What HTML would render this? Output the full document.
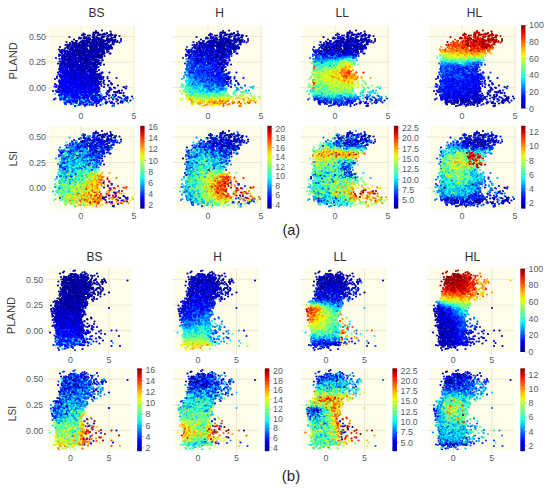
<!DOCTYPE html><html><head><meta charset="utf-8"><style>html,body{margin:0;padding:0;background:#fff;}svg{display:block}</style></head><body><svg width="550" height="488" viewBox="0 0 550 488" font-family='"Liberation Sans", sans-serif'><defs><clipPath id="cB13"><rect x="430.3" y="368.0" width="84.0" height="82.0"/></clipPath><clipPath id="cB12"><rect x="303.0" y="368.0" width="84.0" height="82.0"/></clipPath><clipPath id="cB11"><rect x="175.0" y="368.0" width="84.0" height="82.0"/></clipPath><clipPath id="cB10"><rect x="47.5" y="368.0" width="84.0" height="82.0"/></clipPath><clipPath id="cB03"><rect x="430.3" y="268.0" width="84.0" height="83.5"/></clipPath><clipPath id="cB02"><rect x="303.0" y="268.0" width="84.0" height="83.5"/></clipPath><clipPath id="cB01"><rect x="175.0" y="268.0" width="84.0" height="83.5"/></clipPath><clipPath id="cB00"><rect x="47.5" y="268.0" width="84.0" height="83.5"/></clipPath><clipPath id="cA13"><rect x="430.0" y="126.0" width="86.0" height="83.0"/></clipPath><clipPath id="cA12"><rect x="303.0" y="126.0" width="86.0" height="83.0"/></clipPath><clipPath id="cA11"><rect x="176.0" y="126.0" width="86.0" height="83.0"/></clipPath><clipPath id="cA10"><rect x="49.0" y="126.0" width="86.0" height="83.0"/></clipPath><clipPath id="cA03"><rect x="430.0" y="25.5" width="86.0" height="83.0"/></clipPath><clipPath id="cA02"><rect x="303.0" y="25.5" width="86.0" height="83.0"/></clipPath><clipPath id="cA01"><rect x="176.0" y="25.5" width="86.0" height="83.0"/></clipPath><clipPath id="cA00"><rect x="49.0" y="25.5" width="86.0" height="83.0"/></clipPath><linearGradient id="jet" x1="0" y1="0" x2="0" y2="1"><stop offset="0.000" stop-color="#800000"/><stop offset="0.062" stop-color="#c40000"/><stop offset="0.125" stop-color="#ff1e00"/><stop offset="0.188" stop-color="#ff5900"/><stop offset="0.250" stop-color="#ff9400"/><stop offset="0.312" stop-color="#ffd000"/><stop offset="0.375" stop-color="#e4ff13"/><stop offset="0.438" stop-color="#b1ff46"/><stop offset="0.500" stop-color="#7dff7a"/><stop offset="0.562" stop-color="#49ffad"/><stop offset="0.625" stop-color="#16ffe1"/><stop offset="0.688" stop-color="#00c1ff"/><stop offset="0.750" stop-color="#0081ff"/><stop offset="0.812" stop-color="#0041ff"/><stop offset="0.875" stop-color="#0001ff"/><stop offset="0.938" stop-color="#0000c8"/><stop offset="1.000" stop-color="#000080"/></linearGradient></defs><rect x="49.0" y="25.5" width="86.0" height="83.0" fill="#fdfde9"/><path d="M45.5 87.6H135.0M45.5 62.1H135.0M45.5 36.6H135.0M81.0 25.5V112.0M134.0 25.5V112.0" stroke="#ece6c8" stroke-width="0.9" fill="none"/><text x="46.0" y="90.7" font-size="8.8" fill="#4f5d64" text-anchor="end">0.00</text><text x="46.0" y="65.2" font-size="8.8" fill="#4f5d64" text-anchor="end">0.25</text><text x="46.0" y="39.7" font-size="8.8" fill="#4f5d64" text-anchor="end">0.50</text><text x="81.0" y="118.8" font-size="8.8" fill="#4f5d64" text-anchor="middle">0</text><text x="134.0" y="118.8" font-size="8.8" fill="#4f5d64" text-anchor="middle">5</text><g clip-path="url(#cA00)"><g transform="scale(.5)" fill="none" stroke-width="4.48" stroke-linecap="round"><path stroke="#0024ff" d="M128 159zm1 6zm5-1zm-13 11zm8 1zm6 0zm5-5zm1 8zm13-7zm7 0zm3 4zm4 1zm11 0zm-52 13zm5-10zm10 1zm2-1zm10 4zm-33 16zm1-1zm5-1zm6-6zm8 1zm0 5zm10 0zm6-4zm5 0zm3 3zm6-2zm0 4zm12-1zm-33 14zm14-8zm7 0zm5 1z"/><path stroke="#0091ff" d="M123 190zm39 0zm19 17z"/><path stroke="#0049ff" d="M129 202zm13-4zm2 2z"/><path stroke="#0000bb" d="M209 67zm21 4zm-91 3zm20 1zm8 8zm0-2zm21 1zm2-4zm8 1zm3 3zm5 1zm4-1zm0 1zm9 0zm7-3zm13-8zm-119 22zm13-10zm1 10zm3-3zm8-4zm3-1zm2 8zm7-3zm3-6zm5 2zm6 4zm3 0zm6-5zm2 8zm3-4zm5 0zm12 4zm6 0zm11-1zm6-5zm2 1zm-103 15zm2-4zm1 3zm9 2zm4-6zm0 5zm5 0zm11 3zm6-3zm0 2zm4-2zm1-3zm0-3zm2 5zm1-2zm2 4zm1-1zm1-6zm0 6zm6-3zm5-4zm1 4zm1 3zm0-4zm0-4zm9 1zm4-1zm8 9zm0-2zm0 2zm4-7zm3-2zm-91 16zm5 4zm5-3zm2 6zm1-5zm1-2zm1 5zm0-3zm5 4zm2-1zm2 1zm1-6zm0 3zm4 2zm7-1zm2-3zm1 2zm4-4zm3 8zm3-9zm1 1zm1-1zm2 6zm0-3zm7-3zm1-1zm0 8zm1-1zm2 3zm15-11zm-83 23zm1-8zm0 5zm0 2zm3-2zm1-7zm6 6zm9-5zm5 1zm3-2zm0 7zm2-2zm3 2zm0-7zm5 9zm1-10zm2 4zm2 2zm2 4zm2-4zm0-5zm4 7zm2-8zm4 2zm2 7zm8-3zm1 2zm1-4zm2-2zm6 5zm2 1zm-76 10zm2 4zm4-5zm1 0zm2 2zm11-1zm1 5zm1-7zm4 6zm6-2zm1-6zm3 3zm0 5zm3 0zm0-1zm5-9zm1 11zm0-4zm3-7zm3 0zm5 1zm1 5zm0 5zm2-8zm3 2zm4-5zm0 4zm1 7zm2-7zm2 7zm-70 8zm5 0zm2-3zm0-3zm5 1zm3 1zm2-2zm15 1zm1-2zm1 4zm0 0zm0 1zm2-5zm1 10zm0-6zm0-3zm5 7zm0 1zm2-8zm4-1zm0 7zm5-1zm2-1zm1-1zm1 4zm1 1zm0-9zm2 8zm2 1zm0-3zm3 4zm12 0zm-63 3zm3 4zm7 0zm5 3zm12-1zm5-4zm6 6zm5-7zm5 0zm1 3zm0 2zm7-1zm0 3zm1-3zm0 1zm1 3zm3-10zm3 7zm5 1zm12-2zm-94 17zm24-11zm3 8zm29-3zm6 6zm0-11zm1 10zm7-9zm1 3zm20-2zm7-1zm-90 13zm40 4zm6-3zm5-1zm29 4zm25-3zm9 3zm-74 12zm24 5zm2-6zm54 1zm-41 9zm29-2z"/><path stroke="#00d9ff" d="M131 188zm42-1zm-34 8zm19 1zm2 5zm2-3zm15 0zm3-4zm8 3zm39-4zm-73 12zm90 1z"/><path stroke="#0001ff" d="M138 131zm8-3zm-12 5zm26 3zm7 3zm-46 12zm8 0zm1-5zm14 1zm5 3zm4-2zm1 1zm14 0zm11 1zm10-2zm-70 12zm3 2zm5-2zm0 3zm7-7zm3 8zm12-1zm2-7zm1 11zm1-7zm0 7zm2-4zm1 1zm1-3zm1 1zm2 1zm9-5zm2 2zm0 6zm-48 3zm2 3zm0-2zm4 4zm0-1zm0-4zm4 7zm1 2zm0-9zm3 1zm0 3zm0 2zm5-4zm1 2zm2 0zm1 4zm0-3zm3-4zm0 7zm1-9zm2 8zm0-1zm5-2zm2-3zm2 3zm1-1zm0 1zm17 2zm9 0zm0-5zm-69 15zm2 4zm2-7zm3 2zm3-3zm2 6zm1-4zm0-1zm2 7zm0-2zm1-2zm1 2zm0-3zm0 3zm1 4zm5-10zm2 0zm2 2zm2 7zm0-1zm3-3zm1-3zm1-1zm5 4zm2 3zm1-9zm6 0zm11 8zm10-1zm5-7zm-65 19zm1-4zm0 1zm3 2zm2-4zm4-2zm1 3zm0 0zm2 2zm0 1zm3-3zm4-2zm1 8zm2-1zm0 3zm1-5zm1-4zm5 1zm1 4zm0-6zm1 4zm1 4zm0-6zm0 6zm2 1zm5-5zm7-5zm1 3zm4-1zm4 3zm8-3zm41 9zm4-9zm-90 11zm20 4zm13-4zm2 0zm46 2z"/><path stroke="#16ffe1" d="M180 188z"/><path stroke="#00b5ff" d="M167 190zm2 1zm26 11zm71-5zm-21 7z"/><path stroke="#0000e3" d="M179 76zm50 7zm-75 11zm-22 8zm3 0zm17 0zm20-1zm-60 15zm6-7zm16 9zm1 0zm7-1zm1 1zm3 1zm3-2zm2-4zm6 6zm4-7zm18 0zm-60 11zm10 5zm4 2zm3-9zm4-1zm7 11zm13-1zm2-3zm13-6zm3 5zm4-6zm13 2zm3 5zm-78 6zm7 8zm2 1zm1-4zm0-2zm1 6zm2-9zm0-1zm6 4zm1-2zm1 4zm7 5zm2-8zm3 8zm4-3zm3 0zm0 3zm3-7zm4 6zm7-7zm1 0zm5-2zm1 7zm4 1zm-59 5zm3 4zm1 1zm4 1zm2 2zm0 1zm1-7zm1-4zm1 5zm1 4zm2-1zm0-4zm1-3zm0 9zm5-1zm2-2zm3-5zm0 0zm0 4zm1 3zm3-1zm1-5zm0 1zm2 1zm2 0zm1 6zm1-7zm1 1zm0 0zm15 4zm4-6zm17 4zm-82 14zm3 0zm5-6zm1 8zm1-11zm1 0zm4 6zm0-1zm0 6zm2-7zm4-2zm1 3zm0-5zm5 7zm1-6zm1 10zm1-4zm2 2zm0-8zm1-1zm1 8zm1-5zm9-3zm0 2zm1 2zm2 7zm0 0zm1-7zm0 4zm1-2zm2-4zm4 6zm0 1zm1-2zm4-7zm11 4zm17 6zm11-4zm-98 8zm1 2zm2 2zm4 3zm3-1zm8 3zm7-6zm0 3zm1-3zm3-1zm1-3zm2 7zm1-7zm4 4zm1 4zm2-2zm1 0zm1-7zm3 3zm1-2zm10 1zm0 3zm1 4zm3 2zm1-7zm0 1zm2-2zm0-3zm2 9zm0-6zm2 8zm0-2zm2 0zm1 2zm0-8zm1 6zm4-1zm2-2zm1 1zm25 4zm7-3zm-124 6zm20-2zm1 3zm3 7zm4-7zm0-2zm2 0zm2 9zm1-3zm2-4zm5 3zm1-3zm0 6zm3-6zm1 3zm1-2zm1 1zm4-2zm8-2zm6 8zm4 1zm4 0zm1-1zm0-7zm5 0zm0 5zm0-3zm1 3zm3-2zm0-1zm6 1zm19 4zm1-2zm4-7zm19 1zm6 0zm-136 18zm16-5zm11 8zm5-10zm1 5zm7-4zm2-1zm9 3zm17 2zm1 3zm3-6zm14 5zm2-3zm2 6zm3-5zm0 2zm7-5zm3 5zm7-2zm31 4zm1-2zm-102 6zm38 5zm8-6zm20 1zm8 1z"/><path stroke="#000092" d="M164 70zm12 1zm12-1zm3-3zm1-5zm4 4zm5 3zm3-8zm7 8zm-50 7zm10-1zm4 5zm13-6zm0-2zm17 7zm2 2zm0 0zm2-8zm0 8zm5-2zm2-7zm5 6zm-90 12zm4-1zm5 0zm3 4zm1-1zm1 0zm2-5zm0 3zm6-3zm4 5zm6 2zm1-10zm1 2zm4 6zm3 2zm1-1zm0-6zm4-3zm3 1zm1 5zm2 1zm1-6zm0 10zm1 0zm1-10zm1-1zm3 4zm4 7zm0-3zm7-6zm1 3zm3-5zm1 2zm2 8zm0-6zm1 7zm2-3zm2 2zm5-9zm5 10zm4-7zm0-3zm-100 17zm7 5zm8-1zm5-1zm0-6zm0 2zm17 3zm0-1zm1-1zm1-6zm1 0zm1 3zm1 5zm1 2zm1-5zm3-3zm3 8zm1-1zm4-7zm0 0zm2 8zm0-8zm2 5zm6 2zm8-2zm0-6zm0 1zm1-1zm3 3zm3-1zm10 4zm4 4zm-96 4zm3 0zm7-1zm4-2zm10 4zm1 0zm10-4zm8 2zm1 8zm1-5zm3-1zm2 7zm0-1zm3-8zm1 9zm2-10zm3 7zm0-2zm7-2zm0-3zm5 5zm3 2zm4-4zm1-1zm2-3zm3 4zm-83 14zm15-1zm10 0zm8-3zm0-1zm4 5zm2 1zm9 2zm1-6zm8 1zm7 3zm5-3zm1-4zm2 5zm7-4zm-80 16zm48-4zm8 2zm0 1zm2 5zm8-6zm0-2zm1 4zm-26 10zm16 2zm7-4zm5 8zm0-2zm-38 7zm2 1zm31-1zm4 2zm-22 18zm6-4zm17 3zm55 22z"/><path stroke="#000092" d="M180 71zm7-3zm5-3zm4 0zm3 4zm15-3zm4 4zm3-7zm-67 19zm11-1zm1 2zm5-1zm2-4zm5 1zm1-1zm1 1zm5-5zm3-1zm1 3zm2 4zm1 2zm6-5zm2 5zm1-2zm1 3zm0-5zm6 3zm6-4zm1-4zm0 6zm1 4zm0-5zm9 4zm3 1zm0-8zm2-1zm1 5zm4 3zm7-4zm-106 14zm1 2zm8-5zm1-2zm1 0zm2 3zm3 2zm0 3zm1-5zm0-6zm5 7zm6-2zm2 1zm0-5zm1 5zm4 3zm1-6zm1 8zm8-10zm0 9zm1-4zm1-1zm0 3zm2 3zm1-10zm3 3zm3 5zm2-8zm0 5zm1 0zm0-5zm3 6zm0 1zm3-7zm0 0zm1 4zm2 6zm1-11zm0 11zm1-4zm1-7zm2 11zm2 0zm0-7zm5 3zm9-7zm4 0zm-108 20zm9 0zm2 2zm4-9zm1 9zm6 1zm2-11zm2 3zm0-3zm1 7zm2 4zm0-5zm1-2zm4 3zm8-2zm3 1zm1 4zm4-7zm9-3zm2 3zm1 5zm3-2zm0-5zm3 8zm3-4zm1 2zm10-3zm3 2zm10-4zm1 1zm1-1zm-92 16zm3 0zm14-5zm6 1zm2-2zm4 7zm2 2zm9 0zm3-3zm5 4zm0-9zm2 7zm5-1zm8-7zm0 11zm2-10zm7 2zm-70 11zm1 4zm1-5zm9 1zm1 2zm3 5zm6-2zm13 4zm3-2zm0 2zm2-2zm5-1zm3-3zm17 5zm1-10zm1 3zm0 2zm-66 12zm26 1zm10 1zm11-7zm17 5zm0 0zm-45 12zm54 5zm2 1zm2-10zm-5 19zm22 2zm-51 2zm65 39z"/><path stroke="#0000bb" d="M170 69zm44-2zm7 4zm-60 6zm10 5zm2-8zm4 3zm0 6zm11-1zm1-10zm7 6zm24 2zm-75 4zm8 7zm7 3zm5-2zm1-1zm2 0zm0-5zm5 2zm1 3zm2-7zm3 3zm0 5zm4-7zm1 5zm0 0zm1 2zm0-8zm1 8zm1-1zm2 4zm7-6zm3-4zm7 9zm4-1zm2-2zm8 2zm-102 6zm5 4zm5-2zm1 2zm1 4zm6-2zm1-2zm11 2zm1-4zm1 1zm1-2zm1 0zm0 2zm0 2zm2 1zm0-9zm9 9zm1-3zm17 3zm3-4zm2 4zm1-5zm0-4zm2 6zm2 0zm0-2zm5 7zm8-11zm4 11zm1 0zm15-10zm-100 21zm0-3zm3 4zm1-1zm1-6zm5-3zm4 8zm0-5zm1 2zm1 1zm0-3zm2 4zm2-5zm0 4zm1 4zm1-11zm1 9zm0-6zm9-3zm2 7zm1-3zm0 7zm4-4zm1 3zm1-7zm1 0zm2 7zm2-1zm1-8zm2 4zm0 1zm1-2zm1 0zm1 2zm2 5zm1-6zm3 0zm2-4zm4 6zm0-4zm1 6zm4-3zm0 4zm2-4zm0-1zm2-2zm3 5zm2-3zm-79 11zm3 0zm2-4zm0 2zm4 5zm3-5zm0 3zm1-2zm1-3zm1 11zm1-6zm2-3zm2 9zm1 0zm0-6zm5 3zm2 3zm1-11zm0 7zm3 4zm3-8zm6 8zm9-3zm2-1zm4 4zm6-3zm1-3zm4 0zm1-4zm1-1zm2 9zm0-9zm1 8zm4-7zm-80 22zm1-7zm2 5zm0-9zm1 0zm2 11zm7-11zm0 6zm14-1zm0-2zm1 4zm4-6zm8 0zm0 0zm6 1zm1 8zm2-2zm1-5zm0 0zm1 7zm5-2zm1-2zm2 3zm0-7zm6 7zm1-9zm1 8zm1-8zm2 3zm1 4zm1 1zm1-8zm0 6zm1-5zm1 2zm-73 9zm0 5zm8-5zm4 6zm0-5zm1 1zm3-2zm0 10zm2 0zm2-6zm1 5zm7 1zm2 1zm7-4zm3-4zm1 0zm1 8zm3-9zm7 3zm0 3zm0-5zm8-2zm0 3zm1 4zm0-8zm6 4zm1 5zm1-1zm0 2zm0-1zm2-3zm3-2zm3 3zm21-6zm-58 12zm5 7zm11 3zm4-1zm1-7zm0 7zm2-10zm3 0zm3 2zm0 5zm2-1zm2-6zm0 3zm-74 9zm35 0zm5 6zm22-5zm6 8zm14-9zm1 4zm-34 11zm0-3zm9 6zm9 1zm3-4zm1-3zm24 2zm3 2zm16 1zm-33 12zm4-2zm38 2zm0 5zm-15 9z"/><path stroke="#00b5ff" d="M187 188zm-53 7zm26 5zm1-8zm0 0zm5 0zm17 5zm0-3zm-9 16z"/><path stroke="#0001ff" d="M139 117zm-5 12zm-11 10zm3-3zm2-3zm4 8zm2-2zm2 2zm17 2zm2-1zm-34 10zm3-7zm3 1zm5 6zm0-6zm2-1zm1 6zm2 3zm9-6zm0-2zm21 9zm19-1zm-72 2zm5 7zm3 0zm1-7zm4 6zm1-2zm2-1zm4 3zm2-4zm1 2zm1 6zm1-1zm1-9zm5 8zm0-4zm1 2zm0-1zm4 1zm4-6zm1 3zm1-1zm7 4zm0 3zm7-6zm2 1zm1 5zm4-3zm-68 11zm4 1zm11-4zm1-1zm1 9zm1-6zm0 2zm4-6zm1 7zm1 0zm0-4zm2-2zm2 8zm3-9zm0 5zm1 0zm0-3zm1-2zm1 6zm1-5zm2 10zm1-7zm0-1zm5-1zm1 2zm1 1zm1 1zm0 5zm1-8zm3 4zm1-7zm0 8zm2 1zm1-8zm3 0zm3 8zm6-6zm2-2zm0 2zm1-2zm4 5zm0 4zm2-3zm9-3zm26 3zm5-7zm-101 12zm4 3zm0 2zm1-3zm4 4zm3 1zm0-6zm3 10zm0-4zm6-5zm1 9zm0-1zm6-5zm1 0zm0 1zm2 3zm0-3zm0 5zm2-9zm1 4zm5-6zm1 5zm1-3zm1 3zm4-2zm1-3zm3 2zm8 3zm0-1zm1-4zm3 7zm4-3zm2 7zm-72 1zm4 1zm3 5zm4-2zm0 4zm1-4zm3-3zm3 10zm4-7zm2 4zm0-5zm3 7zm4-8zm10 5zm1-5zm0 2zm1 4zm1-6zm3 1zm3 4zm1 1zm0-4zm4 5zm1-8zm0 2zm3 7zm9-1zm7-2zm0 0zm-52 6zm0 3zm9-3zm8 3zm8-2zm1-2zm2 8zm13-3z"/><path stroke="#00d9ff" d="M177 191zm-17 8zm1-6zm3 1zm25 1zm-42 11zm29 1z"/><path stroke="#0049ff" d="M157 179zm-1 2zm4 23z"/><path stroke="#0000e3" d="M195 71zm10 4zm-11 11zm-74 16zm59 4zm24-2zm-74 8zm3 5zm4-4zm4-5zm46 5zm-60 13zm1 0zm4 3zm1 2zm3-5zm1 0zm3 5zm2 0zm8-3zm4-1zm1 4zm14-11zm1 4zm6-1zm3 8zm7-3zm-67 10zm12-5zm1 7zm3-4zm2-4zm3 0zm1 5zm2 0zm2 4zm5 1zm8-5zm14 0zm12 0zm3 5zm-72 11zm2-8zm1 4zm2 0zm5 5zm6-5zm3 4zm2-9zm0 1zm2 7zm2-5zm0 4zm0-3zm1 0zm0 3zm5-7zm0 4zm1 2zm2 3zm2-3zm0 3zm0-1zm2-1zm0-3zm3-2zm1 2zm2 7zm3-9zm0 8zm1-6zm6 0zm2 6zm0-2zm1 0zm1-5zm0 6zm2-4zm2 1zm2 3zm0-9zm1 5zm3 2zm1-4zm2 3zm3-4zm1 8zm1-8zm-67 17zm1-4zm4-1zm0 9zm1-2zm3-6zm5-3zm3 10zm5-10zm4 6zm2-2zm1-1zm2 8zm2-7zm2 7zm1-5zm2 1zm1-4zm0 2zm1-5zm3 0zm1 9zm0-5zm2 0zm7 3zm2 1zm1 3zm1-11zm1 3zm1 1zm2-4zm2 4zm3 4zm0 2zm14-7zm3-2zm2 4zm-84 14zm2 3zm0-9zm2 9zm1-6zm5 0zm3 7zm1 0zm7-3zm0 3zm0-2zm2-4zm1 4zm3-2zm1-6zm1 10zm0-3zm1 2zm2-7zm0-2zm0 1zm6 5zm5 1zm2-4zm0-2zm2 5zm0 1zm1-2zm0 5zm3-1zm5 0zm6 0zm1-3zm1 0zm2 1zm3 2zm2-2zm0-4zm1-2zm20 1zm-87 15zm2-1zm1 1zm9 4zm3-7zm1 5zm3-1zm1 2zm1-4zm2 6zm2-9zm0 8zm0-8zm2 8zm4-2zm1-6zm0 5zm3 2zm3-6zm1 6zm9-9zm0 0zm1 5zm2-5zm2 5zm2-5zm2 11zm4-4zm7-5zm2 8zm20 1zm0-10zm-97 12zm3 3zm21 0zm10-4zm0 4zm4 3zm2 1zm7-8zm1 5zm6 0zm7-1zm4 4zm2-6zm1 8zm0-10zm0 9zm11-8zm18 10zm7-4zm23 0zm2 1zm1-4zm-113 9zm51 0zm11 5z"/><path stroke="#0024ff" d="M131 147zm4 5zm0 1zm1 12zm5-4zm-15 8zm-3 14zm3-3zm3 5zm4-4zm8 3zm3-3zm7 1zm18 4zm4 5zm6-8zm-46 19zm5-4zm0-5zm2 7zm5-3zm1 1zm2 2zm4-1zm4-3zm6 2zm26 1zm14 3zm-72 5zm13-1zm18 3zm2-2z"/><path stroke="#00d9ff" d="M110 188zm71 3zm8-1zm13-3zm-81 6zm2 4zm1-3zm6-1zm33-1zm15 2zm1 1zm74 5zm-48 8z"/><path stroke="#0049ff" d="M134 187zm11 9zm2 5zm18 0zm-36 4z"/><path stroke="#0000e3" d="M224 77zm-56 14zm14-5zm-36 16zm15-3zm9 1zm12-2zm5 2zm17-2zm-78 17zm7-7zm5 11zm2-2zm5 1zm6-3zm10 4zm1-7zm11 0zm-51 16zm9-7zm0 8zm2 2zm4-7zm4 4zm0-8zm2 9zm4-3zm1 5zm0-6zm0-1zm14 4zm5-4zm0 0zm1-3zm0 3zm3-4zm1 2zm0 9zm29-1zm1-5zm-82 16zm2 1zm1-10zm1 3zm2 5zm0-5zm4-1zm3 5zm1 3zm1 0zm4-5zm1 5zm0-1zm5-9zm2 2zm0 1zm2 0zm2 4zm1 0zm1-4zm4 1zm2-2zm2 5zm1 0zm3-2zm2-2zm0 0zm5 2zm5-3zm4 3zm1 1zm1 3zm0-1zm6 2zm1-5zm2-1zm5-2zm-75 15zm4 2zm4-3zm3 3zm0-7zm1 4zm1-1zm1-3zm3 11zm6-7zm2 3zm0-4zm4 6zm3-7zm2 9zm1-6zm1 5zm1-2zm0-6zm5 7zm1 1zm6-2zm1-2zm1-4zm1 7zm0-6zm3 8zm7 0zm0-9zm1-1zm2 4zm12 1zm1 5zm-90 3zm14 2zm4 3zm2-7zm0 8zm2 2zm5-3zm3 2zm2-6zm0 0zm3-1zm2 9zm0-5zm3-4zm1-1zm2 2zm2 0zm1-3zm0 5zm4 2zm3 1zm4-2zm3-4zm1 1zm2 2zm1 2zm1-2zm1-5zm4 7zm1-7zm0 5zm1 0zm1 4zm7-9zm1 1zm2 2zm7-1zm-82 16zm12-2zm4 1zm3 3zm9-4zm1 1zm2 0zm9-1zm4 2zm0-3zm2 6zm1-4zm1 3zm1-5zm1 7zm2-7zm1 5zm0-8zm2 7zm1-2zm1-4zm6 4zm1 5zm0-6zm1-4zm2 5zm5-2zm1-1zm0-2zm2 9zm28 0zm32-4zm-140 10zm1 1zm2-1zm2 7zm5-10zm3 10zm2-8zm2 0zm1-2zm0 6zm5-1zm14-5zm4 6zm2-1zm2-1zm1 1zm13 0zm5 0zm11 6zm0-11zm1 5zm1 4zm4-2zm0 1zm9 3zm-68 4zm0 1zm0 6zm9-10zm5 6zm20-1zm9-5zm6 1zm2-1zm0 9zm1 2zm4-1zm22 1zm14-7zm3-3zm3 5zm12 5zm10-9zm9-1zm-100 11zm7 5zm22 3zm29-6zm2 0zm0-2z"/><path stroke="#000092" d="M166 70zm21-1zm0-4zm0 5zm0-1zm12 1zm6-1zm-61 14zm4-4zm10-2zm3-1zm1 7zm5-7zm3 1zm1-1zm2 6zm1-4zm1 4zm5-4zm13 1zm0-5zm1 2zm4 5zm5-2zm0 1zm4 2zm10-5zm3 3zm2 0zm1-2zm1 2zm3 3zm3-3zm-95 12zm5-6zm8 2zm7 1zm2-1zm3 2zm2 1zm0 2zm3-5zm1-3zm6 5zm1-4zm1 3zm1-3zm1-1zm3 0zm0 7zm1-5zm0 7zm4 0zm1-9zm3 7zm0-1zm3 3zm9-2zm1-3zm1 3zm3-6zm1 3zm7-1zm1 4zm0-6zm1 3zm2 5zm17-10zm5 1zm-117 20zm20-8zm0 3zm0 1zm1-3zm0 3zm2-2zm2 1zm4 0zm1 2zm1-6zm1 6zm2-3zm1 7zm2-10zm1 6zm2 2zm0-7zm3 5zm1 2zm1 3zm3-3zm1-8zm0 2zm5 2zm1 5zm4-6zm1-3zm1 4zm5 4zm9-5zm9 0zm1 1zm0-4zm0 10zm4-10zm3 4zm5 7zm-87 10zm2-5zm1-3zm8 3zm14 7zm4-7zm4-4zm5 4zm2 4zm2 3zm5-1zm4-4zm3-5zm6 5zm8-5zm4 4zm-66 8zm11 0zm3 3zm9 1zm10-4zm2 6zm4 0zm5-3zm5 7zm7-1zm11-10zm-41 23zm1-1zm5 1zm4-6zm8-1zm2 3zm3-7zm-35 18zm21-6zm14 6zm3-6zm5 5zm-17 30zm11-7zm2 6zm5-3zm39 8zm12 8zm14 10z"/><path stroke="#0001ff" d="M179 111zm-57 19zm16-2zm-18 10zm5 3zm0 0zm5-5zm11 3zm18-1zm-37 15zm3 0zm1-6zm1 6zm14 1zm1-4zm0-6zm2 9zm0-7zm3 4zm6-6zm12 10zm7-9zm-48 15zm2 7zm1-5zm2 4zm4-2zm4-3zm7 4zm8-5zm3-2zm5 9zm1-6zm5 6zm2-9zm8 6zm4 1zm-63 12zm7 0zm1-6zm4 2zm6-3zm2 0zm3 3zm1 3zm1 1zm2-5zm2 4zm0-7zm1 3zm3 2zm0-6zm2 11zm6-11zm1 4zm1 1zm0 3zm1-5zm0 8zm3-8zm1 7zm0-7zm3 2zm2 0zm2-4zm3 0zm3 6zm3 3zm0-2zm6 3zm-68 3zm0-2zm2 1zm2 4zm5 6zm0-5zm1-3zm1 5zm1-1zm0 1zm10-5zm1 7zm2 1zm1-3zm1-6zm0 0zm3 5zm1-5zm1 3zm2-4zm0 6zm4-4zm3 8zm3-7zm1 7zm1-7zm1 4zm1 3zm1-11zm0 0zm2 0zm3 11zm5-6zm2 4zm2 1zm4-6zm1-4zm5 4zm3 1zm4-2zm27 7zm-115 7zm20 1zm1-4zm3 1zm14 6zm5-7zm4-2zm1 2zm5 3zm0-1zm7 4zm0 3zm2-7zm0-4zm1 0zm2 3zm6 0zm1 4zm0-1zm3 0zm2 3zm4 1zm12-3zm45-7zm6 5zm-124 8zm29 2zm19-2zm5 0zm2-1zm1 3zm11-3z"/><path stroke="#00b5ff" d="M126 189zm33 1zm34 0zm-60 8zm42 6zm11 0z"/><path stroke="#0000bb" d="M165 83zm4-2zm0 1zm19-10zm19 2zm8-2zm2 7zm-78 12zm7-3zm4 5zm1-6zm5 7zm2 0zm5 0zm4-3zm1 0zm0 3zm4-3zm2-2zm3 2zm4 3zm1-1zm1-5zm2-2zm1 5zm8-5zm19 3zm-76 8zm2 7zm3-4zm1 7zm1-9zm1 7zm7-8zm1 10zm0-9zm4 3zm2 4zm3-3zm2 2zm5 0zm11 0zm1-3zm5-2zm2 4zm5-6zm2 5zm1-4zm0 7zm4-8zm1 6zm4-1zm-86 16zm2-8zm6 1zm1 7zm0-7zm0 6zm9 0zm3 1zm2-7zm2 3zm2 1zm2 0zm2 0zm0-1zm0 3zm13-1zm0-2zm7-3zm8 4zm0-7zm1 2zm3 2zm3 5zm1-8zm1 3zm3 1zm2-5zm0 2zm6 2zm-77 16zm1 2zm6-8zm2 7zm3 1zm1-1zm0-9zm0 10zm3-7zm0 5zm12-1zm4-6zm2 8zm5 2zm1-11zm1 2zm7-2zm5 4zm3 7zm1-8zm0 3zm2 1zm0-3zm0-1zm3 5zm3 1zm4 0zm0-6zm0-2zm6 0zm12 8zm-81 11zm8-5zm5 6zm0 0zm1-1zm1 0zm1-6zm13 3zm2 3zm0-6zm4 1zm1 6zm0-4zm4 4zm1-8zm3 0zm4 0zm2 1zm4 7zm0-4zm3 6zm4-4zm-56 11zm7-3zm3-1zm2 0zm2 6zm0-8zm2 1zm5 2zm5 5zm1 0zm2-3zm0-5zm1 4zm1 2zm7 2zm2-3zm1 1zm2-2zm4 7zm3-3zm1 0zm2 0zm6-6zm0 1zm5 2zm7 4zm12 1zm-72 3zm7-1zm15 6zm1-3zm1 6zm0-9zm2 6zm1-3zm1 8zm2-11zm1 6zm9-2zm2-1zm0 4zm4-7zm1 5zm3-1zm1-3zm1 7zm1-2zm2-6zm1 1zm4 1zm12-1zm-88 20zm18-8zm13-1zm10 6zm2-3zm2-2zm4 8zm2-6zm4 4zm2-6zm5 8zm0-3zm2-6zm3 2zm1-1zm4 8zm0-9zm9 6zm12 2zm16-5zm13 4zm-64 8zm5 7zm0 0zm1 0zm5 1zm32-7zm4 7zm-25 4zm29 5zm-43 8z"/><path stroke="#0024ff" d="M170 155zm-38 7zm3 5zm21-4zm9-4zm-41 18zm18-2zm2-4zm15 6zm6-9zm17 11zm6-2zm-76 4zm14 4zm2 4zm2-2zm6-6zm3-1zm18 1zm0 7zm30-4zm1 4zm-68 9zm15-2zm2-2zm1 2zm0 2zm5-1zm2 5zm4 0zm6 0zm6-5zm3 2zm3-6zm6 10zm17-6zm-59 10zm4-2zm23 6z"/><path stroke="#0091ff" d="M137 190z"/><path stroke="#16ffe1" d="M141 191z"/><path stroke="#0000e3" d="M176 78zm66 4zm-76 5zm23 6zm18 2zm-83 12zm25-6zm4 3zm-35 8zm5 5zm1 1zm5-5zm15-3zm1-1zm0 5zm3 1zm3-2zm-35 14zm8-3zm2 6zm0-9zm5 6zm7-7zm5 3zm1 3zm0-5zm4 7zm2-7zm3 1zm0 1zm2-2zm0 6zm1 0zm2-7zm11 5zm6 1zm10 2zm-61 14zm15-6zm1 4zm0-1zm3 3zm2-5zm1 1zm1 3zm15-8zm1 9zm5-8zm7-2zm7 5zm1 1zm0-1zm1 2zm-64 13zm1 3zm1-3zm3-7zm2 6zm1 3zm3-3zm1-6zm4 1zm4 5zm7-4zm3-3zm1 3zm6 5zm1 1zm3-1zm3-2zm3-4zm3 4zm2 3zm12-3zm2-1zm2 0zm-68 13zm2 5zm1-11zm1 4zm0 5zm2-5zm1 2zm2-2zm3 1zm1 2zm1 1zm3 1zm1-3zm4 1zm3 4zm1-2zm2-2zm1-3zm5-1zm0 1zm1 6zm5-4zm2-3zm2 4zm2 4zm2-2zm2-5zm2-2zm3 6zm1-2zm0-2zm2 4zm3-2zm0 1zm0-2zm0 3zm1 3zm1-7zm1 4zm1-5zm1 6zm0 0zm0-1zm1-4zm2-3zm1 4zm2 3zm7-6zm1 0zm-90 10zm3 2zm4 2zm2 4zm3-2zm3 4zm0-5zm5 4zm1-7zm0-2zm5 11zm1-11zm1 8zm0 2zm3 0zm1-10zm5 9zm1 0zm1 0zm1-4zm1 6zm2-9zm3 7zm3 0zm1-2zm12 2zm2-7zm1 1zm0-2zm1 3zm2 0zm1-3zm3 10zm2 0zm0-2zm1-5zm3 5zm1-4zm0-3zm1 6zm1-6zm2 1zm3 0zm2 8zm54-2zm-135 6zm3-3zm3 11zm0-5zm2-6zm0 10zm1-8zm4 1zm7-1zm1 3zm0-2zm4 7zm0-10zm3 0zm6 4zm1 1zm4 6zm16-10zm0 6zm1 2zm2-5zm1-1zm6 2zm5-5zm2 7zm3 4zm7 0zm19 0zm13-6zm-106 7zm3 1zm7 2zm5 8zm4-8zm3 1zm22-2zm0 7zm1-9zm2 10zm13-8zm6 1zm5 7zm2-2zm10-3zm4-4zm11 2zm10 3zm10 4zm10-5zm-57 9zm15-1zm14 7zm1-1zm19-6z"/><path stroke="#00b5ff" d="M169 188zm35 3zm-84 4zm2 1zm8 6zm7-9zm4 4zm28 5zm3-3zm23-6zm2 4zm29-2zm18 5zm3 0zm-116 4zm1 5zm14-1zm35-2zm46 6z"/><path stroke="#0001ff" d="M123 123zm41 5zm-41 15zm37 0zm16-2zm2-1zm3-4zm-57 14zm0 2zm12 3zm3-3zm3-4zm14 5zm10 2zm6-8zm6 8zm8-7zm-68 15zm0-1zm3 4zm1 0zm4-3zm2-2zm1 3zm1-1zm2-5zm1 2zm3 2zm1-6zm1 6zm1 4zm4-1zm5-1zm3-2zm0 0zm2 0zm2 1zm1-4zm2-2zm4 4zm1 1zm0-4zm1 4zm5 1zm9-5zm3 8zm17-3zm-87 10zm5 6zm6-7zm1 1zm1 6zm1-6zm1 3zm1-5zm1 3zm0-5zm1 7zm1-5zm1 5zm1 0zm2-8zm0 7zm1-1zm3 1zm5-4zm3 8zm3-11zm1 2zm3 0zm0-2zm2 3zm2 1zm2 7zm0-1zm4-6zm1 1zm0 4zm5 1zm4-9zm0 3zm9 5zm1-1zm4-1zm-71 9zm8 5zm2-7zm4 7zm1-6zm1 0zm0 2zm1 4zm0-8zm1 6zm3 4zm5-6zm1-3zm0 4zm1-5zm1 1zm1 6zm4-4zm0 6zm5-5zm2-4zm3 2zm2 0zm5 1zm3-2zm0 8zm0-2zm1-3zm0 1zm9-2zm14-2zm3-1zm-75 16zm8-3zm2 1zm3 1zm0 7zm8-11zm4 9zm0 2zm3-11zm2 3zm2 5zm0 3zm6-6zm7 0zm5 5zm4-9zm11 0zm3 10zm0-11zm1 7zm3 0zm46-4zm-109 11zm0 2zm42 1zm1-1zm6-4z"/><path stroke="#000092" d="M167 67zm23-2zm15 5zm2-1zm2-1zm10 3zm3-1zm0-3zm3 3zm7 1zm-80 11zm16-9zm9 2zm2 7zm5-2zm2-7zm1 5zm0 5zm2-1zm0 0zm8-3zm1 4zm0-7zm0 2zm3 3zm2-7zm2-1zm8 8zm1-1zm1 1zm1-4zm14-3zm-92 17zm3 4zm9-9zm2-2zm4 6zm3-4zm1 6zm5-4zm2-2zm1 9zm2-6zm0 3zm1-5zm0 0zm2 5zm7 2zm1-8zm7-2zm3 6zm1 3zm1 2zm0-5zm1-6zm3 5zm2-2zm1-3zm0 3zm2 1zm0 4zm1-3zm0 0zm1-2zm1 1zm1 5zm0-5zm1 0zm2 1zm9 6zm3-2zm3 2zm-90 7zm12-6zm10 11zm1-8zm1 3zm2 2zm3-1zm1-1zm1-6zm0 6zm1-2zm2 7zm3-9zm1 7zm5 2zm4-11zm3 2zm4 2zm0 3zm0-7zm2 11zm1-7zm0-3zm3 10zm2-5zm1 5zm0-1zm1-3zm2-3zm0-4zm0 7zm7-3zm2 7zm5-3zm0-6zm3 0zm5-1zm-92 16zm1 4zm0-4zm9 5zm1-5zm0-3zm5 0zm3 2zm2 5zm6-6zm1-1zm1 5zm2-6zm1 10zm5-3zm6 1zm3 1zm14-4zm1-6zm3 3zm1-3zm0 1zm2 6zm1-1zm0 0zm1-4zm3 3zm2 3zm-78 9zm9-3zm1 6zm3-3zm2-5zm9 4zm4 2zm0 1zm13-3zm2 0zm3 0zm3 7zm3-3zm4 0zm4-8zm3 5zm2-5zm-42 14zm11 3zm0-1zm9-3zm2 6zm1-1zm6 4zm2-6zm5 6zm-18 13zm15-3zm13 2zm4-4zm-32 6zm14 4zm52-4zm-38 12zm48 35z"/><path stroke="#0000bb" d="M187 69zm9 1zm26 1zm8 0zm-65 12zm26-4zm1 3zm1-4zm1 2zm9-2zm5 5zm10 0zm5-8zm7 7zm-85 11zm0-2zm1 4zm9-2zm16-4zm0 3zm1 1zm0 1zm1-6zm8 6zm5-5zm4 5zm1-10zm4 3zm7-3zm1 2zm0 2zm0 3zm5-4zm5 3zm4 1zm1 2zm1-9zm2 7zm1 3zm0-4zm-99 10zm6-1zm2-3zm9 3zm0 3zm2-4zm4 9zm1-3zm1 1zm6 0zm6-6zm3 5zm0-8zm4 9zm1-5zm0-3zm1 6zm3 0zm3 0zm3-1zm3 5zm1-1zm7-3zm3-1zm1-2zm2-3zm3 7zm4-2zm4 2zm9-8zm2 3zm-89 10zm5-1zm2 4zm3 4zm1 3zm0-9zm1 1zm5 1zm1-4zm5 9zm3-6zm1-2zm4 7zm1-2zm2-2zm1-1zm0 7zm1-5zm0 0zm12 4zm2-3zm1 5zm2-8zm3 6zm3 2zm1-3zm0-2zm0-4zm4-2zm3 5zm2-1zm-74 18zm6-6zm1 6zm2 1zm6-8zm1 5zm3-7zm0 3zm0 4zm4 3zm0-4zm2 4zm0-3zm4 3zm4-5zm6 2zm1-8zm0 11zm1-6zm1 1zm2-6zm1 7zm4 4zm6-4zm3-1zm7 0zm0-6zm6 1zm6 5zm1 0zm-75 13zm7-7zm1 0zm3 11zm0-1zm2-10zm3 7zm3 3zm1-7zm1 8zm2-3zm2-8zm0 9zm6-8zm3 2zm0-1zm0 3zm2-3zm1 6zm0 3zm1-9zm2 7zm3-1zm2-4zm1-1zm4 7zm3-2zm2-6zm2-1zm0 6zm3 4zm0-1zm1 1zm0-9zm4 4zm7 2zm-62 13zm0 1zm8-2zm2-8zm3 4zm0 3zm1-2zm11 6zm2-11zm2 10zm3-6zm0-2zm1 8zm10-1zm4 1zm0-3zm1-6zm0 8zm1-2zm1 1zm0-6zm0 3zm2 5zm1-7zm1 1zm0-2zm3 7zm5 1zm2-7zm3 0zm1-2zm3 9zm-68 10zm10-5zm8-3zm5 8zm11 3zm2-6zm1-5zm6 1zm1-1zm1 6zm1-6zm4 4zm2 5zm5-8zm-35 12zm3 0zm13 8zm7-9zm0 0zm5 6zm9 2zm11-7zm19 6zm19-1zm-65 12zm2 0zm8-6zm5 10zm34-6zm0 5zm8-3zm3 0zm-49 10zm7-3zm52 2zm2 7zm-57 4z"/><path stroke="#00d9ff" d="M188 188zm-62 4zm8 5zm29 2zm3 2zm-12 10zm103-6z"/><path stroke="#0049ff" d="M146 198zm6 1z"/><path stroke="#0024ff" d="M128 138zm-6 41zm14-10zm14 9zm23 0zm15-4zm-56 17zm14-6zm2 0zm10 0zm7 6zm-43 6zm45-5zm-36 14zm19 6zm3-6zm8-1zm1 0zm17 5z"/></g></g><text x="96.6" y="16.8" font-size="12.0" fill="#303030" text-anchor="middle">BS</text><rect x="176.0" y="25.5" width="86.0" height="83.0" fill="#fdfde9"/><path d="M172.5 87.6H262.0M172.5 62.1H262.0M172.5 36.6H262.0M208.0 25.5V112.0M261.0 25.5V112.0" stroke="#ece6c8" stroke-width="0.9" fill="none"/><text x="208.0" y="118.8" font-size="8.8" fill="#4f5d64" text-anchor="middle">0</text><text x="261.0" y="118.8" font-size="8.8" fill="#4f5d64" text-anchor="middle">5</text><g clip-path="url(#cA01)"><g transform="scale(.5)" fill="none" stroke-width="4.48" stroke-linecap="round"><path stroke="#00d9ff" d="M375 149zm3 3zm2-1zm24 0zm-26 14zm1 4zm0 2zm9 7zm4 1zm0 0zm3-9zm1-2zm10 7zm8-7zm1 11zm9-6zm1-5zm4 10zm7-3zm2 4zm3 0zm-54 2zm1 0zm4 4zm7-5zm5 0zm1 5zm1 0zm17-5zm8 0zm5 0zm5 0z"/><path stroke="#33ffc4" d="M374 152zm2 13zm14-3zm0 7zm4 4zm-11 12zm2 2zm5-2zm5 5zm4-2zm7-4zm1-2zm0 5zm6 3zm3-10zm11 6zm5 2zm2-6zm0 7zm8-1zm6 0zm25-8zm12 5z"/><path stroke="#ffea00" d="M386 195zm3 7zm16-4zm1 0zm17 4zm1-2zm2 2zm16-5zm4 5zm9-5zm-70 8zm8 0zm21-1zm26 6z"/><path stroke="#0024ff" d="M455 82zm-50 5zm40 3zm38-6zm-57 21zm21-2zm-68 8zm4 2zm10 1zm7 5zm13-7zm50 0zm-93 15zm5-4zm1 5zm4-7zm2-1zm2 9zm6-3zm3-1zm8 6zm2-10zm20 3zm5 5zm23-2zm-62 8zm0 7zm10 0zm2-7zm16 1zm3 5zm2-8zm0 6zm18 4zm6-6zm-71 14zm12-7zm1 2zm5 9zm0-8zm4 7zm4-7zm5 1zm33 3zm1-3zm0 2zm-49 6zm14 1zm12-1zm9 4zm1 7zm14-7zm9-3zm4 1zm-45 13zm14 6zm14-9zm5 2zm3-2z"/><path stroke="#0049ff" d="M451 89zm-32 13zm-39 13zm8 3zm3-4zm1 2zm7 3zm2-8zm14 1zm-37 16zm2-2zm8-6zm4 11zm5-2zm17 2zm2-3zm2 3zm9-11zm12 8zm-60 13zm3-3zm6-2zm5-4zm7 5zm21 4zm7-9zm1 3zm8 6zm-59 4zm6 4zm2-3zm1-1zm3 8zm1-5zm2 0zm3 0zm4-2zm3 8zm3-4zm1-2zm5 3zm10-3zm-31 12zm1 2zm7-4zm3 6zm2-2zm5 1zm7-2zm4 6zm5-1zm2-10zm3 6zm1 0zm4 0zm0 1zm9-2zm3-1zm3 6zm-34 8zm9 2zm12-8zm1 0zm1 4zm3 2zm7-2zm41-1z"/><path stroke="#ff4300" d="M429 204zm52 8z"/><path stroke="#0000bb" d="M441 69zm9-3zm-52 17zm35-1zm9-8zm1 8zm2-2zm7-3zm17 4zm0-2zm3 4zm6-3zm1 2zm-90 10zm0-3zm10 3zm7-8zm3 5zm5 5zm5-6zm2-2zm1 5zm2-2zm0 3zm1 1zm0-6zm2 1zm8 6zm13 1zm11 0zm-84 9zm7-3zm3-5zm11 4zm0-3zm8 5zm2 0zm5-3zm3 5zm11-6zm15 4zm5-2zm5 5zm11-5zm11-2zm-91 13zm8-2zm8 0zm3 8zm5 0zm11 2zm1-5zm1-1zm1-2zm2 0zm2 3zm7 0zm0 2zm1 0zm8-7zm3 1zm7 3zm9 0zm-53 12zm1 6zm23 0zm7-3zm7-4zm-57 8zm21 11zm6-6zm4 0zm15 5zm2-6zm0-3zm-19 14zm11 6zm1-6zm1 6zm2-3zm13-3zm2-1zm12 1zm16-2zm-34 18zm9-4zm28 7z"/><path stroke="#e4ff13" d="M431 191zm-69 8zm3-2zm24 5zm14-1zm16-4zm1 4zm7-5zm11 1zm10 2zm4 3zm7-7zm3 2zm11 6zm32-3zm2-2zm-103 14zm21-3zm5-2z"/><path stroke="#0001ff" d="M452 78zm0 13zm-58 13zm11-4zm1 0zm2 5zm2-6zm0 8zm6-5zm1 2zm7 0zm10-3zm6 0zm2 3zm9 2zm11-1zm-87 5zm7 8zm12 0zm0-6zm2 4zm2 2zm0-7zm5 1zm0 0zm11 4zm3-1zm10-1zm15 2zm5-2zm7-5zm-74 15zm6 7zm2-1zm5-8zm13 5zm1-4zm12 6zm0 1zm2-1zm5 2zm1-3zm6 3zm20-3zm6-7zm-61 22zm3-9zm3 1zm1-2zm16 9zm9 0zm3-2zm3-5zm6 4zm4-3zm0 1zm-66 10zm5 1zm5-2zm17 0zm9 1zm24 6zm1-3zm2-5zm2 2zm-2 9zm14 3zm3-2zm-30 15z"/><path stroke="#6dff8a" d="M378 177zm-1 9zm0-3zm3 6zm4-7zm1 3zm1 0zm7 2zm14-2zm5 0zm22 4zm2 1zm0-4zm3 1zm2 0zm4 3zm11-3zm-78 7zm71-1zm54-1zm15 1z"/><path stroke="#006dff" d="M387 108zm6 11zm11-5zm-24 12zm20 5zm12-1zm-38 6zm2 5zm5-1zm10 2zm23-6zm2 3zm7 1zm1 2zm9-9zm3 3zm-53 15zm1-3zm1-1zm3 1zm1-4zm0 9zm7-7zm12 3zm2 4zm5-5zm7 0zm4 5zm-43 12zm3 1zm4-6zm6-1zm5-2zm6 5zm0 5zm3-9zm12 0zm2 0zm1 9zm3-3zm7-6zm2-2zm2 3zm7 3zm-42 8zm2 0zm8 6zm10-5zm8 8zm10-1zm3-8zm-34 11zm20-1zm20 2z"/><path stroke="#ffa700" d="M431 200zm11 1zm67-4zm-101 8zm14-1zm22 1zm6 1zm15-1z"/><path stroke="#ffc800" d="M401 203zm8-2zm6 0zm9-5zm4 5zm9-3zm3-6zm4 10zm1-7zm52 7zm7-3zm-119 7zm49-2zm1 3zm41-1z"/><path stroke="#ff8600" d="M417 202zm80-5zm0 5zm-61 3zm40 1z"/><path stroke="#0000e3" d="M421 83zm8-3zm3-1zm10-6zm-43 14zm0-3zm7 8zm8-7zm0 5zm3 4zm1-5zm7 2zm3-2zm2-4zm3 2zm1 7zm6-9zm16 7zm5 3zm20-10zm-105 20zm7-2zm3-1zm10-1zm4-5zm4 11zm3-11zm3 11zm7-6zm0-5zm3 4zm11 7zm4-6zm12-1zm4-1zm11 6zm8-7zm1 1zm-89 12zm17 1zm5 0zm0 5zm1-4zm24-1zm3 2zm26 2zm-73 11zm1 0zm5-4zm4-1zm7 3zm10-2zm4 5zm1 3zm1-3zm1-2zm0 1zm2-6zm1 0zm0 6zm7-2zm6 1zm6 5zm-30 5zm0-3zm3 10zm0-3zm4-6zm7 2zm11 1zm1 1zm0-1zm-9 10zm5 2zm0 6zm9-7zm10 3zm-62 14zm42-1zm4-7zm0 4zm0-1zm18-2zm7 8z"/><path stroke="#00b5ff" d="M377 139zm1-4zm6-1zm0 4zm11 0zm-20 17zm1 12zm6 0zm1-3zm0-8zm4 8zm1-2zm0 5zm4-5zm3-1zm8 2zm2-3zm3 7zm0-7zm2 0zm0-1zm5 2zm-32 13zm2-4zm10 9zm4 0zm2-7zm2-4zm0 9zm1-4zm1 6zm4-5zm1 3zm1 2zm1-7zm1 7zm6-6zm0-5zm4 10zm7-1zm2-2zm4 3zm6-1zm35 2zm-90 2zm22 4zm26-1zm8 0z"/><path stroke="#16ffe1" d="M378 160zm14 6zm-27 7zm9-5zm5 4zm6 4zm21 0zm2 2zm5-1zm1-2zm3-6zm5 9zm84-1zm-129 3zm0 10zm9-10zm10 10zm1-4zm9-3zm6 3zm10-6zm24 4zm46-1z"/><path stroke="#000092" d="M418 70zm2 0zm4-1zm20-4zm6 0zm18 1zm5 5zm3-1zm3 0zm-86 4zm9 5zm4 3zm9-6zm8 6zm5-4zm5 0zm1 1zm8 3zm1-6zm3 6zm1-3zm1 1zm4 1zm7-2zm1 4zm7-2zm3-3zm1-1zm22-5zm-103 20zm5 3zm5-7zm11 0zm5 3zm3-4zm0-1zm6 3zm1 5zm0 0zm1-6zm1 3zm3 0zm2 1zm1-5zm0-1zm0 8zm1-9zm1 8zm0-7zm1 2zm1 7zm2-10zm0 6zm3-3zm1 6zm1 0zm3-2zm6-8zm2 8zm0 2zm1-8zm0 3zm2-5zm2 4zm1 6zm2-1zm7-2zm1 2zm1-9zm0 9zm3 1zm0-4zm-80 10zm1 7zm4-3zm4-4zm1-3zm2 8zm0-3zm0-6zm1 7zm6-4zm3 4zm3-7zm1 4zm0 7zm0-10zm1 7zm1-4zm1-1zm1 2zm1 3zm1-6zm3 7zm1-3zm3-3zm0 6zm3-7zm1-1zm1 0zm2 6zm3-3zm5-2zm0-1zm2 6zm2-7zm0 1zm1 6zm0-6zm2 3zm11 4zm1-8zm2 3zm-93 16zm7 2zm11 0zm3-3zm3 1zm6-4zm21-1zm4 3zm2-4zm7 6zm6-4zm4 3zm4-1zm2-2zm2-3zm-61 15zm14-3zm10 5zm6 2zm7-7zm4 5zm1 1zm3-3zm2-3zm3 2zm3 5zm-22 14zm5-5zm3 7zm8-7zm-19 8zm-6 12zm27 6zm6 2z"/><path stroke="#a7ff50" d="M370 183zm49 8zm82 0zm-121 1zm4 2zm3 4zm1-5zm6-1zm8 1zm12 4zm1-5zm0 4zm1-2zm2 4zm11-3zm52 1zm28-2z"/><path stroke="#8aff6d" d="M375 189zm7-7zm1 4zm16 2zm3 1zm19 2zm14 0zm7 0zm4 0zm34-1zm-104 9zm13-4zm8 0zm3 3zm6-3zm11-3zm10 0zm1 0zm15 3zm38-2z"/><path stroke="#ff1e00" d="M425 204zm10 2z"/><path stroke="#c4ff33" d="M370 184zm3 8zm10 3zm2 1zm3-2zm1 1zm4 0zm10 6zm12-7zm7 3zm1 0zm7-2zm22 5zm32-7z"/><path stroke="#50ffa7" d="M367 170zm11 0zm4 8zm1-5zm-3 9zm1 1zm2 0zm1 5zm1 0zm6 2zm2-10zm28 4zm1 5zm3 0zm57-5zm-103 8zm13 1zm23 0zm8-1z"/><path stroke="#ff6400" d="M511 205z"/><path stroke="#0091ff" d="M373 118zm18 10zm-23 25zm12-7zm3 5zm1 0zm2 1zm4 2zm3-3zm5 2zm39-1zm-64 11zm9-4zm6 5zm3-1zm15 4zm2-11zm2 2zm4 4zm3 3zm2-3zm9 3zm-37 5zm6 4zm2-1zm13-5zm4 5zm7-1zm12 6zm0-5zm1 4zm1-6zm1 4zm5-1zm4 3zm2-8zm35 7zm-98 10zm19 0zm31-1zm11-5z"/><path stroke="#0049ff" d="M446 93zm-35 8zm-28 15zm10-8zm12 7zm28 4zm-48 10zm4-3zm4 5zm5-6zm6 1zm3 1zm48-1zm-81 7zm5 10zm4-6zm3 4zm12 0zm2-6zm2 8zm21-10zm1 10zm1-11zm10 4zm-54 15zm1 3zm10-10zm2 7zm6-3zm1-1zm3 2zm3-3zm1 7zm5-1zm2 2zm3-1zm1 1zm1 1zm3-1zm10-5zm2 3zm1-3zm7 5zm1-2zm-72 10zm22-4zm6 4zm13 0zm2 1zm5-7zm2 9zm1-5zm0 3zm6 0zm11 1zm-48 11zm2-4zm12 5zm2-3zm8 2zm0-7zm7 2zm3-1zm1 6zm16-2zm1 3zm5-8z"/><path stroke="#ff4300" d="M459 208zm9-3z"/><path stroke="#0024ff" d="M476 71zm-68 11zm69-7zm-50 20zm-20 9zm39-3zm14 3zm-82 14zm0 0zm15-4zm10-4zm0 7zm2 0zm12 1zm7-7zm9 8zm12-7zm-54 12zm2 4zm5-2zm0 5zm9-3zm1-1zm13-3zm1 0zm-48 17zm5-4zm5-4zm10 6zm7 0zm12-6zm12 4zm14 5zm1-2zm-69 9zm18-4zm0 7zm2 2zm13-2zm1 1zm5 2zm2-7zm3 7zm6 0zm1-6zm9 1zm9-1zm9-1zm20 6zm-89 13zm13-2zm21-2zm7-1zm6-1zm1 2zm1 1zm2 3zm4-7zm0 6zm0 0zm-38 5zm6-3zm4 2zm38 0zm5 1z"/><path stroke="#0000e3" d="M415 77zm6 4zm3-4zm1 5zm0-7zm5 3zm14 0zm33 0zm7 4zm12 0zm-97 7zm1 6zm4-1zm3-10zm2 9zm11-8zm1 6zm27-1zm7-5zm11 6zm-88 16zm3-5zm8 0zm1 3zm6 1zm18-4zm2-5zm3 5zm26-5zm4 5zm9-2zm5 7zm-75 6zm4 6zm1-9zm1 5zm4-1zm1-5zm5 6zm8 0zm2-7zm1 11zm1-6zm2 5zm17-7zm3 6zm5 2zm8-8zm-68 15zm6-4zm1-1zm2 7zm0 3zm17-2zm6-9zm6 0zm4 8zm1 3zm6-8zm1 6zm15-9zm5 1zm2 9zm-75 5zm14-1zm2 3zm5 6zm2-8zm10 3zm1-1zm13-4zm2-1zm1 6zm5 2zm2-1zm0-2zm1 2zm1-7zm5 5zm1-4zm-44 16zm23 5zm12-2zm3 0zm5 1zm6-4zm-45 7zm30 5zm2-1zm1-4zm1 3zm14-3zm16 1z"/><path stroke="#6dff8a" d="M378 179zm2-1zm16-1zm-8 12zm2-2zm2-4zm18 7zm17-1zm5-3zm11 4zm1-7zm-57 9zm11 3zm19-1zm1 3zm11-4zm1 0z"/><path stroke="#50ffa7" d="M380 178zm11-3zm-7 14zm4-2zm4 0zm5-5zm11 8zm0-4zm6 5zm4 0zm11-1zm14-5zm24 1zm-72 10zm3-4zm31 0zm9 1z"/><path stroke="#ffc800" d="M416 200zm3 1zm8 1zm17 1zm4-4zm-65 6zm18 1zm26 3zm10 0zm3-5z"/><path stroke="#000092" d="M434 71zm19-2zm19 1zm-60 7zm8 6zm14-5zm12 4zm4-4zm1 1zm1 4zm3-3zm0 1zm6-7zm1 9zm1-10zm7 10zm1-4zm7-2zm3 6zm1 0zm2-9zm-92 17zm9-4zm0 0zm19 3zm2 5zm5-3zm1-3zm2-5zm5 2zm0 8zm2-9zm2 0zm0 1zm3 5zm1 4zm2-11zm2 11zm1-11zm6 8zm2-4zm1 3zm1-4zm1-3zm2 0zm1 10zm6-2zm11-8zm-101 20zm8 2zm11-5zm2 4zm2-6zm16 4zm1-1zm0 2zm3-6zm4-2zm3 2zm4 7zm4-7zm2 3zm3-1zm0-4zm1 7zm7-6zm5 0zm6 5zm8-4zm3 0zm-77 10zm0 9zm11-4zm7-3zm30 9zm0-8zm1-3zm7 6zm3-4zm-58 18zm15-2zm5-2zm6 0zm16 0zm5 4zm3-6zm-28 20zm12-10zm19 11zm4-3zm-58 13zm21-9zm24 1zm4 9zm13 9zm16-1zm1 0z"/><path stroke="#ff6400" d="M456 202zm-51 3zm23 3zm38-1zm13 5z"/><path stroke="#ffa700" d="M381 198zm42 3zm18 0zm36-6zm10 3zm12 5zm2-3zm-117 7z"/><path stroke="#16ffe1" d="M374 162zm1 4zm1 0zm5-4zm1-1zm1 4zm20-6zm17 8zm-57 6zm1-5zm10 2zm5 8zm1-9zm2 0zm31 6zm-40 5zm7 2zm2 7zm2-2zm3-5zm9-1zm5 8zm4-7zm2-1zm1 1zm7-2zm9 2zm0-2zm14 0zm1 2z"/><path stroke="#a7ff50" d="M367 183zm119 8zm-98 4zm5 0zm2 2zm1 1zm3-1zm15 2zm11-4zm5 2zm9-3zm5-2z"/><path stroke="#006dff" d="M377 130zm3 0zm4-9zm2 10zm40-7zm-52 14zm8-5zm1 9zm12-2zm-25 5zm15 0zm2 6zm0-1zm11-4zm5 4zm9-2zm0-1zm15-1zm-49 14zm9 0zm4 4zm4-3zm4 3zm3 3zm9-6zm3 6zm3-9zm3 9zm1-2zm4-5zm16 1zm0 2zm3-5zm-34 12zm4 4zm5 4zm1-9zm7 3zm2-3zm7 5zm5 1zm0-7zm1 9zm1-7zm39 5zm-48 5z"/><path stroke="#00b5ff" d="M385 127zm-8 16zm-1 6zm5 4zm20-3zm-33 6zm18 5zm4-3zm4-2zm1 5zm2 4zm0-8zm12 6zm0-5zm-26 18zm4-1zm9 0zm3-6zm3 8zm2 1zm9 0zm1-2zm11 0zm3-3zm-39 12zm0-4zm9 0zm0 2zm6 2zm13-1zm17 0zm4-2zm1 2z"/><path stroke="#ffea00" d="M375 200zm7-1zm2 3zm0-2zm5-5zm14 3zm44-2zm8 1zm65 0zm-99 9zm27-2z"/><path stroke="#00d9ff" d="M373 160zm0 5zm4-2zm4 0zm3-7zm7 9zm4-9zm-16 17zm2 1zm2-1zm0 3zm2-8zm1 8zm2-7zm3-1zm0 11zm4-6zm5 1zm1-3zm11 6zm1 0zm18 0zm12-3zm2 4zm4-2zm-53 5zm0-1zm0 5zm6 0zm2-3zm12 1zm10 2zm7-2z"/><path stroke="#0000bb" d="M441 69zm8 2zm14-4zm-50 8zm26-1zm22 8zm9-5zm-64 18zm4-5zm17 3zm10-2zm0 1zm2 3zm0-11zm1 8zm6 1zm9-7zm1-2zm4 2zm11 8zm-80 12zm2-2zm1-2zm2-4zm5 2zm0-4zm5 6zm14 0zm3 1zm1-2zm1 0zm11-3zm5 6zm4-2zm5 5zm1 0zm10-7zm2 7zm10 0zm3-10zm-94 14zm36 2zm14 2zm1-5zm5 4zm2 2zm7 2zm2-10zm-40 23zm16-11zm12 8zm5-2zm2-1zm1-5zm-68 12zm34 8zm0-3zm3-3zm2-1zm9 0zm0 6zm19 4zm-18 2zm14 9zm7-1zm6-3zm5-5zm-22 21zm2-4zm11 1zm4-6z"/><path stroke="#0001ff" d="M421 67zm19 6zm12 3zm-61 15zm6 2zm4-3zm13 2zm5-4zm3 3zm17 4zm26 0zm2-1zm-95 5zm5 4zm0-3zm17-1zm4-1zm8 4zm14-6zm38 0zm3 10zm-80 13zm11-7zm3 1zm1-2zm1 1zm33 6zm15-10zm1 0zm0 0zm10 5zm-81 15zm14-3zm3-5zm10 1zm0 3zm0 4zm4-8zm2 6zm8 1zm7-7zm5 4zm1-1zm3 5zm2-1zm10 0zm4-6zm2 0zm4 5zm8 3zm-75 3zm18 7zm4 1zm10-6zm22 9zm2-7zm-38 11zm9 2zm0-5zm10 6zm2-6zm1 8zm8-7zm3 2zm11 7zm8 1zm0-2zm-37 6zm2 3zm1-4zm1 2zm6 0zm5-4zm0 8zm2-4zm1-4zm10 0zm14 5zm25-5zm-58 13z"/><path stroke="#8aff6d" d="M372 190zm2-10zm1 1zm7 10zm5-2zm3-2zm8 4zm46-1zm24-1zm17 0zm11-3zm-120 7zm36-1zm4 6zm16-4zm5 0zm4-1z"/><path stroke="#0091ff" d="M420 117zm-45 11zm0 2zm2-6zm5-2zm5 11zm1 6zm6-2zm28 6zm-37 8zm19-1zm51 1zm-73 7zm2 6zm4 0zm3-8zm14 9zm12-7zm-38 15zm1-4zm3 0zm4 2zm2-1zm11-1zm4-1zm2 1zm1 7zm0-4zm4 0zm1-4zm14 9zm7 0zm2-4zm0 3zm1 3zm7-2zm5-7zm4 9zm11-10zm15-1zm25 7zm-68 10zm4-2zm34-2z"/><path stroke="#e4ff13" d="M377 191zm-3 4zm26 7zm3-1zm11-2zm11 1zm0-1zm16 1zm1-1zm61 0zm4 1z"/><path stroke="#33ffc4" d="M375 175zm1-1zm44 2zm-36 7zm11 0zm7 7zm1-3zm11-4zm11 2zm2 2zm5-2zm16 2zm5-4zm-56 9zm18 0zm17 0z"/><path stroke="#c4ff33" d="M394 200zm12-1zm2-5zm12 1zm20 3zm8 1zm43-5zm15 2z"/><path stroke="#ff8600" d="M385 208zm66-2zm4 4z"/><path stroke="#0049ff" d="M388 112zm4 5zm2-6zm4 4zm5 0zm-21 7zm15 1zm3 4zm9-6zm8 5zm-37 10zm2 1zm3 5zm6 1zm2-6zm0-5zm0 4zm7 2zm12 2zm1-7zm8 2zm8-2zm2 1zm3 4zm5-1zm-58 9zm3 0zm6-2zm4 7zm2 1zm0-8zm0 9zm4-3zm7-3zm4 2zm1 6zm3-3zm12-3zm4 6zm13-1zm5-5zm-65 14zm2-5zm1 5zm23 1zm2-5zm5 5zm0-2zm18-1zm1 6zm4-2zm3 1zm6-2zm-41 8zm7 3zm17-6zm3 3zm3-3z"/><path stroke="#00b5ff" d="M373 123zm3 9zm20 7zm10 0zm-31 5zm1 8zm10-2zm4 4zm27 1zm-41 7zm2-2zm6-1zm19 1zm1-2zm1 4zm4-3zm1 2zm4 2zm15-2zm1 3zm-42 8zm12 1zm1 0zm3-4zm2 7zm1-6zm2-2zm1 1zm1 4zm10 3zm10-7zm3 9zm3-2zm13-4zm2 4zm21-1zm-65 9zm2-3zm14-1zm5 4zm13 3z"/><path stroke="#e4ff13" d="M406 199zm4-3zm3 3zm1 2zm1-5zm29 5zm36-2zm14-4zm13 2zm-74 13zm45-4z"/><path stroke="#ffa700" d="M408 203zm17 0zm16 0zm8-1zm2 1zm57-1zm-107 3zm1 0zm6 6zm8-6zm24-1z"/><path stroke="#c4ff33" d="M376 197zm3-1zm9 1zm1 6zm3-6zm3 0zm6 4zm17-5zm9 2zm7-4zm12 0zm15 1zm5-2zm24 7z"/><path stroke="#ff4300" d="M445 202zm35 9z"/><path stroke="#ff6400" d="M482 207zm17-3z"/><path stroke="#0000bb" d="M446 62zm0 3zm4 5zm15-1zm11-2zm10 4zm-67 12zm8-9zm15 8zm0-10zm1 10zm18-1zm1 0zm1 0zm-72 13zm11-8zm2 0zm4 8zm3-3zm1 0zm10 0zm3 1zm1-5zm0 3zm8-5zm15 0zm4 0zm4 4zm3 4zm2-6zm5 1zm10 7zm11-11zm-105 15zm5 8zm6-8zm6 3zm1-1zm2 0zm15 1zm16-6zm-13 20zm4-7zm1 7zm2-7zm4-1zm11 9zm3-3zm-29 12zm1-1zm3 1zm11 5zm2-8zm6-3zm7 0zm5 5zm-43 17zm3-8zm1 8zm22-5zm3 4zm-4 7zm1 0zm1 4zm0-1zm0-7zm3 6zm5-6zm0 2zm17 8zm-26 5zm8 5zm4 8z"/><path stroke="#ff1e00" d="M430 205zm68 1z"/><path stroke="#6dff8a" d="M373 176zm3 3zm9 9zm4-1zm6-3zm30 2zm24-1zm4 5zm19-6zm-95 9zm20 3zm3 2zm13-4z"/><path stroke="#ffea00" d="M378 194zm16 9zm8-3zm3 3zm8-8zm2 6zm22-3zm-51 11zm18 3z"/><path stroke="#006dff" d="M383 114zm5-5zm-10 15zm2 1zm11-5zm4 11zm7 0zm29-4zm1-1zm-53 15zm5-5zm9 0zm1 5zm5-5zm4 6zm0 0zm7-8zm7 6zm29-2zm-71 14zm13 0zm2 3zm1-11zm7 2zm7 9zm1-4zm5-7zm1 10zm1-8zm4 9zm3-3zm4 3zm-47 1zm4 3zm7 2zm3 0zm3 5zm2-7zm8-3zm2 4zm3 6zm7-5zm1 1zm1-2zm3 0zm4-1zm1-1zm4 7zm4-2zm9-6zm1 4zm-26 10zm1 0zm0 0zm3 3zm8-4zm3 5zm2-2zm3-5zm3 9zm8-8zm1 1zm25 7z"/><path stroke="#50ffa7" d="M380 176zm10 3zm-13 1zm9 3zm0 3zm2 1zm3 4zm1 0zm3 0zm9-1zm1-5zm3 6zm6-2zm4 0zm3 1zm67-5zm5 1zm-102 7zm10 3zm19-4z"/><path stroke="#ff8600" d="M487 198zm-102 6zm15 4z"/><path stroke="#33ffc4" d="M382 167zm-11 5zm10-1zm11 5zm39 1zm-60 6zm9 7zm2-8zm4 9zm0-9zm20 3zm4-3zm4 6zm5-4zm1 4zm7 3zm7-3zm13 2zm-52 3z"/><path stroke="#0001ff" d="M441 69zm1 1zm16-9zm-43 15zm74 6zm-91 10zm1-1zm3-3zm5 3zm3 3zm7 0zm20-5zm22-1zm4 7zm-89 7zm16 3zm0-8zm23-1zm3 10zm3-4zm2 3zm9-5zm1 6zm4-10zm1 10zm0-8zm5 2zm-58 12zm6 0zm1 1zm4 5zm6-10zm2 7zm5 2zm2-8zm1-1zm1 11zm11-1zm5-6zm1 6zm3-5zm10 6zm10-7zm-61 16zm2-5zm3-3zm3 1zm4 7zm1 0zm0-1zm0 0zm1-6zm3 0zm3 6zm11-3zm5-2zm3 1zm17 7zm2-7zm0 2zm11-5zm-51 18zm13-6zm5 3zm6-1zm3 7zm5 1zm1-10zm0 0zm2 10zm-64 3zm4-1zm12 1zm1 5zm0-2zm16 1zm3 5zm1-6zm4-2zm2-1zm0 1zm2 6zm4-3zm4 6zm2-2zm2-9zm2 9zm0-7zm4 8zm11-4zm1 5zm5-10zm-52 14zm5-2zm8 7zm4-6zm4 4zm2-6zm8 8zm1-8zm2 0zm4 1zm3 8zm4-2zm-56 5zm43 3z"/><path stroke="#000092" d="M441 65zm0 5zm27-3zm-49 16zm0-2zm3-8zm5 5zm4-1zm2-1zm5 4zm3-2zm4 1zm7 0zm4 4zm1-9zm2-1zm9 7zm5 3zm1-3zm2 0zm4 0zm2-5zm1 8zm2-4zm11-1zm-96 9zm3 3zm4-3zm4 5zm9-1zm1-1zm1 4zm4-3zm1-5zm0 1zm2-1zm4-1zm3 5zm0 4zm2-4zm2-1zm1 2zm1-7zm5 6zm1-4zm1 4zm14 5zm2-3zm2-3zm1-3zm4 9zm9-7zm-90 15zm6-5zm3 9zm1-8zm1 4zm0 2zm5 2zm5-5zm1 3zm8 1zm15-10zm1 4zm3 3zm0-4zm3 4zm11 0zm2-1zm1 2zm8-8zm1 2zm-86 16zm40-3zm3 7zm1-6zm4 7zm4-9zm1 8zm7-9zm0 4zm6-3zm3 4zm0-5zm2 6zm1-3zm-55 17zm15-9zm24 4zm8-3zm6-1zm-36 16zm22 2zm1-5zm8 2zm0 5zm3-5zm-12 18zm8-7zm6 16z"/><path stroke="#ffc800" d="M383 196zm16 5zm24-2zm1-2zm24 2zm2 3zm5-3zm32 4zm-91 2zm0 3zm22-4zm20 1z"/><path stroke="#16ffe1" d="M376 163zm5-1zm2 4zm10-2zm-14 6zm9 5zm3-2zm4 5zm4-5zm1 4zm0-1zm3-4zm4-4zm2 11zm32 0zm3-3zm-67 6zm3-2zm4 10zm1-7zm1 0zm5 8zm7-11zm0 2zm2 0zm0 0zm0 3zm0 1zm3 3zm3-3zm5-5zm4 6zm4-2zm24 2zm2-7zm3 2zm21 5zm0-5z"/><path stroke="#0024ff" d="M479 88zm-95 16zm44 0zm1-1zm-63 13zm16 1zm5-9zm4 9zm1-5zm7 6zm16-6zm29 1zm13-1zm-81 18zm9-9zm0 8zm2 1zm1-1zm6-5zm2 4zm4 0zm1-2zm1 5zm1-3zm4-6zm2 5zm4-5zm13 6zm6-1zm17 1zm-69 12zm1 1zm13 0zm9-1zm2-8zm11 9zm1 0zm4-2zm7-4zm4 6zm3-7zm12-1zm-58 14zm13 6zm0-8zm1 6zm8 1zm7-4zm1 1zm7-2zm0 3zm6 3zm0-9zm4 8zm1 2zm0-7zm1 8zm2-3zm1-3zm1-3zm1 2zm3 2zm9 4zm-43 8zm4-3zm3 0zm1 8zm1-11zm3 3zm8-1zm5 7zm3-5zm8-3zm1 5zm-48 10zm12-2zm11 1zm23 0zm2 5zm8-4z"/><path stroke="#0000e3" d="M484 71zm-63 5zm4 6zm6-7zm0 8zm11-11zm1 0zm5 4zm11-1zm9 4zm7-1zm9-4zm-72 20zm8-7zm2-1zm4 7zm15-9zm7 1zm10 10zm2-1zm12-9zm-84 17zm3-5zm8 2zm3 6zm1-4zm3 3zm1-6zm4 8zm9-2zm2-5zm3-1zm8 8zm2 1zm7-11zm4 9zm8-7zm-72 11zm7 1zm1 9zm5-9zm2 8zm4-1zm12-1zm11 1zm15 0zm-35 7zm12 7zm0-9zm15 9zm8-3zm5 1zm4 0zm-60 3zm0 1zm2 8zm9-9zm17 3zm5 0zm1 5zm17 1zm2-7zm10 0zm-38 18zm4-8zm16 6zm5-5zm-4 11zm18 0zm25 13z"/><path stroke="#8aff6d" d="M367 174zm3 5zm7-6zm-13 15zm9-3zm7 0zm5 2zm15 1zm24 2zm19-6zm1 5zm14 2zm-69 5zm0 0zm3-1zm13 5zm10-5zm6-3zm16 4zm7-4z"/><path stroke="#a7ff50" d="M366 181zm11 4zm74 5zm21 1zm-97 2zm11 5zm1 4zm2-7zm3 3zm1-3zm2 2zm12-3zm14-2zm3 0zm2 7zm7-4zm1-1zm20-1zm1 0z"/><path stroke="#00d9ff" d="M383 150zm10-3zm-15 12zm3 3zm1 1zm19-1zm-20 15zm2-5zm5-4zm1 6zm3 4zm6-6zm1 4zm1 3zm1-2zm0-4zm2-3zm0 3zm12-2zm0 1zm5-3zm6 10zm14-1zm10-3zm51-1zm-121 6zm28 6zm2-1zm11-2zm10 2zm1 0zm4 0zm5 3zm10-7z"/><path stroke="#0091ff" d="M386 117zm-9 15zm3 7zm19-2zm16 2zm-24 13zm13 1zm44 0zm-68 10zm23 0zm4-3zm9 4zm-35 8zm10 5zm14-2zm9 0zm2 2zm1-5zm4-1zm5 3zm13-1zm9 4zm-35 8zm6-4zm14 2zm65-2z"/><path stroke="#ff4300" d="M414 207zm33 1zm0 4z"/><path stroke="#8aff6d" d="M378 175zm10 12zm22 4zm23-1zm17 1zm-66 2zm26 3zm7 3zm45-5zm-73 10z"/><path stroke="#a7ff50" d="M360 182zm8 2zm10 5zm21 2zm46 0zm8 0zm-69 5zm14-1zm4-2zm6 7zm3-6zm25 1zm-29 11z"/><path stroke="#ffea00" d="M377 197zm20 3zm19 0zm14-3zm15 2zm6-2zm14 2zm15-4zm18 5zm17 1zm-130 5zm28 2zm2-3zm9 7zm4-2z"/><path stroke="#e4ff13" d="M376 197zm0-1zm10-2zm5 9zm4-5zm3 2zm1-4zm15 4zm0-3zm30-1zm9 1zm44 6zm6-4z"/><path stroke="#33ffc4" d="M371 177zm1-3zm6 3zm1 2zm7-4zm3 1zm10 0zm3 1zm-29 5zm9 4zm6-3zm2 1zm9 6zm12-7zm6 2zm9 2zm12-1zm2 5zm1-7zm3 6zm-26 4z"/><path stroke="#006dff" d="M475 91zm-88 40zm3-8zm4-3zm-18 22zm2 0zm8-4zm11-4zm16 0zm3 0zm-38 20zm20-2zm1-4zm4 0zm5-2zm9 4zm3 3zm7-3zm-33 15zm4 0zm1-5zm2 7zm1-4zm7-4zm3 8zm3-10zm6 3zm3-1zm6 4zm3 4zm-37 4zm2-2zm9 0zm3 2zm8 5zm0-7zm4 4zm5-4zm4 5zm1-3zm0 1zm1-3zm3 9zm8-7zm-53 11zm51-2z"/><path stroke="#ffa700" d="M432 202zm71-1zm-106 5zm18 3zm19-4zm48 6zm8-4z"/><path stroke="#16ffe1" d="M372 163zm9 14zm1-3zm2 2zm16 3zm4-5zm3 5zm9-8zm23 6zm4 0zm-64 3zm2 10zm9-9zm5 2zm3-2zm1 1zm3 5zm6-5zm3 4zm5 4zm7-4zm7-3zm9 4zm1-3zm-36 8z"/><path stroke="#ff6400" d="M440 201zm1 6zm54-2zm4 0z"/><path stroke="#ff8600" d="M380 198zm3 4zm84 1zm-55 7zm6-6zm34 0z"/><path stroke="#0091ff" d="M413 121zm6 10zm-31 11zm-1 11zm1-8zm2 10zm3-3zm2 2zm34-6zm15 0zm-62 12zm2-4zm4 6zm5 4zm3-3zm3 4zm6-5zm2 2zm1-5zm2-3zm1 0zm32 2zm2 7zm-61 6zm5-2zm2 1zm3 3zm4-2zm8 8zm4-8zm5 2zm10 5zm3-8zm1 1zm2 0zm7 6zm4-2zm0 0zm5 3zm23-8zm4 6zm33-3zm-103 10zm8 1zm3-2zm8 1zm0 0zm3-2zm20-1z"/><path stroke="#00d9ff" d="M373 143zm3 10zm1 3zm3 4zm6-1zm14 2zm18 1zm-43 10zm1 0zm8 0zm4 1zm6-5zm5 9zm5-9zm25 3zm1 2zm4 6zm2 0zm16-4zm-67 5zm0 6zm13-5zm2 2zm4 1zm1 0zm3 5zm3-6zm16-1zm13 5zm1-7z"/><path stroke="#c4ff33" d="M392 190zm-18 7zm21 1zm17-2zm2 3zm2-1zm7-4zm7 1zm1 3zm6-1zm6-3zm7 2zm56-1z"/><path stroke="#0000bb" d="M461 69zm-45 14zm25 0zm23-1zm0 1zm20-3zm-61 12zm2-5zm6-3zm4 10zm3-4zm6 0zm26 1zm23-6zm-112 18zm40-2zm0 6zm2-4zm1 3zm14-8zm3 2zm0-4zm5 6zm8-2zm0 3zm14-3zm1-4zm-97 13zm26 1zm2-2zm2 10zm13-9zm1 3zm1-1zm5-1zm8 7zm5-2zm4 2zm3-3zm3-5zm-50 16zm0-5zm22 0zm14 2zm12 3zm-36 10zm10 8zm9-5zm9-3zm11-3zm-9 19zm11 0zm-24 8zm23 1zm6-2zm4 0zm4 6zm-5 4zm6 6z"/><path stroke="#ff1e00" d="M478 204z"/><path stroke="#50ffa7" d="M384 177zm13-4zm6 4zm-24 13zm2-7zm0 2zm46 6zm15-3zm7-3zm8 6zm44-5zm-119 7zm9 0z"/><path stroke="#0000e3" d="M430 71zm29-1zm-34 6zm2 6zm20-8zm0 4zm9 0zm1 1zm4 2zm-74 3zm1 10zm19-4zm9 3zm26-1zm7-5zm8 1zm3 3zm0-2zm7 1zm-47 14zm14 0zm8-4zm19-4zm0 3zm1 8zm-85 10zm9 0zm25 2zm2 0zm4-4zm10 2zm2 1zm4-7zm3 1zm5 0zm11-1zm0 3zm1 2zm-76 7zm17-1zm12 2zm19-3zm23 9zm-54 10zm11 1zm15 1zm9-2zm2-6zm13 5zm2-2zm-47 11zm13 5zm4-4zm5-3zm5 5zm12-1zm2-4zm15 8zm-23 10z"/><path stroke="#00b5ff" d="M379 121zm18 10zm-11 8zm-13 10zm39 3zm-48 6zm17 2zm2 0zm3 2zm3 5zm11-2zm17-9zm4 9zm-44 4zm10 7zm4 0zm4 0zm5-4zm14 1zm1-4zm3 8zm4 0zm3-2zm4-6zm12 6zm3 4zm9-2zm-73 7zm21-1zm17-1zm74-1z"/><path stroke="#6dff8a" d="M377 174zm74 0zm-68 7zm7 0zm6 9zm9-4zm1 5zm5-3zm12 0zm0 3zm1-3zm19-3zm1 2zm29 4zm12-7zm4-1zm-97 9zm8 4zm4-2zm0-2zm6 0zm2 3zm1-2zm21 1z"/><path stroke="#0001ff" d="M470 72zm-85 18zm14 3zm21-8zm35 0zm-56 19zm2 1zm17-1zm1-8zm7 7zm11 1zm-65 8zm6 0zm15 5zm12-9zm11 4zm3-4zm5 11zm3-6zm5 6zm6-10zm19-1zm-76 18zm3 4zm5-8zm3-1zm1 4zm22 0zm12 2zm2-6zm5 3zm-50 13zm0-1zm3 3zm0-7zm3 0zm5 7zm1 1zm1 2zm3-7zm14 2zm0 6zm9-8zm9 5zm3-3zm2 3zm-51 5zm7 2zm4-2zm3 7zm4-8zm11 2zm0-1zm9 7zm1 0zm1-3zm7 4zm7-4zm12 5zm-36 5zm3 4zm4-1zm17-4zm4-2zm3 3zm-11 10zm9-1zm8 0z"/><path stroke="#000092" d="M445 67zm8 3zm2-1zm4 0zm4-1zm12-5zm0 8zm9 0zm-61 10zm6 1zm25 0zm3-4zm0 2zm11-3zm1-4zm0-1zm5 8zm-81 11zm1-5zm0 3zm10 4zm9-7zm5-2zm1 8zm9-1zm5 1zm2-2zm3-5zm0 9zm1-2zm0-2zm4 3zm1-5zm4-2zm2 3zm2 3zm1-5zm1 0zm2 2zm0 0zm3-3zm1 2zm2 0zm1 1zm2-1zm4 1zm5 4zm1 0zm3 2zm3-6zm-82 7zm5 6zm10-3zm2 5zm1 1zm6-1zm3 1zm10-6zm2 7zm2-1zm3 0zm0-3zm1 5zm3-10zm1 10zm2-5zm9 0zm1-3zm2 4zm13 4zm3-10zm-85 20zm7-7zm3 2zm11 2zm3 2zm10-6zm0 2zm1 0zm5 0zm3 1zm1 1zm1-4zm6 4zm1-5zm-49 12zm0 3zm26-4zm17 8zm1 1zm2-9zm7 4zm7 1zm-38 14zm0 4zm25-8zm2 3zm-27 12zm25 10zm1 3z"/><path stroke="#0024ff" d="M441 68zm14 21zm-75 11zm4 7zm32-3zm36 0zm2-8zm4 2zm13 5zm-88 9zm1 1zm1 0zm4 5zm22-1zm0-6zm2 4zm11-2zm4-2zm1 8zm9-3zm11-3zm-42 8zm1 10zm6-1zm9-6zm9 2zm13-5zm-66 21zm15 0zm7-1zm2-7zm4 9zm9-1zm6-8zm4 3zm2 0zm6 6zm4-4zm-47 15zm2 0zm2-6zm3-1zm1-3zm1 0zm1 7zm6-7zm0 6zm2-4zm3 2zm3 1zm1-1zm3 1zm0 5zm0 0zm6-2zm1-5zm12 5zm4-3zm1 4zm11-6zm-62 10zm8 6zm2-2zm1 1zm2-5zm1 2zm0-3zm1 8zm23-8zm4 9zm2-6zm10 5zm-61 4zm28 4zm3 0zm10-3zm15 10zm3-8z"/><path stroke="#0049ff" d="M374 94zm23 13zm8-7zm-23 18zm18-3zm9 0zm31-6zm14 7zm-80 15zm2-1zm6-8zm1 6zm0-4zm4 6zm1-1zm14-1zm3 3zm24-5zm-57 12zm5 0zm8 2zm9 1zm3-3zm13-1zm4-2zm5 2zm0 5zm4-7zm14 6zm3 1zm3-10zm-65 18zm0 1zm1 2zm10-2zm1-5zm3 3zm1-1zm6-4zm2 9zm8-7zm0 2zm1 4zm9-5zm1 8zm-33 1zm11 0zm9 3zm2 4zm8 0zm3 1zm6 1zm2-4zm4-5zm7 9zm4-5zm-33 13zm7 4zm0-4zm7-5zm2 10zm9-6zm6 5zm1-5zm2 5zm25-6zm-49 9zm1 0z"/><path stroke="#ffc800" d="M385 198zm16 3zm20-4zm5 5zm11-3zm21 0zm14-2zm-87 9zm32 1zm4 2zm12-4z"/></g></g><text x="219.7" y="16.8" font-size="12.0" fill="#303030" text-anchor="middle">H</text><rect x="303.0" y="25.5" width="86.0" height="83.0" fill="#fdfde9"/><path d="M299.5 87.6H389.0M299.5 62.1H389.0M299.5 36.6H389.0M335.0 25.5V112.0M388.0 25.5V112.0" stroke="#ece6c8" stroke-width="0.9" fill="none"/><text x="335.0" y="118.8" font-size="8.8" fill="#4f5d64" text-anchor="middle">0</text><text x="388.0" y="118.8" font-size="8.8" fill="#4f5d64" text-anchor="middle">5</text><g clip-path="url(#cA02)"><g transform="scale(.5)" fill="none" stroke-width="4.48" stroke-linecap="round"><path stroke="#ff6400" d="M691 141zm1 0zm-11 3zm5 11zm1-5zm5 0zm4-1zm1-2zm9 7zm9 0zm-16 3z"/><path stroke="#ff8600" d="M689 140zm2-1zm1 0zm7 1zm-19 5zm7 4zm7 0zm4 4zm-9 6zm2-3z"/><path stroke="#50ffa7" d="M687 119zm0 0zm-17 9zm26-8zm-63 23zm22-8zm10-2zm2 0zm-36 23zm4 4zm-16 13zm2 1zm13-5zm2 9zm1-6zm9 4zm31 2zm24 0zm26-3zm-90 6zm3 1zm1-1zm1 8zm0-2zm1-2zm4-5zm11 4zm22 1zm1-3zm2 8zm10-6zm2 3zm7 0zm5-4zm32 1z"/><path stroke="#8aff6d" d="M677 124zm4 4zm2-5zm20-1zm6 4zm-75 13zm5 3zm11-3zm11-4zm4 5zm10 1zm-50 8zm24-4zm-19 20zm0-2zm10-1zm5 2zm1-2zm-28 6zm7 9zm6-8zm2 9zm2-4zm4-6zm2 3zm2-2zm1 10zm1-6zm3-2zm4 1zm0-1zm1 5zm2-4zm5-3zm1 1zm2 1zm4-1zm1 3zm0 3zm17-5zm1-2zm4 9zm1-2zm6 1zm-57 3zm18 2zm7-1zm16 6zm16 3zm3-10zm3 5z"/><path stroke="#0024ff" d="M689 90zm25 3zm0-7zm0 3zm-38 18zm5-3zm8-8zm37 2zm-80 18zm2-4zm7-1zm1 4zm2 0zm4-4zm16 1zm-48 84zm25 0zm13 1zm18 5zm33-3zm38 2zm-107 7zm52-4z"/><path stroke="#0001ff" d="M733 70zm-58 11zm31-3zm-54 14zm1 0zm4-2zm16-2zm15-1zm6-2zm14-1zm3 5zm4-1zm-89 11zm16 3zm30 2zm1-2zm0-6zm21 7zm8 4zm6-9zm-70 15zm10-5zm4 2zm2-2zm12 2zm8 1zm18-2zm4 1zm1-2zm15 5zm2-5zm-72 89zm12-1zm3 5zm13-1zm34 2zm17 1zm-67 5zm14-1zm1 2zm0-4zm10-1zm0 5z"/><path stroke="#ffc800" d="M695 131zm-19 9zm3-1zm20-1zm-54 10zm1-4zm19 0zm4 11zm1-7zm3 6zm2-8zm1-1zm0 1zm14 5zm4 2zm17 2zm-47 3zm7 7zm2-3zm1-6zm4 2zm1 1zm4 4zm4-7zm3 1zm7 3zm4 0zm22-3zm-54 14zm26-3zm3 3z"/><path stroke="#16ffe1" d="M684 118zm17 0zm-64 8zm4 5zm5-8zm8 4zm8-1zm13-2zm6-4zm18 2zm-61 12zm-11 46zm5 9zm4 2zm3-3zm5-4zm12 3zm8 3zm10-2zm3-2zm20-1zm30-4zm-36 15zm2-2z"/><path stroke="#6dff8a" d="M683 119zm-28 7zm1 2zm-25 15zm2-2zm2 0zm12-4zm1-3zm5 8zm1-5zm17-1zm-45 26zm0 12zm7-3zm0 8zm17-2zm3-8zm4-1zm1 10zm3-8zm1 3zm2-3zm1 9zm31-4zm1-1zm6-5zm29-1zm-96 14zm9 0zm4 1zm3 0zm1-3zm5 10zm3-8zm1 8zm2-5zm24-1zm35-2z"/><path stroke="#00d9ff" d="M648 118zm19-3zm25 2zm-63 11zm5-4zm9 2zm2-3zm1-3zm10 1zm17 5zm3-6zm26 0zm5 1zm-76 11zm-2 57zm4 1zm1 0zm7-1zm3-2zm49 0zm2-3zm3 5zm54-8zm-111 11zm2 3zm6 1zm2 0zm5-3zm11 1zm1 3zm1-4zm14 0zm4 2zm1-1z"/><path stroke="#33ffc4" d="M634 125zm36 3zm2 0zm1-1zm3-6zm18-1zm4 1zm-58 11zm1 0zm1 16zm-7 14zm3 1zm7 2zm-12 8zm2 4zm4-1zm12-3zm5 4zm39 2zm-77 9zm13-8zm0 0zm3 2zm6 1zm10-2zm6 9zm0-1zm5-2zm1 2zm17 0zm1-2zm6 1zm3-3zm6 3zm15-1z"/><path stroke="#e4ff13" d="M697 124zm0 1zm-49 15zm23 1zm8-5zm-39 16zm2 0zm1 1zm1-7zm1 8zm2-3zm6-3zm7 3zm6 0zm-34 9zm30-1zm1 7zm3 1zm8-3zm5 2zm2-5zm3-5zm5 10zm21-3zm-61 16zm6-8zm3-1zm7 3zm4 0zm14-4zm7 9zm5 1zm-26 1zm7 0z"/><path stroke="#c4ff33" d="M680 131zm16-3zm-58 8zm14 5zm30-9zm19 1zm-51 13zm2 7zm9-9zm1 9zm2 2zm2-7zm0 4zm-30 6zm0 5zm1 2zm4-2zm1-7zm0 5zm3-5zm1 10zm2 0zm10-4zm4-6zm2 2zm21 9zm13-4zm0-3zm-40 8zm2 7zm0 1zm12 1zm8-8zm1 9zm0-9zm3 1zm1 4zm5-2zm2 5zm9 0zm15-3zm-41 10zm18-1z"/><path stroke="#0049ff" d="M730 70zm-40 23zm-60 12zm16 14zm8-9zm9 5zm8 3zm10-6zm1 0zm0-1zm10-1zm-45 12zm14-1zm-45 78zm27-4zm3 3zm3-1zm0 0zm23-3zm0 3zm24 0zm0 4zm3 1zm3-3zm14-2zm47 0zm-124 9zm0-2zm29 0zm26 0z"/><path stroke="#0000bb" d="M713 69zm2 0zm23 2zm-86 12zm21 0zm36-1zm1 1zm0-5zm12 2zm8 0zm9-1zm-86 5zm35 2zm1-1zm2 3zm1-3zm2 7zm0-3zm2 2zm10 1zm6-5zm18 7zm5-5zm7-5zm-82 18zm1-4zm3 9zm10-3zm41-5zm10 0zm28 104zm9-1zm-123 6zm43 0zm13-1zm37-3z"/><path stroke="#e40000" d="M694 143zm-2 10zm35-8z"/><path stroke="#00b5ff" d="M659 115zm6 2zm9 0zm22-1zm-62 14zm11-10zm3 4zm0-4zm13 2zm52-1zm-68 58zm81 5zm14 7zm-97 5zm3-1zm4 3zm15-4zm8 3zm2 0zm2-3zm7-1zm18 6zm1-6zm17 0z"/><path stroke="#ffa700" d="M673 142zm8-9zm7 10zm2-6zm-25 15zm28-1zm5-3zm10-1zm-29 20zm9-11zm20 2z"/><path stroke="#0091ff" d="M634 114zm14-3zm9 6zm13-5zm5 4zm21-1zm4-1zm6 0zm-72 12zm5-5zm0 8zm10-9zm21 2zm-27 65zm-3 8zm1 3zm13 0zm15-2zm3 2zm4-1zm1 0zm4 1zm3-1zm1 1zm6-4zm0 4zm13-2zm11-1z"/><path stroke="#0000e3" d="M669 77zm10-2zm14-1zm18 6zm15 3zm-65 1zm2 9zm2-1zm15 2zm1-7zm21-3zm7 5zm1 3zm4 2zm3 1zm-85 12zm11-5zm15 0zm2-2zm1 4zm0 3zm18-9zm6 9zm0-1zm5-8zm1 6zm3 1zm12-1zm2-8zm2 6zm15 1zm2 4zm5-10zm-92 20zm2-8zm5 1zm17-2zm4 0zm1 1zm8 5zm9-6zm19 4zm0-1zm-69 11zm-2 76zm5 0zm23 2zm7 1zm2 1zm35 0zm38-2zm-89 5zm51-1z"/><path stroke="#ffea00" d="M685 122zm1 5zm5 1zm-31 11zm1 4zm2-3zm8-3zm3 5zm2-3zm1-4zm1 7zm4-5zm11 0zm6-2zm-61 14zm26-3zm1 3zm1 6zm2-11zm1 3zm2 3zm9 3zm1-3zm-32 6zm6 6zm7-2zm2 4zm1-3zm5-2zm6-1zm1 4zm4 3zm0-9zm5 8zm3 2zm1-6zm3-1zm1-1zm0 7zm-37 5zm0 3zm15-4zm11 2zm21 1z"/><path stroke="#a7ff50" d="M683 125zm3 3zm21 0zm-74 9zm18 1zm0-4zm3 4zm16 4zm2-8zm1 0zm2 1zm1-1zm-37 13zm3-2zm1 6zm1 3zm11-3zm6-4zm5 6zm-31 9zm5-3zm1 5zm3-6zm9 0zm10 5zm3-6zm0 2zm12 1zm-57 10zm16-1zm1 3zm4 6zm11-1zm5-4zm1 2zm2-6zm2 5zm4 4zm3-6zm5 4zm1 1zm11 0zm3 0zm6 0zm8-7zm2 5zm-55 11zm11-4z"/><path stroke="#ff4300" d="M628 136zm58 4zm12 3zm4 0zm-22 4zm9 1zm4-3zm4 8zm5 0zm-75 7zm1 8zm1 13z"/><path stroke="#000092" d="M678 69zm17-4zm0 3zm3-3zm9 5zm15-3zm5 4zm3-4zm0 4zm-83 3zm13 8zm6-5zm1-2zm29 7zm3-3zm7 4zm17-4zm1-2zm0-5zm7 6zm19 0zm-91 9zm9 5zm8-1zm3-4zm1 6zm2-2zm2-7zm3 1zm2 9zm3-4zm2 1zm4-1zm4-4zm0 9zm0-3zm1-5zm6-1zm1 3zm1-3zm0 3zm5-2zm3 5zm6-1zm1 4zm1-11zm4 11zm4-7zm12-3zm-102 12zm7 1zm1 1zm2 6zm11-3zm6 0zm3-6zm2 7zm17-2zm2 2zm8 2zm1 2zm9-3zm15 3zm-86 2zm6 1zm14-1zm36-1zm-4 95zm-11 4zm36 0zm10-1z"/><path stroke="#006dff" d="M668 102zm-42 10zm18 7zm4-2zm17 2zm4-7zm3 1zm1-2zm5 0zm20 3zm-51 11zm5-4zm15 0zm67 69zm-107 2zm41 9zm1-5zm12 6zm13-4zm7-2zm4 7zm8-8zm44 4zm6-5zm-19 13z"/><path stroke="#ff1e00" d="M694 142zm-6 6zm2-4zm5 5zm5 1z"/><path stroke="#0000e3" d="M717 68zm5-2zm-60 16zm8 1zm9-7zm15-3zm6 9zm1-4zm1 2zm14 3zm22-9zm-89 21zm5-7zm1-1zm0 0zm5-3zm6 7zm8-4zm5 6zm2-7zm6 6zm4 0zm10-2zm3-1zm6 0zm3 6zm8-5zm5 3zm4-3zm5-5zm-107 17zm7 1zm9 2zm9 0zm1-9zm2 9zm4-3zm22 2zm7-5zm5 3zm1-6zm3 11zm5-10zm0 5zm8-2zm-54 10zm15 3zm6 0zm3-3zm18-1zm52 93zm-81 3zm20 0zm29 0zm16 7zm30-7z"/><path stroke="#0000bb" d="M703 71zm4-2zm-51 10zm17 4zm2 0zm13-5zm18-1zm9 4zm17-4zm-89 15zm21 2zm1-6zm8 4zm8-4zm8 6zm2-5zm2 1zm15-3zm2 1zm0-4zm14 7zm2-6zm-90 16zm1 2zm1 1zm6 1zm4-3zm2-5zm5 2zm6-3zm3 11zm6-10zm5 10zm4-9zm1 7zm4-5zm20-2zm2 5zm6-7zm-73 17zm8-5zm43 4zm-47 90zm16 3zm16 4zm74-4z"/><path stroke="#8aff6d" d="M663 131zm3-1zm5-4zm5-2zm4 0zm3-1zm7-3zm8 5zm2 5zm3-2zm-55 11zm3 3zm6-7zm38-3zm-56 16zm2 2zm2 2zm1 3zm30-3zm11 3zm-50 8zm9-3zm1-4zm10 1zm14 0zm31 5zm-69 11zm9 3zm3 0zm3 2zm2-5zm2-5zm1 3zm2 5zm4 1zm5-5zm11 6zm5-5zm2 6zm3-1zm1-6zm6 7zm6-5zm3-4zm-37 12zm15 1zm1-3zm3 9zm5-4zm2-5zm2 0zm2 6z"/><path stroke="#50ffa7" d="M667 119zm-29 11zm3 0zm30 1zm4-7zm26-4zm1 3zm2-3zm-70 15zm4 2zm2 2zm35-7zm-45 17zm5 4zm10 23zm9 0zm0 3zm4-5zm3 5zm6-2zm1-2zm27 0zm-71 8zm7-1zm6 1zm2-3zm5 5zm0-4zm5 2zm1 2zm4 0zm6 1zm4 5zm2-6zm4 5zm5 0zm21-10zm4 4zm-54 9z"/><path stroke="#00b5ff" d="M636 118zm17 1zm19-1zm12-4zm8 2zm1 1zm-61 7zm14 4zm10-4zm13-4zm33 1zm-64 66zm2 4zm6-4zm93 2zm3-4zm8 1zm-117 10zm20 0zm11-4zm4 7z"/><path stroke="#a7ff50" d="M676 127zm-39 15zm5-6zm6 6zm7-3zm11 1zm1-2zm6-1zm4-4zm6-1zm-49 19zm5-6zm15 3zm1-1zm3 2zm10 0zm1 3zm12-5zm-44 18zm3 1zm13 1zm3-4zm3-1zm0-5zm1 10zm6-5zm-37 10zm4-3zm4 7zm11-8zm7 5zm0-1zm9 5zm1-5zm3 2zm1-2zm13 1zm0-3zm11 1zm6-3zm11 0zm-64 15zm4-2zm27-1zm4 6zm4-1zm2-2z"/><path stroke="#c4ff33" d="M670 131zm21-7zm4 2zm-47 15zm2-4zm4-2zm3 7zm13-8zm5 1zm2 5zm-37 10zm2-4zm2 7zm3-6zm0 0zm0 8zm0-8zm1 6zm6-1zm4-8zm2 6zm1-4zm4 6zm5-5zm17 8zm-51 5zm7 7zm5-11zm2 3zm3 5zm3-3zm2-3zm2 2zm3 3zm5 0zm2-2zm3 2zm2 2zm16 0zm-56 12zm18 2zm10-11zm9 5zm1-2zm1-2zm4 2zm2-2zm6 10zm13-11zm4 4zm1-1zm3-3zm-63 13zm20 0zm12-1zm14 5zm11-5z"/><path stroke="#0049ff" d="M631 100zm20-2zm27 8zm37 0zm-83 6zm4-1zm7 7zm4-1zm5-3zm2 3zm13-1zm3-3zm21 1zm8-2zm8 4zm-76 7zm1 71zm63 6zm56-3zm-53 8z"/><path stroke="#ff1e00" d="M691 140zm1 5zm1 5z"/><path stroke="#00d9ff" d="M677 118zm1 1zm12-6zm4 3zm-64 14zm5-4zm5 5zm9-11zm18 0zm4 0zm-30 13zm1 0zm0 40zm-8 12zm1 5zm4-3zm18 2zm5-3zm0 5zm13 0zm3-1zm11 1zm9-1zm23-4zm-91 11zm12-4zm3 0zm25 1zm16-2z"/><path stroke="#ffa700" d="M684 138zm2 3zm3-6zm2 3zm0-1zm4-5zm5 4zm0 1zm-20 14zm6 2zm3-1zm3 3zm16 0zm-50 1zm28 2zm3 4zm9-1zm3-1zm6-4zm1 2zm33-2zm-77 13z"/><path stroke="#ffea00" d="M652 143zm6-8zm5 7zm7-1zm5 1zm11-8zm-36 14zm0 5zm9 0zm10-8zm3 5zm6 5zm0-5zm9-1zm-37 14zm3-7zm8 3zm1 0zm1-1zm8-2zm0 2zm11 5zm10-7zm3 5zm3-3zm-44 11zm16-1zm11 4zm8 1zm2-2zm1 4zm3 0z"/><path stroke="#0024ff" d="M735 83zm-96 7zm34-4zm8 6zm12 0zm-48 14zm15-2zm2 1zm43-6zm-79 10zm11 5zm10 0zm4-2zm10 5zm5-2zm34-7zm6 4zm0 2zm-69 82zm1 0zm11-3zm6 8zm23-1zm2-1zm18 3zm36-7zm14 0zm12 1zm14 1zm-113 9zm26 4zm7 0zm58-4z"/><path stroke="#e4ff13" d="M693 128zm1 1zm-35 12zm12 2zm1 0zm18-7zm3-4zm4 0zm-60 19zm7-7zm3 10zm5-2zm2-8zm5 3zm2 3zm14 5zm-38 5zm9 2zm1 3zm7-2zm3-3zm4 4zm0 0zm1 3zm6 0zm2-3zm1-2zm1 0zm2 5zm9-6zm6 2zm15-1zm11 4zm-78 10zm5-7zm16-1zm6 3zm3 1zm26 5zm0-4zm3 4zm1-3zm1 2zm5-7zm8 3z"/><path stroke="#16ffe1" d="M636 118zm50 1zm7-2zm-69 10zm18 2zm4 2zm12-7zm2 3zm1-6zm-6 56zm-28 5zm8 1zm1 6zm3-6zm0 5zm60 2zm-21 2zm8 2zm8-2z"/><path stroke="#0001ff" d="M700 82zm37 1zm-84 10zm2-3zm23-1zm10 5zm5 1zm-48 8zm5-2zm8 6zm4-2zm5 0zm3-3zm4-2zm2-1zm12 5zm16-2zm9 0zm-76 10zm17 3zm5-2zm6-2zm6 0zm10 1zm6-1zm-50 91zm19-2zm18 1zm10-4zm50 2zm17 3zm-108 2zm4 1zm9 0zm6 0zm20 5zm1-6zm26 6zm13-5zm8 1z"/><path stroke="#ff8600" d="M674 147zm6-3zm4 6zm7 4zm1-2zm2 2zm3 0zm12 0zm-11 2zm4 6zm9-4zm3-1z"/><path stroke="#33ffc4" d="M683 118zm13 1zm-66 11zm2-2zm8-1zm12 4zm5-3zm0-1zm5 4zm6-1zm-27 9zm0-7zm27 3zm-38 18zm4 14zm-5 8zm3 4zm2-3zm6-1zm66 4zm-92 3zm36 8zm0-10zm8 5zm0-5zm14 9zm4 0zm12 0zm9-5zm2 7zm37-7zm-74 10zm5-1z"/><path stroke="#0091ff" d="M631 117zm4 2zm30 0zm6-4zm18 0zm-58 9zm5-2zm3 5zm7-6zm3 1zm5 9zm12-11zm0 3zm11-3zm34 71zm-79 3zm2-2zm15 6zm2 2zm1-5zm17 0zm11 7zm8-8zm3 3zm7-5zm0 4zm4 3zm3-2zm36 1zm-53 6z"/><path stroke="#000092" d="M672 70zm3-3zm24 0zm5-1zm5 3zm20-6zm0 8zm-56 10zm2-5zm10-1zm1 4zm1 3zm5-2zm3-2zm1 4zm5-8zm1 2zm4 5zm3-1zm4-7zm0 2zm3 6zm1-8zm1 9zm6 1zm3 0zm4-8zm1 5zm15-8zm-106 12zm4 10zm3-8zm10 0zm6 4zm6 1zm0 2zm5-3zm5 4zm1-6zm1 1zm5 3zm1 2zm4-4zm1-6zm2 7zm10-2zm1 2zm5 0zm2-5zm1 2zm1 7zm2-6zm4 0zm4 5zm8-6zm0-4zm-85 15zm2 1zm4 2zm4 0zm6-3zm5 0zm1 5zm4 0zm11 1zm3-9zm2 10zm2-8zm3 6zm0-4zm0-4zm1 0zm3 4zm1 2zm8 1zm0-7zm0 1zm1 0zm3 1zm8 0zm2 0zm-72 13zm7 1zm10 0zm-24 90zm32 4zm59 5z"/><path stroke="#006dff" d="M620 116zm22-4zm3 5zm1 0zm1 2zm10-7zm14 3zm2-7zm9 10zm1-6zm4-2zm13 0zm1 4zm-57 7zm9 2zm22-3zm-30 70zm-16 3zm9 1zm2 4zm13-1zm2 4zm4 2zm21-1zm11-4zm25-4zm39 6zm4 0zm2 0zm0-3z"/><path stroke="#ffc800" d="M685 131zm-17 12zm22-5zm-46 16zm25-5zm4 5zm3-6zm4 5zm1-4zm25 2zm1-1zm-44 9zm5 4zm10-5zm1 2zm1 0zm2 5zm13-2zm7-6zm-27 14zm4-3zm8 7zm12-5z"/><path stroke="#ff4300" d="M691 137zm2 4zm-4 4zm1 7zm1-5zm0 4zm-65 12zm66-7zm-65 20zm1-6z"/><path stroke="#6dff8a" d="M659 131zm16-5zm5 5zm1-4zm5-1zm2-3zm15 1zm-71 11zm12-3zm3 0zm2 8zm4-8zm12 5zm-28 14zm21 2zm-28 13zm6 1zm-19 6zm13 6zm3-9zm8 6zm5 3zm3-9zm7 7zm8-6zm3 8zm18-2zm10 0zm7 0zm-71 6zm3-1zm2 4zm16-6zm4 5zm9-4zm3 2zm1-1zm6 1zm2 5zm7-5zm6 3zm0-1zm2-3zm0-2zm2 7zm0 4zm4-8z"/><path stroke="#ff6400" d="M687 140zm11-1zm-19 13zm15-6zm3-1zm0 13z"/><path stroke="#00d9ff" d="M642 118zm14 0zm12-4zm19 4zm9-4zm-53 8zm1 6zm15-3zm1-5zm15 4zm0-3zm4-1zm-36 15zm-19 44zm6-5zm5 11zm3 4zm9-2zm6 3zm15-1zm4 2zm5 0zm8 0zm13-4zm45-4zm-96 12zm0 0zm2 3zm15-2zm14 1zm20-5zm28 5z"/><path stroke="#ff6400" d="M682 135zm18 2zm-10 15zm16 4z"/><path stroke="#6dff8a" d="M652 125zm18 2zm10-5zm6 1zm23 7zm7-1zm-85 9zm2 4zm3-9zm4 8zm2-2zm1 3zm11-7zm11 1zm-43 17zm7-4zm5 11zm17-3zm6 6zm2-6zm4 2zm63 3zm-101 10zm7 3zm3-4zm7 1zm1 2zm2-4zm1 5zm3 1zm5-3zm3-1zm3 4zm8-1zm30 4zm5-3zm35 0zm19-1zm-126 11zm6 0zm2 0zm4-5zm8 1zm14 4zm4 1zm25-3z"/><path stroke="#ff4300" d="M628 141zm0-3zm64 5zm2-1zm-13 4zm14 4zm3-4zm14-1z"/><path stroke="#ffa700" d="M685 127zm-9 16zm18-3zm3-5zm3 1zm6 4zm-26 10zm3-2zm11 1zm4-5zm4 7zm1 3zm-42 8zm22 2zm0-3zm2 1zm3 1zm1-3zm8-4zm1 5zm6-4zm3 0z"/><path stroke="#ffea00" d="M693 128zm9 1zm-45 13zm26-10zm2 2zm4 3zm1-2zm5-1zm-40 13zm4 8zm2-9zm2 0zm4 6zm4 3zm1-2zm6-1zm12 1zm-41 8zm8-2zm12 2zm2 3zm0-8zm2 3zm1 0zm1 1zm2 0zm0 3zm1-4zm12 2zm0 6zm1-7zm2 3zm2-7zm2 1zm4 2zm1 0zm1 5zm0-2zm5 2zm-58 11zm42-7z"/><path stroke="#0000bb" d="M712 61zm26 10zm2 0zm-66 12zm4-6zm4 1zm14-4zm0-1zm12 9zm3-3zm4 3zm3 1zm5-11zm1 6zm-96 16zm28-6zm15 6zm0 0zm2-7zm7 3zm9-4zm23 9zm16-2zm-80 11zm2 2zm3-2zm1 3zm14-8zm7 2zm14 0zm8 1zm11-2zm0-3zm8 8zm-70 7zm6-1zm50 0zm15 1zm-23 92zm7 4zm32 4z"/><path stroke="#0024ff" d="M695 69zm27 10zm-57 12zm3 3zm34-9zm0 1zm-37 15zm52 6zm-71 5zm3 1zm9 1zm1 3zm16-6zm1-1zm6-1zm21 0zm-62 93zm7 1zm6-5zm1 5zm54-6zm0 2zm3 0zm-75 6zm1 2zm2 2zm48-4zm65-1z"/><path stroke="#16ffe1" d="M638 129zm4 0zm5-1zm3 0zm-14 41zm119 5zm-106 10zm4 7zm0-9zm6 3zm9 6zm20-3zm8 3zm2-1zm-38 5zm1-1zm5-2z"/><path stroke="#000092" d="M700 65zm-17 15zm4-2zm0-2zm1 3zm11 1zm6-1zm1 0zm5-1zm4 3zm2 0zm4 0zm1-4zm1-4zm6 5zm5 2zm2 3zm7-1zm-101 12zm11-5zm3-3zm2 7zm2-1zm1-2zm15 1zm0 3zm3-7zm0 4zm2 2zm4-9zm2 3zm3 7zm6-10zm1 9zm5-3zm6 2zm1-7zm1 7zm4-1zm4 2zm5-4zm9 6zm5-11zm-105 20zm6 3zm10-8zm19-3zm5 8zm2-2zm0-6zm1 2zm0 8zm1-6zm2 4zm2 1zm6-3zm6 4zm2-9zm2 3zm3-3zm2 0zm10 7zm1-4zm3-4zm1 7zm8-5zm1 0zm-25 10zm-49 98zm21-2zm17 3zm47 4z"/><path stroke="#0049ff" d="M661 91zm31 3zm-13 5zm-52 19zm2-8zm3 8zm9-10zm6 9zm6-3zm4-2zm12 0zm12 2zm14-2zm8 1zm1 1zm-68 85zm6-5zm25 5zm3-1zm0 0zm7 4zm0-1zm17 0zm5-2zm62-1zm-72 8z"/><path stroke="#ffc800" d="M690 124zm-6 18zm1-8zm-40 10zm3 7zm2-7zm10 4zm10 0zm1-4zm8 8zm3 1zm6 0zm23-6zm-62 14zm40 0zm2-1zm1 2zm2-2zm0 4zm3 2zm-5 3z"/><path stroke="#8aff6d" d="M673 130zm33-5zm2 1zm-75 15zm6-1zm9 1zm0 0zm7 0zm4-9zm3 6zm5-1zm1-3zm0 3zm1 2zm-34 7zm13 5zm2-1zm16 4zm-34 6zm3 2zm5-1zm1-1zm1 4zm6 1zm22-6zm5 6zm14-1zm38-2zm-97 10zm6 2zm3-6zm6 9zm16-1zm4-3zm5 2zm3-4zm0-3zm1 8zm3-6zm2 6zm7-4zm2 6zm1 0zm0-2zm1-2zm0 1zm2 4zm4-2zm48-6zm-109 12zm19 5zm7-3zm6 0zm3-2zm0-3zm3 5zm0-1zm0-3zm4 2zm2 3zm2 5zm4-11zm10 0z"/><path stroke="#00b5ff" d="M637 116zm21 1zm11 2zm9-2zm34-1zm-83 12zm2 2zm11-10zm8 4zm1-1zm7 3zm10 5zm-32 51zm6 1zm3 8zm0 0zm43-2zm-57 4zm5 0zm4 1zm2 1zm1 1zm3-4zm5 3zm1 0zm16 4zm6-7zm3 0zm4 4zm7-2zm7-1zm65 2z"/><path stroke="#ff1e00" d="M682 147zm5 6zm5-7zm12 3zm5 2z"/><path stroke="#ff8600" d="M683 140zm5-2zm0-2zm1 1zm0-3zm2 7zm2 1zm7-5zm-28 11zm8-1zm6-3zm4 5zm4-1zm0 4zm-17 6zm13 8zm12-10z"/><path stroke="#33ffc4" d="M640 131zm4-8zm8 3zm4-1zm0 6zm43-11zm7 7zm-76 14zm8-8zm0 5zm4-6zm15 2zm9 0zm-39 15zm8 23zm14 6zm5-1zm0 2zm12-11zm11 9zm59-2zm-115 8zm5 7zm13-3zm3 0zm17-1zm0-2zm1 1zm8 3zm15-4zm3 1zm13-5zm28 0zm20 6zm-89 6zm11 0zm5 3zm1-3zm17 1z"/><path stroke="#e4ff13" d="M682 129zm6-5zm10 5zm-30 14zm8-10zm3-1zm10 4zm13-1zm-70 19zm9-3zm2-7zm8 10zm6-6zm1 3zm4-2zm4-1zm1-2zm2 8zm9-2zm-36 12zm12-2zm0 3zm5-9zm1 0zm1 4zm17-1zm14 5zm7 1zm1-1zm2 1zm-34 3zm8 5zm4 1zm10-5zm3 3zm3 6zm1-1zm1-6zm5 5zm-31 6zm6 0z"/><path stroke="#e40000" d="M690 152z"/><path stroke="#0091ff" d="M670 119zm1-5zm5 4zm34-5zm1-1zm-78 9zm12 3zm-26 73zm11-4zm13 2zm14 3zm16 3zm6-6zm0 8zm2-11zm16 3zm3-1z"/><path stroke="#50ffa7" d="M685 116zm-51 10zm12 5zm3-6zm0 3zm6 3zm1 0zm1-4zm6 0zm1-1zm8-1zm3 4zm2-4zm6-4zm-57 17zm1 5zm3-11zm0 10zm4-2zm2-3zm17-1zm2-2zm4-1zm-21 18zm-8 11zm2-3zm4 2zm29-5zm65 10zm-98 11zm5-4zm8 2zm3-2zm2-2zm16 6zm1 0zm3-3zm8-3zm83 2zm-130 12zm2-5zm1 4zm0 5zm8-2zm11 1zm0 0zm4-1zm3-2zm5-2zm0 5zm25 2zm14 1z"/><path stroke="#006dff" d="M637 112zm14 6zm6-3zm2 2zm49-1zm-72 4zm10 71zm-15 6zm17-5zm5 9zm5-7zm0-2zm1 8zm5-4zm7-2zm14 6zm50-7zm3 0zm7 1zm12 5zm1 0zm-92 11z"/><path stroke="#0001ff" d="M684 71zm11 12zm-48 8zm15 3zm10-10zm2 1zm5 7zm1-5zm5 4zm5-1zm26 4zm1 1zm-80 4zm7-2zm27 8zm0-2zm0 1zm6-1zm0 1zm15-6zm4 6zm0-1zm26-3zm-89 11zm10 1zm0-2zm9 5zm1-3zm28 1zm5-3zm7-1zm10-1zm4 2zm4-2zm-75 14zm-7 78zm1-1zm5-1zm14-1zm8 4zm5 2zm7-2zm34 1zm7 0zm47-10zm-99 20zm47-6zm31 1z"/><path stroke="#a7ff50" d="M680 128zm3 3zm-51 11zm17-4zm7 5zm11-10zm1 4zm4 2zm7-6zm1 2zm-52 17zm1 0zm0 3zm4-10zm1 1zm0 1zm2 7zm1-10zm1 4zm3-3zm6 4zm2-1zm2-3zm5 8zm1-2zm-19 5zm9 10zm12-1zm5-6zm5 4zm5 4zm-36 10zm3-2zm1 0zm1-5zm2-2zm6 6zm8 5zm7-11zm2 8zm1-7zm7 5zm3-6zm4 3zm2 6zm4-4zm7-3zm5 2zm0-1zm2-3zm14 1zm-75 12zm13 8zm32-6zm6-1zm2-2zm2 5z"/><path stroke="#0000e3" d="M719 69zm-43 4zm5 1zm16 8zm39-7zm2 5zm-85 7zm1 8zm14-10zm7 6zm1-5zm3 3zm2 6zm26-8zm6 1zm6 7zm10-4zm-94 11zm24-2zm3-4zm8 10zm1-5zm2 1zm2 3zm2-1zm3-3zm13-4zm7 8zm0-4zm5 5zm17-2zm1-8zm-88 15zm19-3zm51 7zm1-4zm-52 91zm23-3zm54-4zm22 10z"/><path stroke="#c4ff33" d="M672 131zm17-5zm-44 17zm12-3zm40-4zm-68 15zm15 4zm1-1zm8-6zm1 2zm1 0zm7-4zm5 6zm6 2zm5 0zm-36 13zm11-7zm6 0zm2 7zm6-5zm5-2zm3-4zm41 5zm-79 12zm1 3zm34-5zm5 1zm2 6zm0-3zm7-4zm0 4zm8 3zm5-1zm32 2zm0-10zm-51 12z"/><path stroke="#6dff8a" d="M628 131zm17-3zm54-7zm1-1zm-55 22zm2-6zm28 3zm-43 11zm5 0zm10 2zm-25 4zm9 7zm5 4zm6-5zm-10 15zm6-6zm12-3zm21 4zm5 6zm13-5zm6 6zm9-4zm20-5zm-83 11zm8 9zm1 0zm4-8zm0 4zm0-3zm5-1zm6 1zm10-3zm3 0zm1 5zm9-3zm8 6zm7-3zm2-4z"/><path stroke="#0000bb" d="M688 71zm7-1zm5-8zm4 3zm9 5zm4-3zm-34 15zm18-3zm12 0zm2-5zm13 6zm-54 10zm0-5zm1 1zm3 6zm4-1zm6-6zm3 6zm1 4zm1-10zm0 10zm3-3zm4 1zm0 0zm3-3zm6-5zm6-1zm4 4zm2 6zm6-1zm2 0zm-90 3zm11 4zm1 7zm8-7zm0 0zm1 2zm0-5zm5 9zm6-10zm2 6zm6-1zm3-3zm15 7zm17-3zm3 5zm8-8zm-89 10zm20 6zm23-6zm4 1zm86 91z"/><path stroke="#0024ff" d="M669 76zm8 5zm24 14zm6-10zm4 3zm-77 12zm36 4zm31-4zm-69 15zm15-1zm6 4zm6-5zm12 3zm25-5zm-58 89zm5 3zm2 0zm3-3zm12-1zm19 1zm16 1zm46-3zm-69 6zm9 5zm3-4zm7 4z"/><path stroke="#ff6400" d="M684 141zm7-8zm-25 14zm8 8zm18-8zm2 3zm3-2zm0 6zm1-2zm-9 9z"/><path stroke="#e4ff13" d="M686 131zm1-2zm9-3zm-35 17zm7-7zm2 3zm7-4zm3 3zm8-5zm-59 11zm16 8zm4 2zm1-2zm2-6zm12 2zm5-2zm1 3zm1 6zm2-6zm-39 14zm1-4zm3 5zm2-6zm5 2zm0 1zm0 2zm2 1zm7-3zm2 3zm1-2zm2 0zm1-3zm4-3zm0 5zm11-1zm1 5zm0-3zm6 0zm2-2zm0-4zm0 8zm10 1zm1-5zm-35 10zm10 1zm0 2zm2 4zm2-8zm6 8zm3-8zm1 8zm15 1zm3-8zm3 4z"/><path stroke="#8aff6d" d="M673 131zm10-4zm5 0zm14-2zm3 2zm-71 9zm8 6zm13 1zm15-10zm1 9zm12-9zm-51 19zm3-1zm3-5zm1 5zm2-7zm2 3zm5 1zm-30 10zm12 9zm12-5zm2 3zm0-3zm12 5zm-11 3zm8 3zm0 0zm4-5zm13 9zm2-1zm7 0zm2-1zm3-2zm12 2zm1-5zm10 7zm-61 8zm6-4zm3 2zm4 3zm3-2zm1 1zm26-1zm8 3z"/><path stroke="#ffea00" d="M693 128zm5-1zm-20 16zm20-6zm2 1zm5-4zm-55 14zm5 1zm2 1zm0 4zm12-6zm5-2zm2 2zm33 6zm-73 5zm10-2zm18 6zm7-5zm11 6zm-50 6zm34 2zm23 0zm2-4z"/><path stroke="#0091ff" d="M637 113zm3 4zm10-1zm2 2zm1-9zm1 10zm16-7zm10 4zm6-2zm6 0zm6-1zm5 1zm-60 8zm1 4zm16 5zm-35 52zm13 7zm108-9zm9 10zm-109 6zm1-2zm10 6zm2-3zm1 0zm0 1zm6-3zm2 3zm7-7zm17 5zm10 2zm6-6zm1 0z"/><path stroke="#ff8600" d="M686 142zm3-1zm10-8zm-35 20zm5 1zm6 1zm10-5zm5-6zm1 8zm10 1zm6-3zm-10 14zm14-5z"/><path stroke="#ffa700" d="M689 136zm6 7zm1-4zm4-7zm-34 17zm7 0zm9 0zm16 5zm5-6zm8 5zm12 1zm-48 2zm3 3zm6 3zm5-4zm0-2zm1 3zm14 7z"/><path stroke="#ffc800" d="M667 142zm7-1zm9-6zm9 4zm-59 14zm23-8zm2 7zm3-4zm8-4zm7 5zm1 5zm4-2zm15 2zm0-6zm7 1zm-65 7zm26 4zm11 4zm5-6zm4 5zm2 1zm1 3zm1-2zm5-6zm13 4zm1-5zm-52 15zm28-4zm2 0zm12 3z"/><path stroke="#00b5ff" d="M658 112zm-31 11zm7-2zm13 4zm1-3zm2-1zm8 0zm-11 11zm-14 40zm-2 18zm9-4zm4 1zm8 4zm60 0zm14 0zm-98 6zm0-2zm39 0zm15-3zm2 3zm0 0z"/><path stroke="#0049ff" d="M674 70zm-30 22zm28 11zm8 0zm36 4zm-82 8zm2 2zm3 0zm5-4zm4 2zm2 2zm36-2zm24-2zm-67 12zm58 65zm-68 2zm4 3zm2 1zm24 5zm7-1zm1-1zm11 2zm8-6zm1 4zm15 1zm35 3zm-65 1z"/><path stroke="#00d9ff" d="M642 113zm39 4zm1 2zm21-6zm-66 15zm2 1zm2 1zm16-9zm4 2zm2-2zm50-1zm-82 12zm5 6zm124 39zm-138 7zm18-1zm33 8zm20-4zm7 4zm27 0zm12-6zm7-2zm-95 9zm5 1zm10 2zm12 1zm5-4z"/><path stroke="#50ffa7" d="M695 119zm-65 9zm12 2zm7 1zm2 0zm6-3zm4 0zm1-1zm1 2zm6-5zm0 1zm4 4zm25-6zm12 2zm-79 14zm4 1zm2-3zm1-1zm2 2zm8-1zm1 2zm10 0zm11-4zm-33 21zm-3 22zm5-8zm15 4zm0-2zm34 7zm2 0zm38-3zm1 1zm-105 7zm13 1zm1-2zm1 2zm2-3zm11-1zm2 1zm17 2zm16 6zm9-2zm-51 5zm52 1z"/><path stroke="#0001ff" d="M681 82zm0-4zm15-6zm1 0zm41 10zm-95 7zm10 2zm10-2zm14 3zm21 2zm1-4zm23-4zm-93 18zm36-5zm13 1zm1-4zm11 3zm2 2zm23-1zm4-4zm-74 18zm6-5zm8-1zm30 1zm0 2zm10-2zm9 0zm-78 88zm66 2zm2 2zm2 1zm35-6zm-96 10zm28 2zm4-1zm7 5zm26-6zm28 0z"/><path stroke="#c4ff33" d="M679 128zm3-4zm8 4zm4-3zm-44 15zm21 0zm8-3zm1 0zm7-4zm-57 19zm2-7zm8 1zm3-1zm1 1zm3 2zm5-1zm0-1zm2-2zm0 2zm2 7zm2-3zm8-2zm8 5zm6-4zm-43 17zm1-7zm11 2zm1-2zm1 6zm17-3zm2-1zm1 1zm1 1zm2 4zm7 0zm3-2zm19-2zm-59 6zm8 0zm6 0zm2 7zm1-8zm1 10zm5-3zm2 4zm4-6zm18-5zm7 8zm26-5zm-53 14zm14-5z"/><path stroke="#16ffe1" d="M684 117zm13 0zm-68 13zm8-6zm10 7zm4-2zm0 0zm3-1zm2 0zm5-1zm3 0zm7-1zm8-5zm-42 53zm5-6zm-22 13zm8-1zm3 11zm3-11zm4 2zm0 6zm8 2zm21 0zm11-2zm27 2zm18-3zm32-1zm-117 7zm14-1zm19 0zm101 1z"/><path stroke="#ff1e00" d="M697 142zm-4 10zm3-6zm2 0zm1 0zm0 1z"/><path stroke="#a7ff50" d="M683 126zm3 0zm1 5zm15-1zm-55 6zm6 1zm11 0zm3-3zm1 2zm0 4zm-44 5zm8 6zm8-6zm1 8zm12-9zm-26 19zm1-1zm3-6zm1 9zm0-5zm5 4zm11-6zm4 7zm3 2zm2-4zm17 4zm1-5zm40 2zm-81 5zm0 9zm23-1zm3 2zm1-7zm2 7zm6-4zm2-6zm16 0zm5-1zm5 5zm9 3zm-72 4zm6 6zm12-5zm0 1zm8 1zm2 3zm2-4zm2 2zm31 0zm5-2z"/><path stroke="#0000e3" d="M726 70zm-47 12zm5-4zm1 5zm12-7zm1 2zm8-2zm3 5zm2-7zm14 3zm8 5zm-72 5zm7 3zm8 1zm4 0zm9 3zm2-9zm2 1zm2-2zm2 4zm6-3zm10-1zm8 4zm-90 15zm9 3zm11 1zm4-8zm0 2zm1 4zm6-3zm1 1zm5 1zm18 1zm3 0zm1-7zm1 2zm4 0zm0 0zm2 3zm2-3zm2 3zm7 0zm6-4zm16-2zm-89 11zm46 4zm7-3zm-56 93zm14-2zm46 3zm-59 3zm23 5zm30-6zm9 7z"/><path stroke="#ff4300" d="M628 133zm85 12zm-86 20zm2 1zm64-10z"/><path stroke="#33ffc4" d="M697 119zm-58 8zm17 1zm4-4zm7-2zm10 2zm27-3zm-60 20zm20-7zm-33 40zm2-1zm13 6zm3-6zm-22 12zm13 0zm9 6zm9-8zm1 2zm1-1zm0 7zm1-10zm5 5zm20 0zm10 1zm6 1zm3-6zm2 9zm0-1zm15-1zm-53 5zm0-2z"/><path stroke="#006dff" d="M647 104zm-15 14zm4-7zm12 7zm7-1zm13-1zm16 0zm1-3zm2 0zm7 0zm-65 10zm9-2zm43 70zm-38 4zm25 5zm4-4zm7 3zm4-4zm16 0zm8 2zm2 0zm18 6zm24 0zm-96 3zm3 6zm29-7z"/><path stroke="#000092" d="M695 69zm0 0zm1 1zm8 0zm-35 6zm8 6zm2 0zm6-5zm11-5zm1 10zm7-4zm10 5zm9-2zm2-2zm3 1zm10-6zm12 8zm-105 9zm1 0zm2-2zm3 4zm3-6zm4 7zm2 1zm6-1zm1-8zm5 3zm1-1zm1 3zm2 4zm6-6zm1-3zm1-1zm6 1zm4-1zm3 10zm1-7zm1-4zm0 10zm11 0zm3-10zm3 10zm0-6zm4 3zm2 1zm-82 10zm2 5zm8-9zm1 3zm2-5zm2 4zm0-4zm0 8zm1-1zm1-2zm0 0zm15 1zm4-5zm2 4zm4-3zm1 5zm4 3zm1-5zm1 6zm1-9zm0-2zm4 3zm5 3zm5-5zm0 10zm5-4zm6-3zm1 5zm7-9zm-29 13zm18 2zm40 89zm-113 5zm11 0zm63 3z"/></g></g><text x="342.2" y="16.8" font-size="12.0" fill="#303030" text-anchor="middle">LL</text><rect x="430.0" y="25.5" width="86.0" height="83.0" fill="#fdfde9"/><path d="M426.5 87.6H516.0M426.5 62.1H516.0M426.5 36.6H516.0M462.0 25.5V112.0M515.0 25.5V112.0" stroke="#ece6c8" stroke-width="0.9" fill="none"/><text x="462.0" y="118.8" font-size="8.8" fill="#4f5d64" text-anchor="middle">0</text><text x="515.0" y="118.8" font-size="8.8" fill="#4f5d64" text-anchor="middle">5</text><g clip-path="url(#cA03)"><g transform="scale(.5)" fill="none" stroke-width="4.48" stroke-linecap="round"><path stroke="#ff6400" d="M947 74zm-46 17zm8-4zm1-1zm5 4zm1 4zm1-5zm17 5zm0-3zm-30 7zm12 4zm2-3zm8 3zm0 0zm2-6zm10 4zm5 1zm0 4zm3-7zm2 7zm1-5zm1 0zm0 3zm5 0zm14-3z"/><path stroke="#0000bb" d="M954 138zm-45 13zm14 3zm9-4zm-44 13zm1 0zm29-5zm17-2zm21 1zm1 6zm-58 16zm15-3zm31 0zm13-4zm20-1zm5 6zm-104 6zm9 7zm15 1zm4-3zm6-3zm3 4zm6 0zm7-9zm10 5zm15 6zm5-10zm21 10zm0-7zm-96 9zm13 10zm2-10zm0 10zm6-3zm4-4zm7-2zm1 7zm6 0zm0-5zm4 1zm6 6zm6-3zm9 1zm2 0zm7-8zm1 9zm-48 3z"/><path stroke="#c4ff33" d="M886 107zm0 8zm16 2zm9-5zm0 0zm15 1zm23-1zm10 0z"/><path stroke="#6dff8a" d="M888 115zm3 1zm17 3zm2-1zm12-4zm1 5zm39-3zm-45 5zm4 0zm12 0zm4 4z"/><path stroke="#00b5ff" d="M893 127zm0 2zm4-3zm3 5zm8-3zm19 1zm3-2zm4-5zm3 1zm21-2zm3 7zm-73 12zm7-7z"/><path stroke="#ffea00" d="M894 102zm11 5zm1-9zm12 9zm-17 1zm7 0zm13 4zm8-1zm3 0zm4 0zm5-1zm9 5zm0-5zm7 3zm11-5z"/><path stroke="#0024ff" d="M894 131zm1-1zm6-2zm-9 6zm0 2zm4 3zm3 4zm2-11zm0 4zm5 7zm0-2zm11-1zm2-4zm0 1zm5-2zm5 0zm1-1zm3 2zm7-2zm4 1zm10-3zm0 4zm-67 17zm1-7zm0 1zm2 7zm3-7zm2-3zm2 1zm4 6zm0 4zm1-7zm8 5zm5-7zm5 7zm4-5zm3 6zm7-10zm1 0zm11 1zm0 5zm1 1zm1-5zm4 0zm5 2zm3 3zm1-1zm-77 15zm2 0zm2 2zm3-2zm4-1zm5-7zm3 4zm2 4zm9-9zm12 7zm5-1zm1-3zm3 8zm0-6zm7 4zm1-6zm0 2zm1 5zm2-10zm6 7zm0-2zm2 1zm26 0zm-109 11zm18-2zm2 5zm4-5zm4-1zm1 8zm2-5zm4-2zm18 1zm2-1zm11-2zm2 8zm1-8zm3 7zm6 1zm8-9zm0 1zm52 5zm2 1zm-121 16zm4-8zm19 2zm0 1zm6 0zm10 5zm2-8zm18-3zm2 5zm-60 17zm2-4zm7 0zm3-2zm92 2z"/><path stroke="#ff1e00" d="M957 71zm-22 11zm2 0zm16-2zm7-4zm7 3zm-69 13zm4-3zm5 3zm2-2zm1-2zm1 2zm16-4zm38 3zm6 6zm9-2zm-56 4zm3 5zm9-4zm12 3zm12 2zm6-7z"/><path stroke="#ff8600" d="M907 93zm-18 10zm16-2zm4-5zm10 3zm1 3zm2-3zm4 5zm25-1zm14-3zm5 3zm16-6zm-59 11z"/><path stroke="#e4ff13" d="M902 104zm13 3zm-24 5zm11 0zm3-3zm7 6zm1 0zm8 0zm1-7zm2 4zm15 4zm0-3zm6 1zm7-1zm1-1zm1-2z"/><path stroke="#0091ff" d="M896 136zm9 18zm13-1zm7 2zm4-9zm19 7z"/><path stroke="#a7ff50" d="M886 112zm3-1zm8 1zm3 5zm0-1zm1 1zm1-2zm3-3zm5 3zm3 2zm0-4zm12 1zm10 3zm3-3zm9 3zm5-3zm5 0zm2 1z"/><path stroke="#33ffc4" d="M948 116zm1 3zm2 0zm-11 4zm4-3zm9 0z"/><path stroke="#e40000" d="M926 70zm16 1zm7-6zm32 6zm11 0zm-71 4zm8 1zm6 2zm15-4zm10 5zm-67 11zm34-2zm6 5zm3-4zm24 2zm3-2zm0-4zm12 3zm5 7zm-32 2zm5 0zm23 1zm1-2z"/><path stroke="#0049ff" d="M894 131zm28 0zm23-3zm6-3zm5 0zm4 0zm-78 8zm2-1zm0 10zm1-10zm2 11zm1-4zm2-2zm15 1zm6-3zm10-2zm1 4zm2 2zm6 1zm3-1zm1-2zm6 5zm8-2zm5-2zm-75 7zm5 10zm1-2zm3-8zm5 6zm4-3zm5-1zm7-3zm1 6zm3 3zm8-1zm14-5zm5 8zm2-6zm11 4zm10-6zm-81 13zm8 2zm5-4zm0 8zm2 1zm12-6zm4-5zm1 6zm10 1zm2 1zm0-2zm3-6zm1 0zm6 9zm1-3zm29-4zm-90 16zm7-6zm4 9zm20-8zm7 6zm5 2zm5-2zm2-6zm15 3zm12 4zm-67 6zm0-2zm8 7zm5-6zm15 5zm50 11z"/><path stroke="#ff4300" d="M907 91zm0-4zm13 7zm2-9zm3 9zm16-2zm4-1zm26 4zm10-2zm-72 7zm9 7zm3-11zm11 5zm0-1zm10 4zm6-2zm9-5z"/><path stroke="#50ffa7" d="M874 116zm33 3zm1-2zm3 0zm26 1zm3 1zm-48 2zm39-1zm17 0z"/><path stroke="#0000e3" d="M921 142zm25 1zm5-1zm2-2zm1-3zm-63 14zm12-3zm6-1zm1 6zm5-3zm19-1zm11-2zm7 1zm0 6zm15-9zm-77 13zm23 7zm5-4zm10 6zm1-3zm14-2zm0-1zm9-3zm6 4zm0 4zm-71 13zm6-11zm6 7zm8-6zm0 7zm2-4zm1 5zm1-9zm0 9zm1-3zm3 5zm3-10zm4 4zm5-2zm3 7zm9-4zm11 1zm2 1zm1 2zm4-2zm4 1zm21-1zm-104 8zm10 5zm4-7zm0 6zm2 3zm2-4zm1-2zm7 5zm7-1zm4-2zm11 4zm1-7zm2-1zm2 8zm1-11zm1 5zm14-2zm10 2zm20-3zm32 9zm-127 6zm3 0zm9 1zm2-4zm4 3zm0-4zm2-1zm1 5zm1 1zm2-3zm0-3zm4 8zm8-4zm1-2zm1-2zm2 5zm2 1zm8-2zm16-4zm40 7zm7 4zm4-9zm13 5zm2-3zm3 1zm-124 9zm0-2zm0 1zm16 1zm15-1zm14 2zm4-2zm17 1zm31 5z"/><path stroke="#8aff6d" d="M890 117zm6-4zm1 5zm44 1zm24-7z"/><path stroke="#16ffe1" d="M881 123zm20 2zm1-1zm14 2z"/><path stroke="#00d9ff" d="M883 123zm2 0zm10 7zm4-7zm7 2zm11 2zm1-1zm5-2zm0 1z"/><path stroke="#ffc800" d="M901 104zm13 0zm8 0zm7 3zm40-1zm-62 3zm1 1zm15-1zm9 3zm11-3zm3 1zm8-2z"/><path stroke="#0001ff" d="M910 131zm52-5zm-70 7zm2 5zm11-4zm12 8zm3-2zm11-5zm2 2zm6-3zm9 9zm-72 10zm15-9zm4 9zm0-8zm1 1zm3 2zm2-1zm3 1zm7 3zm1 1zm1 3zm2-7zm4 4zm4-5zm2 3zm5-5zm4 5zm1-1zm5 4zm6-1zm0-6zm2 3zm4-3zm-68 17zm0 4zm2-7zm0 0zm6 4zm4-3zm5 4zm0-1zm1-6zm1 3zm6-4zm3 1zm0 4zm5 1zm5 4zm1-6zm2-3zm1 4zm3 3zm10-3zm3-6zm2 4zm3-4zm1 2zm4 2zm0-4zm6 1zm3 1zm20 4zm3 4zm-96 12zm3-6zm15 0zm2 4zm4-7zm0 4zm0-5zm6 3zm3 6zm3-9zm4 1zm2 8zm1-5zm0 6zm2-3zm3-5zm1-1zm2 2zm5-2zm3 3zm2 7zm6-8zm2 1zm1-1zm6-3zm21 11zm7-3zm-101 10zm4-4zm5 3zm1-5zm3 1zm0-1zm4 5zm0-2zm1 0zm3-1zm6 8zm1-9zm0 0zm4-1zm21 10zm2-4zm3 1zm2-3zm0 3zm2 4zm3-9zm44 1zm4 3zm-92 8zm9 0zm25 3zm6-5zm59 9zm0-9zm17 5z"/><path stroke="#006dff" d="M884 130zm2-2zm6 2zm1-1zm5-3zm2 5zm3 0zm26-7zm12 7zm7-6zm4 2zm-58 5zm11 10zm19-1zm4 1zm1-7zm1-2zm8 5zm3 2zm5-1zm-57 14zm2-2zm7 3zm10-10zm8 9zm4-6zm2 2zm8-3zm20 2zm-64 12zm6-4zm4 6zm4 4zm2-10zm13 8zm5 3zm25-2zm-26 8zm-34 12zm66-1z"/><path stroke="#bb0000" d="M949 68zm27-1zm-56 10zm7 4zm0 2zm14-1zm10-10zm2 7zm11-1zm7-5zm1 10zm13-8zm-55 16zm14 3zm1-5zm2 1zm1-1zm3 6zm5-9zm9 5zm6-2zm8 5z"/><path stroke="#000092" d="M927 134zm18 7zm-17 23zm8-1zm1 0zm27 0zm-70 13zm5-3zm10-2zm6-1zm25 9zm-60 11zm16-1zm3 2zm15-7zm4-2zm17 5zm5-2zm1-2zm13 1zm39 5zm3-4zm-83 18zm3-3zm14-3zm4 5zm15 1zm1-6zm0 2zm3 0zm1 3zm2-3zm0 0zm1 3zm1-6zm2 6zm15 1zm42-9zm-124 12zm20-1zm3 0zm5 3zm5-4zm20 1zm3 2zm7-3zm30 0zm2 7zm1 1zm9-5z"/><path stroke="#920000" d="M938 71zm11-2zm4-2zm1-2zm4 5zm9-1zm17 2zm-49 3zm6 4zm9-6zm1 4zm12 4zm1 3zm1-4zm0-1zm4-4zm9-2zm14 2zm1 5zm11-1zm-76 7zm2 6zm3-4zm10-2zm0 5zm14-3zm4 0zm3-3zm12 8z"/><path stroke="#ffa700" d="M915 91zm-33 11zm17 4zm36-2zm1 0zm15 1zm1 2zm4 0zm3-1zm4-3zm8 4zm5-3zm-60 7zm24-1zm17-2z"/><path stroke="#0091ff" d="M882 131zm2-3zm4-2zm3 2zm9 0zm3-3zm2 4zm5 2zm14-3zm7-4zm3 4zm8-1zm-56 8zm2 1zm13-4zm6 0zm6 9zm31-5zm-63 13zm32-2zm31 14z"/><path stroke="#ffea00" d="M904 101zm66 4zm13 2zm-72 3zm0 5zm12-3zm3 1zm5 1zm2-5zm3 0zm8 4zm0-1z"/><path stroke="#0024ff" d="M883 128zm13 1zm19-1zm39 2zm-63 7zm11 4zm2-1zm4-5zm2 8zm5 0zm7-7zm18 5zm1-8zm1 10zm3-10zm7 10zm-58 3zm2-1zm3 7zm8-4zm4 2zm0-2zm1 3zm1 2zm1-5zm4-2zm1-2zm4 0zm2 0zm5 5zm3 3zm10-7zm2 9zm2-4zm1-1zm-62 10zm4 4zm1 2zm6 2zm2-2zm0-5zm8-4zm1 7zm2 0zm1 0zm2-3zm4-1zm1 4zm1-7zm1 3zm4 0zm3 0zm4 4zm2 4zm3-2zm2 0zm0-3zm13 2zm5-5zm4-3zm17 1zm-99 22zm11-2zm3 0zm1-7zm4 4zm0 2zm2 1zm0-9zm4 11zm2-8zm2 6zm10-6zm2 1zm1-4zm1 7zm1-1zm0 1zm5-2zm5-2zm9-2zm3 5zm2-5zm0-1zm5 6zm-70 8zm0 3zm4-2zm3-1zm2 7zm4-9zm0 2zm1 7zm1-6zm1-2zm1 3zm6 6zm1-8zm5 7zm19 1zm2-4zm30 4zm5 1zm40-10zm-112 13zm3 1zm27-1zm32 5zm18-6z"/><path stroke="#e40000" d="M961 70zm2-1zm-62 5zm22 2zm5 7zm2-10zm10 6zm11 3zm3 0zm1-3zm1 1zm11-5zm3 6zm-41 5zm0 4zm9-5zm1 6zm7-1zm7 0zm0 4zm3 1zm5-10zm3 7zm1-3zm1 6zm2-7zm1 0zm1-1zm14 3zm5-2zm0-3zm-49 17zm3-6z"/><path stroke="#ff6400" d="M909 87zm3 6zm15-1zm25 2zm-38 6zm3 3zm10-7zm5 10zm10-10zm1 11zm1-1zm2 0zm17-9zm17 1zm4-1z"/><path stroke="#c4ff33" d="M908 107zm-17 6zm5-1zm0-3zm12-1zm1 9zm2-5zm9 3zm15-1zm13-1z"/><path stroke="#006dff" d="M884 130zm1-6zm10 7zm8-3zm8 0zm13 3zm2 0zm1-4zm9-3zm5 5zm6-1zm-67 10zm5 0zm0 1zm1 3zm9-3zm2-4zm5 7zm7-7zm4-2zm8 4zm3-3zm0-1zm12-1zm1 3zm12-3zm-66 17zm11 3zm3-5zm10 1zm5-4zm9 2zm19 9zm-28 15zm102 7zm-119 4z"/><path stroke="#920000" d="M971 67zm23 4zm-57 9zm2-3zm20 2zm10 2zm3 1zm3-1zm2-9zm1 5zm1 0zm0 2zm2 4zm1-3zm7 3zm3-3zm0-6zm0 8zm-58 5zm13-1zm2-2zm3 4zm0 2zm5 0zm0-5zm11 4zm14 4zm2 1zm3-10zm-38 12z"/><path stroke="#a7ff50" d="M887 111zm10-1zm4 4zm1-6zm8 7zm14 4zm8 0zm5 0zm3-4zm21 1z"/><path stroke="#0001ff" d="M949 131zm3-2zm-57 3zm2 10zm10 0zm0-5zm9 1zm31 4zm2 1zm4-8zm3 8zm-73 9zm6-1zm6 0zm5-7zm1 5zm2 5zm3-2zm14 3zm0-4zm3 1zm0-4zm2 7zm1-5zm4-2zm4 5zm2 0zm12-5zm15 3zm-91 7zm4-2zm7 10zm1-4zm5-2zm19 5zm5-8zm2 3zm0 2zm7 1zm6 4zm20-3zm3-6zm-78 15zm9-3zm2 4zm2-4zm2-1zm1 5zm1 0zm1-5zm3 6zm1 1zm4 0zm5-8zm3 8zm1 1zm1-4zm5 2zm0-6zm2 9zm2-7zm0-1zm3 9zm0-7zm0 6zm14-3zm1-2zm1-2zm2-2zm4 4zm3-5zm5 9zm1 2zm1-9zm25 0zm-103 13zm19 3zm4 1zm7-1zm1-5zm4 9zm4-4zm5 2zm2 2zm8-6zm1-4zm7 4zm4 6zm7-3zm3-2zm42-1zm0 1zm-112 7zm22 1zm3 2zm3 6zm3-9zm0 0zm10 5zm1-2zm4 6zm5-4zm37-2zm-47 12z"/><path stroke="#ff1e00" d="M952 65zm17 4zm-45 14zm25-5zm1 4zm0-10zm-50 19zm8-3zm4 6zm7-3zm5 2zm4-2zm2 0zm0 4zm3-4zm2-3zm11 7zm9 0zm13-9zm2 8zm6-8zm-47 12zm17 0zm1-1zm1 6zm30-5zm1 0z"/><path stroke="#50ffa7" d="M936 118zm5 0zm9-4zm-29 8zm16-1z"/><path stroke="#ff8600" d="M934 94zm-49 6zm24 1zm1 2zm1-2zm2-1zm2-2zm12 4zm6-1zm16 3zm1 0zm0-8zm17 6zm-30 10zm9-3zm8-1z"/><path stroke="#e4ff13" d="M899 117zm5-1zm2-2zm13-3zm2 5zm3-4zm10 4zm1-4zm1 0zm17-3zm3 2zm1 2zm3 1z"/><path stroke="#ffa700" d="M903 95zm-10 1zm15 6zm17 1zm6 0zm22-1zm1 0zm-3 6z"/><path stroke="#000092" d="M925 158zm23 7zm-64 7zm25 1zm37 2zm3 0zm-66 6zm43 1zm6 8zm8-5zm18 6zm36 0zm-102 5zm3 2zm2-2zm12 7zm5-4zm2 4zm2-11zm6 8zm1-1zm1-1zm2 3zm0-6zm4 5zm0-8zm1 8zm2 2zm5 0zm2-8zm3 4zm4 2zm4-5zm10 4zm39-4zm9 4zm4-2zm-107 11zm14-4zm10 8zm1-3zm5-4zm5 1zm5 4zm36-4zm6 1zm17-3z"/><path stroke="#33ffc4" d="M893 117zm43 2zm-36 1zm0 3zm10 2zm29 2zm0-5zm13 1zm15-3z"/><path stroke="#ff4300" d="M906 83zm27-7zm9 3zm-46 15zm11-5zm1 6zm7-8zm2 6zm1 1zm12 0zm3-5zm2 4zm0 2zm7-1zm1 0zm6-3zm19 2zm4 0zm-65 6zm8-3zm15 4zm28-2zm4 5z"/><path stroke="#8aff6d" d="M907 118zm18 0zm13-2zm8 0zm0 1zm-44 3z"/><path stroke="#0049ff" d="M901 131zm33 0zm3-4zm11 2zm8 0zm-68 6zm2-2zm4 6zm4 2zm3-5zm1 1zm10-2zm20 7zm1-10zm6 2zm1 6zm7 1zm5-4zm2 0zm-75 12zm7-4zm0 7zm9-2zm8-5zm13 4zm2 6zm1-3zm1-4zm3-2zm0-1zm5 2zm0 6zm1 2zm3-3zm0 3zm8-11zm1 5zm14 4zm-75 9zm10-3zm5 1zm7 5zm7-3zm7-6zm0 4zm10 0zm3-4zm14 2zm0 8zm1 1zm2-11zm5 1zm11 7zm-78 15zm3-10zm0 9zm1 0zm11-8zm34 8zm5-8zm13 2zm35-4zm-97 22zm23-7zm0 7zm12 0zm7-7z"/><path stroke="#00d9ff" d="M891 124zm6 1zm9 1zm23-2zm1-3zm23 1zm3-1z"/><path stroke="#0000e3" d="M956 130zm-34 13zm0-9zm8 5zm13 1zm3-1zm3-7zm7 3zm-63 10zm11 3zm28 6zm20-2zm9-2zm2 4zm2 1zm-71 6zm22 6zm6-4zm2-2zm1 4zm4-5zm3-1zm17 1zm2-4zm4 3zm14 7zm26-10zm-109 21zm2-1zm3 0zm9 3zm2-11zm6 4zm3 0zm6 7zm3-7zm1 5zm2-5zm3 5zm9 1zm8-5zm2-2zm4 8zm2-9zm1 1zm5 5zm-72 14zm4-5zm2-2zm3 2zm1-4zm5 9zm10-3zm2-3zm4-2zm4 3zm3-3zm2 2zm6-4zm4 11zm4 0zm4 0zm1-6zm6 6zm2-2zm0 1zm1-10zm4 5zm52 1zm-110 7zm2 2zm2 3zm7-5zm12 8zm1-8zm0-1zm10 3zm1 4zm1-7zm11 1zm6 8zm1 1zm7-2zm2-7zm30 0zm19 6zm-120 6zm13 0zm1 1zm4-1zm28-1z"/><path stroke="#bb0000" d="M961 69zm10-1zm9 2zm-17 11zm5 2zm20-3zm-70 10zm23 2zm0-7zm3 8zm2-8zm1-1zm17 5zm4 2zm2-3zm5 6zm-33 7zm7-5zm17 4zm0-2z"/><path stroke="#0000bb" d="M944 151zm13-2zm-17 15zm7-5zm10 5zm3-1zm10-2zm-83 11zm20 1zm2-1zm15 5zm13 1zm0-9zm13 1zm-50 13zm6 0zm6 2zm18-5zm10 8zm2 0zm7-8zm27 9zm5-9zm-98 20zm17-5zm5 1zm9 2zm9-2zm8 5zm8-3zm6-4zm18 3zm7 0zm15-2zm21 5zm8-5zm9 6zm-122 4zm15 6zm26-7zm1 3zm64-2z"/><path stroke="#ffc800" d="M885 103zm1 1zm30 1zm3 1zm15-1zm5 1zm31 1zm-64 3zm19 6zm5-6zm23-1zm9 0z"/><path stroke="#6dff8a" d="M888 114zm10 5zm3 0zm1-1zm17 1zm3-3zm18-2zm-44 6zm34 0zm3 0z"/><path stroke="#00b5ff" d="M885 130zm1-6zm2 1zm4 4zm23-2zm16-3zm6 2zm0-3zm-17 11zm-35 22z"/><path stroke="#16ffe1" d="M890 122zm8-1zm6 3zm6 4zm19-2zm1-2zm15 0zm11-4z"/><path stroke="#000092" d="M924 147zm29 0zm3 15zm-33 9zm26 8zm1-5zm5 3zm-47 5zm8 4zm19 3zm3-6zm23 0zm27 7zm12-9zm-111 17zm3-5zm3 9zm10-7zm16 4zm0-6zm1 6zm0 0zm1 2zm0-9zm1 8zm1 2zm1-5zm5 5zm4-4zm3-1zm13-2zm1 8zm7-6zm11-3zm46 8zm10-9zm-122 15zm8 4zm0 0zm13-5zm5-3zm5 5zm1 1zm9-1zm3-5zm4 1zm21 0zm11 1zm2 0zm17-1z"/><path stroke="#0091ff" d="M908 127zm32-1zm0 0zm-53 11zm0 5zm5-4zm17 5zm17 10zm43 1zm-77 5zm-13 13zm4 0zm2 14z"/><path stroke="#ff8600" d="M899 91zm23 3zm12-1zm-36 4zm4 2zm5 5zm6-4zm3-4zm3 5zm3 1zm3 2zm2-2zm3 5zm1-3zm29 0zm5 0zm9-6zm-46 13z"/><path stroke="#ffea00" d="M884 105zm8 2zm12-7zm25 6zm-3 12zm15-6zm14 2z"/><path stroke="#6dff8a" d="M900 119zm30-1zm36-2zm-67 4zm4 0zm18 0zm8 1z"/><path stroke="#ffc800" d="M883 104zm15 1zm11-1zm1 1zm5-1zm10 1zm-30 3zm6 2zm5 1zm26 2zm3-1zm24-1zm1 0zm6 0z"/><path stroke="#c4ff33" d="M891 103zm2 10zm4-4zm3 3zm1 5zm1-6zm22 2zm1-2zm21 3zm4 2z"/><path stroke="#e4ff13" d="M890 111zm0-2zm11 5zm22-2zm2 3z"/><path stroke="#920000" d="M928 70zm21 0zm5-8zm4 4zm18 0zm7-3zm1 4zm-42 11zm4 2zm5 2zm4-8zm10 6zm6 1zm11-1zm4 0zm0-3zm4-2zm-47 11zm3 4zm17-5zm28-1z"/><path stroke="#ff4300" d="M910 79zm-13 13zm8 1zm19-2zm19 3zm3 0zm5-1zm34 2zm-81 5zm3-4zm2 3zm5-2zm34 2zm2 4zm1-1zm11-2zm7-1z"/><path stroke="#0024ff" d="M947 128zm10 0zm6 2zm-79 11zm3 0zm8-9zm16 10zm0-8zm0 6zm2-8zm5 2zm3 4zm4 4zm1-3zm0 4zm8-8zm19-2zm7 7zm-68 6zm6 9zm3-8zm0 1zm1 3zm0 2zm5-9zm2 5zm6-5zm3 4zm5 1zm5 6zm4-3zm2-7zm11 7zm2 0zm1 0zm0-2zm3 4zm2-8zm10 8zm-73 7zm12 5zm1-10zm15 0zm3 6zm4 0zm3 5zm0-8zm2 6zm0-7zm2 0zm2 0zm4-2zm3 11zm0-11zm2 4zm0 6zm2-6zm7 1zm-77 9zm10 4zm3-5zm2 9zm7-9zm3 6zm3-5zm1 5zm1-2zm6-5zm3 2zm5 3zm7 0zm14 2zm1 0zm3 2zm0-2zm2 4zm3-11zm-64 12zm5 6zm2-3zm0 4zm1-7zm1 3zm5 7zm1-3zm6-6zm1-1zm4 7zm7-6zm6-1zm3 1zm5-1zm1 6zm1 1zm-49 6zm1 1zm21 7zm11-5zm20-3zm25 17z"/><path stroke="#bb0000" d="M987 70zm-71 12zm7-6zm4 7zm4-2zm1-4zm1 5zm22-4zm3 0zm2 5zm3-1zm28 1zm-64 5zm15-1zm3-2zm2 10zm9-10zm3 4zm5 3zm4 2zm6-3zm22-7zm-34 12z"/><path stroke="#0049ff" d="M896 130zm3-2zm7 3zm10-4zm18 4zm3 0zm12-5zm-68 17zm1-2zm3-9zm6 10zm2-2zm3-8zm6 8zm1-1zm1-2zm3-1zm15 0zm2 6zm5 0zm2-9zm6-1zm0 0zm6 9zm0-6zm2 5zm2-3zm1 5zm2-3zm5-6zm-73 19zm4-1zm2 0zm6-1zm2 2zm9-7zm3 7zm2-7zm2 4zm5-3zm7 3zm11-3zm7 2zm2 4zm0 0zm1-1zm5-5zm0 3zm10 5zm-80 9zm4 3zm7-6zm3 2zm5-1zm1 1zm6 3zm1-1zm4-4zm4 4zm0-5zm7 3zm1-5zm1 2zm5 3zm3-3zm6 1zm2 4zm-55 9zm2-3zm9 8zm7-5zm6 4zm5 2zm1-11zm24 9zm19-7zm-75 19zm7-7zm3 1zm1 3zm9-3zm1 2zm10-2zm2-1zm16 0zm24 5z"/><path stroke="#00d9ff" d="M888 124zm11 0zm4-4zm9 6zm1-1zm13 0zm8-1zm9 2zm12-6zm1 3zm1-1zm4-1z"/><path stroke="#ff1e00" d="M949 69zm-11 9zm14 0zm13-4zm11 6zm-68 7zm6 5zm20-2zm1-3zm1 4zm8-1zm3 2zm0 3zm1-3zm3-4zm4 2zm1-4zm10 1zm1 8zm10-6zm3-4zm9 4zm-77 13zm12 0zm4-2zm5-1zm8 7zm17-9zm4 1zm14 2z"/><path stroke="#ffa700" d="M888 100zm1 2zm9 3zm7-7zm19 8zm2-3zm13 2zm6-1zm26 3zm-53 1zm17 2zm13-1z"/><path stroke="#16ffe1" d="M890 118zm-3 3zm1 5zm2-6zm10 1zm9 5zm1-2zm2 0zm3-3zm43-1z"/><path stroke="#33ffc4" d="M881 118zm5 0zm52 0zm-41 4zm5 0zm8-1zm1 7zm4-6zm8-2zm2 0zm4 4zm21-4z"/><path stroke="#0000e3" d="M922 140zm1-1zm3-5zm19 3zm6-1zm1 3zm-68 13zm2 2zm6-6zm12 5zm16-5zm2-4zm5 5zm17-5zm0 0zm2 3zm5-2zm11 10zm-77 8zm13 2zm9-5zm2 7zm1-6zm1-2zm6-1zm13 4zm6 2zm1 0zm1 0zm6-5zm1 1zm1 2zm1-3zm4 7zm-72 11zm7 2zm4-10zm22-1zm5 6zm6-1zm2-1zm1 4zm0-7zm1 9zm1-9zm1 2zm4 5zm8 1zm9 0zm0-2zm1 2zm-83 5zm4 6zm6-5zm4-3zm6 0zm5 8zm3-7zm12 1zm0 4zm2-1zm4 0zm1 0zm4-2zm3 8zm0-8zm5 2zm15-1zm0-4zm1 4zm5 0zm2 3zm4-7zm1 0zm0 10zm-85 9zm14-3zm6 3zm1-4zm14-3zm17 7zm3-5zm6 5zm0-7zm4 4zm1-4zm2 3zm0 2zm4-3zm3 5zm0-3zm4-3zm0 8zm3-5zm2-2zm13 1zm13 2zm-87 9z"/><path stroke="#006dff" d="M878 127zm5 3zm22-1zm8 2zm4-2zm0 2zm10-1zm32-3zm-67 10zm2 4zm4-9zm4 9zm1-1zm6-6zm13 1zm11-2zm12 6zm0 2zm-54 9zm1-1zm2-4zm4 8zm0-7zm10 4zm3 4zm8-5zm5-1zm3 6zm22-4zm-68 15zm10 1zm0-10zm38 9zm4-6zm32 0zm-73 13zm15 7zm13-11zm-27 19z"/><path stroke="#e40000" d="M958 65zm25 6zm1-1zm-53 12zm10-6zm13 6zm6-1zm2 1zm5-9zm3 10zm6-4zm0-2zm2 1zm9 4zm10 0zm4-10zm-75 12zm2 1zm3 7zm6-6zm1-2zm7 8zm5 0zm13-6zm4 2zm2-4zm4 4zm2 1zm8 2zm-54 5zm14 3zm1-1zm18-1z"/><path stroke="#50ffa7" d="M890 118zm4-1zm12 1zm41-1zm4 0zm4 1zm-51 3zm8 0zm3 0zm5-1zm0 3zm4-1zm30-2z"/><path stroke="#00b5ff" d="M883 128zm6-2zm4 1zm1 0zm10 1zm6 0zm1-1zm3 0zm8 3zm3 1zm4-2zm6-1zm29-3zm-77 16zm26-2zm16-7z"/><path stroke="#a7ff50" d="M880 109zm3 1zm19 8zm5-6zm1 3zm27-2zm15 6zm8-5zm13-2z"/><path stroke="#0000bb" d="M946 141zm-16 7zm19 1zm7 2zm-42 8zm20 1zm13 3zm2 0zm20 1zm-80 13zm38-6zm5 0zm1 5zm5 1zm13-4zm20-4zm27 2zm17 2zm-141 8zm18 8zm14-9zm14 4zm2 4zm1-1zm8 1zm4-2zm4-6zm7 2zm1 5zm3 1zm47-5zm-109 9zm2 1zm2 9zm4-5zm4-5zm2 11zm0-3zm1-3zm3 3zm2-4zm1 5zm2 0zm15-7zm3-2zm0 5zm5 5zm3-9zm0-1zm18 4zm1 3zm8 3zm9-3zm16-6zm0 3zm26 2zm-122 10zm1 1zm26 1zm6-6zm15 6zm35-5z"/><path stroke="#0001ff" d="M882 136zm26 1zm10 0zm1-4zm8 4zm3 6zm1-8zm5 2zm7-3zm6 0zm-56 14zm13-2zm10 0zm4 3zm1 3zm2 2zm3-6zm1 1zm8 3zm6 1zm0 2zm3-3zm10-2zm2 3zm1 1zm-65 9zm3 0zm18-1zm0-6zm3 3zm0 0zm2-1zm0 1zm2 3zm0-5zm5-1zm2 7zm1 4zm4-7zm0-2zm1 8zm6 1zm5-10zm5-1zm-77 12zm8 6zm1 2zm10-2zm1-3zm3 4zm1-2zm0-1zm0 3zm12-1zm6 2zm2-4zm6 3zm2-4zm7 6zm3-8zm8 10zm2-1zm0 0zm2-1zm2 1zm2 0zm0-1zm3-7zm4-1zm3 7zm5-4zm16 3zm9 0zm-103 15zm3-8zm3 4zm3 1zm4 4zm4-10zm2 1zm1 8zm2-1zm5-4zm1-3zm1 8zm2 1zm14-3zm7-8zm3 9zm0-7zm5 0zm4 8zm1-7zm23 3zm-74 9zm6 1zm8-2zm5 2zm6 0zm2-4zm3 2zm2 5zm4-4zm1 0zm7 2zm7-5zm53 10zm2 1zm8-3zm-60 12z"/><path stroke="#ff6400" d="M914 82zm-2 4zm2 9zm42-3zm-76 7zm16 3zm15-1zm10 4zm3-1zm6-5zm7 4zm7-5zm5 2zm4 0zm11 2zm4-3zm11 0z"/><path stroke="#8aff6d" d="M880 112zm18 1zm5 0zm9 4zm16 0zm3 1zm35-5z"/><path stroke="#0049ff" d="M896 129zm54-3zm20 3zm-80 9zm9 4zm3-1zm7 0zm6-6zm10 5zm3 1zm1-2zm0 2zm13-3zm1-2zm0 1zm0 0zm8-5zm3 4zm5-2zm-75 15zm13-5zm1 0zm0 2zm1 8zm0-10zm5 8zm0-6zm4 2zm4 2zm2 1zm1-4zm5 7zm1-2zm17-2zm1 0zm3 3zm1-1zm38-7zm-93 15zm8 4zm3-8zm0 8zm5-5zm6 5zm1-2zm4 5zm3-7zm7-4zm6 2zm6 3zm1-5zm23 0zm1 2zm-77 11zm2 2zm0 2zm9-5zm1 2zm11 3zm2 4zm1-7zm3 6zm1 0zm0-6zm1 3zm8 0zm6 0zm3-5zm5 4zm0 1zm5 0zm-58 18zm41-2zm16 0z"/><path stroke="#00b5ff" d="M903 122zm7 6zm14-1zm3-1zm8 1zm7-4zm10 2z"/><path stroke="#0000e3" d="M927 142zm8-9zm7 0zm-49 18zm41 0zm9-3zm3 5zm0 2zm2-1zm10-5zm8-4zm-77 17zm7 0zm0-6zm14 11zm4 0zm17-7zm20 0zm2-3zm2 3zm7-2zm-64 21zm2-3zm13 3zm11-4zm7-5zm2-2zm1 11zm1-10zm5 2zm4 8zm3-8zm9 6zm0-7zm2 5zm-82 9zm10 5zm2-5zm1-1zm9-2zm8 0zm2 7zm9-3zm2-2zm2 2zm3-2zm10 2zm6 1zm4-1zm3 2zm5 0zm4 1zm-83 9zm9-2zm1-2zm13 2zm5 0zm13 0zm0 4zm17-2zm9-3zm5 4zm3 0zm3-4zm1 8zm43-4zm-72 7zm6 4zm4-5zm11 1zm16-1zm7 4zm7-1z"/><path stroke="#ff6400" d="M902 86zm17 6zm0-4zm22-1zm13 6zm-64 8zm9-4zm3 5zm12 0zm15-1zm1-4zm1 6zm1 1zm1-6zm1 3zm23 1zm22-3zm0 4zm-39 5z"/><path stroke="#0000bb" d="M944 138zm7 16zm-47 9zm10-3zm3 3zm10-1zm15 1zm4 1zm11-2zm11-5zm-61 16zm21 3zm6-2zm8 4zm8-1zm-62 8zm5 0zm6-3zm8 9zm9 0zm11 0zm3-2zm5 2zm0-9zm9-2zm5 4zm0 4zm1 0zm3 2zm12 1zm16-10zm9 3zm11 2zm-109 14zm5-5zm0 7zm11-4zm2-5zm10 2zm5-3zm17 2zm21-1zm42 10zm4-3zm-117 7zm23-1zm21 2zm22-2zm29 6zm19-6z"/><path stroke="#0091ff" d="M891 126zm33 2zm3 3zm6-3zm3 1zm3 2zm5-7zm0 4zm6 0zm-65 15zm62-11zm-64 19zm23-4zm0-1zm-17 26zm14 11z"/><path stroke="#ff1e00" d="M933 75zm27 2zm0 1zm9 3zm-63 11zm1-8zm18 10zm1-5zm2 1zm1 1zm4 1zm9-7zm2 1zm10 7zm2-3zm0-6zm4 8zm2-5zm2 2zm-73 10zm37 5zm5-6zm21 3zm15-1zm0-4z"/><path stroke="#8aff6d" d="M894 117zm25 0zm10-1zm0 4z"/><path stroke="#bb0000" d="M932 69zm17 0zm-10 6zm11-2zm33 5zm7 5zm-93 6zm30-2zm8 5zm7-6zm6-1zm0 0zm0 6zm14-7zm5 2zm2 9zm4 0zm2-5zm4 1zm8-3zm-62 8zm19 2zm11 2z"/><path stroke="#ff8600" d="M899 94zm15-10zm14 3zm-36 17zm5-2zm5-3zm6-3zm1 3zm3 3zm1-2zm10-1zm3 5zm8-1zm0 2zm2-7zm17 2zm1 5zm4 0zm0 2zm4-4zm6-1zm0 2zm2 1zm7-9zm-20 13z"/><path stroke="#0024ff" d="M905 131zm3 0zm6 0zm2 0zm31-3zm-65 10zm7 2zm3-4zm4-3zm0 9zm6-3zm0-5zm1 4zm5-3zm1 4zm2 3zm4 1zm4-3zm2-7zm1 4zm3 4zm0-4zm11-2zm1 5zm1 1zm6-4zm7-2zm-68 9zm3 6zm11 1zm0 1zm1 3zm3-3zm1-1zm4 2zm3-6zm19-1zm1 9zm4-3zm1-5zm1 3zm1-3zm14 7zm2-10zm-70 18zm3-6zm4 3zm0 3zm1 5zm1-3zm1-8zm2 3zm4 3zm0-4zm2 4zm1 4zm4-9zm6 6zm13-2zm5-1zm9 3zm2-5zm13 7zm1-1zm-67 9zm6 3zm0-8zm3 1zm4 10zm4-11zm4 11zm0-10zm4 9zm7 1zm2-9zm1-2zm0 8zm0 0zm1-7zm0 10zm7-5zm4-5zm9 3zm1 7zm0-7zm1-4zm0 0zm4 7zm4-7zm2 4zm-74 8zm10 5zm0-4zm5 6zm7 3zm22-5zm3 3zm16-2zm2-6zm-59 12zm0 4zm1 2zm4-4zm11 3zm18-2zm19-3zm41 11z"/><path stroke="#a7ff50" d="M896 107zm-5 7zm0-2zm5 6zm10-3zm7 2zm2 0zm10-2zm35-1zm4-1zm-50 7z"/><path stroke="#6dff8a" d="M885 117zm4 2zm16-1zm14 1zm2 0zm17-2zm-50 4zm2 1zm7 0z"/><path stroke="#ffa700" d="M882 94zm17 9zm5 3zm6-1zm14-1zm1-3zm3 1zm0 2zm-11 5zm30 0zm1 0zm5-1z"/><path stroke="#e4ff13" d="M916 105zm-9 9zm2-3zm3 3zm5 1zm15 2zm9-4zm0-2zm2 0z"/><path stroke="#e40000" d="M966 61zm1 9zm25 1zm-53 12zm9-10zm8 3zm-14 18zm1 0zm2-6zm2-3zm3 6zm12 1zm19-8zm20 1zm-57 14zm1 1zm10-3zm3 5z"/><path stroke="#00d9ff" d="M893 121zm8 4zm4-2zm9 1zm17 1zm22-4zm7 6z"/><path stroke="#ff4300" d="M929 83zm0-2zm51 2zm-67 4zm2-3zm5 7zm1-5zm1 6zm0-2zm8-4zm2 6zm1-5zm6-3zm11 0zm33 9zm3 2zm-82 2zm3 8zm7-3zm0 0zm17 2zm2-8zm11 0zm2 5zm3-1zm10-1zm3-3zm0 1z"/><path stroke="#920000" d="M929 67zm21 3zm23-1zm-50 8zm10 5zm3-4zm13 5zm1-1zm19 0zm8-1zm0-8zm0 6zm1 4zm6-3zm1-2zm19 4zm-109 2zm37 5zm3-1zm0-2zm1 3zm0 2zm17-7zm5 5zm6-1zm0 6zm1-8zm0 2zm2-4zm0 0zm3 10zm3-2zm5-1zm-5 5z"/><path stroke="#16ffe1" d="M886 118zm4 4zm28 5zm7-1zm17-2zm25-3z"/><path stroke="#ffea00" d="M912 107zm-12 5zm3-2zm1 1zm8 1zm8-2zm7 1zm10-1zm17 4zm6-2zm1-2zm4-2z"/><path stroke="#000092" d="M977 154zm-75 17zm24 6zm26-6zm3 7zm5 1zm-61 12zm8-3zm30 2zm11 1zm2-11zm2 10zm12-3zm13 0zm-93 10zm0 2zm7-3zm2 0zm3-3zm1 9zm0-7zm11 7zm3-1zm0 0zm0-3zm11 2zm2-2zm12 3zm5-6zm6-1zm12 9zm2-6zm5 2zm22-4zm10 5zm7 2zm-76 4zm12-1zm7-1zm7 4zm64-3z"/><path stroke="#ffc800" d="M905 107zm4-2zm20 0zm10 2zm1-2zm19 2zm22 0zm-68 1zm37 3z"/><path stroke="#c4ff33" d="M894 106zm-4 5zm2 2zm3-5zm4 6zm5 3zm9-4zm30 2zm21-2z"/><path stroke="#0001ff" d="M893 142zm15-4zm6 1zm11-3zm0 7zm9-5zm4 4zm7-4zm0-1zm3 5zm6-5zm-57 16zm1 1zm6-4zm0-6zm4 2zm7 0zm13 6zm3 2zm3-1zm2-4zm1-1zm4 2zm3 3zm0-4zm7-2zm0 6zm14 0zm-84 10zm9 4zm0-7zm6 4zm2-4zm1-4zm0 7zm4-2zm1-2zm3-1zm0 9zm1-5zm9 4zm1-2zm1-3zm5 3zm9-4zm4 1zm6 2zm0-7zm0 8zm2-8zm3 9zm0-5zm1 1zm6-1zm1 5zm0-9zm5 1zm-78 18zm8-2zm0 0zm1 3zm6-7zm4 4zm1 3zm0 2zm1-1zm0-6zm1 3zm3 5zm3-6zm0 4zm4-8zm0 3zm2-4zm3 9zm4-3zm3-6zm2 8zm3-3zm2 4zm1-5zm2-1zm6 7zm4-1zm0-4zm4 1zm2 3zm0-9zm6 6zm1 1zm1-7zm9 6zm15-5zm-98 11zm1 2zm0-2zm1 3zm3 7zm1-2zm4-1zm1-2zm0 2zm3 0zm2-3zm3 7zm1-9zm5-2zm1 4zm0-2zm1 9zm1-10zm1 3zm0 2zm2-1zm2 1zm13 3zm1-8zm7 2zm2 2zm4-1zm12 6zm0-8zm2 9zm20 0zm-97 6zm2-3zm8 1zm1-3zm2 4zm0-1zm10 2zm1 1zm5 2zm0-2zm10-4zm6-2zm15 3zm61 2zm8 3zm-116 4zm26 5z"/><path stroke="#33ffc4" d="M898 123zm8-2zm1 2zm4-2zm4 2zm10 3zm1 2zm9-8z"/><path stroke="#006dff" d="M888 130zm10-2zm11 3zm2-4zm9 3zm20-2zm0-1zm0 4zm11-7zm6 0zm6 2zm-74 15zm12-4zm3 2zm17-5zm1 9zm9-3zm1 3zm5-10zm5 3zm1 0zm-54 10zm10 8zm2 0zm13-4zm6-2zm3 7zm4-1zm8-7zm12-2zm4 3zm14-1zm-52 10zm4 2zm-31 16zm17 23z"/><path stroke="#50ffa7" d="M941 119zm-40 3zm51-1z"/></g></g><text x="474.4" y="16.8" font-size="12.0" fill="#303030" text-anchor="middle">HL</text><rect x="521.1" y="25.2" width="4.4" height="83.3" fill="url(#jet)"/><path d="M525.5 108.5h2" stroke="#9aa4a8" stroke-width="0.7"/><text x="529.1" y="111.6" font-size="8.8" fill="#4f5d64" text-anchor="start">0</text><path d="M525.5 91.8h2" stroke="#9aa4a8" stroke-width="0.7"/><text x="529.1" y="94.9" font-size="8.8" fill="#4f5d64" text-anchor="start">20</text><path d="M525.5 75.2h2" stroke="#9aa4a8" stroke-width="0.7"/><text x="529.1" y="78.3" font-size="8.8" fill="#4f5d64" text-anchor="start">40</text><path d="M525.5 58.5h2" stroke="#9aa4a8" stroke-width="0.7"/><text x="529.1" y="61.6" font-size="8.8" fill="#4f5d64" text-anchor="start">60</text><path d="M525.5 41.9h2" stroke="#9aa4a8" stroke-width="0.7"/><text x="529.1" y="45.0" font-size="8.8" fill="#4f5d64" text-anchor="start">80</text><path d="M525.5 25.2h2" stroke="#9aa4a8" stroke-width="0.7"/><text x="529.1" y="28.3" font-size="8.8" fill="#4f5d64" text-anchor="start">100</text><rect x="49.0" y="126.0" width="86.0" height="83.0" fill="#fdfde9"/><path d="M45.5 188.0H135.0M45.5 162.5H135.0M45.5 137.0H135.0M81.0 126.0V212.5M134.0 126.0V212.5" stroke="#ece6c8" stroke-width="0.9" fill="none"/><text x="46.0" y="191.1" font-size="8.8" fill="#4f5d64" text-anchor="end">0.00</text><text x="46.0" y="165.6" font-size="8.8" fill="#4f5d64" text-anchor="end">0.25</text><text x="46.0" y="140.1" font-size="8.8" fill="#4f5d64" text-anchor="end">0.50</text><text x="81.0" y="219.3" font-size="8.8" fill="#4f5d64" text-anchor="middle">0</text><text x="134.0" y="219.3" font-size="8.8" fill="#4f5d64" text-anchor="middle">5</text><g clip-path="url(#cA10)"><g transform="scale(.5)" fill="none" stroke-width="4.48" stroke-linecap="round"><path stroke="#0091ff" d="M165 286zm8-3zm16-1zm14-2zm-63 19zm1-3zm19-6zm5-1zm0 4zm40 2zm-63 6zm7 0zm1 2zm2-3zm9 10zm12 0zm1 0zm43-10zm-105 17zm17-2zm5-2zm15 0zm8 5zm22 2zm-49 11zm4-1zm9 5zm8-3zm18-7zm2 9zm19-4zm-67 10zm3 1zm6 5zm8-4zm3 4zm1-4zm21-5zm-45 16zm3 4zm1 2zm18-10zm-23 12zm18 22z"/><path stroke="#50ffa7" d="M177 284zm-15 21zm19 1zm-44 9zm3 4zm1 4zm17-7zm10 6zm2-9zm3 5zm0-5zm-36 11zm1 5zm3 0zm4 4zm23 1zm-36 12zm2 0zm3-3zm1 2zm1-9zm15 3zm14 1zm-43 14zm11 2zm4-7zm17 8zm14-4zm0 0zm3-5zm2 8zm-56 15zm9-2zm5 0zm21-9zm1 5zm14-5zm6 4zm-54 11zm12 6zm2 1zm-22 3zm17 3zm0-2zm11 5zm7-3zm20 4zm-61 8zm43 1zm20 4z"/><path stroke="#bb0000" d="M207 366z"/><path stroke="#0024ff" d="M165 284zm2-2zm22-6zm9 0zm3 9zm38 1zm-87 7zm1-5zm14 3zm3 2zm15 3zm1-3zm2 0zm21 3zm14 0zm-78 4zm26 0zm0 2zm4 9zm6-4zm16 0zm11-3zm-68 13zm23-2zm12-3zm3 3zm6 0zm4 5zm-66 11zm14-2zm10 6zm56-9zm-71 16z"/><path stroke="#00b5ff" d="M161 277zm-19 21zm11-1zm9-3zm5 3zm30-7zm-63 18zm11 2zm4 1zm8-9zm5 3zm2 0zm1-2zm1 0zm4-3zm21 10zm-60 4zm5 9zm4-2zm7-3zm4-4zm2 3zm11-4zm6 7zm18-5zm7 8zm-68 4zm10-2zm2 4zm15-1zm1 1zm3 6zm4-6zm6 6zm11-5zm1-6zm-60 18zm2 1zm3 0zm7-3zm8 1zm17-3zm35-1zm-63 15zm-3 12zm3 2zm7-5zm15 0zm-45 22zm10-3zm13-7z"/><path stroke="#ff4300" d="M187 379zm1-1zm8-5zm-44 23zm66 1zm23 9z"/><path stroke="#ffea00" d="M172 359zm10 0zm1-6zm-22 18zm14 0zm-29 4zm1-3zm14 7zm19 2zm1-7zm3 8zm4-4zm5 3zm2-4zm24 4zm-84 14zm16-9zm1 1zm8 5zm7-1zm2-2zm4 3zm5-5zm3 5zm8-6zm75 8zm-94 4zm16 7zm2-3zm24 5zm49-6zm-33 7z"/><path stroke="#000092" d="M192 266zm3 6zm1-1zm-51 16zm26-11zm8 1zm1 10zm1-1zm5 0zm4-7zm15 8zm2-5zm9-3zm1-1zm2 7zm1-4zm3-5zm-86 19zm36-6zm11 7zm18-6zm1 2zm5-4zm7 9zm2-5zm0 3zm1 1zm-22 7zm18 2zm5 2z"/><path stroke="#006dff" d="M180 272zm6 2zm-7 12zm7 0zm13 1zm2 0zm13-9zm5 6zm-80 8zm8-4zm1 1zm25 5zm16 0zm11 4zm4-1zm-83 8zm2-1zm6-4zm23 3zm2 3zm6-1zm3-2zm3 1zm22 7zm4-5zm-68 7zm4 5zm4 0zm6-5zm2 0zm4 9zm23-10zm3 1zm8 7zm1-1zm6-1zm1-4zm-70 14zm16-1zm4 0zm46-2zm1 17zm-50 9zm18 7zm2-7z"/><path stroke="#6dff8a" d="M144 319zm-21 12zm40-4zm4-2zm11 10zm-36 11zm13 0zm17-1zm22-1zm-64 7zm7 6zm21-4zm1-1zm9-3zm4 5zm1-2zm7-4zm1 1zm-55 21zm6-8zm5-1zm4 1zm5 0zm6 8zm1-10zm0 3zm5-1zm4 0zm10 8zm10-2zm-65 10zm8-4zm10 7zm2-4zm5 4zm16-3zm1 1zm9 2zm10-9zm-48 18zm5-2zm2 3zm6 4zm14-11zm2 7zm-16 10zm20 1z"/><path stroke="#ff6400" d="M189 361zm6 8zm-32 25zm6-2zm20-4zm8 3zm-42 11zm10-4zm5 3zm13-5zm7 6zm53 2zm-82 6z"/><path stroke="#33ffc4" d="M172 287zm-37 15zm6 9zm5-2zm-23 8zm28-3zm24 6zm-51 5zm28 2zm2 5zm8 3zm1-8zm1 8zm1-3zm3-4zm6 5zm14-4zm-46 12zm5 6zm19-5zm2 4zm18-5zm-54 18zm18-8zm4-1zm4 6zm1-3zm6 1zm4 1zm5-5zm-41 15zm29 0zm8-5zm-58 22zm5-9zm17 0zm16 1zm-40 15zm28 3zm13-8zm14 8z"/><path stroke="#e4ff13" d="M204 346zm-49 13zm12-3zm15-3zm2 3zm2 3zm0-9zm9-1zm-73 18zm15 2zm14-6zm4 5zm9 2zm12-7zm3 5zm1-4zm3 5zm3-4zm-33 12zm15 4zm3-4zm7 3zm11-5zm-51 12zm16 5zm23-6zm-26 20zm18-4zm4 0z"/><path stroke="#ffa700" d="M219 346zm-49 7zm12 5zm-10 12zm5-8zm0 6zm7 2zm8-7zm-22 9zm10 8zm2-1zm3 3zm4-4zm0 0zm8-3zm-70 9zm11 2zm10 8zm9-5zm2 6zm14-7zm3 6zm2 0zm3-8zm4-2zm49 2zm8 1zm-70 16zm22-3zm3 7zm-30 3z"/><path stroke="#a7ff50" d="M157 312zm6 32zm22-2zm-49 13zm9-6zm11 10zm23-8zm5 2zm-39 14zm0-6zm1 1zm3 6zm1 2zm0-1zm3-1zm10 2zm1-7zm6 8zm11-11zm2 1zm8 4zm-51 7zm0 2zm4 8zm1-8zm0 3zm7 0zm15 4zm4-2zm10-6zm-53 19zm1-6zm4 7zm4-2zm0 3zm4-10zm3 8zm2-3zm1 1zm2 0zm9 3zm27 2zm-65 3zm15 4zm3-6zm3 1zm1 9zm22-1zm33-7zm-23 12z"/><path stroke="#e40000" d="M190 362zm4 15zm50 5zm-55 14zm2 0zm3 3zm4 6z"/><path stroke="#0001ff" d="M193 275zm35 0zm-61 12zm0-11zm10 2zm7 8zm9-8zm4 2zm4 1zm24 2zm-75 10zm4 1zm27 0zm1 4zm6-6zm1 3zm19 0zm-72 10zm1-2zm49 0zm2 1zm0 0zm12-1zm6 5zm-70 12zm45-8zm18 10zm-45 4zm-16 37z"/><path stroke="#8aff6d" d="M165 335zm3 5zm22 6zm-66 7zm30 1zm7 4zm11-10zm1 3zm4 4zm6-1zm7 5zm-65 11zm12 1zm10-3zm3-5zm3 8zm3-9zm26 0zm7 9zm-68 11zm11 1zm5-10zm7 10zm0-11zm13 10zm10-10zm27 11zm-68 3zm2 0zm1-2zm5 4zm12-2zm8 5zm4-5zm-31 13zm1 1zm1-3zm10 9zm8-10zm47 4z"/><path stroke="#c4ff33" d="M167 330zm-16 24zm10 1zm4-5zm7 4zm6 0zm1 0zm10-5zm0 8zm1-1zm-46 10zm8-5zm4 10zm4-7zm0 4zm9 3zm2-2zm-46 10zm8 3zm5-4zm6 3zm6-1zm3-7zm8 1zm7 5zm9 2zm0-9zm-47 16zm2 7zm10-5zm4-3zm10 4zm5 2zm6-9zm-36 13zm7 1zm8 5zm1-1zm16-2zm7-4zm16 6zm7-5zm5 6z"/><path stroke="#920000" d="M196 396z"/><path stroke="#00d9ff" d="M161 299zm-5 10zm6-7zm5 5zm-5 5zm1 4zm13 1zm5-1zm5 5zm10 0zm-70 5zm4 8zm18-8zm1 2zm2-2zm5 9zm9-5zm10-3zm4 6zm2-6zm5 3zm-62 16zm10-9zm3 8zm5 0zm15-8zm6 1zm7 5zm12 1zm8-6zm2 0zm-71 17zm7 0zm21-3zm1-2zm2 7zm-28 4zm5 4zm20-4zm15 3zm-37 14z"/><path stroke="#ffc800" d="M135 371zm21-10zm27 5zm-45 14zm9-2zm12-5zm5 9zm8-2zm7 3zm-49 12zm18-8zm2 8zm0-11zm3 2zm3 7zm22-7zm1 5zm11-1zm2 1zm7 0zm-38 11zm1-1zm5-3zm2 0zm2 3zm8-5zm1 10zm2-10zm0 10zm2-8zm6 5zm0 2zm21 0zm-61 8z"/><path stroke="#0000bb" d="M199 270zm-38 6zm26 8zm5-1zm4-5zm10 6zm10-1zm4-2zm-46 9zm9 3zm1-3zm22 5zm12-1zm-79 11zm40 8zm0-1zm3 0z"/><path stroke="#ff1e00" d="M172 386zm29 14z"/><path stroke="#0049ff" d="M167 268zm-1 18zm13-3zm43-2zm4 0zm-91 9zm10 0zm20-2zm6 11zm40-3zm7 3zm-98 4zm4 5zm4-6zm12 7zm10-2zm22-1zm1-1zm5 5zm26-9zm4 5zm-79 11zm8 4zm6-9zm18 1zm9 5zm4 2zm9-5zm5-3zm2 10zm-70 9zm55-7zm19 5zm0-3zm3 9zm-77 4zm22 0zm-15 13zm-6 21z"/><path stroke="#16ffe1" d="M129 304zm11-4zm25 2zm5 0zm8 7zm21 1zm-57 11zm21-2zm4-3zm4 4zm-39 11zm11 1zm1-6zm4 2zm3 6zm11-5zm2-4zm1 3zm13 0zm5-3zm6 10zm-65 8zm7 3zm2 0zm14-2zm6 1zm10 0zm2-2zm19-3zm-51 11zm2 1zm4-2zm1 7zm9-6zm0-2zm12 7zm9-6zm2 1zm-48 20zm5-5zm4-3zm4 8zm36-2zm-52 7zm14-1zm-8 9zm4 0zm3 10z"/><path stroke="#0000e3" d="M230 272zm-85 12zm23 2zm6-7zm1 4zm4-4zm1 1zm18 2zm26-1zm-65 15zm37 2zm13-8zm5 3zm-92 13zm2-1zm-3 25zm29 6zm68 27zm13 23zm-20 14z"/><path stroke="#ff8600" d="M176 373zm5 1zm6 6zm1-2zm-21 7zm3 8zm10 2zm-34 2zm42 1zm10 3zm16 5zm9-10zm22 9zm7-9zm-59 13zm0 4z"/><path stroke="#000092" d="M170 270zm17-4zm0 3zm27-1zm8 4zm-56 14zm10-8zm19 8zm8-5zm10 1zm1-3zm1 1zm2 0zm1 6zm24-7zm-86 11zm13 3zm3 1zm10 3zm2 1zm2-6zm1 5zm1 0zm2-7zm5-2zm6 2zm5 2zm5-3zm2 0zm7 4zm-78 9zm39-2zm26 7zm-19 13zm16-3z"/><path stroke="#ffc800" d="M165 354zm16 3zm3-6zm6 2zm5 2zm-55 12zm47-6zm8 9zm1-3zm6-3zm-61 15zm20-6zm1 0zm10 2zm10 1zm3-4zm3 4zm1-3zm4 0zm-42 13zm10 2zm4-4zm1 5zm4 0zm1-2zm9-2zm13 6zm-58 5zm37 4zm3 5zm72-4zm2-1zm-44 9z"/><path stroke="#ffa700" d="M163 359zm23 7zm-26 10zm13 7zm6-5zm4-6zm4 4zm3-4zm-59 17zm40 1zm2 2zm7-2zm10-6zm-18 19zm9 4zm23-7zm23-3z"/><path stroke="#920000" d="M190 391zm18 4z"/><path stroke="#ff8600" d="M198 351zm5 3zm4 0zm-20 8zm2 3zm6 0zm-36 15zm7-3zm25 3zm32 0zm-34 5zm5 3zm9 4zm15-7zm17-1zm-79 13zm4 3zm1-4zm31 6zm2-2zm0 5zm5-8zm2 1z"/><path stroke="#ff6400" d="M198 357zm5 2zm30-3zm-14 20zm-57 18zm11-4zm2 4zm11-9zm-17 18zm14-5zm0 1zm4 2zm57 6zm9-8z"/><path stroke="#0001ff" d="M216 273zm2-2zm1 1zm-55 13zm7-2zm23-2zm34 3zm3-4zm-86 12zm21-1zm5-3zm10 2zm4 1zm5 4zm3-4zm7 6zm9-1zm15 0zm-91 13zm7-4zm37 3zm10-8zm4 10zm-45 9zm16-6zm11 0zm10 15z"/><path stroke="#0049ff" d="M242 283zm-107 10zm8 0zm3 3zm1 3zm3-4zm6-1zm7 1zm4 4zm14-4zm5-5zm16 2zm5 3zm7 4zm5-5zm-101 16zm14-7zm34-2zm8 4zm6 0zm14 3zm1 1zm13-1zm-84 11zm2 3zm3-8zm8 4zm8-5zm19 6zm2-2zm25 4zm6-5zm1-1zm-75 9zm12 2zm5-1zm8 3zm17-1zm25 1zm-62 10zm6 5z"/><path stroke="#e4ff13" d="M156 354zm11 3zm18 0zm1-8zm-33 22zm16-10zm5 9zm-54 11zm25-7zm10-2zm7 4zm10 2zm3-6zm2 9zm3 1zm2-3zm5 0zm2-4zm-44 14zm18-3zm13-2zm-35 14zm19 4zm6 0zm13 9z"/><path stroke="#ff4300" d="M185 359zm9-2zm8 11zm-15 8zm33 1zm-38 10zm3-3zm-21 14zm62-2z"/><path stroke="#33ffc4" d="M133 285zm15 19zm4-1zm6 0zm-18 9zm9 9zm-18 7zm3 2zm4-6zm-8 23zm29-9zm15-2zm4 6zm8 1zm-49 13zm2-3zm8-2zm4 5zm6-6zm10 7zm-48 7zm3 4zm2-8zm3 3zm3 2zm1 6zm18-7zm11 0zm3-1zm2 0zm2-3zm-58 14zm13-2zm1 2zm2 7zm0-9zm8 11zm14-11zm27 2zm-55 12zm7 5zm10-5zm0 2z"/><path stroke="#0000e3" d="M166 271zm19 4zm-41 8zm4-3zm46 5zm8-1zm3-4zm0 5zm1 1zm1-1zm0-2zm-67 7zm7 9zm26-10zm4 3zm7 6zm1-2zm27 3zm9-6zm-54 9zm17 9zm3-10zm1 0zm4 8zm6-5zm3 0zm5-2zm-8 13zm10 60zm30 7zm-8 12zm17-2zm2 1zm-27 13zm21-4zm6 0zm2-2zm-24 13zm1-1z"/><path stroke="#a7ff50" d="M156 359zm2-10zm8 6zm7-7zm33 10zm-70 11zm10-5zm3 5zm4 0zm1-9zm12 8zm1-7zm3-1zm2 1zm1 7zm2 2zm8-10zm3 6zm6-1zm2-2zm-69 9zm1 7zm6-2zm6-1zm7 4zm0-3zm5 2zm3 2zm2-6zm2-2zm3 1zm0 9zm2-8zm6 3zm8-4zm2-1zm-46 22zm16-9zm14-2zm0 7zm25 3zm1-2zm-67 9zm1-3zm13-1zm3 2zm2 4zm7 0zm-5 6zm41 1zm4-2z"/><path stroke="#00b5ff" d="M176 272zm4 14zm-14 10zm34 1zm-65 13zm8-2zm3 1zm1-4zm8 4zm1-1zm22-6zm-50 21zm2-2zm19-3zm1-5zm13-1zm10 1zm5 2zm7 3zm4 2zm-56 12zm2-5zm9 0zm0 5zm3 0zm1-7zm1 9zm10 0zm8-2zm24 2zm-64 8zm3-3zm2 2zm4 4zm0 2zm13-4zm6-2zm5 3zm3-3zm4 1zm2-6zm12 0zm2 4zm-26 12zm21 7zm-44 20z"/><path stroke="#ffea00" d="M188 347zm3 0zm-9 6zm0-1zm2 5zm-18 11zm3-6zm15 3zm-60 12zm7 0zm6-1zm6 7zm3-5zm7 2zm7-4zm5 6zm-33 10zm8 1zm19 1zm11-3zm4 2zm3-1zm7-6zm-39 10zm1 3zm8 5zm32 7z"/><path stroke="#006dff" d="M187 270zm28 3zm-48 11zm6-5zm26 7zm-79 9zm17 3zm1-6zm16 5zm4-5zm-19 18zm5 1zm4-5zm21-1zm22-2zm5 3zm7 3zm11-9zm-90 19zm2-4zm3-2zm-8 11zm2 9zm5 1zm14-10zm18 8zm25-4zm0 5zm1-7zm12 2zm3-2zm0 4zm-71 7zm12 1zm4 7zm1-9zm16 6zm-24 10zm-28 22z"/><path stroke="#ff1e00" d="M189 354zm-14 41zm16-4zm11-3zm22 19z"/><path stroke="#8aff6d" d="M149 343zm10 3zm0-4zm13 4zm9-5zm-43 17zm11-4zm21 1zm16-2zm0 2zm14 1zm-80 13zm14-4zm4 2zm21-4zm6 0zm0 6zm-34 12zm12-7zm13-2zm17 4zm14 4zm-66 14zm3 1zm4-5zm3-2zm1-1zm11 6zm30-6zm7 2zm-41 7zm-9 12z"/><path stroke="#50ffa7" d="M160 293zm4 10zm-26 15zm6-6zm17 13zm26 7zm-62 10zm15 0zm4 5zm23-11zm5 3zm18 5zm-48 9zm1 5zm37-5zm3-1zm2-2zm-61 16zm4 2zm6 0zm5-2zm18-4zm4 2zm0-3zm2 5zm5-3zm8 2zm-52 11zm3-1zm2 2zm17 2zm11 2zm-44 3zm10 3zm7 4zm20-5z"/><path stroke="#bb0000" d="M193 371z"/><path stroke="#16ffe1" d="M224 278zm-92 29zm32-4zm30 8zm-64 3zm4 4zm12 0zm-17 11zm10 4zm1 2zm6-6zm3-1zm1-1zm1 6zm6 0zm4-7zm26 6zm-71 14zm3-2zm2 0zm5-8zm7 4zm10 3zm1 1zm3-2zm8 1zm8 0zm3 0zm1-7zm13 8zm9-7zm-58 15zm20 4zm10-8zm4 2zm-42 20zm4-7zm7 2zm8-5zm12 0zm19 5zm-50 16zm4-8zm2 1zm3 1zm5 3zm1-1zm6-4zm15 3zm3-4zm-39 18zm8-4zm26 9zm-35 5zm11-1z"/><path stroke="#6dff8a" d="M136 298zm15 18zm6 4zm2 15zm-28 12zm15 0zm7-3zm-27 8zm13-4zm19 0zm14 0zm11 0zm5 1zm-70 15zm12 7zm7-5zm0-1zm5-1zm3 1zm3 0zm5 0zm1 3zm1-4zm3 4zm2 0zm2-6zm13 8zm-53 10zm30-3zm13-5zm-46 21zm8-3zm5-3zm20-3zm-26 15zm4 2zm5-4zm0 8zm8 2zm1-6zm27 9z"/><path stroke="#c4ff33" d="M160 331zm22-3zm13 21zm-63 13zm36 3zm9 5zm3-5zm1-3zm0 2zm-48 18zm6-1zm6-4zm7 3zm17-8zm0 7zm21-2zm-37 11zm1 1zm2-3zm1 1zm3 2zm19-5zm-37 15zm5 6zm2-3zm19 3zm65-6zm10 4zm-73 10z"/><path stroke="#e40000" d="M164 378zm55 3zm-30 10zm-10 14zm54-6zm3 2zm9 3z"/><path stroke="#0091ff" d="M144 293zm3 4zm18-8zm18 0zm-32 12zm17 10zm-39 2zm23 8zm21-6zm18 8zm4-9zm-71 15zm25 0zm15 3zm9-5zm27 0zm-65 9zm4 0zm14 0zm5 5zm-36 8zm5 4zm9 1zm0 2zm15 2zm10-5zm5-5zm-28 15z"/><path stroke="#00d9ff" d="M131 297zm72-8zm-56 17zm17-1zm-30 16zm1-8zm4 2zm21 0zm14-2zm24-1zm4 2zm-81 15zm12 5zm20-5zm10 2zm6-6zm4 3zm-55 11zm4 3zm1 2zm2 2zm1 1zm14-4zm0-3zm21 4zm3 0zm15-3zm-69 18zm20-2zm5-9zm0 4zm5 0zm0 1zm7-1zm3 5zm0-6zm18-1zm-46 14zm5 0zm4 4z"/><path stroke="#0000bb" d="M189 272zm18-2zm-32 11zm23 3zm0-5zm2 4zm1 3zm7-2zm21 1zm-86 14zm4-8zm33-3zm0 7zm24-7zm3 0zm-47 15zm27-3zm2 9zm0-6zm6-1zm-1 19z"/><path stroke="#0024ff" d="M185 285zm20-9zm20 9zm-73 12zm16-2zm5-7zm9 11zm3-7zm6 5zm0-3zm1-1zm10-5zm0 7zm6 0zm3-2zm-84 11zm19 4zm36-1zm5-2zm19-5zm-72 14zm5 4zm30 3zm7-7zm13 4zm9-6zm-8 14zm-29 20z"/><path stroke="#0024ff" d="M209 269zm-57 16zm9-8zm18 10zm2 0zm2-2zm11 0zm4-7zm-54 21zm27-6zm1-1zm11-1zm17-3zm5 1zm3-1zm-81 15zm20-2zm3 2zm1 6zm17-9zm2 7zm1 2zm12-8zm2 9zm7-1zm0-7zm1-1zm-65 22zm7-4zm55-4zm13-2zm-74 12zm39 0z"/><path stroke="#ffc800" d="M186 350zm3 9zm7-9zm-42 10zm27 6zm2 2zm15-4zm-50 14zm16-4zm17 5zm1 2zm3-4zm0-4zm3 3zm-53 19zm15-2zm2-7zm9 7zm8-9zm11 6zm8-1zm2 4zm5-7zm44 1zm8 0zm-122 10zm28 9zm1 0zm4-10zm25 2zm8 4zm35-3z"/><path stroke="#920000" d="M228 376zm-14 13zm12 2z"/><path stroke="#ffa700" d="M199 351zm-24 10zm0 8zm11-8zm7 0zm-39 17zm11-5zm5 10zm7-8zm5 3zm2-2zm7 3zm6 3zm18 1zm-64 4zm5 3zm11 3zm0-2zm15-5zm4 6zm4 1zm-45 4zm4 5zm3-2zm10 6zm6-8zm8-2zm12 4zm45 4zm20-7z"/><path stroke="#0000bb" d="M192 263zm23 11zm7-6zm10 4zm-73 15zm23 0zm9-7zm3 7zm-30 3zm7 0zm11 1zm14 8zm2-6zm15-3zm-6 11zm-36 21zm20 0zm8 6z"/><path stroke="#33ffc4" d="M172 304zm-34 17zm1-3zm11 3zm-7 3zm30 10zm5-7zm-30 19zm3-7zm9 2zm24 5zm-34 6zm3-4zm4 4zm1-2zm5 6zm7 0zm-43 4zm0 3zm1 4zm0 3zm4-10zm3 10zm7-10zm10 0zm1 5zm0-5zm7 3zm3 1zm-45 11zm8 6zm3 1zm4-6zm1-2zm0 2zm0 12zm-11 10zm11 0z"/><path stroke="#50ffa7" d="M163 295zm1 9zm8 2zm-37 17zm16-5zm-19 15zm17 2zm-14 10zm0-3zm5-4zm17 3zm26-3zm5 2zm1 6zm9-6zm-77 9zm10 0zm6 6zm4-1zm5-2zm9 7zm3-7zm3 2zm1-6zm1 11zm0-2zm3-4zm7-3zm2-1zm7 0zm2 8zm1-5zm1-2zm2 0zm-63 21zm3-7zm1-3zm10 5zm42-5zm-62 20zm10-5zm12 1zm3 5zm2-2zm-23 6zm1 9zm6-1zm2-8zm20 6zm-7 9zm18 7z"/><path stroke="#a7ff50" d="M130 308zm9 25zm6 4zm31 5zm8 5zm2 0zm-43 8zm3-6zm1 9zm16-8zm3 6zm4 2zm3-1zm3-6zm3 6zm3-3zm3 5zm2-2zm2 1zm0-3zm2-7zm-40 15zm1 4zm3 0zm1 4zm18-5zm1-1zm-47 14zm8 1zm7-8zm3 10zm6-6zm6-3zm2 3zm8-2zm1 4zm-52 6zm11 10zm22-2zm11 1zm-32 3zm35 8z"/><path stroke="#e4ff13" d="M181 338zm4 7zm-61 7zm41 3zm3-6zm15 8zm4-7zm-61 20zm5-1zm1-2zm4-1zm31-1zm20 3zm2-2zm4-5zm-51 21zm3 1zm2-9zm4 6zm5 2zm0 1zm11-6zm3-3zm1 2zm1 5zm5-3zm7 0zm-58 14zm4-8zm4 4zm4 3zm34-4zm12 7zm3-5zm1-1zm-59 15zm2 2zm6-1zm40-3zm19 2zm6 0zm23 10z"/><path stroke="#ffea00" d="M137 344zm44 15zm5-5zm3 1zm5-1zm-28 15zm10-8zm12 10zm2-7zm1 5zm-62 4zm13 9zm5-9zm14 10zm9-2zm20-4zm3 2zm-54 9zm7-4zm2 6zm5 5zm8-1zm3 1zm9-2zm-41 6zm9-1zm23 1zm19 1zm7-4zm-16 13z"/><path stroke="#16ffe1" d="M159 276zm18 8zm-32 13zm76-5zm-102 27zm6-7zm2 8zm5-2zm9-4zm1 3zm1 2zm1-4zm5 1zm24 4zm-43 10zm4 1zm3-2zm4-3zm5 9zm2-3zm1-3zm18-2zm4 6zm1-2zm3-7zm14 1zm-49 17zm1 3zm3 2zm7-5zm9-4zm21-2zm0 10zm2-4zm-46 7zm0 3zm8-3zm1 2zm1-1zm11 4zm3-4zm1 9zm4-5zm-56 14zm23-7zm2 6zm1 15zm5 3zm-30 13zm20 9z"/><path stroke="#0001ff" d="M187 271zm27-4zm8 3zm8 5zm-36 12zm-41 5zm0 7zm7-4zm8 1zm24-2zm12 4zm18-3zm-101 16zm24-5zm9 5zm15-7zm9 2zm12 2zm10-7zm-55 14zm8 7zm29-8zm2 2zm15 1zm1 0zm-75 25z"/><path stroke="#ff1e00" d="M193 360zm1 11zm42 1zm17 2zm-78 19zm12 11z"/><path stroke="#ff6400" d="M194 351zm6 8zm-18 11zm2-1zm12-6zm53 13zm-63 12zm4 2zm14 2zm11-4zm-14 10z"/><path stroke="#00d9ff" d="M135 311zm17-6zm10 2zm-22 12zm8 0zm11 3zm3-2zm0 2zm10-5zm4 2zm1-2zm2-3zm11 0zm-47 16zm24-5zm13 0zm15 4zm-54 10zm19-1zm2 1zm0 3zm14-3zm2 1zm0 5zm3-4zm2 0zm1 1zm8-4zm-64 21zm2-10zm4 4zm3 2zm3-3zm-18 14zm6-4zm-5 13zm5 8zm-5 1zm2 7zm16 7z"/><path stroke="#c4ff33" d="M183 334zm-16 6zm-38 10zm12-1zm40 3zm18-1zm-78 16zm5 1zm30-5zm2 5zm9-3zm6-4zm2 3zm6-2zm-56 17zm4-4zm1 3zm0 5zm3-6zm13-3zm17-2zm19 1zm-48 11zm7 8zm3 1zm10-8zm13 8zm15-8zm19 9zm-70 5zm30 6zm15-9zm11 5zm56-4z"/><path stroke="#e40000" d="M199 392zm-38 10z"/><path stroke="#bb0000" d="M203 355zm13 17z"/><path stroke="#ff4300" d="M196 358zm4 7zm3-5zm19 7zm1 3zm24 5zm-89 12zm6 5zm25-7zm3 0zm3 8zm18-6zm14 6zm11-9zm-98 17zm24-4zm5 3zm5 2zm12-3z"/><path stroke="#0049ff" d="M205 271zm-34 12zm20-2zm10 2zm-56 11zm12-6zm9 4zm5 5zm1-2zm1-2zm7 1zm4 1zm10-2zm-68 8zm13 7zm4 0zm17-8zm3 2zm2 7zm1-5zm30 3zm4 2zm3-4zm6 2zm8-3zm-78 19zm20-10zm20 6zm13 2zm5-8zm-67 22zm20-10zm28 7zm7-3zm2 4zm8-8zm3 1zm-67 15zm3 6zm2-6zm10-3zm-13 16zm11 0z"/><path stroke="#00b5ff" d="M139 275zm48-5zm-39 17zm2 0zm16-3zm-33 25zm16-7zm4 3zm4 1zm19-5zm1 4zm18 4zm-70 13zm3-10zm14 0zm6 4zm7 6zm9-8zm10 5zm3-5zm1 9zm6-5zm4-2zm16-2zm-83 15zm2-4zm15 7zm1 0zm0-6zm9 6zm0-3zm4-4zm1 3zm2 0zm12-3zm5 10zm0-3zm2-8zm-47 17zm7-2zm48-2zm2 7zm-45 5zm0 6zm3-6zm8 10zm8-1zm4-9zm2 5zm-44 9zm4-3zm25 3zm-33 22z"/><path stroke="#006dff" d="M230 272zm-83 15zm41-2zm47-3zm-72 15zm3-9zm49 2zm-88 21zm19-8zm21 2zm1-4zm9 6zm9-3zm3 2zm9-1zm11 2zm-85 9zm4 7zm11-3zm2 1zm3-5zm6 2zm8 5zm3-3zm2 1zm12-2zm17-4zm4 6zm-73 12zm3-7zm7 5zm13 0zm29 2zm0-5zm12-2zm-58 19zm21 0zm22-7zm19-2zm-57 20zm10-3zm14-4zm-24 13z"/><path stroke="#6dff8a" d="M128 310zm28-2zm-25 13zm17-5zm2-1zm-3 24zm10 6zm4 2zm6-4zm6 2zm2-4zm8-3zm2 5zm1 1zm4-4zm1-2zm-29 12zm-25 14zm2 1zm5 5zm2 0zm2-8zm8 8zm9-10zm-42 23zm17-10zm1 0zm8 1zm1 8zm4 1zm3-9zm25 6zm-64 11zm6-1zm2-5zm4 4zm6-2zm2 6zm25-8zm-33 17zm1 5zm8-11zm2 3zm10 5zm-5 4z"/><path stroke="#000092" d="M204 262zm-16 11zm0 1zm13-4zm4 4zm16-2zm9 3zm-57 12zm2 0zm27-2zm8-2zm4 4zm1-5zm1-5zm-46 13zm14 1zm7 0zm3 0zm6 1zm1 6zm-20 12zm16-2zm20-8z"/><path stroke="#0000e3" d="M177 275zm11-2zm11-2zm-46 14zm12-1zm22-1zm7-6zm9 10zm18-9zm9 3zm-96 14zm33-3zm28 6zm27-7zm5-1zm-73 13zm9 1zm16 7zm9-6zm-19 10zm5-3zm4 16zm38 43zm8-3zm-12 26zm-4 4zm32-2zm4 5zm5-1zm3-4zm2 7zm1-5zm-29 14z"/><path stroke="#8aff6d" d="M163 306zm-4 27zm-6 14zm13 0zm26-9zm-58 11zm5-1zm8 0zm3 5zm20 0zm17-3zm2-2zm4 6zm-59 9zm0 0zm7-2zm1 8zm0 0zm1-3zm6 5zm3-2zm7 1zm3-1zm20-9zm-63 22zm5-4zm0 2zm37 1zm7-6zm7 4zm17 2zm-69 12zm14 1zm5-9zm29 10zm-37 1zm25 3zm2-2z"/><path stroke="#ff8600" d="M174 354zm26 5zm1-5zm-19 12zm8-5zm-9 13zm4 0zm10 3zm8-5zm-55 18zm15 3zm17 2zm-18 5zm33 3zm62 3z"/><path stroke="#0091ff" d="M173 275zm18 9zm1-1zm11-4zm-57 17zm19 0zm9-4zm19 6zm29 0zm-86 8zm10 5zm6-8zm3 1zm12 3zm2-3zm1 1zm14 5zm-46 7zm20 4zm1-5zm0 1zm4 0zm9 6zm14-6zm1-4zm-56 14zm2 6zm41-4zm4-2zm3 8zm8-3zm0-6zm1-2zm-65 13zm18 2zm2 5zm1 1zm18-5zm18-2zm3-1zm-50 16zm5 6zm0 7zm11 0zm-25 11z"/><path stroke="#ff8600" d="M191 358zm7-4zm17 1zm-31 14zm1-5zm10 0zm-18 14zm4-2zm7 1zm1-3zm6-1zm57 4zm-74 11zm7 0zm4 7zm2 4zm-10 9z"/><path stroke="#0091ff" d="M164 270zm-27 22zm5 7zm3-6zm12-1zm15-1zm22 5zm12-3zm-72 10zm17-2zm15 10zm6-10zm7 5zm5-4zm7 7zm-55 5zm6 3zm3 6zm18-7zm5 5zm37 0zm-83 12zm4-8zm7 6zm3 2zm11-6zm13 7zm2-6zm13 3zm12 4zm-59 4zm1-1zm16 0zm1 1zm3 1zm29 2zm-36 8zm3 9zm-8 3zm10 12zm5 3z"/><path stroke="#bb0000" d="M215 358zm-42 20zm7 26z"/><path stroke="#e40000" d="M199 359zm20 4zm-28 29zm40-3zm6 6zm-47 8zm23 1z"/><path stroke="#c4ff33" d="M186 343zm4 2zm-20 13zm7-7zm1 5zm1-7zm0 7zm-34 14zm8-1zm2-6zm11 1zm0 3zm5-7zm-48 21zm3 2zm16-7zm0-4zm4 11zm2-5zm8 0zm1-5zm5 7zm24-2zm-65 12zm24 2zm0-1zm13-6zm1 0zm16 0zm-36 11zm21 2zm13 1zm4-1z"/><path stroke="#0001ff" d="M169 282zm18-3zm11 0zm3 3zm1-3zm-47 15zm3 1zm10-3zm6 0zm7 5zm6-5zm8-1zm9 5zm9-5zm12-2zm-39 21zm0 0zm16-7zm19 4zm-90 10zm14 3zm10-4zm27 5zm5-1zm6-1zm1 2zm1-6zm10 7zm-83 9zm10 1zm48-5zm-9 10zm-29 17z"/><path stroke="#50ffa7" d="M174 299zm-21 9zm-15 13zm11-8zm10 6zm18 4zm-30 12zm24-7zm-48 11zm30 8zm7-3zm2-1zm6 0zm1-2zm5-3zm6 1zm2-3zm10 1zm-40 12zm2 7zm2-7zm8 0zm5 10zm3-7zm27 5zm-76 7zm3-3zm3 4zm5 4zm29-6zm6 1zm2-3zm10 4zm-68 10zm14-3zm8 5zm14-4zm4 10zm7-8zm10 6zm-54 3zm7 8zm10-2z"/><path stroke="#6dff8a" d="M154 306zm-14 9zm22 17zm13 1zm-34 8zm19-4zm-30 20zm2-6zm21-2zm5 5zm22 3zm-67 14zm35-7zm1-4zm21 1zm1 7zm7 1zm-50 14zm2-6zm7 2zm9-6zm5 3zm14 3zm22-1zm-60 8zm23-1zm19 10zm18-10zm-65 12zm8 0zm16 1zm8 3z"/><path stroke="#ff1e00" d="M196 376zm-7 10zm10-2zm-3 23zm1-3z"/><path stroke="#920000" d="M219 391z"/><path stroke="#a7ff50" d="M156 347zm34 0zm1-6zm-70 11zm27 2zm15 2zm13 1zm-26 11zm8 1zm4-9zm9 7zm3-4zm1-1zm6 4zm-55 13zm2-4zm15 0zm6 3zm1-4zm4 0zm5 4zm1-1zm4 1zm18-4zm-48 21zm3-3zm4-8zm0 10zm6-10zm1 9zm6-6zm-10 9zm3 6zm13-2zm7 6zm9 0zm-17 2zm1 0z"/><path stroke="#ffa700" d="M199 357zm-23 9zm5-4zm10 9zm3-5zm2 5zm-41 8zm16-4zm2-2zm11 7zm3 1zm1 0zm2-9zm1 6zm-20 8zm9 9zm3-1zm5-6zm-40 12zm14-1zm22 7zm2-2zm59 0zm21-6zm-108 12z"/><path stroke="#16ffe1" d="M154 283zm-5 8zm22 8zm-41 6zm67-5zm-69 20zm8 2zm13-9zm4 10zm0-2zm9-8zm5 9zm-36 8zm3 3zm7-1zm21 2zm-33 9zm10-5zm5 9zm4-3zm4-4zm2 7zm6-11zm9 0zm1 8zm1-5zm9-3zm1 2zm3 8zm5-4zm-48 15zm15-1zm0 3zm0-2zm11-1zm-45 6zm28 8zm8-10zm-33 14zm5-1zm8 7zm26-3zm-20 7zm1 4zm5 24z"/><path stroke="#006dff" d="M187 270zm9-3zm-50 20zm6-5zm8 4zm-9 2zm1 7zm29 0zm19 3zm-49 3zm19 10zm13-6zm8-4zm-65 15zm20 0zm1-4zm1 10zm13-9zm41 1zm-80 15zm43 2zm7-2zm7 2zm-53 9zm1 7zm29-10zm-42 17zm38-3zm-33 26z"/><path stroke="#00b5ff" d="M227 285zm-65 13zm6 0zm3-6zm18-3zm11 10zm24-2zm-87 10zm8-2zm3 0zm9-5zm2 6zm6 5zm3-3zm-40 4zm11 3zm2 6zm18 0zm2 0zm27-6zm-55 17zm9-3zm1 1zm3-2zm10-2zm13 0zm3-1zm5 10zm4 0zm11-5zm-60 9zm1 6zm29-9zm9 2zm11 0zm-53 19zm1-8zm-11 17zm9-5zm2-1zm10 9zm7-6zm19-3zm-41 33zm13-9z"/><path stroke="#0000bb" d="M209 268zm-51 10zm4 5zm8-5zm10 1zm27 3zm3 2zm-53 9zm17-3zm28 0zm4-1zm-15 11zm2 4zm12-1zm-38 18zm41 8z"/><path stroke="#e4ff13" d="M148 354zm44-4zm8-2zm-39 22zm13-5zm4 0zm12-4zm-64 21zm28-9zm3 7zm4-4zm15 2zm4 1zm3-2zm5-2zm8-3zm1 10zm2-4zm-77 16zm13-8zm3 8zm12-3zm2-7zm0 2zm13 0zm20 2zm2 0zm-65 9zm9 10zm0-2zm4-2zm12 4zm9-10zm4 3zm0-3zm11 7zm2-7zm77 3zm-96 12zm22-4z"/><path stroke="#00d9ff" d="M136 293zm17-3zm59 2zm-69 18zm26-6zm-29 18zm5-3zm12 1zm2 2zm1-5zm8 2zm1 0zm-38 11zm8-4zm17 2zm2 3zm17-6zm0 10zm10-6zm3-3zm4 7zm2 2zm3-7zm-77 9zm5 6zm5-6zm29 0zm33 2zm-78 18zm3-7zm2 0zm4 7zm3-9zm3 4zm23-1zm9-3zm1 1zm2 2zm8-1zm-45 11zm3 3zm11-2zm23-2zm-38 21zm36-8z"/><path stroke="#0049ff" d="M191 268zm-51 19zm36-2zm32-4zm10 2zm-87 8zm37 1zm3-4zm3 10zm22-8zm11 6zm4 1zm-93 3zm5 1zm19 6zm1-5zm4 0zm11 9zm2-2zm5-7zm10 2zm9 3zm8 4zm5 0zm10-11zm-89 13zm10 6zm10-6zm13 5zm40-5zm2 2zm0 6zm-73 13zm4 1zm10-2zm35 1zm8-6zm16 6zm-48 9zm15-7zm3 1zm-42 16zm11 0zm-12 43z"/><path stroke="#ff4300" d="M201 352zm-6 18zm-11 10zm46-3zm-75 9zm23-1zm4 6zm12-2zm-34 11zm11-1zm5-1zm77 3z"/><path stroke="#33ffc4" d="M134 310zm4 10zm12-4zm3 7zm23-5zm-57 6zm7 7zm12 1zm14 0zm3 0zm9-3zm13 6zm3-1zm-41 13zm2-7zm12 4zm5 3zm2-3zm7 3zm9-4zm7-6zm-61 17zm2 1zm0-5zm12 5zm9 1zm15-6zm-42 13zm18-1zm12 5zm1-4zm17 5zm-34 15zm9-4zm24-7zm-36 15zm3-3zm4 1zm21-1zm-24 19zm10-6zm9 3z"/><path stroke="#ff6400" d="M208 362zm-54 25zm14 3zm32 4zm-38 5zm60 8z"/><path stroke="#000092" d="M168 274zm28-8zm7 8zm4 0zm2 0zm12-10zm4 6zm14 3zm-74 9zm4 1zm9-4zm6 2zm4 2zm0 0zm5-3zm16 2zm21 0zm4 3zm-55 8zm0 0zm3 6zm8-10zm12 4zm8 1zm5 2zm1 3zm0-7zm-30 14zm6-4zm14 2zm-10 10zm8-2z"/><path stroke="#ffc800" d="M205 345zm-69 14zm46-6zm8-4zm0 6zm0-2zm4 6zm9-11zm-36 18zm7-2zm2 7zm2-6zm6-2zm7 8zm4-8zm14 7zm-47 7zm16-1zm1 0zm14 2zm5-2zm0 4zm-64 10zm7 1zm23-1zm2 5zm3-8zm6 4zm11 2zm9-8zm-54 13zm3-2zm5 3zm9-2zm18 1zm2 4zm23 9z"/><path stroke="#0024ff" d="M188 271zm-17 6zm5 9zm51-2zm2 0zm-73 15zm12-7zm4 3zm1 0zm7 2zm3-7zm2 8zm1 0zm1-1zm11-5zm5-2zm0-1zm3 0zm-66 14zm2-2zm39 1zm1-2zm4 0zm0 1zm3 3zm11 0zm3-4zm-75 19zm7 4zm40-1zm34-9zm-83 13zm3 0zm48 5zm17 0zm0-7zm-68 12zm9 9zm49-5zm-62 12zm29-4z"/><path stroke="#0000e3" d="M188 275zm2-9zm15 4zm6 0zm-26 16zm0 1zm4-4zm11 1zm5 1zm9-4zm9-2zm-77 10zm9 1zm7 2zm9 0zm11 2zm0 0zm11 2zm20-2zm4 5zm10-10zm-47 13zm27-1zm1 5zm-13 8zm-65 24zm77 27zm14 12zm-14 18zm11-4zm10-6zm3 0zm1 7zm23 3zm-50 1zm14 8zm5 0zm12 4z"/><path stroke="#8aff6d" d="M175 333zm-39 14zm25-7zm7 7zm5 0zm-45 12zm11-3zm24 0zm5 3zm11-10zm5 5zm-38 12zm21-3zm4 5zm-44 9zm5 4zm1-9zm9 5zm4 0zm8 6zm5-5zm10 3zm0 2zm-43 7zm5-1zm12-2zm8 0zm3 8zm6-5zm18 3zm-49 12zm6-2zm16-4zm10-2zm4 5zm-34 7zm1 1z"/><path stroke="#ffea00" d="M182 345zm5-1zm-2 8zm3 3zm6 3zm7-3zm-60 16zm25-1zm13 0zm8-6zm4 5zm8-1zm-55 14zm1-2zm4-2zm2 5zm13-11zm18 6zm8 2zm8-4zm-39 19zm7-2zm15-8zm9 3zm2 7zm4-3zm-61 4zm13 9zm1-4zm3-3zm8 7zm13 5z"/></g></g><rect x="140.2" y="125.8" width="4.4" height="82.8" fill="url(#jet)"/><path d="M144.6 205.2h2" stroke="#9aa4a8" stroke-width="0.7"/><text x="148.2" y="208.3" font-size="8.8" fill="#4f5d64" text-anchor="start">2</text><path d="M144.6 194.1h2" stroke="#9aa4a8" stroke-width="0.7"/><text x="148.2" y="197.2" font-size="8.8" fill="#4f5d64" text-anchor="start">4</text><path d="M144.6 182.9h2" stroke="#9aa4a8" stroke-width="0.7"/><text x="148.2" y="186.0" font-size="8.8" fill="#4f5d64" text-anchor="start">6</text><path d="M144.6 171.7h2" stroke="#9aa4a8" stroke-width="0.7"/><text x="148.2" y="174.8" font-size="8.8" fill="#4f5d64" text-anchor="start">8</text><path d="M144.6 160.5h2" stroke="#9aa4a8" stroke-width="0.7"/><text x="148.2" y="163.6" font-size="8.8" fill="#4f5d64" text-anchor="start">10</text><path d="M144.6 149.3h2" stroke="#9aa4a8" stroke-width="0.7"/><text x="148.2" y="152.4" font-size="8.8" fill="#4f5d64" text-anchor="start">12</text><path d="M144.6 138.1h2" stroke="#9aa4a8" stroke-width="0.7"/><text x="148.2" y="141.2" font-size="8.8" fill="#4f5d64" text-anchor="start">14</text><path d="M144.6 126.9h2" stroke="#9aa4a8" stroke-width="0.7"/><text x="148.2" y="130.0" font-size="8.8" fill="#4f5d64" text-anchor="start">16</text><rect x="176.0" y="126.0" width="86.0" height="83.0" fill="#fdfde9"/><path d="M172.5 188.0H262.0M172.5 162.5H262.0M172.5 137.0H262.0M208.0 126.0V212.5M261.0 126.0V212.5" stroke="#ece6c8" stroke-width="0.9" fill="none"/><text x="208.0" y="219.3" font-size="8.8" fill="#4f5d64" text-anchor="middle">0</text><text x="261.0" y="219.3" font-size="8.8" fill="#4f5d64" text-anchor="middle">5</text><g clip-path="url(#cA11)"><g transform="scale(.5)" fill="none" stroke-width="4.48" stroke-linecap="round"><path stroke="#0000bb" d="M420 271zm5 12zm16-4zm4 1zm3-3zm8 2zm-40 15zm21-4zm5 2zm12 5zm-79 8zm51-4zm15-1zm10 11z"/><path stroke="#16ffe1" d="M390 298zm13-7zm-15 19zm6-5zm6 4zm0-1zm10 0zm10-5zm-42 16zm12 1zm13-7zm30 6zm-46 14zm15-7zm7 2zm7 6zm9-6zm15-2zm-50 21zm11-5zm10-4zm14-1zm2 10zm11-7zm1-3zm4 0zm-59 20zm-8 11zm10-1zm2-4zm-21 12zm6 6zm6-9zm-4 18zm9 4zm1-8zm1-2zm6 7zm7-2zm3 5zm1-4zm-18 17zm6-3zm1-5zm3-1zm0 0zm6 7zm22-5zm-9 8zm16 0z"/><path stroke="#0091ff" d="M393 275zm22 2zm8 5zm61 0zm-90 8zm6-1zm4 4zm3 6zm14 0zm-12 10zm3 2zm15-6zm15-1zm3 5zm12-4zm-75 7zm0 11zm0 0zm7-10zm2 2zm8 4zm1 0zm4-1zm5 4zm13-1zm13-9zm15 2zm-75 15zm5 2zm3-2zm8-5zm2 5zm26-2zm15 0zm9 5zm-68 21zm1-4zm8 8zm-2 11zm1 1zm12-7zm-7 17zm-6 15zm0-4zm16-6zm12 6zm-25 17zm3-11zm13 11zm2-5zm7-5zm10 5z"/><path stroke="#c4ff33" d="M413 333zm0 9zm8 5zm8-6zm9 5zm-37 12zm16 1zm4-3zm3-3zm5-4zm4 0zm12-1zm-35 15zm-20 17zm1 3zm9-10zm8 5zm5 0zm5 0zm12-5zm-23 22zm30-1zm3-1zm4 0zm63 8z"/><path stroke="#8aff6d" d="M407 297zm-9 47zm3-5zm24 0zm12 3zm-46 13zm13-5zm13 6zm10-8zm26 3zm-77 15zm4 4zm11-6zm12 4zm4-5zm-22 18zm4-4zm9 4zm9-4zm0-4zm17 10zm-47 4zm22 5zm5 0zm2 0zm5-5zm-19 9zm14 4zm8 0zm2-1zm9 0zm20 3zm20-2z"/><path stroke="#bb0000" d="M450 358zm4 1zm-14 2zm2 10zm0 5zm-3 8z"/><path stroke="#ffc800" d="M427 345zm9 14zm3-7zm30 6zm-49 10zm5-1zm13-4zm5-2zm-44 16zm7 0zm9-3zm1 3zm0-4zm1-1zm1 6zm1-6zm2 0zm1 7zm5-1zm0 5zm-8 9zm10-7zm3 2zm4 4zm-6 7z"/><path stroke="#ffea00" d="M410 347zm-5 9zm1 1zm6 1zm0-9zm1 3zm3 7zm1-3zm0-6zm10 7zm6-8zm3 5zm0-1zm8 3zm5-7zm-31 14zm7 6zm11-9zm-15 17zm71 5zm-68 11zm10 2zm2-8zm48 7zm1-8z"/><path stroke="#6dff8a" d="M383 313zm12 10zm4 10zm5-8zm14 10zm-27 8zm19-6zm4 7zm3-3zm4-5zm3 7zm14 1zm35 2zm-95 4zm11-2zm14 6zm2 4zm16-1zm-29 10zm6 3zm5 1zm-25 9zm2-1zm20 3zm0 1zm0-8zm5 8zm-14 8zm0 3zm28-10zm-30 12zm13 9zm3-4zm7-4zm6 1z"/><path stroke="#ff4300" d="M439 359zm4-4zm14 0zm-33 16zm12-3zm-17 5zm12 5zm4 1zm18-1zm-23 16zm8-8zm15-2zm32 1zm-55 13zm60 3z"/><path stroke="#ff6400" d="M426 354zm1-4zm17 3zm0 6zm0-4zm-16 15zm13-6zm-10 17zm1-9zm4 6zm3-1zm2-1zm3 1zm1 3zm-14 6zm1 7zm7-5zm1 0zm13 3zm43-4zm-46 9zm5 2z"/><path stroke="#00b5ff" d="M427 275zm-6 9zm-33 24zm16-5zm10 0zm15 8zm-25 10zm2 0zm10-8zm6 9zm6-3zm8-7zm13 3zm-61 18zm8-9zm1 0zm5 1zm4 0zm23 8zm4 0zm4 1zm15-6zm-73 15zm14-5zm6 6zm-9 11zm32-6zm-50 15zm13 4zm-8 18zm-12 12zm28-2zm1 7z"/><path stroke="#a7ff50" d="M419 309zm0 26zm-12 12zm19-1zm18 0zm-42 8zm3 0zm4 5zm1 0zm2-5zm14-6zm5 7zm4-3zm-33 15zm2 2zm3 2zm1-3zm9-5zm4-3zm-29 17zm19-4zm12 10zm-21 7zm4-6zm10 0zm0 7zm12 2zm2-9zm-29 19zm2-2zm12 1zm8 0zm88 4zm-70 2z"/><path stroke="#006dff" d="M475 264zm-43 15zm6 7zm-49 4zm12 9zm6-11zm9 10zm18-3zm4 3zm3-6zm22 4zm9 0zm4-1zm3-6zm-103 17zm2-1zm2-4zm6 6zm17-6zm16 1zm4 3zm1 0zm12 2zm5-2zm17-4zm-75 16zm10 6zm0-8zm12-1zm6 6zm10 2zm18-4zm19-6zm-88 16zm12 6zm20-6zm47-3zm-72 14zm-9 15zm10 6zm9 1zm-5 18zm8 3zm-1 13zm-27 5zm27 2z"/><path stroke="#ffa700" d="M419 354zm38 5zm-40 11zm3-10zm12 5zm1 3zm11-7zm3-1zm-37 18zm1 3zm1-8zm1 0zm1 3zm2 4zm9-5zm1 6zm5 0zm0-3zm4-4zm6 5zm2-5zm0 11zm3 6zm2 9z"/><path stroke="#920000" d="M444 353zm12 15zm-20 12zm6-2zm1-5zm1-1z"/><path stroke="#e4ff13" d="M399 343zm31-1zm8 4zm2-3zm8 1zm-59 8zm27-2zm12 4zm2-3zm7 1zm3-2zm-41 11zm5 9zm10-2zm5 1zm10-4zm-28 9zm4 2zm1 1zm10-1zm6 5zm5-5zm8 0zm-27 13zm13 17zm4-5zm23 4zm4-2zm10-5z"/><path stroke="#0000e3" d="M461 270zm23 5zm-66 10zm15 1zm1-7zm2 8zm21-8zm4 3zm0 0zm2 0zm11-1zm22 2zm-95 16zm7-2zm1-3zm18-5zm-37 16zm50 16zm-65 9zm66 2z"/><path stroke="#ff1e00" d="M436 353zm12 4zm1-8zm3 8zm-13 16zm10 4zm2 5zm5 6zm29 1z"/><path stroke="#000092" d="M446 263zm-5 7zm0 0zm1 3zm26-6zm4 4zm10 4zm-67 1zm0 1zm6 5zm12-5zm14 3zm1 7zm4-8zm3 6zm4-9zm2 7zm9-6zm9 6zm-54 10zm12-2zm1-1zm1 8zm2-1zm4-3zm1 0zm1 4zm9-3zm1-5zm9 9zm2 0zm1-3zm-58 6zm17 8zm11 0zm4-6zm11 0zm6-4zm1 0zm1 4z"/><path stroke="#33ffc4" d="M440 286zm-47 24zm7 1zm-16 3zm1 7zm12-2zm0-7zm18 9zm9-3zm-34 9zm7 5zm5-4zm12 4zm3-1zm1 1zm9-5zm0 7zm2-9zm-41 12zm7 4zm19-5zm21 5zm9-3zm-55 14zm21-3zm-29 14zm4 6zm6-3zm0-1zm5-5zm-21 13zm2 8zm3-2zm4 4zm7-10zm1 7zm2-7zm5 4zm5-3zm-21 12zm5 4zm15-2zm2-1zm2-1zm5 0zm2 16z"/><path stroke="#0024ff" d="M419 282zm20 4zm38-10zm-67 23zm4-9zm6 2zm2 0zm0 6zm3-6zm-50 19zm46-4zm24-4zm4 6zm-7 11zm0-5zm0-3zm1 6zm15-4zm-14 14zm2 10zm6 2zm21 36zm13 16zm5 3zm-15 12zm1-11zm22 8z"/><path stroke="#00d9ff" d="M397 299zm14-6zm-39 7zm36 6zm6 3zm11-9zm-43 20zm8 2zm2-9zm2 4zm7-5zm11 11zm3-10zm30 10zm-50 3zm6 6zm6-3zm8-4zm4 3zm0 2zm6 3zm4-6zm3 0zm7 1zm9-2zm3 2zm-77 9zm7 5zm3-5zm62 1zm-71 17zm1-1zm14 2zm5-7zm12 0zm13 4zm2-4zm-42 15zm2-3zm2 10zm4-6zm3-3zm2 3zm2 6zm8-2zm-27 11zm7-7zm5 1zm11 9zm-20 8zm1-1zm5-1zm1-3zm-5 13zm3-2z"/><path stroke="#0049ff" d="M473 272zm-42 6zm-31 18zm4-1zm21-3zm9-4zm5 4zm10-4zm-33 19zm24 3zm0-10zm20 8zm-87 11zm7-4zm14-2zm47 0zm9 8zm2-6zm-72 11zm6 5zm14-3zm29 3zm19 0zm0 4zm-69 2zm17 2zm19 8zm-40 2zm15 38z"/><path stroke="#0001ff" d="M431 275zm8 0zm20-4zm10 2zm-44 3zm48 9zm-59 8zm5 0zm6 4zm9 0zm4 1zm5-4zm17 1zm-50 14zm16-3zm24 1zm25 0zm-34 25zm-61 67zm6 11z"/><path stroke="#e40000" d="M457 360z"/><path stroke="#ff8600" d="M440 354zm21 0zm-41 13zm12 9zm16 1zm-23 13zm9-1zm7 0zm62 4zm-73 3z"/><path stroke="#50ffa7" d="M398 319zm18 3zm-19 8zm3 5zm0-4zm6 1zm2-4zm2 7zm6 0zm15 0zm-44 5zm2-4zm0 6zm9 5zm0 0zm14 0zm23-11zm2 2zm0 3zm3 0zm1 3zm4 3zm-52 3zm0 3zm6 3zm7-5zm6-2zm0 3zm3 2zm-37 17zm9 12zm9-11zm10 5zm-29 13zm24 0zm9 1zm11-6zm-6 12zm11 6zm7 8zm49 1zm8-4z"/><path stroke="#8aff6d" d="M393 315zm21 26zm2 2zm20 2zm4-1zm-45 13zm15 2zm24-2zm19-6zm-65 18zm15-8zm4 4zm13 3zm11-6zm-42 19zm1 1zm8-9zm1 1zm3 4zm5 2zm-26 4zm7 10zm12-8zm2 4zm2-5zm4 7zm19-4zm-28 8zm26 9zm19-2z"/><path stroke="#ffea00" d="M419 355zm14 15zm4-9zm11 10zm-53 6zm18 1zm0 2zm-21 4zm31 5zm3-3zm20 9zm20-1zm-48 3zm13 4zm1 1zm4-6zm6 6zm24 5z"/><path stroke="#50ffa7" d="M397 293zm20 13zm-19 16zm23-10zm2 9zm-28 11zm3-5zm0 5zm4-3zm11 5zm0 1zm-19 6zm1-1zm1-2zm11 6zm4-3zm6 2zm4-3zm0-4zm5 3zm10-1zm1 2zm-51 11zm7 1zm0-3zm6 10zm-22 11zm4-10zm7 8zm16-5zm-5 17zm-15 11zm11-6zm3 7zm4-5zm9 8zm-5 1zm10 5zm14 5zm10-4zm59 3zm-95 8zm23-3zm1-1z"/><path stroke="#0000bb" d="M434 272zm28 9zm6-2zm-42 15zm10-3zm18 8zm6-10zm1 6zm20-5zm-63 15zm25-2z"/><path stroke="#920000" d="M438 370zm11-1zm-2 10zm15-4zm-20 13zm4-3z"/><path stroke="#0049ff" d="M453 271zm-62 21zm28-4zm2 9zm0-6zm24 0zm27 8zm-94 9zm41 3zm-40 11zm20-2zm32-3zm4-1zm12 3zm-74 5zm11 7zm2-4zm4 6zm4 2zm9-6zm50-1zm-36 16zm19-8zm-63 30zm3 9zm-3 18zm32 11z"/><path stroke="#bb0000" d="M429 370zm10 2zm2 6zm1 0zm5 0zm3-2zm-7 15z"/><path stroke="#c4ff33" d="M403 321zm2 21zm3 14zm4-8zm4 0zm3 2zm4 9zm2-6zm2-2zm-25 11zm20 3zm-11 9zm7 8zm0-8zm-18 15zm6-2zm9 7zm2 0zm3 1zm3-3zm1-1zm1 4zm1 5zm18 2zm8-1z"/><path stroke="#006dff" d="M414 286zm8 0zm3-3zm-29 16zm3-6zm2-2zm5 2zm20 2zm32 3zm-57 8zm15-1zm4-1zm4 7zm14-9zm2-1zm5-1zm7 5zm-66 13zm27 4zm18-8zm20 2zm-73 19zm29-7zm21 1zm0 4zm1 2zm3-3zm7-3zm5-3zm-64 14zm2-2zm55 0zm-61 14zm20-2zm-18 10zm13 16zm-4 23zm-3 9z"/><path stroke="#0000e3" d="M422 274zm20 1zm0-1zm11-4zm-54 17zm22-11zm16 9zm8-1zm1-1zm6-7zm0 2zm3 9zm17-4zm5-4zm-92 12zm37 1zm4 0zm16 1zm21-3zm2 6zm12 0zm-42 4zm14 2zm2-2zm3 3zm17-3zm2 7zm-95 6z"/><path stroke="#ffa700" d="M408 354zm40 0zm-25 17zm1-11zm11 5zm3 0zm3-3zm9 9zm-31 11zm23-4zm2-6zm4 11zm-42 1zm17 0zm6 10zm4-3zm6 4zm0-11zm-6 12zm8 5zm7-1z"/><path stroke="#000092" d="M458 262zm-37 6zm25-2zm3 6zm12 2zm2-5zm12 3zm-62 4zm6 8zm8-5zm2 4zm1 3zm18-1zm6-1zm10-1zm7-5zm10 7zm2-1zm6-2zm-69 9zm5 8zm0-9zm2-1zm1 3zm12 1zm6 0zm2-2zm1 0zm1-1zm4 8zm0-1zm2-9zm2 8zm1-7zm1 3zm-43 11zm11 2zm8-5zm24 4zm1-3zm-86 23z"/><path stroke="#33ffc4" d="M413 296zm-22 11zm3-4zm5 2zm3 0zm13 5zm1-8zm35 6zm-68 7zm19 7zm5 0zm17-9zm4-1zm8 9zm10-6zm1 0zm-59 15zm0 1zm31 0zm7-2zm-37 16zm14-5zm29 0zm4-3zm2 3zm-70 17zm7-5zm3 3zm16-6zm-4 17zm7 0zm-14 11zm26 2zm-42 5zm11 11zm1-2zm5 2zm2-8zm4 1zm7 5zm2-5zm5-2zm4-1zm19 7zm-34 4zm6 1zm7 1zm8 7zm5-3zm3-4zm-10 12z"/><path stroke="#ff1e00" d="M433 357zm12 14zm0-2zm4-5zm27 3zm-50 8zm10 4zm3-5zm6 4zm7-2zm-16 9zm61 12z"/><path stroke="#e4ff13" d="M422 343zm-13 16zm6-3zm0-1zm7 4zm5-7zm3 5zm6-5zm2-1zm0 6zm-31 12zm5-1zm1 2zm6-7zm1 6zm5-8zm1 9zm0-9zm2 2zm1 1zm1 2zm0-2zm7 5zm-17 8zm9 2zm13-3zm-10 18zm8 10zm2-4zm2 3zm1-7z"/><path stroke="#a7ff50" d="M409 316zm-24 25zm28-4zm7 10zm12-5zm12 5zm15-2zm-62 10zm5-1zm9-4zm1 4zm7 0zm1-6zm4 8zm4-6zm14 0zm-59 15zm20-5zm4 11zm3-6zm0 6zm2-2zm0-1zm3 3zm3-11zm2 8zm-28 10zm9-4zm2-1zm1 1zm4 0zm3 6zm-15 10zm28-1zm-23 13zm23-6zm3 3zm60 5zm-40 9z"/><path stroke="#e40000" d="M439 357zm-5 7zm4 5zm14-5zm9 1zm-43 7zm15 4zm8 3zm1-4zm1 0zm9 5zm-25 10z"/><path stroke="#0001ff" d="M493 273zm-39 10zm3-2zm7 3zm14-6zm5 7zm-76 7zm1 2zm17-6zm8 5zm5 2zm2-5zm16 0zm8 4zm1-5zm6 3zm4 1zm-54 9zm3-2zm-45 12zm13 8zm57-6zm-18 14zm-57 11zm7 24zm-1 23z"/><path stroke="#0024ff" d="M468 268zm8 4zm3-2zm7 2zm-51 15zm11-4zm15 2zm8-5zm-58 8zm28 3zm17 1zm3 3zm22-6zm-109 21zm60-4zm5-1zm-55 7zm14 5zm21-2zm23 2zm2 3zm1 0zm7 1zm4-4zm-45 12zm32-3zm-58 19zm36-8zm42 29zm23 11zm-114 7zm27 11zm68 10zm16-8zm6 2zm8 7zm2-2zm6-2zm4-5zm2 1zm-105 14zm77 1z"/><path stroke="#6dff8a" d="M384 308zm32-3zm-28 8zm17 5zm-5 17zm3-1zm30-3zm0-1zm-58 14zm24-7zm8 7zm0 1zm9-9zm1 2zm1 6zm1-1zm16-5zm4 4zm4 0zm-26 17zm11-11zm-34 18zm2 3zm14-8zm6 8zm-50 13zm12-5zm2 6zm3-8zm15 8zm4-5zm2 2zm0 2zm3-1zm-15 11zm9-8zm5 2zm12 4zm-20 11zm5 1zm15-3zm19 1zm-37 8z"/><path stroke="#ff6400" d="M428 364zm10 5zm24-7zm-39 16zm2-2zm9 4zm2-1zm13-2zm-22 15zm2 1zm5 2zm1-10zm10 7zm4-7zm69 9z"/><path stroke="#00d9ff" d="M455 283zm-43 12zm-22 11zm7 2zm2 2zm32-2zm15-6zm-62 19zm4-7zm8 7zm3-6zm3 4zm1-3zm10 0zm4 0zm0 1zm10 3zm5-5zm7 3zm19-1zm-69 10zm3 5zm1 1zm4-3zm32-2zm10 5zm3-4zm4 4zm-72 9zm3-2zm19 1zm27 0zm11-2zm8 1zm1 6zm-79 13zm17-6zm17 1zm3-3zm5-2zm14 6zm-47 9zm3-2zm23 5zm-13 8zm0 8zm7-2zm4-9zm19 22zm-20 12zm10-6zm2 1z"/><path stroke="#00b5ff" d="M442 273zm-48 14zm4-4zm8-1zm1 8zm29 8zm14 1zm-49 6zm31 5zm0-1zm6 2zm-22 2zm4 4zm1 4zm5 2zm6-3zm8-6zm7 7zm-71 8zm2 0zm15-3zm9 6zm30-4zm2-4zm18 2zm-76 16zm10-3zm1 7zm1-7zm7 6zm12-9zm8 8zm21-6zm-53 12zm7 9zm-16 10zm1 7zm2-2zm10 8zm-12 12zm1 0zm11-1zm8-9zm-19 13zm7 6zm6 0zm12-1z"/><path stroke="#ff4300" d="M447 354zm7 2zm-26 10zm9 2zm4-7zm12 7zm-19 13zm4-3zm8 3zm1 0zm-5 8zm6 0zm19-2z"/><path stroke="#ffc800" d="M415 358zm21 0zm4-3zm1 2zm-21 7zm7-3zm8 1zm-21 12zm8 1zm16 5zm-17 11zm5-4zm3 4zm80 4zm-71 3z"/><path stroke="#ff8600" d="M458 346zm-25 8zm5 2zm5-8zm-26 15zm8-3zm10 0zm0 6zm1 0zm1-6zm2 4zm8-3zm26 2zm-59 13zm2-4zm9 7zm10-5zm17 2zm-20 12zm7 0zm4 0zm4 3z"/><path stroke="#0091ff" d="M401 287zm-10 11zm11-9zm3-1zm46 2zm-68 10zm13 1zm4 8zm17-7zm1 1zm15 8zm2-9zm5 8zm3-1zm-71 4zm5 4zm11 1zm3 3zm1-4zm8-1zm1 2zm26 0zm0-5zm11 2zm7 7zm-40 4zm6 7zm15-2zm0 4zm1-7zm8 7zm21-9zm-78 20zm4-7zm6 4zm1 2zm3 0zm30 1zm15-9zm-57 11zm10 13zm12 4zm1-2zm-30 14zm5 1zm1-4zm1 17zm5-7zm1 11zm4-9zm-16 12zm11 1zm2 4zm7-2zm6-2zm8 7zm17 4z"/><path stroke="#16ffe1" d="M450 278zm-56 21zm22-7zm-2 8zm21 7zm-57 12zm13-1zm4-4zm10 2zm2 1zm5 4zm2-4zm11 3zm2-7zm3 6zm-32 7zm6 1zm1 5zm3-6zm4 5zm6-6zm11 8zm-48 8zm3-3zm1 8zm2-1zm10-2zm31-5zm2 1zm5-3zm0 5zm4 2zm-62 14zm1 2zm1-5zm11 1zm3 0zm30 0zm-37 5zm0 2zm24 0zm-23 15zm9 14zm-13 6zm16 4zm15-4zm24 9z"/><path stroke="#00b5ff" d="M470 279zm-75 17zm3 3zm24-3zm18 2zm-37 4zm3 1zm1 5zm13 3zm4-4zm11-1zm-6 16zm4-2zm-50 5zm39 3zm1-3zm8 6zm3 3zm9 1zm-65 8zm3 4zm2-4zm1 4zm7-3zm7 3zm8-7zm8 4zm11-6zm21-1zm-60 16zm1-2zm49-2zm-63 12zm14 4zm1-2zm-17 15zm13-1zm8 3zm-11 6zm4 2zm3 0zm3 4zm4-1zm0 6zm2 10zm21-3z"/><path stroke="#50ffa7" d="M428 298zm-47 13zm8-1zm7-8zm3-2zm5 3zm-10 19zm1-1zm7-5zm1 2zm13-6zm-7 20zm7 0zm20-7zm-59 19zm37 0zm32-5zm-61 10zm1 10zm1-8zm12-2zm5 8zm3-9zm34 2zm-41 16zm2-2zm19 2zm-39 17zm2-10zm0 5zm2 5zm29-7zm-37 19zm3-11zm3 6zm5 13zm0-7zm4 10zm2-8zm10 1zm11 0zm9 5zm-8 4z"/><path stroke="#ff1e00" d="M448 351zm6 8zm-24 12zm15-2zm2 2zm23 0zm-36 11zm3-10zm1 8zm1 2zm1-4zm9-5zm-6 13z"/><path stroke="#ffa700" d="M409 346zm23-4zm-8 16zm2 1zm17-1zm-39 10zm5 0zm7-6zm1 2zm0 2zm14 4zm1-1zm3-5zm5 2zm3 0zm-44 8zm24 5zm28-4zm18 8zm-48 10zm11-7zm11 0zm0 9zm1-2zm6-1zm22-1zm-16 12z"/><path stroke="#16ffe1" d="M472 286zm-66 11zm-10 10zm57 3zm-73 12zm2-3zm0 4zm0-5zm7 5zm5-4zm0 0zm2-2zm3-4zm3 3zm22-3zm-48 20zm0-2zm1-7zm8 3zm31 2zm1-2zm4 3zm2-4zm14 2zm-16 15zm5 2zm8-9zm-46 20zm15-4zm-29 19zm2-4zm1-3zm5 6zm1-4zm3-4zm2 7zm1-2zm3-4zm-15 30zm6-9zm1 0zm5 4zm24-3zm-24 12zm20 5zm15 11z"/><path stroke="#a7ff50" d="M417 327zm-17 18zm16-6zm0 3zm1 0zm-24 6zm10 3zm12 2zm7-3zm10 9zm2-11zm3 5zm3-3zm1 0zm-50 21zm13-1zm10-7zm1 1zm4-1zm10 7zm-28 3zm0-1zm3 7zm5-7zm6 9zm7 0zm-42 11zm6 3zm18 0zm5-9zm2 3zm4 4zm8-6zm-21 13zm8-3zm11 1zm19 13z"/><path stroke="#ffea00" d="M420 343zm20 6zm-21 11zm2 1zm9 4zm2 0zm-21 17zm5-9zm3 6zm-5 11zm3-5zm26 0zm-16 12zm10-1zm3 9zm61-4z"/><path stroke="#ff6400" d="M448 358zm12 0zm-31 11zm20-4zm14 5zm-33 4zm12 7zm2-4zm-12 8zm3 7zm46 1zm-44 5zm14 0zm36 1zm33-1z"/><path stroke="#ffc800" d="M446 350zm-36 21zm11-6zm4 3zm24-5zm-25 18zm0 0zm8-8zm5 4zm-32 10zm8 4zm5 1zm9 1zm14-8zm-10 13zm6 0zm39 8z"/><path stroke="#0024ff" d="M443 272zm22-2zm11-2zm-76 19zm7-2zm13 1zm4-8zm14 3zm7 0zm14-1zm-53 15zm9 4zm16-7zm5 7zm0-5zm1-1zm2 3zm28-6zm11 6zm-104 7zm25 3zm2-5zm9 7zm7-4zm1 1zm3 0zm2-1zm21 4zm6-2zm18-6zm-83 14zm5 0zm13-1zm15 0zm10 0zm9 2zm12-1zm-75 20zm16-5zm87 41zm13 2zm-106 16zm96 3zm9-7zm8 18zm1 5zm5-7zm3-4zm-24 12z"/><path stroke="#33ffc4" d="M412 278zm-17 33zm13-8zm10 16zm3-3zm7 4zm-47 7zm3 7zm19-6zm18 4zm11 3zm7-6zm7 1zm-51 9zm5-1zm1 6zm1 0zm0 2zm15-9zm18 1zm10 0zm-62 19zm0-5zm8-3zm21 4zm-38 10zm16-1zm1 9zm4-9zm4 3zm4-1zm-29 17zm6 0zm0 0zm7 1zm1-6zm7-3zm-12 14zm2-1zm6 5zm11 2zm-4 3zm2 7zm1-7zm22 7z"/><path stroke="#0000e3" d="M418 270zm29 5zm-27 11zm5-9zm4 10zm5-1zm8-1zm1-2zm4-5zm1 3zm4 3zm3 2zm2 1zm12-5zm7-1zm-75 7zm17 2zm6 0zm3 3zm11 3zm1 0zm33-2zm2-1zm-52 15zm4-4zm30-1zm-11 10zm12 0zm-25 15zm-50 72z"/><path stroke="#0000bb" d="M440 274zm1-8zm9 5zm13 3zm-42 13zm5 0zm4-9zm3 1zm8 5zm33-3zm19 5zm-119 9zm36-1zm25 0zm10 3zm9-5zm4-4zm0 9zm11-7zm7 1zm-54 9zm3 2zm34 1zm-17 13z"/><path stroke="#c4ff33" d="M403 343zm1 2zm13 0zm-18 4zm14 4zm2-3zm3-1zm15 7zm-26 12zm14-5zm2-2zm-9 15zm1 7zm3-6zm-13 7zm3 7zm4-4zm2 5zm3-6zm3 7zm1 0zm-4 9zm13-6zm11 5zm4-2zm5 4zm48-2zm5-1zm-82 10z"/><path stroke="#8aff6d" d="M396 312zm2 3zm18 5zm-13 9zm41 1zm-46 12zm10 5zm1-4zm13-3zm-25 18zm10-7zm3 6zm16-6zm7 0zm1 2zm-56 8zm2 7zm13-2zm0 0zm12 0zm1-5zm1-1zm0 0zm1 0zm4 2zm17 0zm-38 15zm5 0zm0 4zm2 1zm0 0zm7-2zm5-8zm18 2zm-39 21zm7-10zm4 2zm11-3zm18 21zm7 1zm14 1z"/><path stroke="#bb0000" d="M445 358zm-5 8zm10-3zm-27 9zm27 1zm23 18z"/><path stroke="#ff8600" d="M424 353zm6 3zm8 1zm0-4zm5 2zm9-4zm-28 9zm6 3zm4 2zm13-4zm-39 22zm15-2zm4-8zm7 6zm10 1zm-33 4zm22 0zm7 8zm15 2zm37-10z"/><path stroke="#e40000" d="M453 357zm4-3zm-28 17zm1-10zm7 5zm6 5zm5-5zm-12 12zm5-2zm4 3zm-3 13zm2-2zm13 2z"/><path stroke="#000092" d="M441 269zm3-3zm11 4zm4 4zm25-2zm0 0zm-76 11zm20-4zm11 6zm1 1zm3-10zm12 6zm1 3zm3 0zm0 2zm1-3zm2 0zm6 3zm16-6zm-56 9zm7 7zm8-8zm4 2zm3 7zm2-5zm2-5zm1 2zm0 8zm1-5zm1-4zm3 4zm2-5zm3 5zm2-2zm3 8zm-37 7zm8-5zm4 0zm-79 16zm22 36z"/><path stroke="#920000" d="M427 369zm14 11zm16-8zm17 5zm27-2zm-53 13zm13 7zm21-10z"/><path stroke="#0091ff" d="M427 294zm8 1zm-38 15zm34-3zm7 0zm4-2zm4 4zm-54 9zm12-5zm48 2zm7 6zm-84 8zm11 4zm14-4zm22 6zm12-10zm-49 22zm54-2zm7-8zm-68 16zm16 0zm7-3zm-25 14zm4-3zm5 10zm-7 5zm7 1zm1 4zm-14 10zm25-4zm1 6zm-13 4zm8-1zm22 14z"/><path stroke="#006dff" d="M441 270zm29 3zm-71 11zm7 1zm76-1zm-97 13zm14-7zm15 5zm22 4zm13-1zm-72 6zm4 0zm2 0zm11-4zm14 6zm4-3zm18-2zm4 1zm4 8zm24-2zm-67 13zm18-8zm28 7zm-65 11zm7-5zm1 9zm3-4zm36-6zm6-1zm18 10zm1-10zm-62 16zm54 7zm-67 35zm25-10zm-34 17zm6-4zm16 7zm-2 10z"/><path stroke="#6dff8a" d="M417 316zm13 1zm-43 17zm6-1zm13-6zm4 1zm12 6zm9 1zm17-6zm-48 18zm3-4zm2-4zm-14 13zm1 6zm8-6zm1-4zm2 1zm13 0zm5 8zm5-7zm6 6zm-57 11zm12-4zm4 6zm3 0zm7-1zm6 1zm-28 12zm2-8zm0-1zm13 2zm7-2zm9 10zm0 1zm-37 3zm22-2zm9 9zm2-7zm1 2zm1-1zm0 0zm4-2zm9-1zm-7 16zm5-2zm15 8zm17 1zm27 0zm-43 1zm24 1z"/><path stroke="#0049ff" d="M450 266zm-27 17zm8 1zm3-4zm1 6zm7-3zm11 3zm25-5zm-78 15zm17-1zm4-3zm1 0zm4 3zm8-1zm26-5zm7 0zm1 4zm3 6zm5-1zm-87 13zm12-9zm4-1zm13 2zm9 7zm34-9zm1 5zm1 1zm0 0zm5-2zm-88 11zm13 4zm20 2zm16-10zm23 0zm0 0zm-26 20zm-33 4zm-9 13zm9 7zm-11 27z"/><path stroke="#00d9ff" d="M387 285zm5 7zm4 6zm4 5zm2 3zm2 1zm2-7zm7 6zm6-3zm2 4zm2-3zm-31 17zm8-3zm13 1zm2 1zm2 1zm25-6zm2 7zm-64 4zm12-2zm3 5zm1 0zm22 0zm11-5zm12 11zm3-11zm11 2zm-76 17zm6-1zm1-1zm14-2zm1-3zm14 10zm11-8zm-49 19zm12-4zm-17 10zm7 7zm2-7zm2 2zm11 2zm-13 11zm1-3zm5 1zm8 3zm2 4zm-9 12zm4-2zm0 1zm1-6zm6 3zm-23 9zm0-3zm1 1zm6-2zm6 9zm9-9zm24 9zm46 1z"/><path stroke="#0001ff" d="M445 268zm-32 19zm14-4zm12 4zm10-1zm3-7zm-43 11zm2 2zm9-4zm4 5zm4 6zm0-9zm8 7zm34-5zm-93 9zm43 3zm3 0zm19 0zm5-3zm1 7zm6-7zm0 8zm-1 13zm6 0zm-79 3zm4 12zm44-1z"/><path stroke="#ff4300" d="M442 355zm6 4zm1-4zm3-1zm1 5zm-5 4zm8 1zm16-1zm-42 15zm3 0zm44 2zm26-4zm-61 12zm20 7z"/><path stroke="#e4ff13" d="M436 344zm6 3zm-60 12zm36-8zm17-2zm8 8zm7-7zm-43 15zm8-4zm1 1zm6 1zm2-2zm4 4zm-19 10zm5 0zm17 0zm-31 9zm19 2zm4 6zm2-6zm6 6zm18-6zm-35 12zm1 7zm0-8zm8 1zm3 5zm14-4zm12 6zm-24 5z"/><path stroke="#0049ff" d="M419 284zm29 1zm11 0zm-58 12zm24-9zm15 4zm2 5zm12 1zm2-8zm-74 12zm5 7zm15-5zm24 2zm20-4zm-68 14zm5-2zm0-1zm5 8zm1 2zm24-2zm14-6zm19 6zm3 2zm7-9zm-78 11zm38 3zm5-3zm22 1zm-71 13zm8 8zm40-5zm-57 32zm18 16zm4 15zm0 4z"/><path stroke="#0000e3" d="M424 270zm60 5zm-50 12zm9-5zm8-2zm20 0zm17 5zm-71 10zm5 0zm19 2zm3-2zm0-5zm13-1zm9 3zm-52 13zm26 1zm5 4zm1-1zm16-3zm-18 8zm-64 22zm13 12zm-18 34z"/><path stroke="#bb0000" d="M435 374zm16 8zm22-1zm21 15z"/><path stroke="#ffea00" d="M422 340zm0 7zm-18 6zm33-5zm6 1zm-54 22zm21-1zm5 0zm1-10zm5 5zm3-5zm3 5zm8-3zm8 3zm-27 10zm20-2zm-26 20zm10-4zm24 16zm3-8zm11 3z"/><path stroke="#0091ff" d="M404 287zm-6 6zm-16 17zm2-5zm21-4zm26 4zm26-5zm-45 16zm2-1zm16 3zm-36 7zm34-1zm8 4zm6-2zm20 3zm-83 13zm5-3zm10 3zm-12 17zm12 0zm4-6zm-8 16zm-25 5zm3 11zm3-1zm6 0zm1 6zm2-5zm10 0zm-15 16zm4-4zm6 10zm4-10zm3 1zm11 1zm4 7zm-11 3z"/><path stroke="#ff8600" d="M425 353zm12 1zm6 5zm-18 9zm16 0zm8 2zm5-5zm-40 18zm5-11zm5 0zm2 6zm6 2zm3-7zm1 8zm11-8zm51 9zm-64 3zm4 9zm2-9zm4-1zm28 1zm-35 14zm43 0zm26-3z"/><path stroke="#e4ff13" d="M407 347zm-2 11zm11-9zm1 8zm3-3zm4 1zm7-4zm4 8zm4-7zm1 7zm17-11zm-49 12zm12 10zm3-6zm-22 14zm20 3zm17-5zm-25 19zm2-2zm0-5zm2 5zm17-3zm10 0zm-49 8zm51 4zm9-2z"/><path stroke="#000092" d="M457 274zm2-4zm4-2zm6 6zm7-4zm-60 13zm3 3zm11-1zm3 2zm0-4zm8 0zm12 4zm7-1zm7-4zm1-1zm2 2zm3 1zm2-6zm5 3zm1 3zm4-4zm11-1zm-70 12zm1 4zm0-7zm9 6zm7 1zm1-6zm3 7zm1-3zm9-1zm4 4zm0-8zm1 0zm3 9zm4 0zm4-3zm2-2zm3 5zm-82 4zm15-1zm31 1zm9 6zm1-3zm-75 21z"/><path stroke="#920000" d="M435 357zm20-3zm-9 9zm4 4zm-6 21zm9 4z"/><path stroke="#33ffc4" d="M399 297zm7 6zm1 2zm38 5zm26-6zm-89 15zm10 2zm1-3zm10-5zm4 8zm6-4zm20 2zm3-5zm-51 16zm2 2zm1 1zm0-3zm1-4zm13 6zm13-6zm4 6zm-46 12zm26-6zm2 9zm33-3zm1 2zm11-8zm-68 14zm2 0zm14 0zm1 2zm1-1zm0 1zm16-4zm-30 14zm0-2zm2 3zm11-4zm1 8zm0-5zm5-1zm4 0zm1 7zm-34 5zm5 6zm3 1zm1-5zm7-4zm12 7zm0-6zm-16 15zm4-1zm14-2zm10 7zm-15 8zm3-4zm14 3zm19 5z"/><path stroke="#8aff6d" d="M407 323zm25 0zm-42 24zm3 0zm7-2zm8-6zm3 6zm1-4zm2-3zm23 4zm1 5zm-64 6zm10-2zm7 6zm5-8zm9 7zm6 1zm4-9zm0 0zm9 2zm2 4zm6 0zm6 0zm-57 7zm15-1zm2 6zm1 4zm10-10zm5 4zm2 1zm-24 11zm4 0zm1-2zm3 4zm3 0zm3 2zm19-3zm-37 11zm4-1zm13-1zm3 9zm7-2zm8 2zm-11 1zm3 6zm26 2zm7-4z"/><path stroke="#ffc800" d="M439 359zm3-10zm-19 13zm3 8zm9-8zm0-1zm-35 18zm14-2zm92 0zm-79 10zm7 3zm0 5zm7-1zm4-3zm4 2zm-34 3zm27 2zm2-2zm4 3zm5-2zm27-1z"/><path stroke="#006dff" d="M410 290zm7 7zm21-6zm33 4zm-73 16zm13-5zm26-5zm9 5zm3 3zm6-5zm-70 13zm26-5zm14 10zm2-9zm26 4zm-76 16zm0-2zm14-6zm12 3zm26 5zm6-6zm10 7zm-66 8zm1-6zm6 10zm5-1zm24-5zm-34 12zm-10 21zm8 6zm4-5zm-1 18zm7-6zm-15 10zm11 9zm10-6z"/><path stroke="#16ffe1" d="M430 272zm32 23zm-65 7zm11 9zm1-7zm9 0zm16 1zm1 5zm8-4zm-54 13zm9-3zm19-4zm5 7zm10-4zm6 1zm7 5zm-68 12zm8-3zm12 5zm15 0zm11-1zm12 1zm5-5zm-54 16zm2 1zm2-2zm4-3zm0 1zm3-4zm7-3zm9 2zm32-2zm-63 19zm2-6zm3 5zm3 0zm1 1zm-12 16zm1-1zm1-6zm3-4zm4 2zm4 1zm14 6zm-27 3zm4 10zm5-1zm7-2zm1 3zm2 0zm-12 5zm9 7zm-9 5zm51 11z"/><path stroke="#ffa700" d="M417 356zm19-3zm3-3zm5-1zm10-1zm-41 15zm14 5zm2-7zm-18 12zm2 3zm9 2zm0-4zm7-2zm14 3zm27-3zm-35 14zm6 2zm3 3zm44-5zm13 1zm-84 13zm42-4z"/><path stroke="#c4ff33" d="M394 342zm2 4zm28-2zm-23 8zm3 0zm6 4zm0 3zm2-3zm6-2zm2 2zm4 2zm13-1zm3-7zm-57 11zm22 2zm3-3zm1 4zm0-1zm3-3zm2 4zm17 4zm13-4zm-64 13zm3-4zm8 5zm12 0zm10 1zm2-6zm11 7zm17-2zm-39 6zm14 11zm4-5zm3-3zm4 8zm-11 10zm37-7zm18 6zm24-1zm18-2zm-68 8z"/><path stroke="#00d9ff" d="M389 293zm1 0zm45 2zm-48 14zm10-1zm22-6zm1-1zm2 0zm-41 19zm12-2zm11-2zm0-1zm1-1zm26 9zm25-9zm-76 12zm12 6zm13 1zm9 1zm2-5zm5-4zm5 0zm29 5zm-75 11zm14-3zm17-1zm3 1zm0-2zm30 4zm-73 10zm29-1zm4 2zm-37 20zm17-7zm5 6zm16-9zm-45 22zm17 0zm0-8zm10-3zm2 3zm7 7zm-19 10zm5-6zm-6 12zm29 8zm75 6z"/><path stroke="#ff4300" d="M453 357zm16-2zm-25 7zm1 3zm4 5zm-25 4zm17 7zm2-3zm8 13zm3 3z"/><path stroke="#0001ff" d="M441 271zm1 0zm-40 16zm46 0zm20-9zm-77 17zm8-1zm13-2zm7 4zm4-3zm2 6zm3-7zm5 1zm2-3zm17 2zm-27 17zm17 2zm5-7zm10 5zm-6 4zm12 0zm-20 12zm-73 21zm48-6zm-45 10z"/><path stroke="#ff6400" d="M440 353zm3 1zm12-2zm-20 14zm1 4zm0-8zm8-1zm2 4zm-10 9zm2 8zm3-2zm17 12zm10-3zm1-1zm32 4zm-58 4zm8 8zm56-5z"/><path stroke="#6dff8a" d="M405 309zm13 5zm-15 21zm2-1zm9-3zm7-4zm0-2zm1 0zm-29 11zm28 6zm2-6zm7 7zm2 2zm1-4zm-50 11zm11 0zm10-1zm4-1zm3 2zm-33 14zm4 1zm18-3zm0 6zm0-8zm6 5zm-30 5zm18 0zm6 5zm8 6zm4-5zm3 1zm-28 11zm4 4zm4-2zm18 3zm-16 2zm16 2zm1 1zm10-2zm11 9zm-27 5z"/><path stroke="#a7ff50" d="M411 320zm12-1zm-36 13zm5-3zm9 6zm0-8zm24 7zm-42 4zm62 3zm-57 8zm3 7zm3 1zm10 2zm2-8zm5 1zm3-2zm5 0zm2 6zm5-8zm-23 15zm3-3zm5 2zm3 6zm4-4zm0 6zm-39 9zm7-2zm5 2zm6-4zm6-1zm3 2zm2-3zm-16 13zm12 5zm6-5zm3 8zm8-3zm-21 7zm16 2zm12 2zm6 2zm15-1zm56-3z"/><path stroke="#0000bb" d="M420 284zm7 3zm2-6zm13 2zm2-4zm11 2zm1 3zm1-4zm22 5zm-91 10zm11-3zm20-3zm18 0zm26 7zm4-2zm-27 10zm1-4zm20 7zm10-7z"/><path stroke="#0024ff" d="M450 267zm-48 13zm29 4zm21-2zm-59 10zm27 4zm42-1zm-74 8zm5 5zm1 1zm30-7zm8 0zm8 1zm6 8zm2 0zm2-8zm-58 10zm2-1zm29 3zm7-1zm3-1zm0-1zm-48 16zm8-2zm61 1zm24 41zm-99 6zm4 31zm84-1zm5-7zm6 7zm21 0zm5-4zm4 3z"/><path stroke="#50ffa7" d="M381 303zm8-1zm4 3zm-7 13zm8 3zm5 2zm8 0zm4-5zm15-1zm-39 14zm4-2zm19-3zm39 3zm-70 17zm9 0zm2-5zm6 4zm1 1zm12-5zm5-4zm9-1zm15 6zm2 1zm4 2zm0-1zm-54 12zm10-5zm5-3zm21 4zm-43 14zm5-1zm12-3zm9 5zm-28 8zm2 1zm16 1zm0 3zm8 3zm-22 5zm9 5zm11-7zm9 3zm-30 12zm4-3zm8 1zm28 2zm3 1zm-14 6zm42 3zm24 2z"/><path stroke="#ff1e00" d="M455 355zm32 1zm-47 9zm5 6zm-14 1zm2 11zm9-6zm33 0zm32-3z"/><path stroke="#00b5ff" d="M419 289zm29 7zm-62 7zm5 0zm12 8zm2-10zm1 2zm0 2zm16 6zm7-7zm31-2zm-70 21zm4-8zm4-3zm7 6zm10-5zm2 6zm7 1zm5 0zm0-1zm4-5zm5 4zm6-3zm4 6zm0 0zm-74 10zm10-1zm2 2zm7 0zm15 0zm24-5zm5-2zm4 8zm10 2zm-75 8zm18-3zm19 6zm-28 6zm11-3zm14 5zm-46 14zm27-7zm-21 19zm15 9zm3-5zm20 20zm8 2z"/><path stroke="#e40000" d="M436 376zm14-4zm23 9zm9-5zm-46 10zm57 1z"/></g></g><rect x="267.3" y="125.8" width="4.4" height="82.8" fill="url(#jet)"/><path d="M271.7 204.8h2" stroke="#9aa4a8" stroke-width="0.7"/><text x="275.3" y="207.9" font-size="8.8" fill="#4f5d64" text-anchor="start">4</text><path d="M271.7 195.3h2" stroke="#9aa4a8" stroke-width="0.7"/><text x="275.3" y="198.4" font-size="8.8" fill="#4f5d64" text-anchor="start">6</text><path d="M271.7 185.8h2" stroke="#9aa4a8" stroke-width="0.7"/><text x="275.3" y="188.9" font-size="8.8" fill="#4f5d64" text-anchor="start">8</text><path d="M271.7 176.2h2" stroke="#9aa4a8" stroke-width="0.7"/><text x="275.3" y="179.3" font-size="8.8" fill="#4f5d64" text-anchor="start">10</text><path d="M271.7 166.7h2" stroke="#9aa4a8" stroke-width="0.7"/><text x="275.3" y="169.8" font-size="8.8" fill="#4f5d64" text-anchor="start">12</text><path d="M271.7 157.2h2" stroke="#9aa4a8" stroke-width="0.7"/><text x="275.3" y="160.3" font-size="8.8" fill="#4f5d64" text-anchor="start">14</text><path d="M271.7 147.7h2" stroke="#9aa4a8" stroke-width="0.7"/><text x="275.3" y="150.8" font-size="8.8" fill="#4f5d64" text-anchor="start">16</text><path d="M271.7 138.2h2" stroke="#9aa4a8" stroke-width="0.7"/><text x="275.3" y="141.3" font-size="8.8" fill="#4f5d64" text-anchor="start">18</text><path d="M271.7 128.7h2" stroke="#9aa4a8" stroke-width="0.7"/><text x="275.3" y="131.8" font-size="8.8" fill="#4f5d64" text-anchor="start">20</text><rect x="303.0" y="126.0" width="86.0" height="83.0" fill="#fdfde9"/><path d="M299.5 188.0H389.0M299.5 162.5H389.0M299.5 137.0H389.0M335.0 126.0V212.5M388.0 126.0V212.5" stroke="#ece6c8" stroke-width="0.9" fill="none"/><text x="335.0" y="219.3" font-size="8.8" fill="#4f5d64" text-anchor="middle">0</text><text x="388.0" y="219.3" font-size="8.8" fill="#4f5d64" text-anchor="middle">5</text><g clip-path="url(#cA12)"><g transform="scale(.5)" fill="none" stroke-width="4.48" stroke-linecap="round"><path stroke="#16ffe1" d="M680 295zm52 1zm-95 8zm44 14zm-32 14zm-4 12zm12-1zm11-7zm0 8zm0 0zm1 2zm6-6zm1 3zm14-6zm4 7zm0-1zm-69 7zm4 3zm16 2zm9-6zm3 2zm18 5zm23-7zm-63 15zm5 3zm7-2zm21-2zm1-2zm6 0zm4 7zm14-4zm23-2zm-90 13zm8 2zm11 6zm7 0zm0-10zm1 10zm26-6zm18-3zm-75 11zm5 1zm9 6zm7-4zm0 7zm3-4zm18-5zm14 7zm17-4zm-65 9zm15 6zm6 3zm3-4zm23 0zm14-5zm3 7z"/><path stroke="#0049ff" d="M713 271zm-7 13zm-19 9zm2 2zm10-1zm5-4zm18 3zm-65 35zm-24 15zm28 4zm23-4zm14 4zm0-1zm-61 29zm12 2zm5 1zm-11 18zm0 0zm26 0z"/><path stroke="#0000bb" d="M729 264zm-45 22zm11-7zm18 6zm2-2zm11 0zm-44 7zm29 0zm-25 38zm-55 16zm59 9zm-53 13z"/><path stroke="#ff1e00" d="M681 310zm30-1zm5-3zm-26 6zm0 66zm7 0zm58-3z"/><path stroke="#ff4300" d="M693 310zm1 0zm23-3zm-74 16zm38 55zm5 9zm77 8z"/><path stroke="#000092" d="M693 275zm2-5zm18 4zm4 0zm7-1zm23 0zm-60 4zm16 9zm1-8zm5 7zm14-5zm8-4zm6 8zm-48 6zm20 0zm1-2zm4 1zm16 2zm5-1zm-105 62z"/><path stroke="#006dff" d="M688 272zm42 0zm-42 15zm7-4zm1 0zm40 1zm-64 6zm20 5zm14-2zm2 4zm13-3zm-88 49zm17-2zm38-5zm3 1zm1 3zm-14 13zm21-5zm-67 13zm-1 23zm4 6zm14 4zm18 1z"/><path stroke="#0000e3" d="M678 278zm21 3zm9 2zm1-2zm4-5zm14 8zm-35 7zm9 0zm14 5zm5-4zm15-3zm-36 45zm-10 12zm9-2zm1-6zm-18 12zm5 4zm2-6zm2 5zm0-1zm1 1zm0-1zm12-3zm-74 52zm40 9z"/><path stroke="#ffa700" d="M632 305zm11-3zm9 9zm10-5zm13-4zm-33 12zm4-1zm1 10zm12-9zm-12 19zm21 44zm13 6zm22-10zm2 9zm-46 4zm87-2zm-15 12z"/><path stroke="#50ffa7" d="M683 287zm-12 8zm19 4zm23-4zm-33 6zm9 5zm-40 17zm17 0zm10-4zm-45 14zm17 2zm22-3zm13 1zm0-5zm33 1zm-72 18zm1-2zm4-6zm0 2zm12 6zm4-6zm10-5zm25 2zm12 8zm-53 10zm6-6zm9-2zm19 9zm9-3zm-84 14zm14-8zm3 3zm7 6zm6-3zm20-2zm1 7zm10-11zm-44 15zm39 2zm16-4zm3 9zm-55 2zm8 8zm4-7zm38 0zm1 0zm-21 13zm16-2zm2 6zm9 2zm35 3z"/><path stroke="#6dff8a" d="M666 278zm-24 17zm9-2zm10 6zm5-4zm8 1zm19 0zm7-2zm25-2zm-29 12zm-69 15zm9 1zm1-7zm50 6zm21-2zm-79 12zm23-2zm1 6zm5-8zm15 2zm0 5zm2-5zm0-2zm8 6zm-46 12zm14 0zm29 2zm16-5zm-49 16zm14-5zm15-2zm1 10zm0-4zm-36 10zm3-4zm13 10zm5-11zm2 2zm2 6zm11 3zm1-11zm-24 13zm6 4zm0-1zm5 4zm18-1zm-52 14zm25-3zm6 2zm0 3zm15 0zm0-3zm4 0zm-43 5zm19 5zm30 3zm0-9zm5 2zm28 9z"/><path stroke="#a7ff50" d="M645 298zm4-2zm6 1zm0 4zm7 2zm8 2zm3-2zm38 2zm-69 13zm4 0zm1 0zm0-3zm14 2zm4 3zm20 3zm-54 1zm1 11zm5-6zm20-1zm4 1zm12 1zm-43 13zm40 0zm-25 6zm25-1zm21 6zm8 4zm-51 11zm9-6zm17 5zm12-3zm2-1zm1 2zm9-5zm6 2zm23 0zm-76 20zm6-9zm15 8zm4-7zm9 3zm-54 12zm30-2zm11 2zm18-4zm8 7zm5 0zm-1 7z"/><path stroke="#00d9ff" d="M659 288zm7 4zm7 1zm2 6zm1-7zm13 3zm23-7zm-68 35zm23-4zm20 1zm16 3zm-46 6zm7 6zm8-3zm16 2zm9-9zm-64 12zm31 0zm63 9zm-94 8zm9 2zm15-7zm7 10zm2-11zm3 5zm0 3zm5-1zm20-5zm-64 12zm4 8zm2-8zm4 0zm5 9zm11-9zm5 9zm12-8zm-25 10zm19 3zm9 5zm-52 3zm5 10zm9 1zm1-9zm1 0zm4 0zm5 5zm7 3zm2-2zm2 0zm-20 7zm6 0zm9 8zm4-3zm4-2zm16 3zm2-3zm3 4zm14-4zm-20 11z"/><path stroke="#c4ff33" d="M650 299zm5 0zm5-2zm4 2zm-16 1zm46 1zm3 2zm14-3zm-75 23zm6-2zm37-1zm0 2zm11-8zm-39 16zm-22 14zm25-5zm24 5zm-11 8zm31 7zm-24 9zm2-3zm11 5zm16-1zm-5 8zm5 0zm-65 11zm1-2zm19-2zm6 9zm4-3zm20 0zm2-3zm5-2zm2 0zm-1 15zm38-1zm21 2zm-19 7z"/><path stroke="#00b5ff" d="M701 275zm32-5zm-60 16zm-18 5zm10-3zm17 4zm6 3zm0-1zm7 3zm6-1zm-47 39zm3-1zm6-5zm16 5zm-47 9zm4-5zm2 1zm4 4zm9 3zm1 1zm9-2zm9-6zm14 3zm5-6zm3 10zm-61 11zm6-5zm11 1zm7-1zm9 2zm7 2zm-32 15zm5-5zm9 1zm1-5zm8-2zm4 0zm23 1zm-60 15zm12 0zm3 6zm1-5zm-3 11zm18-4zm5 11zm20-3zm-47 10zm31-5zm1 3zm0-1zm3-1zm6 3zm0 3zm5 4z"/><path stroke="#e40000" d="M729 307zm-22 77z"/><path stroke="#0024ff" d="M669 277zm10 6zm35 10zm-24 35zm5 7zm7-6zm-25 12zm13-3zm2 2zm-54 51zm12 0zm-12 10zm1 6zm17-7zm25-3z"/><path stroke="#ffea00" d="M665 306zm7-3zm5 1zm6 7zm4-5zm5 4zm8-8zm9 2zm5-2zm8 3zm3-5zm-78 15zm6 0zm1 3zm4-2zm0 5zm5-5zm33-4zm-66 17zm10 4zm6-4zm15 7zm20 16zm3 5zm7 0zm-20 9zm26 0zm-24 16zm22-1zm5 0zm1-3zm-30 7zm22 3zm3 0zm3 4z"/><path stroke="#ffc800" d="M643 310zm6 1zm7-7zm4-4zm16 8zm4-4zm10 3zm-33 6zm13 16zm21 39zm6 5zm5 10zm-5 3zm3 5zm10 12zm39 3zm3-5z"/><path stroke="#e4ff13" d="M640 307zm5 0zm20-7zm0 2zm-28 15zm5-4zm4 8zm3 0zm1 0zm5-3zm3-5zm23 0zm-50 18zm18-2zm5 2zm11 2zm-32 9zm8 9zm7 8zm9-7zm9 17zm6-5zm22 2zm5 3zm-27 9zm4-4zm16 8zm0-4zm12-5zm-45 14zm3 0zm3 0zm10 4zm8 3zm3-6zm2 7zm15-10zm37 7zm-34 9z"/><path stroke="#0001ff" d="M695 271zm28 2zm-30 14zm38-8zm3 2zm1 3zm0 1zm3-4zm-32 11zm5-3zm6 7zm-95 58zm72-4zm8 1zm1-2zm-64 56zm30 0z"/><path stroke="#0091ff" d="M726 271zm-70 9zm25 7zm33-3zm-59 4zm18 0zm2 3zm23-1zm6 8zm15-9zm3 10zm0 1zm-9 22zm-46 12zm4-3zm10-4zm14 5zm-47 9zm23 1zm4 1zm7-7zm1 5zm6-5zm-31 17zm17 3zm4-3zm5-2zm5 1zm5 1zm2 2zm-60 13zm11-2zm-13 17zm18-1zm11-3zm5-3zm12 5zm-30 9zm-31 8zm48 1zm10-1zm15 8zm3-5zm-28 7zm28 0z"/><path stroke="#bb0000" d="M656 316zm43-3zm28 68zm-25 8zm8-1zm2 4z"/><path stroke="#ff8600" d="M654 311zm30-10zm15 9zm9-6zm-65 9zm60 64zm-24 9zm23 2zm46 8z"/><path stroke="#8aff6d" d="M660 295zm19 4zm29-1zm4-1zm-36 4zm2 1zm16 1zm2-2zm4 1zm5-2zm-85 17zm47 0zm8 5zm7-2zm2-3zm2 3zm3-8zm9 2zm12 0zm-74 20zm20-2zm-6 7zm2 5zm11-3zm5-3zm0 0zm1 2zm8-4zm3 18zm7-5zm20 8zm-75 3zm5 1zm5 2zm21-3zm33 11zm7-1zm7-2zm-79 7zm1 1zm2 5zm12-1zm3-7zm9 1zm15-1zm13 7zm10-4zm2 4zm-52 4zm3 0zm30 6zm0-3zm2 1zm2 7zm13-3zm1 3zm0-10zm60 8zm-108 5zm35-2zm7 2zm21 2zm39 3zm-72 7z"/><path stroke="#ff6400" d="M642 303zm9 7zm13-2zm9 1zm1-5zm6 2zm24 8zm2 66zm0-4zm23 1zm5 14zm-2 13zm19-7z"/><path stroke="#33ffc4" d="M672 270zm-19 14zm2 3zm22-4zm-23 13zm2-7zm9 4zm22 0zm-36 9zm50-1zm-48 18zm17 1zm24-3zm-47 9zm29 8zm7-9zm12 1zm-69 13zm8-3zm0 11zm34-3zm3-7zm2 6zm-16 11zm9 4zm5-2zm2-6zm7 1zm12 5zm6 0zm-61 9zm0 4zm12-8zm6 7zm1-1zm5 4zm8-1zm5-1zm5-2zm5-6zm-65 13zm18-1zm10 8zm9-3zm13-2zm-30 8zm10 1zm9 6zm23 1zm12 3zm-44 3zm15-1zm27 13z"/><path stroke="#920000" d="M714 308zm38 74z"/><path stroke="#0001ff" d="M676 274zm23-6zm30 4zm-23 10zm4 2zm13-2zm-43 9zm22 2zm-4 37zm9-2zm-13 15zm3 3zm-35 4zm23 5zm10-5zm-68 14zm23 17zm-10 14z"/><path stroke="#0000e3" d="M674 271zm24-5zm-4 20zm8-1zm4-7zm19 2zm3 1zm-37 12zm42-4zm-47 39zm1 13zm3 4zm-45 11zm48-4zm10 3z"/><path stroke="#0024ff" d="M715 274zm7-7zm-30 19zm32-7zm-45 14zm31-3zm4-1zm10 3zm-39 36zm8 1zm4 3zm-11 8zm4-4zm1 2zm4 6zm5-7zm-59 35zm-6 27zm2 6z"/><path stroke="#c4ff33" d="M632 308zm40-5zm23-2zm13 2zm8 1zm-71 17zm3 0zm4-6zm19 2zm13 2zm3-5zm6 4zm-34 8zm-12 10zm66 9zm-64 12zm15-8zm33 8zm-50 9zm21 2zm6-4zm8 2zm17-1zm1-2zm-30 14zm0-5zm2 5zm1-5zm2 0zm3 9zm0 0zm15-7zm-31 15zm22-5zm0 10zm2-8zm-14 19zm19-9zm25 2z"/><path stroke="#33ffc4" d="M643 293zm20-3zm2 2zm14 0zm11 2zm0 4zm2 0zm12 1zm8-3zm4-1zm-35 10zm34-4zm-9 14zm-67 12zm0 3zm7 2zm23-7zm1 9zm6-9zm3 8zm-45 7zm8-1zm11 5zm0-6zm12 7zm6-4zm7 2zm14-1zm5 0zm-79 17zm41-5zm0-6zm1 1zm5 3zm41 5zm-70 10zm18-3zm4 4zm6 3zm5-7zm3 6zm1-10zm-40 19zm3 4zm5-1zm4-9zm4 6zm1 3zm2-10zm2 2zm1-2zm5 5zm1 3zm9 0zm-14 6zm2-1zm1-1zm28 7zm-25 10zm8 0zm19 6z"/><path stroke="#0091ff" d="M675 268zm9 4zm-22 11zm13-1zm0-6zm19 10zm22-5zm-35 13zm45 0zm2-1zm2 2zm-100 36zm40-3zm10 7zm25 0zm-67 2zm42 1zm11 3zm-62 8zm18-1zm13 3zm12-2zm0 2zm4-1zm5 7zm-47 7zm7-1zm23 7zm-21 11zm-15 17zm25 3z"/><path stroke="#a7ff50" d="M645 295zm3-5zm45 6zm-63 10zm20-5zm5 4zm-9 12zm2 5zm6-6zm0 3zm3-6zm27 1zm12 6zm0-4zm14-2zm-81 16zm5-4zm0 0zm6 6zm1 0zm6-3zm2-3zm9 1zm-22 12zm18-1zm-19 15zm2-3zm16 9zm45-6zm-60 11zm4 1zm9 1zm5-2zm2 6zm2-1zm4-4zm10-5zm0 10zm1-5zm8 6zm3-6zm17-2zm1 4zm-36 16zm1-9zm6 7zm1-2zm8-1zm11 1zm10 3zm-81 3zm38 2zm7 7zm0-1zm12 0zm17-2zm-34 6zm13 3zm21-4zm24 10zm39-9z"/><path stroke="#ff4300" d="M628 303zm48 8zm2 0zm29-1zm-14 67zm15 17zm15-6zm13-3z"/><path stroke="#e4ff13" d="M631 304zm4-1zm1 7zm6 0zm12-1zm16-4zm25 0zm-63 8zm0 3zm12 4zm4-3zm11-3zm2 9zm14-7zm0-4zm21 3zm1 3zm4 1zm-61 12zm6-7zm0 8zm-13 10zm33 10zm4 17zm10-8zm14 0zm0 4zm37 5zm-79 12zm35-4zm3 3zm6-3zm3 0zm62-4zm-135 17zm20-5zm20 1zm17-2zm32 10zm-16 1zm10 2zm48 4z"/><path stroke="#00b5ff" d="M738 275zm-61 7zm32 4zm15-3zm9 2zm-72 12zm6-1zm58 4zm-95 31zm47 3zm2-6zm1 3zm8-6zm-44 22zm4-5zm5-5zm2 10zm21-7zm-48 13zm6-5zm6 3zm22 5zm36-3zm-65 18zm11-9zm6 7zm0-9zm11 9zm-15 9zm12 4zm0-3zm8-6zm35 0zm-61 22zm17-7zm21 3zm0-2zm-62 11zm23 7zm11-1zm1-5zm17-1zm13-1zm13 12z"/><path stroke="#000092" d="M703 272zm4-1zm8-1zm2-1zm10 3zm3-2zm0-2zm-51 8zm19 3zm1 1zm-5 10zm8 1zm-4 35zm-6 27z"/><path stroke="#6dff8a" d="M639 291zm50 6zm-45 9zm18 5zm18-5zm26-2zm-61 14zm8 5zm3-1zm3-4zm18 1zm19 1zm-64 5zm6 9zm3-3zm23-3zm6 1zm1-2zm4 3zm7-6zm-28 21zm17 0zm5 2zm-46 7zm13-6zm0 4zm2 3zm1 3zm5 0zm11-4zm9 5zm7-6zm0-3zm8 9zm7 0zm0 0zm-34 4zm0-2zm1 6zm6 1zm4-8zm4 7zm-47 10zm8 1zm2-5zm2 8zm0-4zm13 4zm3-7zm23 0zm1 5zm11-1zm6 0zm0-2zm2-4zm-66 23zm2-9zm2 8zm2 0zm2-7zm0 0zm14-3zm11 5zm12-5zm17 8zm-47 4zm2 2zm0 0zm11 2zm10 6zm6-8zm6 12z"/><path stroke="#ff1e00" d="M647 310zm14-2zm7-3zm32 4zm3 0zm9 8z"/><path stroke="#0000bb" d="M684 278zm4 1zm18 0zm33 1zm-29 13zm-25 38zm15-1zm-9 10z"/><path stroke="#00d9ff" d="M702 287zm35-2zm-61 13zm27 0zm22 1zm0-4zm6 1zm-48 24zm4-1zm-45 14zm39-5zm2 5zm6-6zm13 8zm-39 8zm14-7zm4 9zm0 2zm12-2zm-57 14zm6-10zm2 5zm7 1zm7-4zm9 2zm23 6zm-64 4zm4 1zm0 4zm5-8zm1 10zm2 1zm2-9zm2 1zm0 6zm8-5zm7 4zm33-8zm-73 14zm13 1zm18-1zm1 5zm19 13zm-35 5zm6 8zm4 0zm62-1zm0 3z"/><path stroke="#006dff" d="M704 271zm-30 13zm2 2zm5-7zm1 0zm25 8zm-50 4zm19 1zm5-3zm9 8zm-31 35zm27 0zm12-4zm-66 18zm58-2zm2 2zm-65 4zm17 5zm11-4zm18 3zm24-5zm4 5zm-47 8zm0 13zm-21 18zm6-5zm0 11zm2 0zm19-3zm11 4zm25 2zm-15 8z"/><path stroke="#ffa700" d="M654 309zm5-8zm3 5zm23-1zm15 6zm-19 2zm4 1zm2-1zm-43 14zm45 47zm8 12zm3 9zm35 2zm18 8z"/><path stroke="#50ffa7" d="M641 285zm40-2zm-17 11zm0-4zm10 1zm5 6zm15 1zm-59 6zm53-2zm7-2zm13 1zm-24 17zm18 3zm2 0zm-73 12zm8-3zm17-4zm0 6zm10 3zm2-4zm3-4zm5 8zm12-11zm-49 23zm14-4zm16 1zm6 3zm4-10zm-25 15zm12-3zm12 9zm3-10zm14 2zm11 4zm-77 13zm10 2zm6 2zm7-1zm1-5zm48 6zm25-8zm-94 17zm4-1zm9 0zm9 1zm3-7zm4 8zm1-7zm3 8zm3-6zm2-3zm2 1zm6 9zm9 0zm5-3zm10-3zm4-1zm-88 13zm18-3zm16 6zm10-1zm7-3zm2-2zm3 9zm14-6zm-46 7zm10 0zm46 7zm54 4z"/><path stroke="#920000" d="M702 308zm37 78z"/><path stroke="#ff6400" d="M626 310zm49-3zm0 0zm19-3zm5 6zm1-1zm-54 12zm15 2zm9-11zm-36 14zm0-1zm69 61zm19 3zm14 23z"/><path stroke="#e40000" d="M670 307zm-3 6zm76 71zm7 3z"/><path stroke="#bb0000" d="M642 308zm74-2z"/><path stroke="#16ffe1" d="M660 285zm0-3zm-17 8zm11 6zm25-8zm3 4zm30 6zm8 1zm-49 22zm7-3zm-40 17zm10-10zm12 0zm12 0zm11-1zm13 2zm13 0zm-81 11zm27-1zm37 11zm15 4zm1 8zm-69 9zm3-6zm1 9zm14-10zm4 7zm37-4zm-67 19zm4-11zm15 0zm1 2zm16 5zm-22 12zm2-3zm8 2zm7-5zm13 8zm13 2zm-49 2zm32 5zm35 3z"/><path stroke="#ffea00" d="M651 299zm1-6zm1 4zm2 9zm3 1zm8-4zm4-1zm-33 12zm2 3zm8 1zm1 1zm8 0zm1-1zm4 3zm10-2zm7-6zm28-1zm-54 14zm20 14zm-13 18zm21-6zm-7 17zm2-6zm11 6zm11-4zm-17 10zm6 1zm18-4zm40 0zm-72 20zm20 2zm49 10zm-7 8z"/><path stroke="#ff8600" d="M648 299zm21 11zm-16 3zm15 2zm14-2zm-24 44zm41 14zm-4 7zm-20 6zm30 7zm37-5zm13 6zm-56 7zm62 0z"/><path stroke="#ffc800" d="M654 308zm3-6zm17 2zm1 1zm10 2zm3-2zm6 1zm5-3zm6 5zm-71 14zm5-1zm4 2zm16-5zm19-5zm17 7zm3-5zm-69 14zm35-3zm18 39zm25 3zm-30 15zm17 5zm22 7zm-14 4zm24-2zm9 16z"/><path stroke="#8aff6d" d="M688 280zm-35 12zm48 6zm-61 5zm1 6zm19-6zm14 0zm9 1zm-47 8zm8 2zm32 7zm6-2zm-39 7zm13 2zm1 1zm3-2zm17-2zm-49 17zm3-3zm18 1zm17 7zm1-5zm-29 7zm27 3zm1-2zm3-2zm21 10zm-59 12zm22 0zm4-7zm4-3zm11 0zm6 0zm4 3zm1 2zm6 0zm1 3zm13 2zm29-2zm-98 11zm8-5zm12 9zm0-4zm7-6zm3-1zm1 9zm4-2zm8-1zm9-6zm9 7zm32-3zm-102 8zm6 2zm1 4zm14-3zm19-3zm10 1zm13 5zm19 2zm-77 8zm25 3zm29-5zm10 1zm2-1zm57 6zm-40 5z"/><path stroke="#0049ff" d="M696 273zm-44 10zm35 3zm6-1zm2-1zm14-2zm-36 7zm4 4zm2-3zm1 4zm23-3zm29 6zm-33 24zm-2 5zm-18 12zm15 3zm17 7zm-81 24zm23 5zm14 18zm-19 6zm1-2zm6 3zm2 0z"/><path stroke="#006dff" d="M719 270zm-45 16zm5-3zm4 0zm1 2zm13-2zm10 3zm43-7zm-71 13zm42-2zm-19 31zm-12 4zm-32 20zm-9 4zm1 1zm19 5zm19 2zm8-8zm1-1zm-47 29zm2 5zm-20 13zm22-8zm-11 16zm11-5zm15 4zm19 2zm10-1zm-59 6z"/><path stroke="#ffea00" d="M647 308zm6-3zm10-1zm10-2zm4 2zm5 6zm7 0zm8-4zm4-2zm9-1zm-77 19zm3-10zm0 7zm29-7zm2 10zm3-9zm1 3zm3 1zm37-4zm-79 16zm29-1zm16 33zm25 2zm4 1zm-70 11zm26 8zm26-2zm23-9zm25 4zm-96 8zm43 7zm19 9z"/><path stroke="#0091ff" d="M701 278zm17 6zm-57 4zm24 4zm29 0zm1-4zm-15 45zm-61 13zm6-3zm3-5zm13 6zm10-6zm22 4zm7-3zm6 1zm-63 12zm20 7zm17-9zm16 0zm-55 11zm17 9zm-29 3zm14 4zm32 0zm-44 10zm17 6zm38 1zm-56 3zm47 5z"/><path stroke="#0000e3" d="M704 267zm-31 15zm43 2zm8-7zm-42 52zm5 1zm2 11zm9-3zm1 9zm-7 7zm-32 33zm18 14z"/><path stroke="#00b5ff" d="M712 262zm-16 11zm15 1zm-57 13zm13 0zm2-10zm16 7zm-31 5zm9 5zm19-4zm7 4zm19-2zm-40 8zm15 22zm3-7zm-39 17zm4 3zm17-3zm1-6zm13 7zm20-2zm1-2zm5-2zm-78 15zm10-3zm9 6zm1-7zm29 1zm20 2zm-62 11zm1-3zm7 3zm2-3zm3 0zm39 8zm13 0zm-75 4zm3 5zm28-3zm3 2zm50-5zm-71 23zm14-1zm7 1zm-24 3zm5 4zm2-2zm9 3zm10-5zm-33 11zm11 6zm2 0zm4 3zm12-7zm9-2zm12 3zm2 9z"/><path stroke="#920000" d="M747 387z"/><path stroke="#e40000" d="M679 309z"/><path stroke="#0024ff" d="M700 263zm13 7zm-45 16zm19-3zm2 4zm1 0zm21-7zm3 6zm1-4zm-34 7zm42 1zm-24 32zm-11 5zm5 6zm-18 9zm23 13zm-38 45z"/><path stroke="#a7ff50" d="M671 297zm-42 8zm21-4zm8 2zm14 1zm27-3zm5 2zm-73 14zm5 1zm16 4zm48-7zm12-1zm-68 19zm0-4zm10-1zm19 3zm-36 7zm-5 21zm9-5zm8 0zm16 3zm1-3zm8 2zm2 3zm6-11zm-15 22zm1-6zm6 4zm4 3zm1-3zm3 2zm3-2zm7 1zm9-8zm-71 19zm3-1zm0-5zm4 8zm14-7zm5 3zm6-5zm2 9zm3-4zm1-2zm27 0zm-41 13zm3 1zm7 1zm2 2zm26-7zm-14 12zm13 1zm8 3zm3-2zm-44 12z"/><path stroke="#000092" d="M685 275zm11-1zm44-2zm-71 4zm23 5zm18 4zm3 0zm4-3zm5 5zm10-9zm-27 12zm8-1zm3-1zm5 3zm-33 53zm-33 58z"/><path stroke="#ffa700" d="M657 301zm9 10zm61-4zm-101 6zm22 0zm4-1zm6 3zm12-2zm12-1zm12 2zm11 2zm1-1zm-40 26zm28 25zm-5 8zm6 2zm0 12zm5-3zm38 9zm-29 6z"/><path stroke="#8aff6d" d="M660 293zm13 3zm8-1zm-50 6zm5 1zm23 7zm30-9zm2 1zm-55 22zm10-3zm19 0zm1 1zm3-8zm9 7zm13-5zm1 1zm-45 17zm9-8zm6 7zm1 0zm23-5zm12-3zm-67 16zm3-4zm5 5zm5 0zm3-5zm0 11zm3-2zm5-1zm5-4zm-12 17zm8-3zm12-4zm1-2zm5 5zm4 5zm24 0zm21-3zm-95 14zm28-4zm16-2zm11 7zm6-6zm3 5zm7 2zm-71 10zm3-7zm35 4zm6 0zm13-6zm2 4zm3 3zm5 1zm-74 4zm13 1zm1 1zm2-2zm7 3zm24 2zm25-1zm-31 16zm26 2zm12-4zm32 5zm12 1z"/><path stroke="#ffc800" d="M644 305zm35-5zm7 9zm18-2zm12 1zm1-1zm-70 13zm1-8zm2 5zm53-3zm0 0zm-32 43zm-17 13zm24-10zm25 4zm-63 13zm36 1zm20 3zm-22 8zm77 15zm8-4zm3 3z"/><path stroke="#0001ff" d="M704 266zm-24 21zm7-8zm9 4zm4 0zm2-6zm48 6zm-59 6zm2 3zm3 0zm33 0zm-38 33zm-2 16zm11-3zm2 6zm-80 13zm65-6zm6-1zm1 4zm3 1zm11-7zm-71 55zm20-2z"/><path stroke="#bb0000" d="M731 380z"/><path stroke="#e4ff13" d="M670 298zm9 1zm-41 6zm3 4zm7-4zm11-4zm12 2zm44-3zm-75 18zm8 1zm1 2zm8-8zm15 0zm23 0zm17-1zm-80 43zm48 4zm-16 4zm6-1zm7 2zm5 0zm5 4zm2-6zm6 6zm9 3zm-8 6zm3 3zm58-4zm-84 10zm4 3zm8-3zm2-2zm3 7zm5 3zm24 11z"/><path stroke="#ff8600" d="M655 299zm-20 12zm33-8zm4 2zm-21 14zm50 72zm38-2zm-35 7zm61 10z"/><path stroke="#16ffe1" d="M670 283zm15 1zm-27 9zm12-1zm8 1zm24 3zm6 2zm-19 4zm1-2zm-13 21zm21 1zm-53 2zm6 8zm5-4zm19 4zm12-1zm-43 14zm10 2zm5-5zm3 5zm5-10zm13 9zm-48 7zm6-2zm6 5zm9-7zm2 9zm4 0zm2-9zm12 5zm18-6zm3 1zm3 10zm-55 9zm1 2zm2-4zm4-4zm13-2zm18 10zm3-1zm6-3zm6-4zm-71 18zm9-6zm13 2zm13 0zm1 1zm-22 12zm4-1zm7 4zm7 1zm11-2zm-21 7zm5-1zm6 2zm3-1zm13 4zm-23 7zm25 1z"/><path stroke="#00d9ff" d="M661 292zm0-2zm27-2zm42 10zm-33 6zm0 16zm4 1zm-59 12zm13-1zm28-5zm0 8zm10-6zm-58 18zm3-10zm5-1zm5 4zm0 2zm-10 15zm5-4zm1 2zm3-5zm11 0zm15 0zm2 7zm3-2zm9 2zm7-7zm15 5zm-88 16zm14-8zm3-3zm2 0zm19 6zm4-2zm-28 13zm5 6zm1-1zm3-2zm9-6zm35 6zm-49 9zm2 4zm2-7zm2 8zm9-8zm1-2zm1 3zm2-1zm3 9zm9-1zm19-2zm-52 4zm6 1zm31 5zm1-4zm3-2zm16 6zm-23 6z"/><path stroke="#6dff8a" d="M673 284zm-23 14zm3-4zm15 1zm28 2zm30-1zm0 3zm-92 2zm25 0zm35-1zm-57 15zm20 1zm12 5zm12-1zm-43 11zm7-2zm23 5zm34-10zm-74 15zm10 8zm4 0zm26-6zm12-2zm6 3zm-46 11zm4 6zm8-5zm9-6zm3 8zm2-2zm4 5zm-40 8zm1-3zm3 4zm15-6zm5 4zm3 3zm11-1zm5-5zm8 5zm2-6zm14-1zm4-1zm9 4zm-96 19zm11-10zm13 10zm8-3zm4-4zm5 2zm9 5zm4-9zm11 2zm14-3zm-64 17zm11 2zm13 0zm14-7zm5 10zm1-3zm10 1zm3-8zm-7 14zm5-1z"/><path stroke="#0000bb" d="M697 272zm12-2zm27 5zm-61 12zm36-6zm19 0zm-54 11zm16-2zm-7 45zm12 0zm-4 8z"/><path stroke="#ff6400" d="M660 305zm44 1zm-70 9zm63 63zm27-6zm-31 12z"/><path stroke="#ff1e00" d="M660 303zm46 2zm-57 9zm74 69zm-12 9zm40 10z"/><path stroke="#50ffa7" d="M648 287zm14 10zm31 1zm5-3zm25 2zm-97 3zm48 1zm22 4zm16-4zm3 0zm-69 12zm-22 15zm17 6zm1-4zm17 3zm0 1zm1-2zm13-4zm-36 17zm32 2zm5-5zm-42 8zm16 2zm7-4zm1 6zm2-3zm6 8zm14-3zm2-8zm12 9zm2 2zm10-1zm19 0zm-87 3zm9 4zm3 2zm12 3zm0-9zm4 0zm17 0zm14 3zm-62 8zm4 2zm1-1zm0 5zm7-2zm10-4zm2 6zm1 2zm6-2zm1-5zm4 10zm16-2zm1-8zm-42 12zm16-1zm9 9zm6 0zm6-6zm5 6zm5 1zm-44 2zm21 4zm4-1zm0-1zm13 0zm5-2zm14 11zm0-4zm5-5zm49 2zm3 1z"/><path stroke="#0049ff" d="M678 270zm18 5zm-23 9zm12-6zm12 4zm5 3zm20-4zm6 0zm-54 11zm14 5zm11-6zm1 2zm10-3zm9 3zm-63 36zm50-1zm-54 19zm30-9zm9 0zm0 4zm2-5zm1 10zm-50 9zm56-6zm7 7zm-46 8zm-25 35zm13-3zm6 8zm7 1zm6-1z"/><path stroke="#c4ff33" d="M637 300zm34 4zm14 4zm28-5zm-75 18zm6 1zm1-7zm10-3zm3 6zm9-2zm1 1zm9-2zm-40 11zm5 4zm28 5zm-37 11zm27 5zm13 4zm7-1zm10-1zm2 4zm-57 4zm10 1zm1 5zm20-5zm25 4zm39 1zm-68 11zm0 5zm8-7zm3 3zm12 2zm3-2zm2-3zm38 1zm-97 15zm3-2zm8-6zm4 9zm44-8zm7 6zm1-1zm29 14zm47-6z"/><path stroke="#33ffc4" d="M668 293zm2 1zm29 3zm9 0zm-34 14zm51-7zm-93 15zm37 1zm20-4zm14-1zm-60 12zm32-2zm2 1zm3 6zm3-8zm11 6zm8-4zm3 2zm-70 13zm11 4zm2-3zm0 1zm8 1zm9-6zm5-2zm6 4zm10 2zm-36 12zm26-5zm9 2zm1 5zm6-5zm5 7zm10-7zm1 8zm1-7zm-76 18zm20-9zm4 3zm6 4zm15-7zm2 9zm1-1zm14-8zm2 10zm-70 11zm5-5zm3-4zm2 3zm11-4zm2 10zm8-8zm1 9zm0-3zm2-3zm6 1zm0 2zm0-7zm2 8zm2-9zm13 1zm6 6zm-45 15zm1 0zm23-1zm2 0zm17 2zm5-11zm-54 23zm17-2zm13-3zm1-3zm13 6zm15 0zm4 0zm-15 6z"/><path stroke="#ff4300" d="M643 311zm43-1zm6 1zm16-2zm-81 15zm74 73zm40 2z"/><path stroke="#a7ff50" d="M644 298zm3-6zm24 3zm19-1zm18 5zm-79 12zm16-8zm32 2zm0-1zm25 7zm-66 12zm2-9zm14 2zm9 6zm24-5zm8 1zm-62 7zm10 6zm22-3zm13 0zm-38 10zm3 2zm1-3zm9 2zm8 0zm5 8zm6 2zm4 5zm15 5zm-44 10zm5 0zm12-1zm2 3zm6-9zm13-1zm0 3zm1 2zm0-2zm1-2zm0 8zm6-1zm1 1zm10-4zm13-1zm2 5zm-83 12zm31-9zm0 1zm12 7zm19-3zm1-3zm1 2zm-37 9zm16 1zm5 6zm12-8zm5 6zm-4 10zm8 2zm3 0z"/><path stroke="#0000bb" d="M694 274zm1-8zm-6 20zm10-2zm11-5zm3 1zm-18 12zm24 4zm-24 36zm-7 7zm-51 58z"/><path stroke="#ff8600" d="M651 308zm0 0zm2-2zm3-1zm2-2zm5 6zm4-3zm11-6zm8 6zm10-2zm1 5zm-49 6zm35-3zm9 53zm3 15zm-6 6zm37 5zm-13 5z"/><path stroke="#ffc800" d="M648 309zm0-6zm2-1zm42 5zm23 0zm-82 5zm3 7zm1-6zm3 5zm27 4zm4-7zm15 0zm31-2zm-75 18zm69 23zm-21 12zm34 5zm-35 5zm7-1zm3 4zm-33 7zm0-1zm4-1zm10 3zm18-3z"/><path stroke="#6dff8a" d="M676 296zm6 3zm-14 10zm18-7zm9-2zm-19 22zm24-1zm-49 9zm4-3zm11 4zm6-2zm-48 17zm11-4zm6 3zm16-2zm-22 9zm4-3zm1 10zm10-10zm64 9zm-70 11zm6-9zm11 9zm2-2zm8 3zm4-10zm24 9zm4-4zm-76 16zm15 0zm43-6zm8-3zm-58 12zm16 3zm7 8zm39-7zm-15 14z"/><path stroke="#00d9ff" d="M656 287zm45-7zm-62 17zm41-2zm41-6zm-20 45zm-62 8zm3 4zm10-4zm6-6zm3 8zm15 2zm13-8zm7 9zm1-10zm-65 15zm4 3zm3-3zm19 0zm23-1zm6-2zm2 0zm22 10zm-75 5zm2 1zm19-5zm22 9zm10-7zm0-2zm-64 18zm7 0zm1-6zm9 7zm0-3zm3 2zm8 2zm1-3zm1-3zm-12 21zm33-5zm-30 6zm6 5zm1-5zm8 10zm8-9zm11 6zm-42 5zm30 0z"/><path stroke="#000092" d="M695 269zm1 2zm4-5zm23 8zm15-2zm0 0zm-59 5zm14 9zm7-3zm15 2zm0-3zm7-3zm0-1zm4 8zm6-5zm1 2zm9 2zm5 1zm-56 4zm7-1zm5-1zm5 0zm-18 50z"/><path stroke="#00b5ff" d="M658 287zm-13 5zm48-1zm4 4zm22 2zm-29 24zm4 0zm13 1zm-66 10zm42 1zm11-7zm-51 19zm7 1zm2 1zm-18 5zm32 1zm3 1zm15 2zm24 0zm7-2zm26 2zm-70 7zm-50 12zm13 4zm2 4zm2-6zm2-2zm15-2zm-28 20zm3 1zm3-3zm3-1zm6-2zm3 3zm7-7zm1 5zm27-3zm-52 10zm6 3zm14 4zm5-6zm13-1z"/><path stroke="#0091ff" d="M706 276zm-44 18zm12-6zm17 3zm4 6zm1-4zm1 1zm14-2zm6-2zm-88 34zm38 9zm19 2zm3 0zm7-6zm-56 17zm1 0zm13-1zm21-9zm9 3zm16-2zm-21 16zm-52 13zm19-3zm-3 12zm10 2zm-18 7zm3 6zm4 5zm16-2zm-27 5zm11 0zm1-1zm4-1zm19 1zm9 9zm-17 7z"/><path stroke="#bb0000" d="M746 382z"/><path stroke="#e4ff13" d="M652 299zm1 11zm0-10zm25 5zm1-3zm15 8zm-62 9zm3 1zm21-4zm3 0zm7 0zm5 0zm10-3zm20 2zm-49 17zm20 3zm-13 21zm17 7zm13-1zm9 0zm-45 15zm17-4zm10 5zm3-6zm9 8zm2-2zm7 1zm-59 15zm18-8zm4 4zm32-1zm0-1zm2 5zm59 7zm3-4zm-27 17z"/><path stroke="#ff6400" d="M647 305zm31 2zm18 4zm-4 4zm-33 48zm30 10zm9 15zm9 3zm28 2zm4-8zm-32 12zm27-1z"/><path stroke="#c4ff33" d="M644 293zm9 0zm5 2zm11 4zm-5 10zm7-3zm2-4zm-34 12zm4 5zm9 0zm19-7zm15 11zm21-6zm-73 14zm4-1zm3 3zm6-7zm3 3zm12-3zm13-1zm-20 14zm12-1zm3 11zm-33 16zm6 2zm12-4zm20 3zm-22 8zm7 6zm3-8zm9 0zm6 0zm2 8zm1-7zm9 7zm0-6zm7 1zm8 0zm11 0zm44 2zm-95 7zm29 9zm15 18z"/><path stroke="#ff1e00" d="M672 305zm1 6zm-1 3z"/><path stroke="#ff4300" d="M638 308zm19 3zm7-3zm41 3zm-32 73zm82 3z"/><path stroke="#33ffc4" d="M661 285zm14 12zm6-9zm13 4zm16 3zm13 1zm1 3zm-57 22zm32 2zm-54 2zm9 10zm13 0zm22 0zm2-7zm-26 9zm2 9zm3-4zm1 2zm-42 8zm8 5zm1 0zm4-4zm5-5zm1 1zm18 0zm5 7zm11-2zm5 2zm19-5zm-80 13zm8 6zm1-7zm7 2zm10 1zm11-3zm2-1zm19 9zm4-6zm12 0zm-59 12zm1-4zm11 7zm28-4zm4 2zm6-1zm10 4zm-67 10zm17 4zm1-2zm1-5zm26 7zm-27 1zm2 3zm0-2zm36 9zm7-10zm-31 14zm35-1z"/><path stroke="#ffea00" d="M650 307zm5-5zm1 4zm5-1zm10-3zm5-2zm6 5zm9 0zm7 3zm2-2zm5 1zm-71 9zm16 1zm1-5zm6 9zm6 1zm7 0zm17-10zm9 3zm9-2zm8 8zm-85 13zm7-7zm29 30zm30-2zm13 4zm-47 1zm11 4zm4 1zm2-3zm25 9zm-13 8zm9-7zm40 5zm-34 15zm23-1z"/><path stroke="#0024ff" d="M717 268zm5 0zm16 7zm-64 11zm17-1zm11 2zm-56 5zm33-4zm1 4zm1 1zm29-1zm6-4zm-30 39zm5 7zm19-8zm-10 12zm-59 13zm4 6zm18 2zm-26 7zm30-3zm-24 39zm29-5zm-18 11z"/><path stroke="#0049ff" d="M695 270zm-23 15zm33-5zm1-1zm5 8zm2 0zm25-5zm5 0zm-70 7zm2 3zm39 3zm1 0zm-35 28zm-3 2zm18 8zm-24 10zm28-7zm-69 13zm34 10zm-32 7zm-3 16zm28-4zm-18 10zm32 6z"/><path stroke="#50ffa7" d="M686 279zm-58 16zm48 0zm6 3zm10-2zm0 6zm22 2zm-42 15zm11 0zm-46 6zm3 2zm22 1zm11 7zm36-5zm-75 11zm6 5zm23 0zm5-10zm0 1zm4 7zm2 3zm-45 8zm18-2zm5 0zm1 3zm0-7zm1 2zm1-1zm5 7zm9-7zm2 0zm12-1zm12 8zm14-3zm-81 9zm17 1zm16-1zm10 0zm8-2zm4 9zm7 0zm18-5zm-88 17zm13-1zm11 1zm25-9zm4-1zm9 2zm7 0zm3 2zm-53 13zm6 3zm53-2zm-30 10zm17 1zm9 3zm27 0z"/><path stroke="#0000e3" d="M707 270zm-24 11zm4 6zm1-1zm21 1zm0-4zm2-4zm7 4zm9 2zm2-7zm-32 11zm14 0zm-5 37zm5 29z"/><path stroke="#ffa700" d="M654 303zm6 0zm27 8zm2-4zm14 2zm-53 3zm56 0zm-55 12zm19 41zm21-4zm-14 11zm7 2zm4 8zm3-10zm13 4zm3 2zm-33 15zm35 1zm36 1zm27-1zm-53 6zm22-1zm12 5zm4-4zm6-2z"/><path stroke="#0001ff" d="M681 275zm14-5zm-20 14zm21 1zm6-4zm19 1zm4-4zm-35 13zm2 7zm2-5zm-9 42zm2-2zm2 5zm3 6zm6 1zm-28 5zm17 4zm3 0zm0-5zm7 5zm7-4z"/><path stroke="#16ffe1" d="M653 287zm14-11zm-14 14zm37 9zm19-1zm8-2zm-52 22zm10 3zm5-4zm24 4zm-76 10zm2 2zm27 2zm23-6zm0-4zm1 9zm12-6zm-66 16zm20-6zm10 2zm-26 17zm5 2zm11-7zm19 4zm9 1zm13-4zm9 2zm-69 16zm4 0zm2-10zm15 10zm32-6zm3-2zm14-2zm-67 20zm9 0zm11-9zm-10 18zm15 0zm3-3zm1-1zm7 8zm-12 2zm4 10zm9-6zm4 4zm4 1zm4-2zm9 5zm12 5z"/><path stroke="#920000" d="M699 309zm28 72zm-7 13zm1-7zm5-2z"/><path stroke="#006dff" d="M647 275zm50 1zm11 8zm-40 6zm10 0zm38 5zm2-1zm9 0zm2-1zm-26 32zm-60 17zm13 4zm42-6zm-50 12zm2 1zm32-3zm11 2zm-47 11zm0 14zm-9 10zm14 6zm8-7zm-9 13zm18 3zm23-2zm-29 12z"/><path stroke="#8aff6d" d="M699 300zm4 2zm11-2zm-61 20zm7 1zm9-8zm12 2zm11 3zm-53 10zm11-4zm4 5zm1 6zm-15 5zm0 1zm3 4zm12-3zm7-3zm11-2zm1 6zm12 2zm5-3zm-44 13zm11 4zm11-1zm2 1zm1-5zm8-6zm22 11zm-57 2zm13 8zm3-9zm23 5zm6-3zm1-2zm1 3zm9-2zm14 5zm-84 15zm3 0zm3-4zm4 6zm22-8zm5 0zm2 0zm6 6zm1-2zm2-4zm-45 17zm15-8zm21 7zm5 0zm2 1zm4-2zm-22 11zm46-3zm25 8zm14-5zm16-5zm9 5zm-129 9z"/></g></g><rect x="393.9" y="125.8" width="4.4" height="82.8" fill="url(#jet)"/><path d="M398.3 199.9h2" stroke="#9aa4a8" stroke-width="0.7"/><text x="401.9" y="203.0" font-size="8.8" fill="#4f5d64" text-anchor="start">5.0</text><path d="M398.3 189.7h2" stroke="#9aa4a8" stroke-width="0.7"/><text x="401.9" y="192.8" font-size="8.8" fill="#4f5d64" text-anchor="start">7.5</text><path d="M398.3 179.4h2" stroke="#9aa4a8" stroke-width="0.7"/><text x="401.9" y="182.5" font-size="8.8" fill="#4f5d64" text-anchor="start">10.0</text><path d="M398.3 169.1h2" stroke="#9aa4a8" stroke-width="0.7"/><text x="401.9" y="172.2" font-size="8.8" fill="#4f5d64" text-anchor="start">12.5</text><path d="M398.3 158.8h2" stroke="#9aa4a8" stroke-width="0.7"/><text x="401.9" y="161.9" font-size="8.8" fill="#4f5d64" text-anchor="start">15.0</text><path d="M398.3 148.5h2" stroke="#9aa4a8" stroke-width="0.7"/><text x="401.9" y="151.6" font-size="8.8" fill="#4f5d64" text-anchor="start">17.5</text><path d="M398.3 138.2h2" stroke="#9aa4a8" stroke-width="0.7"/><text x="401.9" y="141.3" font-size="8.8" fill="#4f5d64" text-anchor="start">20.0</text><path d="M398.3 127.9h2" stroke="#9aa4a8" stroke-width="0.7"/><text x="401.9" y="131.0" font-size="8.8" fill="#4f5d64" text-anchor="start">22.5</text><rect x="430.0" y="126.0" width="86.0" height="83.0" fill="#fdfde9"/><path d="M426.5 188.0H516.0M426.5 162.5H516.0M426.5 137.0H516.0M462.0 126.0V212.5M515.0 126.0V212.5" stroke="#ece6c8" stroke-width="0.9" fill="none"/><text x="462.0" y="219.3" font-size="8.8" fill="#4f5d64" text-anchor="middle">0</text><text x="515.0" y="219.3" font-size="8.8" fill="#4f5d64" text-anchor="middle">5</text><g clip-path="url(#cA13)"><g transform="scale(.5)" fill="none" stroke-width="4.48" stroke-linecap="round"><path stroke="#0001ff" d="M952 266zm26 7zm3-1zm-58 5zm6 7zm2-1zm10-4zm18 1zm8 5zm12-5zm12 4zm2-4zm-80 8zm1 9zm14-5zm1 5zm14-2zm3-4zm-60 87zm67 0zm4-5zm3 3zm51 0zm-104 15zm28-3zm9 3zm11 0zm6-7zm36 0zm-114 17zm5-2zm23 2zm3-5zm8 4zm2 1zm20 5zm1-8zm60 5zm-18 10zm3-5z"/><path stroke="#ff1e00" d="M932 311zm4-1zm3-2zm0-1zm7 3zm2 0zm3 10zm2 2zm2-1zm-45 4zm32-1zm10 2z"/><path stroke="#920000" d="M941 312zm2 4z"/><path stroke="#50ffa7" d="M909 297zm0 5zm13 3zm2 0zm2 0zm-35 8zm1 1zm8 4zm2-3zm2-3zm2 3zm15 1zm2 5zm2-2zm29-4zm-57 12zm1 6zm10-4zm19-1zm13 0zm0 7zm-53 11zm1 1zm4-10zm1 9zm1-7zm8 2zm1-1zm8 3zm4 4zm9-8zm2 1zm17-4zm3 4zm-67 10zm5 2zm16 6zm9 0zm12-6zm2 1zm0-3zm2 6zm11-8zm7 4zm-60 15zm11 0zm2-2zm0 4zm3-7zm9 4zm3-2zm12 7zm-42 6zm15-4zm5 8zm49-3zm-45 9zm14-3zm4 10z"/><path stroke="#ff4300" d="M936 319zm13 1zm1-5zm6 6zm1 2zm-17 5z"/><path stroke="#ffea00" d="M899 307zm-3 6zm1 10zm5-6zm10-1zm12 6zm-24 10zm19 1zm15 21z"/><path stroke="#8aff6d" d="M919 306zm29 4zm-54 8zm8 4zm7-4zm12 4zm2-2zm10 2zm-48 2zm6 5zm0-4zm4 7zm6 1zm8-1zm7-4zm1 1zm18 5zm15-8zm-54 21zm6-7zm20 4zm0-3zm1 3zm5-1zm7 2zm5 0zm-39 11zm8-8zm9 8zm2-3zm3-5zm4 2zm2 7zm3 1zm3-10zm-40 13zm6 5zm12-5zm19-1zm-14 18z"/><path stroke="#006dff" d="M914 285zm0-3zm32 4zm14-4zm-58 8zm4 3zm20-3zm4 5zm33 3zm11 1zm4 0zm-47 5zm15-2zm8 0zm15-1zm2 6zm-90 12zm-5 35zm15-4zm53 4zm-48 15zm47-4zm2 3zm1 2zm7-5zm0 4zm32 1zm-104 11zm28-3zm40 1zm2-5zm0 4zm2 2zm30-3zm17 5zm-115 2zm7 4zm0 2zm3 0zm8 4zm1-4zm14 0zm11-5zm2 10zm11 0zm10-4zm0-3zm18 7zm23-6zm-108 9zm43 4zm-16 11zm37-5z"/><path stroke="#e4ff13" d="M905 308zm7-1zm-5 6zm19 0zm-31 21zm6-1zm16-1zm4 1zm9 2zm0-7zm6 5zm-12 10zm0 5z"/><path stroke="#00b5ff" d="M907 294zm55 4zm-76 10zm8-5zm51-2zm34-1zm-92 22zm11-8zm68-2zm-73 18zm50 8zm8 8zm3-9zm-57 15zm46 7zm-54 2zm12 5zm2-4zm1 7zm17-6zm0 7zm18-2zm2 0zm8 0zm-65 4zm3 7zm19-7zm8 8zm9 1zm2-9zm5 7zm14 2zm0-2zm-65 5zm9 2zm1-2zm1 2zm3 2zm1 4zm2-8zm14 3zm0-1zm9 9zm14-5zm14-2zm4-3zm58 7zm3 8zm3-1z"/><path stroke="#0000e3" d="M950 274zm11-4zm12 0zm10 2zm4-2zm-64 6zm4 8zm11 2zm5 0zm6-7zm16 2zm4 1zm11 1zm5-7zm-41 18zm4-1zm1 4zm4-6zm2 7zm10-9zm13 3zm-1 63zm-82 38zm11 0zm36 2zm7-10zm10 6zm37-5zm-90 15zm3 2zm13 2zm19-9zm1 8zm14 1zm3-7zm14 7zm15-9zm14 0zm1 10zm8-4zm-70 9z"/><path stroke="#a7ff50" d="M898 306zm8 5zm21-9zm-36 15zm12 4zm32-1zm1 0zm-46 14zm14-10zm6 8zm14-3zm5 1zm10 5zm20-7zm-67 10zm3 7zm6-9zm3 3zm15-2zm3-1zm3 2zm-24 15zm11 4zm2 0zm5 0zm-7 6zm3-3zm4 13z"/><path stroke="#ffa700" d="M924 334z"/><path stroke="#16ffe1" d="M900 292zm9 7zm-24 5zm4-1zm6 6zm25-6zm10 5zm4-7zm14 0zm3 2zm9 1zm-59 14zm20-1zm20 3zm20-3zm-77 16zm9-3zm-5 6zm8 1zm1-1zm22 9zm26-3zm7-4zm-70 15zm19-5zm0 4zm3-2zm7 4zm25-4zm14-1zm1 5zm-63 7zm9 10zm3-8zm14 6zm18 2zm4-5zm1 4zm6-6zm-53 11zm10 2zm15 3zm9-7zm3 9zm4-4zm27-6zm-57 16zm11-4zm-16 12z"/><path stroke="#bb0000" d="M959 313zm-23 11zm12 6zm1 2zm8-7zm13 4z"/><path stroke="#e40000" d="M948 321zm5 2zm-4 10zm8-4z"/><path stroke="#6dff8a" d="M914 305zm2 1zm2 3zm11-2zm12 4zm-47 7zm6-5zm24 0zm4 4zm1-1zm0 6zm1 0zm2-4zm1 2zm3-8zm-39 14zm8 4zm24 2zm-28 4zm5 11zm14 0zm3-7zm7 0zm3-2zm3 0zm14 9zm-64 6zm13-4zm0 3zm0 3zm2 0zm2-1zm9-2zm6 7zm0 0zm1-7zm1-4zm17 1zm2 6zm-38 10zm30-1zm1-3zm11 0zm-63 14zm7-1zm1 8zm12-2zm9-8zm12 4zm1-2z"/><path stroke="#0024ff" d="M926 270zm-10 13zm12 1zm8-5zm41 1zm9-2zm-71 21zm5-4zm13 4zm1-4zm5-3zm11 1zm4 0zm20-1zm1-3zm-33 68zm6 8zm8 6zm13-6zm-86 11zm9 1zm65 0zm3 3zm30-4zm-109 17zm11 2zm1-7zm19 5zm2-1zm74-1zm-106 5zm23 1zm1-1zm16 2zm4 7zm11 0zm19-5zm53 1zm2-1zm-68 8z"/><path stroke="#c4ff33" d="M920 316zm6 3zm6-6zm-34 14zm17 2zm12 2zm10 4zm19-6zm-52 9zm1 1zm3 0zm7 8zm-14 2zm6 0zm12 3zm5-3z"/><path stroke="#ffc800" d="M915 323zm-7 12zm-1 2z"/><path stroke="#33ffc4" d="M915 297zm-6 9zm5-3zm16-2zm1 3zm5 1zm34 1zm-90 7zm84 1zm-68 17zm41-3zm-49 12zm31 1zm9 1zm3-1zm9 1zm5-4zm9 0zm-59 16zm3 5zm17-10zm17 4zm14 1zm3-4zm2-1zm10 8zm1-1zm-71 10zm1-1zm7-1zm7 6zm3-2zm9 3zm8-1zm7-2zm2-3zm14-1zm-74 11zm10 0zm8 6zm3-2zm7 0zm5 0zm8 4zm7-4zm16-7zm1 0zm-64 13zm22 3zm2-1zm25-1z"/><path stroke="#0000bb" d="M939 275zm11-2zm-21 9zm2 0zm1-4zm9 9zm12-6zm9 3zm1-1zm41 0zm-74 9zm13 3zm13-4zm-63 98zm14 3zm18 2zm10-2zm3 2zm36 0zm-79 5zm2 4zm17-3zm31-2zm5 0zm39-1zm16 7zm2 0zm7-8zm-47 13z"/><path stroke="#0091ff" d="M906 283zm65 13zm0 0zm2 1zm3 2zm-96 11zm3 1zm46-9zm15-2zm27 7zm-25 9zm7 22zm-67 14zm55-1zm7-1zm2 0zm10 7zm2 2zm3 0zm4-5zm-88 7zm9 1zm20 5zm29 3zm13-6zm5 1zm1-2zm7-3zm-82 13zm9 5zm6 4zm6-5zm0 5zm3 1zm2-10zm11 5zm4-2zm6-2zm6 0zm4 2zm7-2zm2 2zm4 3zm-37 10zm2 4zm0-2zm3-6zm1 7zm5-8zm5 7zm2-4zm-13 21z"/><path stroke="#000092" d="M954 263zm12-1zm-17 7zm2 3zm12-2zm6 0zm2-2zm21 7zm-65 9zm8-5zm4-1zm4 9zm5-1zm0 0zm7-8zm1 7zm4-6zm0-1zm3 3zm1-2zm1 8zm-18 4zm4 3zm13-1zm2-5zm3 0zm-21 90zm33 3zm-69 11zm53 0zm-74 11zm36-1zm6 2zm19-1zm8 0zm0 2zm1-8zm25 10zm2-8zm17-2zm-57 14z"/><path stroke="#00d9ff" d="M921 296zm2 3zm-22 11zm38-5zm3-3zm20 1zm-72 15zm16-6zm-22 17zm9-1zm6 1zm35 3zm9-5zm-61 12zm4 7zm3 1zm-6 2zm16 7zm8 3zm5-9zm12 0zm11 1zm3 5zm4-8zm4 9zm7 1zm-48 8zm20 0zm55-3zm-95 18zm2-7zm1 5zm1-6zm10 0zm0 4zm9 5zm9-3zm1 3zm5-8zm3 4zm13-3zm1-2zm-51 13zm19 1zm10-1zm2 0zm11 1zm18 2zm-38 13zm12-5z"/><path stroke="#0049ff" d="M935 275zm-27 12zm4 0zm38-2zm-17 5zm3 8zm8-4zm1-5zm1 6zm7 2zm9 0zm0-5zm15 5zm2 2zm-29 5zm2 4zm-78 9zm78 27zm14 2zm-3 9zm-81 8zm76 8zm-15 2zm39 4zm-89 9zm6 8zm4-3zm1 0zm1 4zm36-4zm1-1zm4-4zm4 6zm2-2zm9 2zm-39 8zm0 0zm41 0z"/><path stroke="#ff6400" d="M942 305zm-7 8zm2-1z"/><path stroke="#ff8600" d="M953 334zm-29 2z"/><path stroke="#ffea00" d="M900 329zm18-3zm19 7zm-44 9zm20-3zm9 5zm11-7zm-25 12z"/><path stroke="#e4ff13" d="M902 309zm28 2zm-30 6zm4 0zm8 4zm7-3zm0-6zm3 5zm-37 16zm16-4zm11-2zm5 1zm1 7zm11-8zm5 4zm5 4zm-9 5zm-28 12zm2 2zm8-3zm19 10z"/><path stroke="#006dff" d="M983 264zm21 15zm-88 15zm6-4zm3 5zm16-2zm26 2zm-83 11zm27-5zm42 9zm15-6zm13 3zm-10 6zm-17 26zm27 7zm-109 13zm79-2zm-63 13zm3-5zm8 4zm46-8zm19 3zm-77 8zm4 3zm12-2zm18 5zm9 3zm12-2zm9-4zm1-3zm-74 12zm10 7zm3-4zm3 0zm16 6zm11-2zm3 3zm11-7zm2 4zm4-7zm2 1zm8 6zm0 4zm6-2zm44-6zm-104 9zm4 0zm2 2zm43 0z"/><path stroke="#ff4300" d="M940 309zm0 6zm1-2zm0 17zm10 2zm9-4z"/><path stroke="#ff6400" d="M900 324zm10 5z"/><path stroke="#33ffc4" d="M901 305zm33 1zm9 1zm11 2zm5-1zm1-3zm-73 7zm20 8zm10-4zm2 4zm13 0zm-46 5zm10 8zm15 1zm3-2zm27 1zm-57 10zm9 4zm1-6zm4 6zm5-2zm26-9zm6 11zm2-6zm1-2zm6-1zm2 9zm-23 8zm6 1zm3-6zm16 0zm8 4zm-74 15zm21-7zm5 0zm3 7zm0-6zm3 7zm12-6zm3-4zm1 5zm10 0zm4-3zm4 4zm6-3zm-81 11zm21 1zm6 5zm4-8zm1 3zm1 7zm1-5zm0 0zm1 0zm8-4zm7 10zm21-5zm-53 8zm1 3zm7 2zm14-5zm18 12z"/><path stroke="#a7ff50" d="M902 305zm5 5zm15-1zm6-5zm-27 19zm5-7zm2 2zm3-5zm2 5zm24 2zm-51 15zm18-6zm2 3zm21 3zm3-1zm-35 6zm7-2zm19 8zm8-3zm9-1zm-14 7zm10 10zm2-5zm4 0zm-51 9zm31-3zm8 8zm23-7zm-29 14z"/><path stroke="#ff1e00" d="M935 313zm24 3zm5-2zm-12 10zm2 9z"/><path stroke="#0049ff" d="M902 287zm25-1zm24-3zm10 4zm26-4zm-79 6zm9 5zm13-2zm4 2zm10 5zm25-4zm11 1zm-97 9zm71 6zm4-8zm-24 47zm13 9zm9-1zm-70 3zm60 4zm0-2zm5 8zm6-2zm7-1zm-65 15zm27-1zm1-3zm14 4zm2-7zm9 4zm6-4zm-83 8zm11 11zm10-7zm19 7zm0-7zm11 7zm20-1zm8-3zm35 2zm-86 5zm5 1zm15-3zm0 1zm2 3zm2-2zm4 2zm17-1zm59 6zm-74 5zm57 2z"/><path stroke="#000092" d="M938 272zm29-2zm4 4zm9-3zm12 1zm-59 11zm5 2zm1-1zm3 2zm2 1zm3 0zm3-4zm1-7zm11 7zm5 2zm9 2zm8-6zm1-2zm3 2zm1 4zm-55 7zm1-3zm0-1zm6 5zm8 4zm3-8zm13 3zm2-3zm22 1zm-36 11zm-25 94zm89 0zm-108 12zm4-1zm3-2zm6-2zm34-2zm14-2zm37 6zm-113 6zm22 2zm9-4z"/><path stroke="#8aff6d" d="M897 319zm2 2zm1-8zm13 1zm17 5zm5-1zm0-5zm-41 18zm39 3zm4-7zm0-2zm-22 20zm3-8zm4-1zm3 7zm4 4zm0-5zm3 1zm2 2zm10-7zm1-1zm3 4zm-61 13zm11 1zm4-6zm6 2zm4 8zm1-3zm2-5zm6 2zm4 3zm4 1zm6-5zm9 1zm17 6zm-57 5zm13-4zm5 4zm0 4zm12 2z"/><path stroke="#0001ff" d="M953 268zm-20 15zm48 1zm1-3zm1-3zm-84 14zm19-2zm9-1zm1-1zm0 8zm20 4zm1 0zm4 71zm45 1zm-98 20zm3 0zm44 3zm3-7zm1-2zm-64 11zm4 8zm22-4zm1-3zm7 1zm3 0zm1 3zm1-4zm12 0zm1 0zm9 4zm2 0zm3-6zm42 3zm3 9z"/><path stroke="#00b5ff" d="M953 284zm-47 15zm1-2zm11 2zm1-6zm3 2zm64 2zm-72 6zm18 4zm8-5zm8 2zm10 3zm4 2zm7-2zm-83 9zm62 1zm14 42zm-73 4zm2 6zm4-4zm2 5zm7-10zm8 10zm4-10zm6 3zm11 6zm3 1zm0-6zm1-3zm4 9zm4-4zm-63 15zm39-8zm2 0zm1 4zm5 4zm1 0zm3-5zm44 7zm-97 8zm12 0zm4-3zm1 7zm2-1zm6-1zm4-3zm3 1zm8-4zm7 5zm2-8zm3 5zm3 4zm5-5zm-32 9zm25 2zm41 8z"/><path stroke="#ffa700" d="M941 319zm-30 10zm12-4zm0 31z"/><path stroke="#e40000" d="M956 311zm-19 13zm10 4zm2-2zm7 0z"/><path stroke="#ffc800" d="M913 318zm-3 14zm1-4zm22 5zm-41 6zm33 5zm-28 4zm14 1z"/><path stroke="#50ffa7" d="M905 302zm18 8zm4-8zm4 3zm34 4zm-79 10zm7-2zm46-3zm18 0zm-69 12zm11-1zm3 0zm11 7zm22-5zm6 4zm21-4zm-71 11zm4 8zm3 1zm13-7zm18-4zm16 5zm3 3zm0-1zm1 1zm5-7zm-71 18zm5-3zm16-3zm7 2zm18 5zm4-3zm18-5zm5 9zm2-7zm5 4zm-74 10zm4 7zm0-2zm18-1zm0-5zm5 5zm13-2zm8 5zm-49 8zm0 2zm2-2zm7-4zm7 6zm17-1zm5-2zm19-1zm4 3zm-36 4z"/><path stroke="#0091ff" d="M969 274zm-62 19zm3-4zm10 3zm22 5zm-42 48zm45-7zm0 15zm3 6zm-51 8zm3 0zm8 3zm9-3zm14 4zm4-3zm3-5zm5 3zm1 4zm-52 13zm3 0zm0-7zm4 0zm10-2zm7 0zm23 7zm2-5zm8 4zm5 1zm-69 11zm9 3zm4-9zm1 5zm4-7zm18 10zm4-1zm6-9zm2 2zm4-1zm0 10zm14-9zm-81 14zm62-2zm25 5z"/><path stroke="#6dff8a" d="M899 298zm-3 10zm7 3zm5 0zm2-5zm2-3zm6 5zm4-5zm4 1zm-36 15zm12-6zm3 6zm2-4zm22-3zm26 7zm10-6zm-77 13zm3 0zm3 7zm27 2zm3-7zm10-3zm1 3zm8 7zm4-6zm5 1zm-47 13zm12 0zm1 4zm10 0zm16-10zm3 6zm5 4zm4-3zm-73 9zm1-4zm10 2zm5 4zm8 1zm0-7zm7 2zm12-2zm1 5zm7-6zm13 2zm-61 10zm4 4zm0 4zm6-6zm7 9zm11-11zm11 10zm3-10zm1 3zm1 0zm4-2zm10 5zm-55 11zm19 6zm5-7zm4-4zm40 5zm-64 9zm14 2zm4 2zm5-5z"/><path stroke="#c4ff33" d="M911 311zm1-8zm2 0zm-14 18zm4-4zm11 6zm-23 8zm3 2zm15-5zm15-1zm0 4zm17-6zm-46 21zm3-3zm2-5zm9 6zm0 2zm15-4zm1 2zm-22 5zm16 7zm14-2zm-9 9zm-13 19z"/><path stroke="#0000e3" d="M957 272zm-42 13zm20 2zm12 5zm13 0zm6 4zm4-8zm5 2zm5 4zm-32 9zm-10 63zm14-5zm54 21zm-56 6zm7-3zm18 2zm29 0zm-107 15zm5-1zm2 5zm6-6zm6 1zm7 4zm22-6zm-7 9z"/><path stroke="#bb0000" d="M940 306zm10-1zm7 4zm-22 6zm3 3zm22-6z"/><path stroke="#0000bb" d="M929 268zm18 7zm3-4zm26-3zm8 0zm-46 10zm4 9zm10-8zm8 0zm9 4zm9-6zm-16 20zm2-9zm4 5zm11-1zm2 2zm-33 98zm9-6zm-65 11zm1 10zm7-11zm9 6zm2 0zm13-2zm5 6zm11-4zm5-6zm4 8zm0-3zm6-4zm33 15z"/><path stroke="#920000" d="M961 328z"/><path stroke="#0024ff" d="M929 287zm6-4zm-6 9zm4-4zm0 4zm9 3zm5 1zm8 0zm0-5zm2 7zm5 0zm-51 4zm40 2zm2-4zm-10 46zm-65 34zm72-5zm0 6zm2-9zm-69 22zm37-1zm11-4zm9-4zm3 7zm1-6zm4 7zm1 1zm7-6zm-56 11zm1-3zm25 1zm12 1zm14 5zm43-4zm-59 11zm19 3z"/><path stroke="#16ffe1" d="M903 296zm43 2zm-56 12zm14-8zm1 6zm4-3zm37 6zm8-2zm1-8zm8 3zm5 4zm-15 5zm-70 16zm5 2zm71 4zm5-9zm-80 16zm2 1zm16 0zm6 2zm30-2zm6 2zm3-3zm-56 10zm4-1zm36 4zm15 2zm3-7zm2 5zm1 0zm6 3zm-78 5zm7 7zm9-7zm2-2zm6 8zm3 1zm9-10zm7 4zm12-3zm2 4zm6-3zm-75 21zm23-10zm0 4zm5 4zm0-7zm1 3zm9-4zm3-1zm6 9zm9-8zm9 6zm-52 7zm9 4zm24-6zm5 0zm12 8zm9-6zm7-2z"/><path stroke="#00d9ff" d="M950 297zm-65 4zm4 3zm13-1zm11-2zm12 1zm0 2zm2-1zm1 0zm37-3zm3 0zm-80 15zm9-2zm35 0zm21 8zm-27 14zm25 0zm-8 6zm24 4zm-81 5zm13 7zm42-1zm3-4zm3 7zm-63 8zm2-7zm3 0zm6 3zm7 3zm13 5zm30-11zm-66 13zm8 6zm18-7zm1 11zm2-8zm8 8zm5-4zm17-5zm-51 17zm1-6zm0 5zm15-6zm11 0zm0 2zm9 7zm2-8zm-32 12z"/><path stroke="#0000bb" d="M949 270zm5-4zm1 9zm3-8zm26 3zm-57 12zm6-5zm1 10zm3-4zm9-2zm8 2zm2-2zm2-3zm9 2zm0-4zm9 3zm-52 13zm12 0zm7 2zm2-1zm-9 100zm-47 6zm7-1zm7 1zm4-3zm23 2zm11 7zm11-9zm12 7zm47-3zm12 1z"/><path stroke="#000092" d="M949 271zm0-1zm1 5zm8-4zm34 4zm-64 11zm5-10zm6 8zm12-2zm5-5zm7 10zm1-2zm6-4zm1 1zm10 3zm8-1zm1 0zm-57 4zm2 6zm1-4zm7 0zm5 2zm2 0zm2-2zm1 4zm11-4zm0 0zm1 0zm18 2zm4-3zm2 0zm-20 11zm-17 93zm11 1zm-62 12zm4 1zm8-8zm4 3zm17 1zm14 1zm4 1zm1-6zm0 3zm1 0zm4 5zm1 0zm4-9zm3 2zm1-4zm14 8zm14 0zm-102 5zm36 1zm3 3z"/><path stroke="#920000" d="M945 305zm7 10z"/><path stroke="#16ffe1" d="M904 299zm21-4zm-33 10zm13 5zm3-2zm20-4zm5-2zm1 2zm16 7zm20-3zm-80 12zm-7 4zm51 11zm-56 11zm3-2zm6-2zm12 2zm47 2zm0 0zm5-9zm3 1zm-64 21zm8-4zm15 3zm5-1zm15-4zm7 3zm8-3zm17-5zm-84 18zm9-5zm18 3zm4 4zm3 1zm5 0zm0-7zm4 0zm2 1zm2 4zm0 1zm1-7zm5 9zm4-6zm4 1zm-63 13zm18 3zm1-1zm24-4zm2-1zm6 0zm3 0zm1 5zm0 1zm1 2zm3-5zm4 3zm2-5zm-48 14zm17-3zm25-3zm-9 14z"/><path stroke="#0001ff" d="M932 270zm35 4zm-46 13zm9-1zm11-3zm4 2zm41-4zm10 4zm-81 7zm9 2zm22 4zm27-9zm-18 72zm23 10zm-95 11zm31-6zm45 6zm-74 8zm11 4zm27-1zm8-1zm14 2zm6-6zm15 4zm34-8zm-105 19zm7 0zm5-2zm4-2zm3 1zm24 6zm20-10zm2 5zm3-3zm53 5zm-124 5z"/><path stroke="#c4ff33" d="M913 309zm14 0zm-16 9zm1 0zm9 4zm0-9zm-29 21zm2-2zm11 0zm4-5zm1 1zm2-3zm14 7zm3-7zm2 0zm2 3zm-30 11zm14 2zm4 1zm10-6zm0 0zm-29 16z"/><path stroke="#0049ff" d="M994 272zm-71 5zm6-1zm36 4zm-68 13zm22-1zm14 1zm2 0zm9 4zm1-7zm17 9zm1-9zm12 1zm-93 46zm70 16zm25 5zm-97 6zm77 6zm1-3zm26 0zm-77 7zm12 0zm1-1zm4 7zm8 3zm14-5zm4-2zm5-3zm1 10zm3-1zm-67 12zm8 0zm9-10zm1 10zm11 1zm7-2zm7-1zm2 2zm3 0zm2-9zm22 3zm5 7zm-85 3zm13 7zm4-9zm29 9zm18 0zm2-5zm-5 10z"/><path stroke="#6dff8a" d="M924 298zm-27 4zm40 9zm17-5zm-65 14zm11 0zm3-6zm17 9zm17-1zm1-3zm20 2zm-75 8zm12 3zm8-6zm0 3zm10 4zm0 1zm2-6zm7 6zm8-9zm7 8zm10 0zm-65 9zm7-1zm3 6zm0-10zm1 4zm3 2zm2-2zm4 1zm4 5zm15-10zm1 1zm1 9zm17-5zm4-6zm-56 12zm4 1zm6 7zm12-2zm4-3zm14 3zm23 4zm-60 3zm19 1zm4 5zm1 2zm14-4zm-10 16zm3-4z"/><path stroke="#0024ff" d="M930 274zm19-8zm-42 18zm40 2zm10 0zm6-1zm7-1zm-61 4zm21 8zm0 2zm16-8zm10 3zm2 6zm11-3zm6-2zm5 5zm4-8zm-47 13zm22 3zm20-7zm-104 71zm7 0zm67-10zm8 3zm4 4zm9-6zm-20 14zm65-2zm-130 13zm11 8zm1 0zm24 0zm5-3zm3-1zm-47 7zm9-2zm16 1zm1 1zm1 7zm25-2zm8 3zm34 0zm13 7z"/><path stroke="#bb0000" d="M957 309zm6 21z"/><path stroke="#0000e3" d="M937 287zm16-7zm8 6zm2 0zm5-2zm7-2zm2 0zm1-3zm1-1zm-97 17zm50-5zm3-1zm8 8zm2-6zm6-2zm6 2zm25 2zm-95 100zm60-5zm45 6zm2-2zm-81 12zm20-3zm0 4zm10 2zm15-4zm1 1zm25 3zm22-6zm8-5zm-79 14z"/><path stroke="#e4ff13" d="M933 309zm-33 12zm1-1zm7-1zm5-5zm17 7zm-35 10zm49-3zm1 6zm-43 8zm25-5zm-18 13zm19-2zm-22 36z"/><path stroke="#ffa700" d="M902 321zm11-5zm2 1zm1 15zm7-6zm17 1z"/><path stroke="#50ffa7" d="M896 303zm5 5zm57-2zm-65 15zm5-1zm9 3zm24-4zm3-2zm26-2zm-78 19zm10 1zm14-8zm3 8zm12-1zm16-3zm19 0zm-66 7zm4 2zm10 1zm4 4zm1-1zm6 0zm15-1zm0 4zm4-1zm7-5zm5-1zm-50 13zm10 1zm2-2zm17 7zm5-10zm9 2zm2-2zm3 4zm10-3zm-70 14zm0-2zm18 7zm5-8zm5 9zm1-7zm11 2zm4 5zm9-8zm7 6zm5-6zm6-1zm-64 12zm15 8zm20-9zm5 7zm16-6zm-51 15zm15 0zm3-1z"/><path stroke="#00b5ff" d="M893 291zm5 2zm34 0zm15 3zm-45 4zm17 0zm10 7zm19-1zm1-6zm20 1zm1 5zm-22 8zm-61 29zm11 2zm9-1zm35 0zm11-8zm-5 19zm8 4zm-65 7zm7 0zm8 0zm9-3zm3-1zm5 8zm14-6zm3 5zm3-7zm14 1zm-86 11zm18 4zm2-4zm1-1zm6 9zm5-5zm9-3zm11 2zm5 1zm1 0zm3 4zm2-3zm8 2zm1-1zm1-6zm2 3zm4 2zm0-1zm1 1zm10 0zm-72 6zm4 5zm1-2zm6 4zm6 1zm2-8zm2 6zm3-3zm3 5zm3-5zm35-2zm-32 15zm10-4zm6 0z"/><path stroke="#ffc800" d="M917 322zm4-1zm2-8zm-7 13zm8 3zm-1 19z"/><path stroke="#ff1e00" d="M940 315zm7 3zm3-6zm8 9zm-21 3zm10 5zm13-3z"/><path stroke="#ff4300" d="M943 310zm9 12z"/><path stroke="#ff8600" d="M934 329zm18-1zm-45 15z"/><path stroke="#33ffc4" d="M902 299zm27 0zm-34 10zm19-9zm11 6zm1-1zm50-5zm-88 22zm74-5zm5 5zm-82 11zm55-1zm11-6zm-64 17zm10 2zm10-7zm26 1zm10-3zm0 2zm4-1zm1 10zm3-5zm9-2zm-79 10zm12-1zm16 2zm11-2zm0 5zm6 0zm2 2zm0-1zm3 4zm13-1zm2-7zm-62 17zm3 3zm5-11zm4 3zm3 8zm18-3zm5-4zm6 4zm1-3zm4-4zm5 4zm48 3zm-92 9zm6-1zm2-4zm3 2zm3 0zm3 4zm7-6zm14 9zm0-7zm2 1zm3-3zm-53 22zm4-2zm28-5zm4-2z"/><path stroke="#006dff" d="M922 286zm-29 11zm23 0zm6-4zm5-5zm6 9zm2-2zm17 0zm4 1zm27-3zm2 3zm-36 5zm34 6zm-25 7zm-69 28zm3 15zm65-8zm4 2zm-71 16zm42-7zm21 9zm3-3zm-71 15zm10 1zm9 0zm13-7zm14 8zm4-5zm46 3zm-74 8zm1 0zm4 6zm11-7zm0 5zm19-3zm2-3zm9 4zm1 4zm8-1zm-89 4zm36-2zm11 0zm43 15z"/><path stroke="#00d9ff" d="M896 295zm2 3zm11 1zm-23 6zm6 3zm18-3zm12-5zm3 3zm28 6zm2-5zm-64 11zm13 6zm27 5zm-48 18zm13-5zm44 1zm6 4zm6 1zm0-5zm0 6zm1 1zm-64 5zm1 7zm4-6zm8 6zm30-4zm2-7zm6 11zm1-2zm6-5zm13 2zm-76 12zm4 4zm1-7zm5-1zm5 4zm5-6zm11 8zm-41 14zm11-8zm5 9zm9-4zm1-1zm3 1zm1-3zm7-2zm8 6zm7-6zm32-1zm1 2zm-73 15zm7-6zm11 1zm6 5zm3-4zm-20 19z"/><path stroke="#0091ff" d="M908 296zm6-1zm34 3zm10 0zm-39 4zm9-1zm10 0zm38 4zm-86 18zm-7 29zm8 0zm51 1zm3-1zm10 2zm7-6zm3 6zm3 4zm-36 2zm3 9zm2 1zm9-1zm8-4zm1-5zm1 3zm6 2zm-78 15zm2 0zm8 3zm12-1zm37-8zm6 7zm0-2zm3-2zm0 0zm-62 15zm10 1zm19-4zm29-1zm51 7zm-96 2z"/><path stroke="#e40000" d="M956 308zm-6 8zm1 2zm4-3zm2 0zm-13 10z"/><path stroke="#a7ff50" d="M921 306zm5-3zm-30 15zm0 3zm28-1zm1-3zm12 2zm-39 10zm2 3zm1 0zm10 3zm13 0zm12-6zm15-4zm-42 17zm5-2zm1-4zm1 11zm6-9zm2 4zm21 0zm-43 11zm20-3zm10 3zm6 4zm-30 5zm1 1zm-1 23z"/><path stroke="#8aff6d" d="M899 303zm8 2zm9-2zm8 2zm0 2zm3 4zm-42 6zm11-3zm3 4zm8 1zm18-7zm14 5zm1 3zm4-6zm8 0zm-67 11zm11 5zm9-6zm8 2zm14 1zm12 4zm6-6zm4 10zm-62 2zm17 8zm0 1zm1 0zm3-8zm0 9zm8-8zm7 7zm20-5zm-53 14zm1 2zm6-4zm7 0zm6 1zm3 2zm0-2zm0-6zm4 11zm3-10zm6 2zm2 2zm-42 13zm30-6zm2 11zm9-11zm6 0zm-39 21zm21-4zm7-1z"/><path stroke="#ffea00" d="M908 309zm-2 13zm4-3zm0-3zm1 0zm10 3zm-13 16zm32-8zm-28 9zm7 2zm17-2zm-38 20zm27-6z"/><path stroke="#8aff6d" d="M896 310zm1 1zm-11 8zm2-3zm22 0zm0 6zm1-1zm1-6zm17 6zm2 0zm3 2zm-46 3zm5 1zm9 8zm22-3zm25 0zm-64 8zm3-4zm9 6zm2 3zm4-4zm6-2zm4 3zm2 2zm27-8zm-49 16zm5 2zm5 3zm21 3zm7 12zm-59 17zm25-3zm6-1z"/><path stroke="#0001ff" d="M901 275zm48 8zm5 0zm11-4zm7 5zm19 1zm-64 8zm2-2zm7 1zm18 2zm5-4zm11 5zm0 0zm1-5zm-89 13zm84-2zm-23 48zm9 12zm-64 16zm-3 16zm31 2zm24-2zm2-4zm19 2zm15-2zm4 2zm1 0zm12-5zm-103 14zm3-1zm0 6zm25-8zm17 0zm0 2zm14 2zm36-5zm43 2zm-108 12z"/><path stroke="#ffa700" d="M931 334z"/><path stroke="#ff8600" d="M942 327z"/><path stroke="#ff1e00" d="M941 319zm4-4zm15 0zm-15 13zm10 6z"/><path stroke="#0000bb" d="M949 270zm9-4zm9 5zm23 4zm-53 6zm13 2zm5-3zm1 7zm11 0zm5-4zm6 0zm4-2zm5 4zm-62 12zm2-8zm6 3zm1 3zm2-5zm10 6zm2-6zm20 5zm4-1zm7 1zm-21 97zm-74 5zm131 0zm2 1z"/><path stroke="#0049ff" d="M976 267zm-67 20zm12-11zm47 10zm8-8zm-79 12zm47 1zm0 7zm14-8zm8 8zm10-5zm-87 18zm18-11zm43 1zm-68 30zm68 9zm6 11zm-64 20zm11-10zm4 6zm36-5zm7 9zm-12 2zm6 6zm5-1zm11-2zm25 4zm7-3zm-107 9zm4 4zm40 3zm1-3zm12 5zm8-6zm2 4zm25-5zm3-3zm-88 17zm1 5zm0 0zm4-4zm2 1zm5-5zm4 4zm7 3zm8-4zm1-3zm20-3z"/><path stroke="#ff6400" d="M910 326zm4-1zm8 6z"/><path stroke="#0091ff" d="M907 287zm85-6zm-80 14zm3-5zm4-2zm8 8zm3-4zm12 2zm22 1zm9-2zm4 3zm9 0zm-82 5zm6 3zm16-1zm7-3zm20 10zm-75 18zm28 14zm40 14zm6-3zm-67 17zm3-6zm10 5zm16-8zm22 4zm7 1zm5 0zm3-1zm0 1zm9-2zm-79 18zm6-1zm4-5zm0 6zm2-5zm25 6zm1-1zm16-6zm12 6zm3-4zm31-2zm-98 14zm17-6zm16 7zm1-5zm12 7zm0-2zm3 2zm7-7zm1 1zm-37 11zm33 4zm3-1z"/><path stroke="#16ffe1" d="M905 299zm-11 8zm-2 14zm34-7zm18 7zm6-6zm-54 18zm5 14zm5 0zm21-4zm-31 13zm5-6zm1 7zm9-5zm14 7zm10-2zm9-4zm0 6zm13-10zm4 2zm-70 14zm2 3zm1-6zm2 3zm2-3zm1-1zm0 4zm3 2zm5-2zm3 0zm1-4zm6 3zm1-1zm1-1zm3 6zm2-6zm13 7zm7-9zm3 4zm-53 19zm1-6zm0 5zm1-6zm11-2zm0 6zm0-3zm1 3zm4 0zm3 3zm12-11zm16 2zm8-1zm-59 11zm2 2zm41 4z"/><path stroke="#0024ff" d="M948 274zm23-5zm6 5zm7-2zm-64 6zm4 5zm17-6zm19-1zm20 10zm21 0zm-102 9zm29-4zm5 8zm33-2zm2-8zm5 7zm11 2zm0-3zm-17 8zm-86 21zm-9 44zm81 3zm18-1zm-65 12zm26-10zm7 6zm5 0zm70-1zm-120 18zm8-2zm35 0zm2-1zm12-7zm2 7zm-62 5zm6 0zm0-1zm9 0zm17 6zm1 4zm7-4zm1-1zm13-1zm6-4zm-47 13zm4-1zm15 2zm13-1z"/><path stroke="#6dff8a" d="M897 310zm18-2zm2-4zm15-2zm27 9zm-69 1zm0 11zm3-9zm12-2zm3 4zm16-3zm-41 17zm3-1zm41 3zm23-3zm-65 10zm6 6zm11-3zm4 2zm11 2zm15-2zm10-5zm-57 18zm31-1zm4-4zm0 2zm0-4zm5 7zm5-7zm2 6zm2-4zm4-1zm9 1zm-66 12zm11 0zm21 2zm4-3zm10 0zm1 1zm5 3zm10-7zm-57 16zm2 5zm14-7zm3 9zm3-10zm11 0zm8 0zm6 4zm-11 12z"/><path stroke="#006dff" d="M950 273zm-55 12zm12 7zm4-1zm3 2zm1-5zm47 13zm8 3zm-84 9zm59 35zm-60 16zm42-1zm28 8zm26-8zm-94 9zm1 11zm42-5zm14 2zm0-6zm2 6zm1-8zm8 6zm-65 16zm8-7zm26 4zm20-6zm3-1zm9 5zm34-4zm19 2zm17 7zm-126 4zm22-1z"/><path stroke="#a7ff50" d="M916 306zm4 5zm8 0zm1-6zm-31 18zm3-5zm8-6zm15 0zm1 4zm0 5zm6-6zm8 8zm17-2zm-57 3zm6 6zm15 1zm0 4zm6-6zm11 4zm5 1zm-62 5zm31 4zm1 2zm-9 4zm11 0zm2 1zm4 8zm15-8zm10 4zm-45 9zm18 2zm0 5zm13-8zm-22 12z"/><path stroke="#ff4300" d="M941 306zm3 1zm2 0zm5 2zm-5 6zm4 5zm13 6z"/><path stroke="#ffea00" d="M891 313zm10 2zm1-3zm10 1zm3 8zm4-1zm-16 12zm5-4zm6-1zm8 5zm9-7zm-19 26z"/><path stroke="#ffc800" d="M917 309z"/><path stroke="#33ffc4" d="M891 304zm17-1zm0 6zm8 2zm8-9zm6-2zm2 0zm3 10zm8-10zm0 2zm6 3zm1-1zm3-1zm12 2zm-50 17zm46 0zm5-8zm1 7zm-83 10zm1 0zm3-6zm30 3zm-28 11zm35 6zm4-5zm1 6zm4-7zm19 2zm-77 16zm33-5zm4 6zm14-3zm5 3zm2-7zm9 6zm5-8zm0 5zm1 3zm2 2zm1-10zm13 6zm-79 16zm10-3zm16 1zm6-8zm7 3zm0-1zm13-2zm14 1zm-68 13zm11-3zm16 6zm3-1zm8 6zm2-11zm3 0zm12 9zm1-1zm3-6zm6 2zm6 5zm-61 3zm5 8zm13-6zm3 0zm11 4z"/><path stroke="#50ffa7" d="M880 300zm11 0zm18 1zm4 0zm0 0zm18 3zm1 1zm3 0zm26 5zm1-6zm-72 15zm0-7zm1 2zm10 1zm1 4zm1 2zm0 2zm8-10zm0 0zm14 3zm-33 14zm3 1zm1-1zm11 3zm-22 11zm9 2zm15 1zm11-6zm2-4zm0 7zm3-7zm9 1zm11 2zm9-2zm-68 21zm6-10zm2 10zm7-11zm4 10zm7-5zm3-5zm3 11zm1-9zm4 4zm4-4zm0 4zm14 0zm4 3zm12-2zm-47 9zm1-4zm4 5zm0-5zm5 8zm0 0zm3-7zm1 8zm2-9zm2 9zm5-1zm3-5zm-47 9zm13 1zm10 6zm2-2zm1-4z"/><path stroke="#e40000" d="M940 310zm-2 7zm2 6zm9-10zm1 7zm4 1zm6-9zm6 5zm-27 11z"/><path stroke="#00b5ff" d="M901 292zm4 1zm3 3zm4-3zm24 6zm-38 6zm9 1zm44 0zm3-4zm-56 20zm45-10zm-54 15zm8 18zm47-1zm2-2zm-61 15zm1-2zm3-2zm3 4zm3-6zm29 8zm17-10zm5 4zm2-3zm4 6zm1-8zm42 8zm-105 14zm25 1zm23 0zm1-9zm1 3zm6 4zm23-3zm-84 17zm1-6zm4 6zm17-3zm3-2zm0 0zm2-4zm1 9zm0-3zm1-3zm2 1zm19-5zm4 5zm2 0zm1 4zm4-2zm5-5zm4 4zm23-7zm-92 23zm11-7zm1-3zm2 1zm16 1zm8-3zm4 5zm5 6zm0-8zm60-2zm-109 12zm34 0zm80 4z"/><path stroke="#00d9ff" d="M910 280zm0 7zm-6 11zm5-7zm9 3zm-30 7zm2 1zm14-1zm0 6zm53-5zm2-2zm5 3zm4-1zm11 2zm-78 22zm42 9zm-56 7zm4 1zm56 2zm1-2zm-64 11zm21 1zm25 4zm0-10zm14 0zm3 8zm3-2zm1 0zm1 4zm8-8zm1 6zm2-5zm-75 16zm6-8zm5 11zm12 0zm2-8zm14 6zm15-5zm6-3zm9 9zm-58 8zm9 0zm3-5zm10 5zm1-2zm4 1zm3-5zm2 9zm6-2zm8-7zm1 10zm1-5zm18-5zm-87 13zm13-1zm21 1zm2 1zm8 4zm5-4zm7 0zm9 0zm5-1z"/><path stroke="#0000e3" d="M928 271zm64 1zm9 1zm-73 13zm35-4zm6 0zm28 0zm-90 8zm10 0zm14 3zm3-2zm10 8zm16-6zm-4 84zm-7 11zm3 2zm0-6zm59 9zm-127 7zm8 1zm11-3zm2 3zm5 4zm10-8zm6 7zm0-5zm5 4zm49-6zm6 7zm20 3zm-94 5z"/><path stroke="#000092" d="M942 272zm19-1zm4 3zm12-1zm-51 12zm14-6zm1 7zm1-7zm0 1zm5 5zm2-1zm7 3zm0-2zm4-1zm4 0zm5 1zm7-4zm16 1zm-50 6zm5 10zm2-6zm2 3zm6-7zm5 0zm2 4zm1-3zm3 3zm0-3zm2-1zm7 2zm-32 79zm-56 6zm81 0zm39 0zm-115 24zm3-2zm12 5zm7 4zm18-6zm1 2zm3-6zm8 10zm6-4zm4-3zm0 1zm17 0zm2 4zm9 2zm21-4zm8-2zm2 1zm4 5zm-97 2zm33 1z"/><path stroke="#e4ff13" d="M915 305zm-25 18zm12-4zm12 2zm-9 14zm1-9zm5 2zm14-1zm4-2zm27-1zm-68 17zm6 5zm15-10zm-17 15zm5 1zm18 13z"/><path stroke="#920000" d="M934 306zm9 0zm4 4zm-9 4zm6-2zm13 2zm-3 16zm2 5z"/><path stroke="#c4ff33" d="M918 308zm-21 15zm2-8zm7 4zm14 2zm2-6zm1-2zm2 2zm22 3zm-63 13zm10-4zm7-1zm7 5zm3-2zm15-4zm1 5zm2-5zm-8 13zm4 3zm-29 8zm10 4zm10 1zm1 5zm1-5zm0-5zm5 9zm2-2z"/><path stroke="#bb0000" d="M936 313zm5 1zm5 4zm2 8z"/></g></g><rect x="521.1" y="125.8" width="4.4" height="82.8" fill="url(#jet)"/><path d="M525.5 202.9h2" stroke="#9aa4a8" stroke-width="0.7"/><text x="529.1" y="206.0" font-size="8.8" fill="#4f5d64" text-anchor="start">2</text><path d="M525.5 188.8h2" stroke="#9aa4a8" stroke-width="0.7"/><text x="529.1" y="191.9" font-size="8.8" fill="#4f5d64" text-anchor="start">4</text><path d="M525.5 174.6h2" stroke="#9aa4a8" stroke-width="0.7"/><text x="529.1" y="177.7" font-size="8.8" fill="#4f5d64" text-anchor="start">6</text><path d="M525.5 160.5h2" stroke="#9aa4a8" stroke-width="0.7"/><text x="529.1" y="163.6" font-size="8.8" fill="#4f5d64" text-anchor="start">8</text><path d="M525.5 146.3h2" stroke="#9aa4a8" stroke-width="0.7"/><text x="529.1" y="149.4" font-size="8.8" fill="#4f5d64" text-anchor="start">10</text><path d="M525.5 132.2h2" stroke="#9aa4a8" stroke-width="0.7"/><text x="529.1" y="135.3" font-size="8.8" fill="#4f5d64" text-anchor="start">12</text><text x="17.4" y="60.8" font-size="11.5" fill="#3c3c3c" text-anchor="middle" textLength="37.2" lengthAdjust="spacingAndGlyphs" transform="rotate(-90 17.4 60.8)">PLAND</text><text x="17.5" y="158.7" font-size="11.5" fill="#3c3c3c" text-anchor="middle" textLength="15.3" lengthAdjust="spacingAndGlyphs" transform="rotate(-90 17.5 158.7)">LSI</text><rect x="47.5" y="268.0" width="84.0" height="83.5" fill="#fdfde9"/><path d="M44.0 330.7H131.5M44.0 305.1H131.5M44.0 279.4H131.5M70.5 268.0V355.0M109.0 268.0V355.0" stroke="#ece6c8" stroke-width="0.9" fill="none"/><text x="43.2" y="333.8" font-size="8.8" fill="#4f5d64" text-anchor="end">0.00</text><text x="43.2" y="308.2" font-size="8.8" fill="#4f5d64" text-anchor="end">0.25</text><text x="43.2" y="282.5" font-size="8.8" fill="#4f5d64" text-anchor="end">0.50</text><text x="70.5" y="362.5" font-size="8.8" fill="#4f5d64" text-anchor="middle">0</text><text x="109.0" y="362.5" font-size="8.8" fill="#4f5d64" text-anchor="middle">5</text><g clip-path="url(#cB00)"><g transform="scale(.5)" fill="none" stroke-width="4.48" stroke-linecap="round"><path stroke="#0000bb" d="M142 551zm6-2zm2-8zm19 3zm-38 13zm12 4zm3-1zm4-5zm1-3zm0 11zm2-5zm7-3zm9 4zm4 2zm8 1zm1-3zm6 2zm-62 5zm0 8zm5-2zm7-6zm1-1zm14 9zm2 1zm2 0zm9-5zm10 5zm0-4zm5-2zm-58 14zm3-1zm3-1zm1 1zm0 0zm1-4zm1 8zm0 1zm0-3zm1 1zm5 1zm1-8zm1 4zm5 0zm6-5zm0 1zm1-2zm1 2zm0 8zm0 1zm6-9zm2 1zm1 6zm0-9zm2 8zm2-6zm10 1zm0 1zm3 1zm-61 16zm4-8zm2 7zm1 1zm3-1zm0-3zm2-1zm0 6zm4-1zm3-5zm4 3zm1-2zm1 5zm6-8zm2-2zm2 1zm0 9zm1-4zm1 5zm1-6zm1 0zm0 4zm1-6zm4 8zm13-11zm6 3zm-79 20zm13 0zm1 0zm2-7zm0 2zm1-2zm5 2zm0 3zm2 1zm7-4zm3-4zm1 6zm3-6zm1 0zm2 2zm2 4zm1 1zm1-8zm1 4zm3 1zm1 0zm1 1zm1-7zm2 0zm1 1zm1 1zm0 1zm0 8zm3-2zm10 0zm4-2zm-65 13zm4-4zm2-1zm4 2zm2 5zm0-2zm3-6zm0 4zm2 0zm3 1zm4-5zm2-1zm1 5zm5 4zm1-2zm5 1zm3-4zm5-3zm0 9zm2-11zm0 6zm1-3zm0 8zm2-8zm2-2zm2 6zm0-7zm6 4zm-61 18zm4-7zm3-2zm3 0zm1 4zm2 5zm0-6zm6-1zm0-3zm2 5zm0 2zm5-2zm3-5zm2 7zm0-1zm3-4zm1 6zm1-8zm2 10zm1-6zm4-3zm1 10zm1-2zm1-5zm2 2zm1-6zm4 11zm-48 4zm1 3zm6-3zm0 1zm2 0zm0 0zm0-4zm0 0zm1 10zm2-10zm3 4zm2 4zm16-1zm2-5zm4 5zm4-3zm17-1zm0 8zm-50 5zm15 3zm6 1zm16-4zm16 0zm-58 11zm46 2zm8-4zm-58 12zm40 6zm7-7zm1 3zm29 8z"/><path stroke="#0001ff" d="M149 563zm-32 50zm34 5zm-36 14zm11 3zm5 0zm-23 10zm9-8zm10 9zm3 1zm13 0zm4-1zm4-2zm0 1zm0-2zm8-3zm-39 11zm5-2zm0 9zm2-5zm1 4zm1-4zm0 4zm2 0zm1-3zm1-4zm3 0zm0 9zm3-3zm0-5zm2 1zm1 7zm0-5zm3 2zm5-2zm1 5zm1-4zm5-1zm-44 10zm2-4zm3 2zm1-1zm1 7zm3-8zm0 2zm2 5zm1-5zm0 9zm3-3zm2-4zm2 5zm0-3zm0 2zm0-7zm2 1zm1 9zm1-10zm1 3zm1-2zm1-2zm2 7zm8 2zm0-2zm3 4zm4-1zm2 0zm1-3zm2 0zm2-5zm7 3zm52-4zm-111 12zm5 10zm6-3zm2 0zm8 2zm2-10zm2 2zm1 6zm1 3zm4-1zm3 0zm2 0zm0-8zm26 4zm-55 11zm4 1zm13-3zm4-3zm3 1zm1 4zm7 0zm5 0zm3-3zm1 4zm1-5zm3 5zm3-5z"/><path stroke="#00d9ff" d="M116 681zm14-1zm2-1zm18 4zm9-3zm2-2zm-25 8zm30 3z"/><path stroke="#000092" d="M120 547zm23 3zm2-2zm5 0zm12 0zm0 1zm11-2zm-56 16zm6-4zm9-5zm5 7zm2-4zm1 6zm1-5zm3-4zm3 0zm0-1zm0 1zm1 6zm7-1zm5 4zm1-4zm2 1zm1 0zm3 3zm1-10zm1 4zm4-4zm1 7zm10-4zm1-4zm6 8zm5-7zm-80 18zm13 2zm1 1zm1-7zm0 3zm5 4zm2-6zm2-4zm4 5zm2 4zm2-4zm1-3zm1 8zm1-3zm1-1zm2 0zm2-6zm0 8zm3-2zm1-6zm1 1zm2 7zm6 1zm0-3zm0-6zm2 10zm2 0zm0-6zm4 6zm1-3zm2 0zm1-2zm8-2zm14-3zm2 1zm-78 19zm0 3zm3-10zm1 9zm1-4zm6-2zm2 2zm2 2zm0 0zm1 1zm5 1zm2-4zm1 1zm1-6zm2 4zm2-2zm1 3zm0 1zm0-1zm1-1zm1 6zm1-2zm4-7zm0 1zm1-3zm0 2zm1 0zm1 4zm2 0zm1 0zm1-5zm0 6zm1 1zm0 3zm3-1zm3-9zm3 8zm7-3zm5-3zm-74 11zm5 6zm1-3zm1 4zm0 1zm1-1zm2-3zm3 4zm0 0zm0-1zm1-8zm0 0zm1 5zm1 3zm0 0zm1-7zm3-1zm3 2zm2 3zm2 5zm2-2zm1-3zm1-2zm0-1zm5 6zm3-2zm4-5zm1 2zm2 4zm2-6zm3-2zm0 0zm0 11zm17-2zm-80 7zm16-4zm8 3zm2 2zm2-2zm1-3zm11 0zm6 4zm2-1zm6 4zm4 3zm2-7zm5-3zm14 2zm-75 19zm0-9zm9 11zm11-9zm7 3zm0 1zm1-6zm2 4zm0 2zm1 0zm2 0zm5-2zm3-2zm4 0zm3 7zm1-1zm2-1zm3-7zm5 0zm-47 12zm1 10zm4-10zm19 4zm7-3zm1 4zm2-1zm-28 11zm4 0zm35 27z"/><path stroke="#0000e3" d="M152 566zm6 7zm0-6zm8 4zm-39 14zm6-9zm46 0zm-11 16zm-51 15zm9 4zm0-10zm3 2zm1-2zm7 7zm23-4zm-51 14zm6 5zm1-3zm5-5zm7 5zm4 2zm12 0zm2 1zm0-7zm13 6zm5-1zm1 1zm-54 12zm1-1zm3-7zm9 4zm3-1zm1 6zm3 0zm4-2zm0-3zm14-5zm1 2zm3 6zm5-6zm1 2zm1 2zm-45 8zm2 8zm5-3zm1 0zm0-6zm0 2zm1-4zm4 7zm0-2zm3 2zm3 4zm1-2zm7-4zm2-1zm3 0zm2 2zm2-5zm2 8zm4-8zm2 3zm1-3zm2 10zm2-2zm1 2zm-59 4zm11 8zm4-8zm5 7zm1-10zm1 0zm1 8zm10-8zm4 0zm2 1zm2 1zm0 4zm2 2zm1-2zm1-3zm2 5zm3-7zm2 7zm1-8zm2 11zm1-1zm1-4zm2 0zm-46 9zm1 0zm2 7zm3-3zm10 2zm16-8zm3 3zm1 7zm3-4zm2 2zm0-7zm2 9zm0-7zm1 4zm1-7zm3 5zm-34 9zm13-3zm12 2zm1 9zm14-4zm11-7zm-33 15zm25 4z"/><path stroke="#0049ff" d="M144 682zm6 18z"/><path stroke="#00b5ff" d="M137 680zm10 3zm20-7zm13 1zm-61 13zm12-2zm17-3zm5 4z"/><path stroke="#0024ff" d="M123 640zm19 17zm3-9zm1 7zm-34 6zm1 6zm2 4zm11-2zm12-1zm2-2zm9-4zm8 0zm-46 16zm13-4zm12-1zm9 6zm13 4zm-38 9zm2-7zm4 2zm0-3zm6 7zm2-2zm3 6zm5-7zm1-2zm2 7zm2-9zm12 4z"/><path stroke="#0091ff" d="M156 677z"/><path stroke="#00b5ff" d="M132 674zm12 8zm9-5zm49-1zm-85 14zm2-6zm9 3zm13 4zm8-3zm8-1z"/><path stroke="#000092" d="M141 548zm48 3zm-63 7zm2 2zm0 2zm8-4zm4 3zm1 0zm1-3zm1 2zm3 3zm1-3zm2-6zm3 4zm1-4zm1 1zm0-3zm3 6zm0 1zm2 1zm4-5zm4 5zm0-4zm1 3zm41 3zm46-1zm-131 10zm3-3zm3-3zm0 9zm2-6zm2-3zm1 0zm2 8zm1-4zm0 0zm2-2zm1 8zm1-9zm1 5zm0 2zm1-1zm0-3zm0 0zm3-2zm1 2zm1 4zm1 0zm2-1zm1 1zm4-5zm1 6zm2 1zm2-8zm0-1zm6 8zm0-9zm7 1zm1 9zm0-7zm1 0zm1 1zm1 5zm0-10zm4 0zm11 0zm9 0zm1 1zm0 0zm1 3zm-83 16zm5-2zm4 1zm4-5zm0-2zm2 1zm2 9zm0-7zm1 8zm2-8zm1-3zm1 6zm3 2zm3 3zm3-2zm1-2zm0 0zm1-2zm0 1zm1-1zm0 1zm1-5zm4 0zm0 0zm0 7zm2-5zm0 4zm0-2zm1 5zm3 1zm1-6zm2 5zm0-10zm1 3zm8-1zm7 0zm2 6zm5-6zm2-2zm6 9zm17 0zm-103 12zm4 0zm1 2zm3-11zm1 10zm2-7zm2 5zm1-4zm0 7zm1-4zm2-3zm2 2zm0 5zm7-11zm3 6zm2-3zm8 0zm1 6zm1 0zm1 2zm5-6zm2-1zm0 2zm7 5zm0-4zm5-1zm3-2zm4 1zm5 1zm6 4zm-79 12zm8-3zm5-4zm11-1zm0 6zm3 0zm0-3zm0-1zm11-4zm4 2zm0 6zm0 2zm3-8zm0 5zm5-2zm5 1zm1 3zm2 2zm1-3zm-71 12zm7-1zm4 0zm4-6zm1 9zm6-1zm10-1zm5 1zm10-8zm0 1zm0-1zm7-1zm3 10zm0-8zm9-2zm-56 13zm31 6zm1-4zm-28 10zm37-1zm4 5zm16-3z"/><path stroke="#00d9ff" d="M117 677zm50 0zm-56 14zm12-4zm0 2zm4-1zm8 2zm1 4zm11-6z"/><path stroke="#0024ff" d="M158 643zm-41 22zm4 5zm2-3zm4 4zm11-5zm6-4zm3 4zm-29 9zm2 6zm1-2zm15-5zm5 1zm1 8zm4-1zm1-9zm5 4zm4-2zm-39 13zm3 5zm1-3zm1-3zm0 4zm2 0zm0-3zm9-4zm1 11zm4-9zm11 4zm0 1zm6-3zm-26 9z"/><path stroke="#0049ff" d="M132 673zm4 11zm14 6z"/><path stroke="#16ffe1" d="M145 677z"/><path stroke="#0000bb" d="M161 550zm10-3zm23 0zm-66 6zm2 7zm8-6zm9 8zm10-8zm6-1zm8 9zm0 0zm1 0zm4-4zm-50 6zm6 11zm9-4zm4-6zm9 3zm2 3zm3-3zm0 3zm5 3zm1-10zm4 5zm5 6zm2-2zm1-6zm3 0zm1 6zm2-3zm11-1zm3-2zm2 3zm7-6zm-81 14zm1 6zm3 3zm1-4zm0 1zm2 2zm1 0zm5-10zm0 6zm5-4zm2 0zm2 5zm8-1zm1 0zm0 0zm0-2zm6 3zm0-4zm5 4zm1-3zm2 3zm4-1zm27-3zm-81 13zm0 7zm6-7zm1 3zm1 0zm0-6zm1 10zm1-9zm1 4zm1 4zm1-9zm1 7zm1-7zm0 9zm2-5zm5-3zm5-1zm0 6zm2 2zm9-2zm0 3zm3-2zm4-3zm2 5zm0-8zm11 5zm3-4zm7 4zm-75 9zm1 4zm4-4zm2 4zm4 0zm9 3zm3-7zm2 6zm2-8zm0 6zm1-5zm0 7zm0-5zm1-4zm2 9zm1-5zm3 1zm9 0zm9-2zm-63 19zm7-11zm0 11zm2-5zm6-2zm6 6zm0-5zm0-5zm2 9zm0-1zm0 1zm1-5zm1 5zm1 1zm0 1zm9-3zm3-1zm0 3zm0-1zm0-8zm4 10zm2-5zm1 0zm6 5zm1-1zm1 0zm1-8zm3-2zm5 2zm1 7zm-52 8zm1 2zm1-7zm4 4zm2 3zm8-7zm1 8zm3-3zm3 5zm2-9zm2 3zm1 0zm2 1zm1 6zm0-9zm2 5zm2 4zm4-11zm3 1zm0 8zm3-6zm1 0zm0 4zm1-1zm1 3zm2-4zm2 1zm-55 6zm2 1zm1 1zm3-1zm3 8zm5-7zm3 3zm3-2zm0 5zm1-5zm5-2zm2 8zm0-9zm3 5zm5 5zm2-6zm3 2zm1-6zm2 4zm0-3zm1 7zm1-8zm2 0zm2 4zm1 4zm1-4zm-53 10zm0 4zm2-1zm10-3zm6-1zm4 7zm4-6zm-16 17zm28-3zm10 2zm3 6zm37 2zm40-2z"/><path stroke="#0000e3" d="M162 563zm2 6zm-38 16zm17-3zm3 2zm6-6zm25 1zm-50 15zm2-6zm2 9zm21-9zm8 6zm2 4zm5-10zm-49 18zm2-3zm6 0zm7-1zm11 7zm5-4zm3 3zm8 0zm9 1zm-65 14zm6-3zm2-3zm11 4zm2-8zm9 4zm2 1zm7 2zm4 0zm9-2zm1-2zm6 6zm-58 9zm2-5zm6 1zm1 2zm8 3zm3 1zm1 0zm0-1zm1 3zm0-8zm3 0zm1 6zm2-7zm0 3zm1-2zm5 6zm2-6zm10-3zm10 8zm-52 9zm5-5zm2 3zm1-1zm1 1zm1-2zm1 1zm0 5zm2 2zm4-6zm3 0zm1 2zm0 6zm0-10zm1 6zm2 4zm6-3zm1 0zm3-1zm3 3zm0 0zm6-9zm4 10zm0-3zm2-8zm-44 19zm8-1zm2-1zm5-5zm3 4zm0 5zm2 0zm2-8zm4 3zm1 4zm2-5zm0 5zm1 1zm1-8zm1-1zm0 9zm7-6zm1-1zm1 6zm3-2zm5 5zm2-4zm1-4zm21 3zm-71 9zm1 4zm6-4zm8 7zm2-7zm0-1zm5 7zm3-1zm1 0zm0-2zm3-6zm2 1zm4 1zm4 6zm3-3zm0-1zm2 4zm2-6zm4 1zm9 3zm1-4zm1 4zm25-5zm8 7zm-98 6zm18-2zm2 0zm2 0zm11 5zm6-2zm0 1zm6-2zm6-2zm-46 16zm20-2zm1 4zm21-4zm16-2zm48 8z"/><path stroke="#0001ff" d="M187 578zm-48 42zm-20 13zm33 2zm4-7zm-45 13zm7 6zm2-5zm0 2zm1-7zm7 2zm25 1zm5 7zm6 0zm0 0zm-49 2zm1 0zm0 7zm0-4zm2-3zm1 6zm4-6zm4 9zm8-4zm1 5zm2-3zm0-1zm1 4zm0-4zm4 1zm1-4zm0 0zm6 7zm1-6zm0-5zm5 10zm-43 3zm2 7zm3 2zm1-4zm0-3zm3-3zm1 11zm0-9zm1 5zm0-1zm2 1zm4 1zm3-4zm2-1zm1 8zm1 0zm1 0zm6-3zm1-5zm1-2zm3 5zm2-4zm3 3zm2 0zm14 2zm6-6zm22 2zm-86 20zm3-2zm6-5zm1-4zm1 0zm0 0zm1 0zm0 3zm1 6zm3-8zm3 2zm1-1zm1 2zm3-2zm3 8zm1-6zm4 6zm1-9zm3 7zm1-5zm2 2zm2 4zm9-2zm2-4zm2-1zm0 8zm0-8zm-36 18zm5 2zm8-8zm2 0zm1 2zm2 0zm0 0zm2-4zm9 5zm1 1zm1-2zm5-4zm0 1zm1 5zm2 0z"/><path stroke="#00d9ff" d="M115 676zm16 7zm5-2zm6 2zm9-7zm2 2zm1 0zm2-3zm16 0zm-48 11zm5 3zm9-4zm7 1zm8 0zm26-2zm47 2z"/><path stroke="#0000e3" d="M147 542zm-18 14zm37-2zm-43 14zm32-2zm6-1zm-28 34zm8-8zm20 2zm18-4zm-63 15zm9 6zm0-3zm4-1zm6-3zm0 4zm37 2zm-61 12zm6-5zm5-3zm3 5zm1 2zm9-6zm6 0zm0 1zm9 4zm4 0zm2-2zm2 6zm4 0zm-57 10zm5-6zm1 6zm1 0zm5-8zm1 5zm0-4zm1 9zm2 0zm1-6zm7-2zm0 7zm1-8zm0 6zm2 0zm3 3zm0-3zm1-7zm0 2zm2 2zm6 6zm1-9zm2-1zm0 2zm3 6zm2-9zm1 7zm9 3zm7-10zm-61 14zm5 4zm1 3zm1-6zm2 1zm1 0zm2 3zm3-6zm3 4zm3-5zm1 4zm0 4zm1-7zm0 7zm0 3zm2-11zm2 7zm2 4zm0-2zm6-7zm2 6zm3-2zm3 0zm3 1zm1-6zm3 9zm6-2zm5-1zm-55 12zm1-4zm2-2zm2 2zm7-2zm2 2zm1 2zm1-4zm2 5zm1-5zm2 3zm2 7zm0-2zm1-1zm6 2zm1-7zm2 6zm2-7zm2 0zm1 1zm1-3zm0 5zm2-3zm2 2zm1 0zm3 6zm23-6zm1 7zm-85 6zm15-3zm10 0zm12 4zm5-2zm0 3zm4-1zm5-3zm0-3zm0 11zm2 0zm0-2zm0-7zm1 8zm1-8zm1 8zm0 1zm1-6zm1 2zm1 2zm0-1zm1 3zm0-2zm2-1zm3 2zm8-5zm4 0zm25 2zm-85 9zm15 6zm17-1zm3-7zm3-2zm0 1zm1 0zm5 0zm6 4zm1 3zm2 2zm13-3zm4 4zm36-1zm-62 4zm4 12z"/><path stroke="#0001ff" d="M110 623zm7 11zm25-3zm8 1zm-39 4zm4 10zm4 1zm2-6zm1-4zm4 7zm4 0zm12 1zm10 0zm2-4zm-35 12zm4-4zm0-1zm1 6zm1 5zm0-8zm4 6zm6 2zm1-6zm3-2zm1 0zm1 3zm21 0zm22 2zm-71 11zm3 3zm8-7zm3 2zm6 3zm0 1zm1 1zm1-3zm3-4zm0 2zm1 2zm2 0zm1-6zm6 8zm1-1zm4-6zm0 2zm0-1zm4-3zm1 1zm4 0zm6 0zm24 6zm41-6zm-120 13zm6 8zm1-9zm5 9zm4 0zm6 0zm8-2zm0-2zm3 3zm0 0zm1-8zm2 3zm10 2zm5-6zm17 1zm-67 16zm4-4zm0 1zm2 5zm3-4zm20 7zm6-6zm0-4zm0 0zm33 4zm17-1zm-81 13z"/><path stroke="#0000bb" d="M147 550zm-25 4zm10 0zm4 0zm7 2zm2 6zm3 1zm0-2zm6-6zm1-2zm1 9zm0-6zm4 5zm6-5zm-38 18zm2-4zm2-4zm4 4zm0-3zm5 7zm0-10zm5 3zm2 8zm0-9zm3 0zm1 3zm1-3zm1 6zm5-2zm1 4zm0-8zm1 9zm7-1zm3-1zm0-3zm1 0zm2-4zm5-2zm1 10zm-58 5zm1 3zm2-1zm4-5zm1 0zm3 8zm4-3zm1 5zm1-5zm1 0zm4 4zm5-8zm2 10zm2-11zm6 2zm1 6zm0 1zm1-8zm1 6zm3-7zm3 5zm4-2zm0-2zm3 2zm1 0zm2-1zm4-1zm1-1zm22 0zm-80 22zm1-2zm1 2zm1-8zm1 1zm1-3zm3 1zm3 9zm1-5zm2-1zm1 0zm3 5zm4-8zm2 8zm0-4zm2-5zm0 1zm1 5zm1-3zm0-2zm0 10zm9-6zm1 1zm2 1zm2-2zm9-4zm5 1zm-69 15zm0 1zm8-1zm2 3zm1-5zm6-3zm0 9zm2-9zm1 7zm1-6zm3 3zm5 1zm4-5zm1 6zm1-4zm1 2zm1 7zm0-5zm1 0zm2-1zm3 1zm0 3zm4-6zm0 7zm0-5zm5 6zm1-9zm-56 17zm3 2zm1-8zm1 8zm5-1zm2-7zm2 9zm3-4zm1 1zm1-2zm2 0zm4 3zm1-5zm3-1zm0-2zm1 10zm0-9zm4 4zm1 2zm0-2zm0-3zm5 4zm2-6zm0 8zm1-5zm1 1zm1 2zm0 2zm1-8zm2 5zm0-5zm1 10zm0-7zm0 2zm1-5zm0 3zm1 2zm8 5zm-56 11zm2-3zm0-2zm2 1zm1-2zm5 4zm3 1zm2-4zm0-4zm1 9zm0-9zm0 10zm2-10zm5 5zm6-4zm3 10zm2-5zm0 3zm2-5zm3 1zm2-2zm2 0zm4 7zm6-1zm3-7zm3 3zm-56 11zm5-3zm2 10zm1-10zm1 5zm1-1zm1-2zm5-2zm4 3zm5 4zm7-7zm1 7zm0-6zm10 5zm3 3zm1-9zm0 2zm7 3zm14-5zm6 6zm-78 14zm41-2zm4-3zm3 0zm0 7zm1-5zm4-1zm1-2zm0 6zm23-9zm6 6zm-63 11zm32-2zm9 6zm20 8zm14 4z"/><path stroke="#000092" d="M138 551zm15-2zm3 2zm9-6zm1 5zm16 1zm-55 10zm1 0zm3-4zm1-3zm1 1zm2 5zm4-3zm1 2zm2-2zm3 3zm4 1zm2 0zm1-9zm2 7zm15-5zm5 0zm2 1zm5 6zm10-2zm1-1zm-66 9zm2 7zm2-9zm1 9zm2-9zm1 6zm0 2zm4-5zm2-3zm4 1zm1 9zm0-10zm1 7zm0-2zm1-1zm1-4zm2 8zm1 0zm0-7zm0 3zm3 5zm2-7zm0-1zm2 1zm1 1zm1-4zm6 1zm0 4zm3-3zm0 0zm3 1zm1 2zm1 6zm6-9zm8-1zm-70 18zm3-7zm3 5zm10-3zm1-2zm2 1zm0 2zm1 8zm2-1zm3-2zm2-6zm0 0zm2 2zm0-2zm2 8zm2-5zm0 3zm2 3zm2-7zm0 6zm3-4zm0 1zm0-4zm1 6zm1-8zm0 1zm1 9zm11-10zm12 8zm0-7zm8 2zm4 4zm9-3zm-85 18zm4-3zm1-8zm1 11zm1-11zm4 1zm3 8zm2-5zm4-4zm6 6zm2-6zm2 4zm1 1zm3-3zm2 2zm0-2zm1-2zm2 8zm0-3zm4 1zm2-1zm0-5zm1 0zm0 5zm3-5zm0 7zm0-1zm1-6zm1 6zm1-6zm3 7zm1-4zm13 7zm12-5zm-90 15zm10 2zm0-8zm8 0zm6 7zm1 1zm3 1zm0-2zm5-4zm0-4zm1 4zm5-4zm1 2zm3 1zm0-4zm5 1zm1 2zm2 4zm2-7zm1 6zm2-6zm-61 16zm14 4zm5 0zm1-3zm2 0zm12 0zm1 5zm4 0zm0-3zm4-7zm1 6zm8-1zm2 1zm7-3zm-43 11zm13 2zm9-1zm1 5zm7-3zm9-4zm-48 14zm12 8zm12-5zm22-4zm-10 12z"/><path stroke="#0049ff" d="M125 658zm13 2zm3 25zm1 4zm0 2z"/><path stroke="#00b5ff" d="M120 674zm0 2zm3 0zm7-2zm1 4zm13 0zm2 4zm-30 7zm13-2zm14-1zm-18 12z"/><path stroke="#0024ff" d="M125 655zm-16 16zm5-3zm2 3zm5-6zm2 2zm1 2zm4-7zm3 6zm-10 4zm8 0zm3 3zm1 7zm9-5zm5 1zm7 3zm1-9zm1 4zm6 1zm-48 9zm0-1zm12 3zm9 1zm11-1zm10-4zm-40 12zm15 1zm15-1z"/><path stroke="#16ffe1" d="M121 694z"/><path stroke="#00b5ff" d="M162 685zm6 3z"/><path stroke="#0049ff" d="M144 675zm1-1zm-29 15z"/><path stroke="#0001ff" d="M124 623zm-4 7zm-6 10zm3 7zm5-10zm12 6zm4 3zm10-7zm9 0zm-52 13zm8-2zm2 6zm0-1zm4-2zm4 2zm7-3zm1 3zm1 1zm3-5zm1 2zm7-4zm2 8zm3 0zm1-1zm0 3zm4-10zm3 10zm1-6zm1 3zm0 0zm1 1zm4-6zm-46 11zm1-1zm10 4zm0 6zm4-8zm0 7zm7-4zm1-1zm2 6zm0-4zm1-4zm0-2zm1 4zm0 6zm0-2zm2-7zm3 8zm3-2zm0 3zm11-8zm-44 13zm3 7zm3-4zm1-3zm1-2zm0 3zm3 3zm3-8zm1 10zm0-8zm2 5zm0 3zm5 0zm3-8zm1 6zm1 0zm3-3zm0-4zm2 0zm1 5zm3-3zm5-3zm7 6zm-60 12zm13 1zm9-2zm1-5zm1 7zm0 1zm11-8zm5 1zm3 1zm4-2zm3 2zm6 3zm3 1zm5-5zm6 1z"/><path stroke="#0091ff" d="M160 678z"/><path stroke="#0000e3" d="M176 550zm-17 12zm14-5zm1 4zm-47 14zm8 12zm2 0zm21-5zm-35 28zm1-1zm5-4zm3 1zm5-3zm5-3zm10 9zm2-7zm10 8zm2 1zm-59 12zm15-6zm1 1zm1-6zm2 0zm1 9zm5 0zm3 1zm2 0zm6-1zm3-1zm1-3zm0-1zm1-2zm1 8zm2 0zm-37 11zm4-3zm1 5zm0-11zm1 4zm1-1zm1 7zm0-1zm2-4zm1 6zm7-11zm1 11zm2-4zm1 2zm1 2zm1-10zm3 10zm1-11zm1 8zm1 2zm1-1zm1-8zm3 5zm3 4zm1-6zm1 5zm1-2zm4-7zm2 2zm-56 14zm5-2zm4 9zm3-10zm0 8zm5-1zm1-6zm0-1zm1 7zm5-5zm1 1zm1 4zm4 2zm0-6zm1-1zm0 0zm0 8zm1-6zm0 0zm1-1zm1-3zm2 2zm7-3zm3 9zm0-1zm2 3zm1-9zm3 0zm-43 13zm5 6zm2-8zm1 8zm1-2zm0-4zm4 5zm3-8zm4 4zm6-2zm1 4zm1-3zm3-2zm0 0zm0 7zm1-8zm1 6zm3-5zm4 6zm0-2zm1 2zm3 1zm0 2zm5 0zm1 1zm0-1zm1-5zm1 6zm2-9zm3 3zm4 1zm4-3zm-63 12zm0 6zm12 1zm0-8zm12 1zm3-1zm1 9zm1-8zm8 4zm1 4zm2-3zm2 1zm0-6zm13 4zm-44 8zm1-3zm1 3zm1-3zm18 5zm2 5zm1-10zm4 7zm3-5zm1-1zm7 0zm13 5zm21-2zm-58 13zm14-3zm10 5zm3-7zm71 8z"/><path stroke="#0000bb" d="M155 551zm15-2zm-39 12zm4-4zm7-3zm3 1zm2-2zm1-1zm1 7zm3 3zm8 0zm3 0zm0-9zm0 3zm1-4zm7 5zm1 4zm3-6zm29 5zm-76 13zm0-8zm6 8zm6-8zm0 1zm1 7zm2-4zm0 1zm11-4zm0 2zm5 2zm2 0zm6-2zm1-3zm0 1zm3 6zm2-7zm5-1zm1 5zm1 6zm5-7zm-60 19zm1-11zm1 10zm11-4zm0 2zm2 1zm5-3zm10 0zm3-3zm5 6zm1-2zm2-3zm1-1zm0 6zm3-5zm6 4zm2-7zm19 9zm0-10zm5 7zm-82 8zm2 8zm1-10zm4 5zm1-6zm2 0zm1 7zm4-6zm1 9zm0-9zm2 9zm2-7zm1 7zm1 1zm0-6zm5 1zm2-2zm3 1zm4-3zm0-2zm6 0zm4 3zm18-1zm-74 12zm4 2zm6-1zm1 2zm0 0zm1 3zm1 1zm4-2zm0-3zm3 0zm1 4zm0 3zm1-6zm2 5zm1-9zm1 2zm0 7zm3-4zm1 5zm0-11zm2 0zm4 11zm1-7zm0-2zm0 2zm3 1zm4 3zm1-6zm2 1zm1 3zm2 0zm4 0zm5 0zm-67 12zm9-2zm1-1zm1-1zm2 3zm0 3zm3 1zm2 0zm0-7zm1 1zm2 1zm2 5zm1-4zm3 6zm1-3zm2-1zm0 3zm2-7zm1 5zm4-7zm1-1zm0 5zm2-5zm2 5zm1-4zm2 5zm1 2zm4-8zm7 9zm1 0zm1-9zm-57 16zm2 4zm4 2zm1-6zm4 0zm1-2zm2 7zm2-8zm1-1zm1 4zm4-2zm5 9zm1-3zm1 0zm1-5zm6 7zm1-5zm1-3zm3 0zm1 0zm6-2zm2 4zm1 5zm0-9zm1 5zm1 5zm2-7zm8 3zm2-3zm-59 12zm2 5zm1-4zm5 1zm4-1zm2 3zm3 1zm7-6zm1-1zm6 4zm4 2zm1-1zm1 4zm2 1zm2-2zm5-4zm0-5zm1 5zm5 4zm-41 5zm0 2zm1-4zm1 8zm3 1zm2-7zm1-2zm1 4zm10 1zm7-3zm6 8zm30 0zm-66 8zm39 4zm12-9zm12 3zm-34 15zm16-3z"/><path stroke="#000092" d="M126 545zm2-2zm14 5zm0 1zm8-1zm19 3zm-41 5zm3 4zm0-4zm1 3zm3 0zm0 1zm0 1zm6 1zm1-2zm1-5zm4 8zm1-4zm1 4zm0-6zm7 5zm5-10zm6 0zm0 2zm0 9zm2-1zm1-8zm1 1zm1 6zm1-5zm0-2zm1 2zm3 0zm3 7zm28-5zm2 3zm-86 3zm1 1zm2 0zm2-1zm0 7zm2-7zm6 3zm4 7zm2-4zm1 0zm0 2zm2-7zm1-1zm1 2zm1 7zm1-6zm4 3zm1 5zm0-6zm1 0zm0-4zm0 0zm5 0zm2 9zm2-2zm1-1zm3 3zm1-6zm0 4zm2-6zm5 8zm9 1zm5-8zm10 6zm11-8zm-92 22zm6-8zm3 4zm1-4zm1 8zm7 0zm0 0zm2-4zm0-2zm1 1zm2-1zm1 2zm2 3zm1-2zm2-4zm0-1zm0 4zm1 2zm2 1zm4-1zm1-6zm0-3zm1 2zm4 9zm0-7zm2 5zm5 2zm1-1zm5-7zm1-2zm0 4zm3-5zm5 3zm0 0zm3 8zm12-11zm7 2zm-80 15zm1 2zm7-7zm3 6zm0-1zm1 1zm1 0zm1 2zm0-6zm4 8zm1-6zm1 6zm6-10zm2 2zm1 6zm0-6zm0 8zm2-8zm3 9zm7-10zm3 9zm1-4zm1-6zm1 8zm3 1zm0-4zm3-5zm4 3zm1 8zm6-11zm0 0zm6 2zm5-2zm8 1zm-95 13zm7 5zm10 1zm1 1zm1-9zm0 2zm3 1zm1 4zm3 4zm0-10zm8 7zm9-2zm8-4zm0 2zm1-1zm5 1zm2 7zm1-7zm-66 15zm12-5zm6 0zm1-2zm1 11zm1-11zm3 5zm2-5zm1 1zm2 2zm5-1zm0 8zm4-7zm0-3zm11 4zm3 6zm6-6zm52 0zm-99 19zm26-11zm4 0zm10 9zm23 2zm-34 9zm1-6zm15 21zm21 0z"/><path stroke="#0024ff" d="M143 633zm-29 24zm3-3zm28 5zm-26 4zm2 0zm5-3zm10 4zm7 2zm4 3zm-36 14zm9-3zm0-3zm5 4zm1 1zm2-7zm4 2zm4-1zm4-4zm0 1zm6 7zm6-8zm-32 16zm5 0zm10-2zm8 1zm12 1z"/><path stroke="#00d9ff" d="M114 683zm18-6zm13 4zm2-4zm10 2zm-29 7zm12 3zm11-4zm5 0zm26 2z"/></g></g><text x="94.5" y="261.1" font-size="12.0" fill="#303030" text-anchor="middle">BS</text><rect x="175.0" y="268.0" width="84.0" height="83.5" fill="#fdfde9"/><path d="M171.5 330.7H259.0M171.5 305.1H259.0M171.5 279.4H259.0M198.0 268.0V355.0M236.5 268.0V355.0" stroke="#ece6c8" stroke-width="0.9" fill="none"/><text x="198.0" y="362.5" font-size="8.8" fill="#4f5d64" text-anchor="middle">0</text><text x="236.5" y="362.5" font-size="8.8" fill="#4f5d64" text-anchor="middle">5</text><g clip-path="url(#cB01)"><g transform="scale(.5)" fill="none" stroke-width="4.48" stroke-linecap="round"><path stroke="#6dff8a" d="M403 644zm-20 18zm10 1zm8 3zm1 3zm2 1zm7-2zm1 2zm-37 11zm1-5zm4 5zm2-6zm1 0zm3 3zm1-1zm4 4zm14 1zm9-9zm-11 15zm19-3zm73 7z"/><path stroke="#ffa700" d="M378 690zm25-2zm5-2z"/><path stroke="#0001ff" d="M397 548zm-6 10zm16 0zm1 0zm3 4zm11-6zm-39 18zm18-2zm4 1zm2-3zm17-4zm7 5zm5-2zm-46 7zm12 7zm6 4zm0 0zm18-8zm4 7zm3-9zm4 0zm-52 15zm4 2zm22-1zm3 3zm8 2zm0-9zm5-1zm-51 14zm11 5zm1-5zm4 1zm4 7zm10-4zm7-4zm7 3zm0-1zm6 5zm2 2zm-62 10zm9 0zm2-8zm6 8zm10-9zm2 9zm4-4zm2-1zm14 6zm11-6zm-59 17zm4-9zm2 2zm24-2zm3 3zm11 1zm3 5zm-44 6zm15 1z"/><path stroke="#00b5ff" d="M417 619zm-27 14zm6-2zm11 3zm3-5zm14-5zm-52 16zm10 4zm7-1zm1 3zm1-7zm11 7zm10-8zm-39 11zm3 1zm15 9zm14-5zm1-6zm2 5zm2 2zm2-2zm2-1zm6 5zm1-6zm22-3zm-73 12zm2 6zm3-3zm31-3zm9 9zm0-7zm-28 15zm13-4zm18-1zm18 1z"/><path stroke="#50ffa7" d="M371 656zm9 3zm21-4zm-37 16zm4-4zm6-4zm4-1zm5 9zm5-3zm0 0zm0-4zm5 5zm4-8zm2 8zm4 0zm2 0zm-18 5zm2 0zm12 6zm1-7zm8-1zm1 3z"/><path stroke="#c4ff33" d="M371 681zm20-2zm10 2zm3 0zm-29 10zm2-6zm2 6zm0-5zm1 2zm10-2zm5 3zm0-5zm2 0zm5 1zm4 0zm6 2zm9 4z"/><path stroke="#000092" d="M397 549zm5-7zm9 9zm13-7zm13 7zm-60 3zm6 7zm0-8zm0 9zm8-8zm4 5zm2-5zm6 9zm0-3zm1 3zm0-6zm6-4zm4 7zm0 2zm1-7zm7-1zm0 6zm0 3zm4-8zm2 6zm9-2zm-55 6zm7 8zm2 1zm1-1zm1-4zm3 2zm0 4zm2-5zm1-4zm4-1zm8 7zm2-5zm2 8zm1-10zm0 0zm10 9zm2 0zm15-9zm3 2zm3-3zm-70 17zm2-5zm1 9zm3-2zm0 1zm2 2zm5 1zm0-6zm1-5zm0 10zm2-4zm2 2zm1-3zm1 4zm1-7zm5 4zm3 3zm3-4zm0 1zm1-6zm1 5zm0 2zm0-5zm1 7zm2-8zm0 0zm10 0zm0 6zm5-4zm0 5zm-57 6zm4-1zm5 0zm0-1zm1 11zm1-11zm0 0zm3 1zm1 5zm1 4zm0-1zm4-5zm0-3zm2 6zm1-2zm4-2zm7 8zm10-7zm0 2zm13-1zm3-1zm9 3zm6 3zm-78 6zm19-1zm1-3zm3 2zm0 7zm3-9zm6 4zm4 1zm-42 7zm2 6zm29-4zm14-2zm-51 16zm6-1zm3-2z"/><path stroke="#33ffc4" d="M406 637zm24 10zm-52 2zm2 9zm19 0zm7-8zm4 6zm-32 15zm2-4zm4 1zm6-1zm7 0zm0 1zm2 3zm6-4zm1-4zm2-1zm1 3zm6 2zm-36 7zm9-2zm3 2zm4-2zm22 7zm5-2z"/><path stroke="#a7ff50" d="M399 671zm19-3zm-46 9zm0-1zm6 4zm6 2zm22-5zm-33 8zm18 1zm20-1zm3 4z"/><path stroke="#ffea00" d="M362 690zm7-1zm8-2zm7 2zm6 0zm7-1zm1-2zm3 2zm1-4zm3 6zm1-3zm3-3zm2 2zm4 4zm4 0zm-39 8z"/><path stroke="#0049ff" d="M379 598zm7-1zm1 1zm38 1zm-50 4zm11-3zm13 1zm17 8zm-45 6zm14 5zm2 1zm0 1zm11-5zm5 3zm0-2zm3-1zm0 1zm6-2zm0-4zm1 5zm7 5zm0-10zm3 10zm-51 12zm2-1zm12-2zm6-3zm2 5zm2-8zm12 0zm1 10zm-40 3zm8-1zm1 0zm6-1zm15 4zm4 2zm3 0zm7 4zm-48 4zm9 3zm9 4zm20 0zm16 4zm10 17zm24-4z"/><path stroke="#0000e3" d="M417 548zm7 3zm-37 3zm1 1zm6 2zm1 4zm7 2zm14-4zm13 1zm0-6zm34 4zm-77 6zm14 1zm1 2zm3-1zm7-1zm4-1zm3 8zm5-6zm1-2zm14 6zm18 3zm-71 4zm5 10zm14-4zm10-5zm5 0zm0 1zm3 6zm3 1zm2 1zm12-8zm4 3zm-57 7zm13 9zm3-3zm6-6zm5 2zm12 7zm9-10zm-69 14zm15 8zm11 0zm6-9zm4 8zm4-3zm6-6zm-49 23zm4-11zm7 9zm2 2zm2-1zm12-8zm4 6zm0-6zm14 1zm0-1zm11 8zm-49 6zm5 7zm26-9zm8 7z"/><path stroke="#0000bb" d="M449 547zm-63 10zm21-5zm11 10zm0-2zm-34 4zm3 4zm8-3zm3 4zm1 0zm9 4zm16-4zm1 3zm1 0zm6-5zm0 7zm3-8zm-51 21zm2-4zm7-1zm7 0zm0 0zm11 0zm2-3zm2-1zm8 3zm4-4zm4 3zm3-2zm16-2zm4 0zm7 2zm-81 20zm1-7zm1 3zm3-4zm3-1zm18-1zm2 3zm1-1zm2-2zm2 10zm8-5zm3 2zm-55 13zm4-2zm15 0zm2-3zm8 1zm1 6zm14-4zm4 1zm-48 14zm0-2zm1 1zm6-7zm-14 13zm10 1zm22-3z"/><path stroke="#0091ff" d="M382 621zm19-1zm-31 11zm7-3zm2 6zm21-8zm5 1zm5-3zm4 3zm9-1zm-47 15zm5 3zm2-1zm19 3zm2-6zm4 5zm0-5zm1-2zm4 5zm0-7zm1 4zm2 0zm3 5zm-42 12zm2-3zm1 1zm2-7zm12 11zm24-1zm16-7zm5 5zm-22 6zm18 2zm-13 12zm26 7z"/><path stroke="#006dff" d="M410 599zm5 3zm1 5zm-20 12zm15-2zm-46 17zm1-6zm10 1zm5 6zm3-1zm8 1zm4 0zm3-9zm10 2zm2 5zm2-6zm1-3zm1 7zm5 2zm-52 9zm5 5zm2-5zm2-2zm8 4zm0-7zm9 8zm9-2zm1-5zm3-1zm11 3zm26 3zm-76 7zm1 5zm7-3zm4-1zm20-2zm18 2zm8 2zm-5 10zm1 3zm25 11zm8-1z"/><path stroke="#ff8600" d="M371 689zm15 8z"/><path stroke="#e4ff13" d="M386 683zm5-1zm10 0zm16-5zm-5 9z"/><path stroke="#0024ff" d="M392 561zm-12 4zm5 9zm0 0zm17-10zm31 0zm-55 18zm37 3zm10-5zm17 7zm-61 6zm6 4zm3 0zm20-1zm14-2zm12-3zm-61 14zm19 1zm2-3zm4 2zm5 0zm0-4zm4 3zm-31 12zm2 5zm1-7zm1 2zm2-4zm1 7zm4-7zm1 10zm5-10zm6 3zm1 1zm3-2zm4 6zm5 3zm0-2zm-48 12zm8 2zm3-2zm8-1zm0-8zm4 5zm11 6zm2-4zm17-2zm-52 15zm11-4zm4-4zm4 7zm-8 5zm6 0zm63 19z"/><path stroke="#16ffe1" d="M386 644zm14-1zm-18 13zm17-4zm3 2zm9 5zm-43 2zm18 4zm5-1zm9-1zm13 2zm2 4zm-40 5zm51 11z"/><path stroke="#00d9ff" d="M371 642zm7-2zm17 4zm12-2zm1 5zm-30 9zm0-1zm0-4zm1 2zm5 4zm1-5zm7 7zm1-3zm3-4zm0 2zm4 2zm4 0zm2-6zm0 1zm8-3zm2 10zm4-5zm0 1zm-42 6zm9 3zm1-2zm-9 14zm6-3zm34 0z"/><path stroke="#ffc800" d="M386 692zm5-8zm1 11zm1-5zm7-4zm4 4z"/><path stroke="#8aff6d" d="M402 654zm-6 13zm17 0zm-38 6zm1 6zm1 4zm10-4zm1 3zm0-7zm7 1zm4 6zm1-5zm3 0zm15 12z"/><path stroke="#0000e3" d="M393 551zm3-3zm2 2zm28-3zm-43 13zm13 1zm3-7zm9 0zm2 5zm1 3zm29-10zm-57 22zm2-9zm8 3zm7 7zm5-8zm9 3zm2 0zm2 4zm3-5zm2 5zm10-5zm2 2zm23-7zm-76 18zm2-1zm8-2zm1 5zm2 1zm0-2zm0-2zm6 5zm3-9zm6 3zm10-4zm4 11zm6-8zm18-1zm-75 19zm2 2zm8-3zm1-8zm5 0zm0 9zm6-6zm7-2zm3 3zm3-3zm3 3zm6 1zm2-1zm3-4zm0 5zm4 1zm4 1zm0-7zm14 10zm12-10zm-99 23zm13-1zm3-6zm2 4zm13-3zm3-2zm4 8zm20-3zm6-5zm8 5zm12-6zm-77 17zm8-3zm7-4zm1 6zm1 2zm2-3zm6 3zm3-2zm2 2zm0-7zm1 4zm6 6zm1-5zm11-6zm-45 15zm9 4zm31 0z"/><path stroke="#00b5ff" d="M417 634zm-45 11zm29 1zm1-9zm1 1zm3 7zm0-1zm3-8zm10 8zm1 3zm10-8zm-56 18zm2-8zm4 9zm1-9zm8 3zm2-2zm3 1zm23 3zm0 4zm2 1zm-49 3zm12 3zm13-2zm13 4zm20-2zm-1 10zm10 12z"/><path stroke="#0024ff" d="M383 573zm7-8zm-13 19zm18 2zm11-3zm6-1zm4-3zm3 6zm-36 11zm9-4zm12 0zm0 5zm-35 7zm9-4zm3 11zm3-5zm30-5zm6 1zm5 4zm5 1zm-65 13zm30-3zm3 3zm5 1zm3-9zm3 7zm3-2zm0-3zm1 4zm60-2zm-106 17zm4-4zm4-4zm3 3zm2 7zm1-9zm2-2zm0 10zm1-7zm10-2zm10 5zm3-6zm3 3zm27 8zm-58 9zm7-7z"/><path stroke="#ffa700" d="M375 691zm9-4z"/><path stroke="#e4ff13" d="M374 682zm22 0zm3 0zm-30 3zm4 1zm3 4zm3-2zm18 1zm0 2zm1-5zm3 2z"/><path stroke="#a7ff50" d="M375 680zm10 0zm5 2zm13 0zm2 1zm1-10zm9-1zm6 17z"/><path stroke="#6dff8a" d="M371 669zm0 1zm16 0zm5-4zm6 0zm8 5zm-36 5zm10 6zm2-5zm5-5zm4 4zm0-2zm4-1zm4 2zm8-3zm3 7zm3-5zm8-1zm-4 12z"/><path stroke="#8aff6d" d="M396 654zm-4 17zm5-7zm5 2zm-22 14zm11-7zm6 10zm1-1zm14-3zm-29 8zm37 11z"/><path stroke="#0001ff" d="M408 549zm-6 4zm4-1zm12 1zm-40 15zm4 7zm4-5zm13 0zm15-2zm1-4zm-29 22zm1 1zm9-5zm17-3zm11 3zm19 2zm-73 13zm11-5zm3 0zm2 3zm5-3zm1 1zm1 1zm2-6zm3 9zm3-3zm1-5zm4 0zm3 5zm1 3zm2-9zm-50 16zm8 7zm11-1zm3-7zm0 6zm11-7zm6 4zm0 5zm1-7zm2 2zm3 2zm2-8zm5 3zm10 3zm-59 13zm2-2zm1-3zm7 0zm4 3zm3 1zm1-1zm14 1zm7-2zm7 2zm9-4zm-59 18zm14-2zm7-3zm11 2zm-21 8zm2 0zm4 0zm48 30z"/><path stroke="#c4ff33" d="M367 674zm13 5zm1-3zm17 4zm8-4zm2 5zm-30 6zm0 0zm3 1zm4-4zm2 7zm2-2zm9-4zm6-1z"/><path stroke="#0049ff" d="M398 555zm-14 39zm31 0zm24 5zm-60 10zm5-7zm3 4zm19-3zm-39 12zm8-1zm38 3zm9-2zm-53 15zm5-6zm7 9zm2 2zm4-3zm1 0zm0-3zm8 1zm9 2zm1-3zm1-5zm7 0zm0 3zm0 2zm2 1zm-44 7zm6 7zm5-5zm6-1zm1-1zm2 0zm0 4zm0 0zm21 2zm16-5zm-58 14zm4-1zm65 8zm9-5zm4 9z"/><path stroke="#33ffc4" d="M412 639zm5-2zm-31 18zm11-1zm1-3zm-28 20zm1 0zm1-6zm4 5zm13 0zm5-4zm14-3zm2-1zm2-2zm2 8zm4-5zm-44 13zm6 5zm9-9zm27 1zm7 7zm1 4z"/><path stroke="#006dff" d="M396 591zm-18 12zm1 3zm33 0zm-25 13zm7 3zm0-9zm2 2zm13 3zm0 5zm6-6zm-43 8zm1 8zm7 0zm22-6zm5 8zm7-1zm2-8zm10 3zm-61 10zm4 1zm6-2zm2 9zm2-5zm5-3zm2 8zm4-4zm8-5zm6 9zm5-4zm1-6zm9 10zm-48 2zm3 2zm10 5zm0-8zm6 3zm1 2zm10-5zm0 9zm6-6zm0 4zm14 4zm-47 4zm0-2zm55 0zm5 17zm4 1z"/><path stroke="#ffc800" d="M375 692zm0 1zm25 0zm4-5z"/><path stroke="#50ffa7" d="M368 667zm20 2zm5-5zm4 3zm0-1zm9-4zm5 8zm2-3zm52 1zm-90 9zm1-5zm9 2zm15 0zm2-1zm8-1zm0 1zm1 0zm3 5zm1 0z"/><path stroke="#16ffe1" d="M412 634zm-27 10zm21 0zm7-4zm11 3zm-39 9zm2 2zm6 2zm2-1zm1 1zm3-4zm9-4zm0 8zm5 0zm7-1zm-49 8zm6-3zm1 7zm3 4zm2-6zm13 3zm17-4zm-36 8zm7 0zm34 0zm1 3zm15 9zm20 3z"/><path stroke="#ff8600" d="M397 689zm7 2z"/><path stroke="#000092" d="M383 543zm14 8zm6-2zm2-1zm0 0zm39 3zm-63 7zm2-2zm3 4zm15 3zm2-2zm6-6zm0-3zm6 9zm4-9zm5 5zm2 0zm2 0zm1 4zm0-5zm22-3zm13 9zm-80 11zm3-7zm2 7zm4-7zm1-1zm1 0zm0 2zm4 5zm4-6zm6 4zm2-3zm1 1zm2 3zm1-5zm4 8zm11-8zm2 8zm2-10zm0 0zm2 5zm2-5zm2 4zm12-1zm-74 16zm3-4zm0 3zm0 3zm1 2zm3-5zm0 0zm3 3zm2-7zm2-1zm1 5zm5-6zm1 6zm0 1zm3-3zm1 6zm1-7zm6 3zm1-3zm1 3zm0-3zm1 3zm4-6zm1 3zm0 2zm2-5zm0 2zm1 0zm4 4zm0 1zm4-1zm2-3zm2-2zm3 8zm16-9zm-77 23zm5-2zm2 1zm1-5zm6 6zm3-6zm2 1zm1 2zm2-3zm5 1zm1 3zm4-3zm0-6zm10 10zm8-10zm-49 22zm5-9zm11 6zm3-6zm5-1zm22 0zm-49 30z"/><path stroke="#0000bb" d="M425 549zm-39 12zm16-8zm5 9zm8 0zm7-10zm1 7zm0-6zm3 9zm1-1zm8 2zm1-1zm-65 9zm8-7zm2 3zm6 8zm9-11zm5 9zm5-7zm1 6zm3-6zm6 9zm4-3zm1-1zm1-3zm1-3zm5 4zm4-1zm27-3zm0 0zm-86 18zm3-7zm4 5zm7 5zm1 0zm6 0zm12-5zm3 2zm43 3zm4-1zm17 0zm-99 12zm1 2zm7-4zm3 3zm2-6zm1 7zm4-6zm4-5zm3 6zm6-2zm1 1zm14 0zm6 1zm2 2zm3-2zm11 3zm-74 7zm4 3zm1-3zm3 1zm8-5zm3 5zm1-3zm12 3zm7 1zm0 3zm5-7zm16 9zm-54 11zm6-8zm0 6zm7-3zm4 1zm23-6zm1 6zm-44 8zm4-1zm16 2zm-10 14z"/><path stroke="#ffea00" d="M401 682zm7-5zm6 6zm-36 6zm20 5zm5-9z"/><path stroke="#00d9ff" d="M397 631zm-24 8zm14 0zm23-2zm0 3zm3 7zm4-2zm0-1zm-47 11zm4-2zm15 4zm2-7zm6 1zm5 6zm11-1zm5-2zm5-4zm19 4zm-49 11zm5-3zm8 0zm-39 11zm50 3zm4-2zm40 7zm-24 7z"/><path stroke="#0091ff" d="M381 612zm0 5zm29 5zm11-1zm-46 7zm24 3zm4 3zm8-9zm-37 22zm5-11zm1 10zm3-5zm3 3zm3 3zm6-3zm2-3zm0 4zm1 2zm3-1zm6-1zm4-1zm-39 10zm6-5zm35 7zm0 0zm1 1zm-21 9zm20-3zm14 6zm3-3z"/><path stroke="#0000bb" d="M421 550zm10 0zm-31 10zm0-5zm2 5zm0 2zm1-3zm9-5zm4-2zm5 4zm10-1zm-52 16zm19 2zm3-8zm9 10zm3-1zm6-5zm2 1zm3-4zm3 0zm1-1zm0 3zm1 7zm5-6zm27-5zm-75 14zm2 6zm5 3zm0-7zm1-2zm4 4zm3 2zm1 0zm9 1zm8 1zm8-9zm3 2zm2 0zm10-1zm5 2zm-72 12zm0-1zm6 7zm1-10zm2 11zm5-3zm2 2zm10 1zm2-11zm11 5zm3-3zm2 4zm19-3zm18 2zm-60 9zm1 3zm6 0zm6-3zm-44 21zm4-7zm14 4zm6-5zm7 6zm-24 4zm6 12z"/><path stroke="#50ffa7" d="M390 652zm15 7zm-37 5zm9 6zm4-10zm9 9zm22-4zm-29 7zm7 0zm9 2z"/><path stroke="#33ffc4" d="M372 659zm10-6zm9 6zm4-6zm16-1zm-36 16zm1-5zm24-3zm9 4zm0 6zm5-1zm-46 5zm7 2zm10-4zm16 9zm10 3zm67 8z"/><path stroke="#8aff6d" d="M398 663zm-26 20zm6-7zm7 4zm2-6zm7 8zm6-1zm0-2zm1 1zm5-5zm5 4zm5 7zm5 4z"/><path stroke="#ffa700" d="M398 687z"/><path stroke="#6dff8a" d="M372 667zm7-1zm3 5zm3-3zm24 3zm2 0zm3-1zm-28 5zm8 8zm2-8zm1 2zm1 1zm4-1zm1 3zm8-4zm10 8z"/><path stroke="#006dff" d="M390 576zm10 16zm-3 16zm15-5zm-15 9zm2 10zm15 0zm6-10zm-41 18zm6-6zm1 11zm0 0zm4-6zm1 4zm13 2zm4-11zm1 5zm3-1zm3 3zm3 4zm3-5zm-53 10zm0-3zm1 10zm6-3zm2 0zm2-8zm2 3zm1 7zm1-5zm2 6zm0-6zm8-1zm3-1zm6 7zm3-8zm3-2zm1 5zm2 0zm0-5zm-50 15zm17 4zm9 1zm23-6zm-31 13zm78 4z"/><path stroke="#000092" d="M375 547zm42 2zm-30 5zm0 0zm3 5zm0 1zm0-3zm4 0zm3 1zm1 2zm2 2zm1-2zm1-6zm7 1zm3 3zm0 1zm9-5zm1 9zm14-2zm3-5zm-58 10zm0 8zm14-10zm1 9zm1-7zm2 3zm1-4zm3 1zm0 3zm1 4zm1 1zm1-1zm1-4zm2 5zm2-10zm3 6zm0-2zm6-4zm1 7zm5 2zm1-6zm4 8zm0-7zm2 3zm1 3zm1 0zm-60 13zm5 0zm2-1zm5-2zm1-8zm5 11zm0 0zm7-9zm2 6zm3 3zm4-4zm0-2zm1 5zm0-4zm4-4zm1 6zm0-7zm2 2zm10 0zm4 2zm3-5zm0 0zm5 2zm2 0zm10 6zm6-1zm-78 13zm3-1zm8-6zm1 1zm4 0zm17 3zm4 0zm0 3zm4 0zm2-6zm1 2zm13-1zm7 3zm-65 16zm13 0zm29-4zm-55 28z"/><path stroke="#0049ff" d="M382 561zm11-7zm4 25zm-17 9zm7 10zm2 12zm-12 7zm7 6zm1-6zm1-3zm6 8zm4-9zm1 9zm3 1zm11-9zm3 1zm-45 12zm7 0zm6 2zm1 4zm8-8zm2 0zm3 3zm5-4zm3 4zm6 3zm-44 10zm4-2zm7 1zm13 0zm-16 15zm9-4zm4 1zm53 7z"/><path stroke="#0001ff" d="M402 550zm3-9zm-15 19zm-8 8zm13-2zm34 9zm6 0zm-58 4zm3-1zm6 9zm8-8zm12 5zm2 2zm2-5zm4 6zm1-2zm7-6zm0 8zm-41 9zm3-5zm8 3zm1 4zm4 1zm18 0zm16-10zm-64 16zm6 1zm3 1zm1 1zm1 1zm4-5zm5 5zm8-9zm7 1zm0 1zm1 4zm9 4zm1 1zm6 0zm0-1zm8-1zm-69 14zm1 0zm6-3zm11-5zm5 6zm11-6zm5-1zm2 0zm1 8zm0-3zm2 1zm3-7zm0 6zm3-3zm6-1zm1-3zm-38 17zm6-5zm1 3zm0-3zm1 3zm14 2zm2-4zm10 3zm-38 13zm5-3zm10 1zm2 1zm98 21z"/><path stroke="#ffc800" d="M375 688zm14 7zm25-7zm-43 8z"/><path stroke="#0091ff" d="M370 626zm16 7zm25-4zm13-2zm-55 18zm2-6zm4 6zm5-4zm7 3zm3 1zm2 0zm2-8zm6 7zm3 0zm9-7zm0-1zm7 11zm19-10zm-69 14zm1 0zm11 7zm2-10zm11 0zm0 3zm6 5zm6-3zm3 2zm-22 18zm35 4zm3 5z"/><path stroke="#0000e3" d="M410 551zm18-4zm-56 16zm13-3zm1-3zm16-3zm1-2zm3 9zm12-8zm6 9zm41-1zm-79 13zm5-4zm2-2zm9 1zm1 6zm6-9zm1 9zm5-1zm2-8zm4-1zm2 9zm3-4zm-37 8zm6 3zm10 4zm1 2zm7-5zm8-4zm4-2zm8 2zm27 3zm-83 8zm5 5zm1 1zm4 3zm4 0zm6-8zm2 4zm13 5zm10-9zm5-2zm7 1zm30 0zm-97 17zm7-2zm4 3zm5-4zm2-2zm1 7zm24-2zm0 3zm3-6zm2 0zm4-3zm0 6zm8-6zm-64 19zm3-3zm5 4zm3 0zm10 2zm5-5zm1-3zm16 8zm5 0zm1-10zm3 8zm-42 10zm1 5zm1-7zm3 6z"/><path stroke="#e4ff13" d="M366 683zm3 3zm3 2zm11-2zm7 4zm1 4zm2-9zm11-1zm1 0zm-32 16z"/><path stroke="#00d9ff" d="M386 632zm3-5zm11 6zm13-3zm3 2zm-41 5zm10 10zm9-11zm7 6zm10 5zm-46 7zm2-1zm17 0zm2 4zm1 0zm4-4zm9-2zm4 8zm4-1zm0-9zm5 3zm2 2zm5-3zm-46 12zm4 4zm3 0zm2 3zm10-2zm1-1zm5-5zm9 7zm4-7zm6 1zm-14 10zm15 2z"/><path stroke="#c4ff33" d="M366 678zm15 4zm16 1zm-25 7zm2-6zm0 6zm7-3zm17-1zm4 2zm8 0z"/><path stroke="#00b5ff" d="M375 620zm20 14zm4 1zm-29 4zm7 0zm2 4zm0-3zm3 7zm6 0zm3 0zm15-2zm0-2zm8-3zm3 7zm-57 5zm9 3zm1 1zm7-2zm8-6zm5 11zm2-2zm1-2zm5 1zm2 3zm0-11zm12 6zm26 4zm-63 5zm1 2zm2-3zm3 0zm13 0zm5 6zm16 3zm8-5zm55-5zm-56 17z"/><path stroke="#ff8600" d="M408 689zm-7 7z"/><path stroke="#a7ff50" d="M387 675zm14-3zm0 7zm2-5zm5 4zm2-3zm3 8zm-39 6zm26-3zm14 0zm7-1z"/><path stroke="#16ffe1" d="M403 639zm3 6zm-19 11zm12 1zm5-7zm8 2zm1 6zm1 1zm2 0zm3-1zm0-5zm-52 8zm6 9zm5-7zm2 4zm13-7zm0 11zm2-5zm2 1zm4-5zm5-1zm7 5zm0-5zm0 8zm0 5zm8 8zm10 9z"/><path stroke="#0024ff" d="M382 584zm13 3zm9-1zm12 1zm9-1zm-43 11zm3-2zm1-1zm2-5zm8 9zm8-5zm4 5zm1-7zm8 8zm9 0zm13-9zm6-2zm-76 14zm21-1zm0 8zm1-5zm4 4zm1-3zm1-5zm0 4zm2 5zm3-5zm0-4zm10 8zm3-2zm5 4zm1 1zm5-2zm-60 12zm9-4zm3 5zm2-1zm0-8zm1 8zm0-3zm1 1zm14 3zm0-4zm1 4zm3-9zm4 9zm0-4zm7 5zm2-1zm12-10zm-38 12zm3 8zm0-2zm6-1zm2 4zm3-3zm1-2zm1 0zm1-4zm1 9zm3-5zm14 2zm-62 10zm3-2zm9-1zm5 8zm7-6zm30-3zm-44 13zm2 0zm5-1zm80 28zm36-4z"/><path stroke="#ffea00" d="M399 678zm-23 16zm8-5zm9-3zm18 3zm5-1zm-11 12z"/><path stroke="#0091ff" d="M378 621zm-11 12zm19 2zm3-8zm7 0zm4 5zm9 1zm1 0zm-34 4zm1 7zm8-4zm1-3zm0 7zm8-2zm10 0zm7 2zm4-7zm1 9zm-39 4zm6-1zm0 1zm4 4zm1-5zm10-1zm2 1zm9 4zm10 6zm20-7zm-70 16zm62-6z"/><path stroke="#00d9ff" d="M409 643zm-43 14zm16 1zm2-1zm0-4zm6 1zm4 2zm1-5zm0-1zm3 6zm2-7zm0 0zm1 7zm1-6zm31 2zm-78 13zm16-2zm2-1zm0-1zm6 6zm0 2zm1-7zm11 9zm10-10zm9 10zm5-3zm2-4zm0 3zm2-5zm4-1zm55 21z"/><path stroke="#0000bb" d="M381 545zm15 17zm2-1zm6 0zm0-7zm1 1zm6 1zm4 7zm4-3zm5-1zm0-5zm4-1zm3 5zm12 3zm3-2zm64 2zm-124 11zm3-1zm0-6zm13 2zm1 2zm1 4zm1 0zm6-8zm5 0zm28 2zm-59 9zm2 6zm8 0zm3-4zm6 2zm3-2zm9-1zm0 7zm1 3zm0-2zm4-5zm1 3zm1-3zm8-3zm17 2zm8 0zm-55 19zm6-10zm3 2zm1 0zm6 3zm0-5zm8 0zm8 7zm5-2zm13-3zm-80 21zm5-6zm3 4zm9-9zm3 3zm9 5zm15-1zm-57 13zm3-4zm9 1zm6-2zm4 3zm2-6zm11 6zm1-6zm4 8zm4-3zm4 3zm9 2zm-38 10z"/><path stroke="#a7ff50" d="M411 670zm-32 2zm5 3zm18 8zm7-2zm-13 4zm3 4z"/><path stroke="#33ffc4" d="M394 644zm1 8zm10 2zm8 0zm-39 12zm14 0zm0-3zm7-3zm3 1zm4 0zm1 3zm1-2zm7 3zm-33 7zm14 2zm12 2zm2-4zm3 6zm15 12zm8-4zm49 0z"/><path stroke="#50ffa7" d="M397 657zm10-2zm-26 14zm5-1zm0 2zm0-6zm2 5zm11-4zm8 6zm1 0zm-39 12zm9-11zm4 2zm22 3zm3 0zm9-5zm0 6z"/><path stroke="#ffc800" d="M399 682zm5 6zm-20 9z"/><path stroke="#000092" d="M416 550zm4-5zm-36 11zm3 3zm3 2zm5 2zm2-3zm1-4zm6 7zm0-4zm13 4zm1-8zm0 1zm8 6zm1 0zm5-6zm14 4zm1-2zm12 2zm-78 4zm4 6zm3-5zm4 2zm1 2zm3 5zm2-3zm0-1zm1-1zm7-3zm0 3zm1-3zm1 8zm1-4zm0-2zm0 0zm2-2zm1 9zm1-2zm10-8zm1 5zm5-4zm6 1zm1 6zm5 2zm13-5zm4-6zm2 4zm0-3zm-79 19zm4-5zm12 5zm1 0zm4-6zm4-1zm0 1zm1-1zm0 9zm3-4zm1-2zm6 3zm0 0zm2 1zm8 0zm12-5zm21-3zm-83 23zm1-11zm2 5zm1 6zm2-9zm14 1zm8 0zm1-3zm4 10zm1-8zm0 7zm1 0zm1-2zm5-1zm2 1zm1-4zm5 4zm10-5zm-61 13zm7 4zm9-3zm0-2zm11 0zm8 0zm11 2zm5 0zm-62 14z"/><path stroke="#00b5ff" d="M413 623zm-11 9zm8 1zm8-8zm-48 21zm3-6zm2 3zm11-4zm16 1zm11 1zm3-3zm-47 19zm12 0zm7-7zm3-1zm3 6zm3 4zm5-9zm3-1zm6 9zm6-6zm-27 11zm0-1zm2-1zm12 5zm13-5zm6 0zm3 4zm31-4zm-22 16zm4-5zm3 11z"/><path stroke="#6dff8a" d="M400 657zm-3 14zm7-3zm4 3zm-38 10zm18-5zm16-1zm7 2zm1-3zm11 14z"/><path stroke="#ffa700" d="M385 692zm1-4z"/><path stroke="#e4ff13" d="M367 683zm20-1zm6-2zm8 2zm-35 9zm6-3zm9-4zm41 6z"/><path stroke="#006dff" d="M389 597zm-3 11zm23 0zm-28 12zm15 2zm2-1zm1-2zm0-1zm17-3zm5 1zm-36 10zm3 0zm0 9zm11-1zm2-8zm0 7zm1-8zm7 0zm6 2zm2 6zm-48 3zm3 11zm0 0zm3-4zm5-5zm6 5zm2-7zm3 3zm6 2zm6-5zm14 3zm-41 12zm9-2zm16-1zm8 2zm21 4zm-13 17zm4 3z"/><path stroke="#c4ff33" d="M388 682zm12-2zm-23 11zm5-3zm4 3zm6-5zm13 0zm1 3z"/><path stroke="#ff8600" d="M415 690z"/><path stroke="#0049ff" d="M428 554zm-27 16zm7 6zm4 7zm19 14zm-65 11zm38-3zm4 2zm14-4zm-43 19zm0-10zm11 8zm9-3zm8-5zm5 4zm5 7zm-51 11zm3-1zm8-2zm2-5zm7 3zm11-3zm0 2zm2 7zm1-9zm-36 15zm6-2zm2-1zm6 0zm1-2zm2 3zm11 8zm1-1zm3-5zm16 0zm-32 8zm0 3zm18-3zm13 0zm14 18zm7-2zm-4 14zm2 5z"/><path stroke="#ffea00" d="M371 689zm19 5zm1-7zm5 4zm14-3zm4-2z"/><path stroke="#8aff6d" d="M375 667zm16 4zm16-3zm1-6zm-35 13zm16 7zm3-2zm8-3zm2 1zm4-2zm1 2zm4-3zm3 5zm-26 4zm28 1z"/><path stroke="#0024ff" d="M425 554zm-42 11zm16 7zm12-3zm38 0zm-49 9zm-21 18zm0 12zm15 0zm20 2zm0-5zm6-3zm-50 21zm3-7zm4 4zm13-7zm0 2zm1-2zm2 4zm10-3zm1-2zm10 9zm4-8zm2 6zm-44 16zm3-6zm1 3zm1 0zm9 3zm2-1zm9-7zm3-2zm2-1zm2 3zm-45 18zm2-7zm5 2zm7-3zm21 6zm33 18zm1 5z"/><path stroke="#16ffe1" d="M424 642zm-20 14zm2 3zm2-8zm10 8zm-48 9zm2-6zm11 0zm5 0zm7 3zm5-2zm8 1zm2 4zm7 0zm3 2zm1-5zm-50 8zm12 0zm24 1z"/><path stroke="#0000e3" d="M400 548zm-22 11zm8-3zm10 2zm10 5zm3-4zm18 2zm1-5zm2-1zm-45 10zm6 2zm5 7zm12-8zm2 3zm1 2zm2-4zm1 3zm3-3zm7 7zm1-6zm6 7zm0-2zm36-8zm-83 11zm0 7zm8-6zm2 4zm4 4zm10-7zm3 4zm1-5zm6 6zm4-1zm1-1zm11 0zm4-5zm-57 21zm7-8zm2 0zm1 0zm7 9zm6-4zm0-4zm3 3zm3 4zm3-2zm7-2zm1-5zm3 0zm1 0zm6 3zm-54 17zm3-1zm6-4zm0 8zm6-3zm0 0zm1 2zm2-8zm0 9zm4-6zm9-1zm1-4zm1 3zm2 3zm0-5zm12 8zm5-5zm-72 14zm8 5zm2-2zm1-8zm5 0zm5 5zm3-1zm2 6zm1 0zm6-3zm6-4zm5-4zm1 6zm3 0zm0-5zm11-1zm3 9zm5-9zm-55 17zm1 3zm6-8zm6 4zm18-4zm-28 13z"/><path stroke="#0001ff" d="M397 557zm-13 14zm2-4zm20 4zm3 1zm15 1zm3-3zm-34 16zm14-10zm10 4zm1 5zm1-2zm20 2zm-60 11zm16-4zm9 5zm5-7zm3 0zm8-2zm25 0zm-64 15zm3 2zm1-1zm3-3zm0 10zm2-4zm4 4zm2-6zm7 3zm1 3zm4-11zm7 4zm-43 9zm7 10zm8-1zm24-8zm2 1zm2-1zm0 7zm-55 12zm0-2zm9-2zm1-1zm7 6zm1-10zm4 11zm0-11zm5 8zm3-1zm1-2zm7 3zm-32 4zm0 0zm13 4zm5-1zm1 1z"/></g></g><text x="217.6" y="261.1" font-size="12.0" fill="#303030" text-anchor="middle">H</text><rect x="303.0" y="268.0" width="84.0" height="83.5" fill="#fdfde9"/><path d="M299.5 330.7H387.0M299.5 305.1H387.0M299.5 279.4H387.0M326.0 268.0V355.0M364.5 268.0V355.0" stroke="#ece6c8" stroke-width="0.9" fill="none"/><text x="326.0" y="362.5" font-size="8.8" fill="#4f5d64" text-anchor="middle">0</text><text x="364.5" y="362.5" font-size="8.8" fill="#4f5d64" text-anchor="middle">5</text><g clip-path="url(#cB02)"><g transform="scale(.5)" fill="none" stroke-width="4.48" stroke-linecap="round"><path stroke="#e4ff13" d="M638 616zm3 3zm6-1zm-5 11zm18 1zm-36 12zm2 4zm3-7zm4 5zm7-5zm6-2zm1 2zm-30 12zm18 3zm1 4z"/><path stroke="#33ffc4" d="M651 611zm20-5zm-16 16zm4-4zm2 0zm7-1zm3 1zm8 4zm-12 22zm2-3zm0 6zm3-7zm3 7zm-29 12zm23-1zm1-6zm4 2zm-47 9zm0 7zm7-3zm2 0zm5 1zm3-7zm9 3zm2 5zm1-6zm4 3zm7 2zm4 3zm-48 2zm12-1zm9 0zm22 1zm11 1z"/><path stroke="#16ffe1" d="M628 607zm3 1zm3-1zm6 2zm4 2zm17 3zm4 4zm6 2zm-14 10zm3-5zm10 2zm6 30zm22-3zm-70 13zm8-5zm1 7zm1-4zm10 6zm5-4zm9 4zm5 0zm54-3zm-81 14zm3-10zm2 2zm17 2zm4-4zm8 0zm75 0z"/><path stroke="#ff8600" d="M621 623zm1-2zm2-8zm3 2zm4 6zm2-1zm3-2zm-13 15zm4-4zm6 4zm-8 12zm3-8zm3 6zm17 2zm47 7z"/><path stroke="#00b5ff" d="M677 611zm8-3zm-23 4zm14 21zm-1 26zm-41 12zm5 0zm14-4zm7 3zm6-2zm3-1zm-42 14zm4-7zm0 3zm1-5zm13 0zm2 4zm2 4zm8 0zm1-7zm4-1zm2 5zm3-1zm6 0zm4 6z"/><path stroke="#0049ff" d="M640 564zm18 3zm32 2zm-59 18zm1-11zm22 9zm-14 14zm1-11zm2 10zm17-1zm1-5zm7 7zm1-4zm7-2zm6 2zm-42 8zm3 3zm4-3zm4-1zm7 0zm18 8zm-6 2zm-13 70zm4 1zm2-5zm2 3zm6-3zm-37 9zm19 1z"/><path stroke="#50ffa7" d="M634 609zm6-4zm5 5zm7 6zm7-2zm8 3zm2-5zm7 10zm-9 6zm-7 19zm2-3zm1-7zm2 6zm2-2zm8 6zm-39 12zm14-3zm2-4zm4 7zm1-3zm10-7zm7 9zm0-7zm22 8zm-32 3zm2 0zm3 1zm0 1zm5-1zm-19 11z"/><path stroke="#0024ff" d="M681 549zm-36 24zm4-4zm-9 12zm29 0zm0-2zm8-1zm10 6zm-51 9zm3 3zm1-2zm1-2zm4 5zm6-6zm8 6zm1-3zm4-5zm3 1zm11 3zm3 6zm-18 7zm2-6zm4 3zm34 74zm-81 14zm9-3zm23-2zm3 2zm3 0zm0 2zm1-6zm7 3zm4-1zm5 4zm3-6zm54 8z"/><path stroke="#0000e3" d="M642 561zm12-1zm17 2zm8-3zm5-5zm-49 17zm24 4zm0-6zm7 0zm5-5zm6 1zm3 5zm1-2zm1 5zm7-9zm1 0zm27 0zm-75 22zm7 1zm6-2zm0-3zm0 1zm5-4zm0 4zm1 4zm0-5zm1 2zm4 2zm1-4zm3 3zm1 0zm4-7zm6 5zm7-4zm5-2zm6 7zm17-8zm-59 18zm5-1zm5 0zm5 0zm8-5zm2 6zm0 5zm1-11zm-16 87zm-24 16zm5-5zm4 5zm1-2zm0 2zm7-7zm33 3z"/><path stroke="#a7ff50" d="M626 610zm17-1zm0-2zm9 8zm-4 13zm8 5zm5-1zm-28 15zm2-11zm7 8zm2-8zm1 2zm5 7zm6-2zm1-1zm7 5zm-25 4zm1-3zm3 6zm0 3zm10-3zm5 0zm4-6zm-33 14zm2 5zm22-6zm5 0z"/><path stroke="#000092" d="M631 547zm6-2zm16 3zm8-7zm12 8zm27 2zm-61 2zm4 1zm5 7zm1-7zm2 9zm1-1zm0-1zm1-4zm6 3zm5-2zm4-4zm0 4zm6-2zm4-4zm5 9zm1-8zm3 2zm1 1zm-47 18zm1-2zm3-7zm2 5zm1-3zm4 4zm0 3zm3-2zm2 1zm1-4zm1-4zm1 8zm0-7zm2 5zm3-5zm2-1zm0 6zm1 4zm2-5zm1 4zm1-9zm3 9zm13-6zm0 6zm3-7zm-55 14zm8-5zm7 6zm0-1zm5-3zm4 2zm2 3zm1-6zm4 2zm2-1zm0 4zm3-5zm0 7zm1-4zm2 4zm3-5zm3 7zm6-7zm3-3zm5 3zm22-1zm-67 11zm28-1zm0 1zm-50 101zm19 4zm0-8z"/><path stroke="#ffea00" d="M630 635zm8 0zm2-1zm2 1zm1-3zm4 1zm1 1zm-26 2zm4 4zm2 0zm0-3zm2 10zm2-6zm2-1zm1 3zm1 3zm5 1zm13 0zm5-4zm-20 6zm1 8zm7-4z"/><path stroke="#c4ff33" d="M632 610zm5 0zm9 10zm-5 12zm3 3zm2-2zm1-8zm0 2zm6-1zm0 2zm4-2zm0 1zm-24 12zm6 4zm2 4zm0-7zm1-1zm3 4zm5-6zm-23 19zm5-5zm14 1zm4-1zm5 7zm0-6zm-25 9zm4-1zm5 2zm20 2z"/><path stroke="#bb0000" d="M623 621z"/><path stroke="#0091ff" d="M700 598zm-71 6zm15-2zm9 6zm2 1zm5 2zm3-6zm7 0zm1 9zm5 0zm4 13zm-5 32zm-11 5zm13-1zm-41 17zm5 0zm13 2zm1-4zm1-1zm2 1zm0-5zm8 2zm11-2zm1 5zm-24 8zm10 3z"/><path stroke="#8aff6d" d="M648 615zm10 5zm-6 15zm3-4zm0-2zm1-3zm8 7zm-7 13zm2-4zm3 2zm2 1zm4-4zm12 2zm-55 12zm3-1zm5 0zm7-1zm13 6zm3-10zm4 1zm1 4zm-38 7zm9 9zm2-8zm12 0zm4 0zm0 5zm4-5zm-13 10z"/><path stroke="#ff6400" d="M618 623zm13-9zm3 4zm-11 15zm3-5zm7 1zm52 9zm-1 27zm60-4z"/><path stroke="#ff1e00" d="M625 619zm60 59zm28-2z"/><path stroke="#006dff" d="M659 605zm16 5zm9 1zm-54 71zm6 0zm20-5zm11 0zm27 2z"/><path stroke="#ffa700" d="M629 613zm2 10zm3-7zm3 5zm2-1zm6 0zm-19 12zm2-7zm1 5zm7 3zm1 0zm1-5zm0-4zm4 11zm4 0zm-27 10zm15-8zm0 1zm0 0zm0-1zm53 24zm22 13z"/><path stroke="#6dff8a" d="M622 608zm13 1zm0-1zm17 11zm2 1zm3-5zm10-1zm0 9zm-9 5zm8 3zm-12 12zm4 3zm4-1zm5-1zm5 2zm-44 13zm7-6zm12 0zm8-1zm3-2zm4 9zm5-1zm-39 7zm9-5zm6 3zm1 5zm5 0zm5-7z"/><path stroke="#0000bb" d="M652 548zm9 0zm-28 6zm9 3zm12-2zm3 5zm3-3zm3-5zm4 10zm0-6zm14-2zm2 8zm2-2zm1-5zm21-2zm-70 21zm5-7zm3 4zm18-5zm1 7zm1-3zm9 4zm5-9zm1 8zm7-2zm1-4zm3-1zm9 1zm15-2zm-77 20zm3-8zm1 6zm10-1zm2 2zm3 0zm5 3zm1-11zm2 5zm2 1zm0 0zm3-4zm5 7zm0 1zm1-10zm5 0zm1 7zm7-6zm6 1zm3 0zm8-2zm-72 13zm3 10zm5-4zm4 2zm1-7zm5 5zm11-1zm36 1zm-57 5zm-24 90zm13 1zm11 1zm15-4zm17 1z"/><path stroke="#ff4300" d="M617 616zm1 10zm3 8zm3-7zm1 0zm5 8zm50 7z"/><path stroke="#ffc800" d="M651 621zm-29 12zm12-9zm3 8zm8-5zm7 4zm-32 10zm6-2zm0 0zm1 0zm8 5zm51-5zm6 34z"/><path stroke="#0001ff" d="M643 554zm3 5zm16 2zm9-6zm7-1zm2 0zm41 7zm-83 14zm16-5zm8 3zm16-5zm12 6zm4-4zm-60 13zm4 4zm3-5zm2 4zm8-3zm15-2zm2 2zm15-4zm4 0zm2-2zm-60 20zm4 2zm19-8zm1 8zm11 0zm2-1zm1-6zm6 6zm32 0zm-45 7zm9-3zm1 1zm-15 79zm28-7zm-47 13zm23 0zm5-2zm2 2zm0 0zm9 2zm-48 6zm2 4z"/><path stroke="#00d9ff" d="M631 603zm11 5zm6-1zm12 5zm9 5zm3-2zm6 0zm-6 44zm5-8zm-24 17zm11 3zm7-2zm20-5zm-62 11zm14-1zm4 7zm13-5zm2-1z"/><path stroke="#0024ff" d="M682 547zm-43 13zm8-2zm-6 16zm11-1zm1-7zm-20 18zm23-2zm16 5zm6-5zm5 5zm-44 1zm4 10zm10-5zm16 5zm1-5zm4 1zm5-2zm8-1zm-29 13zm11 2zm9-3zm-35 76zm12 3zm2 0zm-32 7zm12-5zm10 0zm9 2zm6 3zm8 0z"/><path stroke="#c4ff33" d="M626 611zm11 0zm8 3zm4 3zm2 0zm1 5zm0-8zm-17 15zm8-5zm7 1zm2 5zm1 1zm2 4zm11-6zm-35 15zm7 3zm0-11zm-17 18zm7-5zm10 4zm3-5zm0 1zm2 5zm19-4z"/><path stroke="#006dff" d="M666 597zm12 1zm17 1zm-57 5zm21 2zm12-4zm2 5zm3-5zm6 7zm-10 3zm9 0zm-47 64zm-9 10zm19-2z"/><path stroke="#ff8600" d="M629 621zm8-1zm1-2zm1-1zm1 6zm42 6zm-59 15zm2-4z"/><path stroke="#000092" d="M693 551zm-51 9zm2-5zm3-1zm3 3zm6 5zm0-7zm2-1zm2 5zm1-4zm1-3zm3 0zm1 1zm13 0zm3 9zm2-5zm1-3zm-50 10zm2 2zm0-2zm4 6zm6-3zm4-1zm3 4zm1 2zm2 0zm2-6zm2 7zm3 1zm1-4zm1 5zm1-6zm4-5zm3 8zm5-7zm6 10zm4-6zm-60 14zm8-7zm4 0zm4 2zm3-1zm1 3zm2 2zm3 0zm2 0zm0-4zm5 7zm1-8zm1 9zm1-8zm0 9zm4-5zm11-1zm1 6zm2-8zm1-2zm0 0zm21 1zm8 7zm-82 5zm1 9zm8-6zm2 2zm3-6zm0 0zm2 0zm0 8zm2-4zm19-3zm1 3zm8 3zm5-8zm13 5zm-16 7zm-46 94zm13-5zm2-2zm13 1zm-20 9z"/><path stroke="#ff6400" d="M630 620zm6 1zm-11 9zm1-4zm13 8zm-20 4zm5 2zm1-4z"/><path stroke="#ffa700" d="M622 621zm15-4zm6 5zm-20 11zm8-8zm0 5zm14-1zm-23 12zm6-3zm0 7zm5-8zm1 0zm1 3zm7 4z"/><path stroke="#00d9ff" d="M640 606zm1-2zm5 3zm1 3zm24-3zm-4 21zm0-3zm-15 31zm17-2zm-25 8zm5 7zm6 2zm3-2zm9-4zm12 1zm-48 7zm12 4zm4-3zm7 6zm2-7zm3 1zm4 3zm4 2z"/><path stroke="#50ffa7" d="M625 608zm15 4zm6 8zm10 3zm11-9zm3 8zm-6 5zm5 13zm3-2zm3 7zm-38 13zm19-2zm7-1zm6 1zm-45 11zm6-1zm14 3zm3 2zm2-11zm11 2zm4 9zm1-6zm3-5zm-28 12zm6 0z"/><path stroke="#ffea00" d="M641 620zm5-5zm-6 12zm0-3zm5 3zm-16 20zm2-10zm3 7zm4 2zm4-2zm2-5zm17-1zm-38 15zm10-3zm0-2zm54 14z"/><path stroke="#8aff6d" d="M650 613zm8 5zm4 4zm0-4zm1-3zm-17 15zm11-6zm1 8zm3 1zm-3 13zm11-3zm4 4zm-40 10zm1-1zm5-6zm3 7zm7-1zm20 0zm1 1zm3-3zm2 4z"/><path stroke="#33ffc4" d="M623 606zm19 5zm4-2zm2-1zm34 1zm-28 8zm3 3zm2 0zm9-6zm2 9zm3-4zm-11 5zm1 11zm0-11zm3 9zm6-3zm1 4zm-8 4zm-40 19zm22 2zm13-3zm1-2zm15-1zm-46 10zm1 0zm2 7zm2-1zm25-1zm4-5zm1 8zm4-10zm2 8zm12 0zm51-8zm-74 12z"/><path stroke="#0001ff" d="M653 551zm38 12zm11-3zm-63 14zm4-8zm6 3zm7 6zm17-8zm26-2zm15-1zm-76 18zm11 4zm13-5zm30 4zm-56 12zm4-6zm0-3zm7 1zm3 3zm2 6zm8-8zm4 8zm8-2zm3-4zm12 2zm25-1zm-51 12zm5 1zm11-3zm-49 80zm42 0zm-40 1zm7 3zm8 8zm3 0zm34-10zm-6 13z"/><path stroke="#0049ff" d="M656 560zm11 6zm14 6zm42-7zm-74 22zm55-8zm-68 19zm8 1zm4-6zm3-5zm9 9zm2-9zm14 7zm-36 7zm11 0zm3 2zm6 2zm15 5zm1-6zm0-1zm9 0zm12-2zm-17 10zm-44 69zm7-4zm14 4zm4 1zm8 1zm1-5zm-39 13zm15-2zm19-5zm14 4zm72 4z"/><path stroke="#e4ff13" d="M631 614zm2-1zm10 8zm3-8zm2 5zm-2 14zm3-3zm10 5zm-26 6zm3-2zm1 6zm2-3zm7-1zm4-4zm0 8zm1 0zm-15 8zm0 6zm7-6zm4-2z"/><path stroke="#0000bb" d="M659 549zm7 2zm1 0zm9-6zm-48 18zm14-6zm4 3zm5-1zm6 4zm1-9zm20 2zm37 4zm51 1zm-86 13zm3-8zm1 8zm32-9zm-76 18zm3 3zm6-10zm0 10zm2-1zm7-2zm6 4zm4-5zm1 1zm1 4zm3-8zm2 4zm6-3zm5-1zm43 6zm-94 13zm2-2zm1-8zm3 0zm0 2zm5 8zm1-6zm3 2zm11-3zm14 3zm2-6zm-1 18zm-45 87zm4-2zm14-5zm0-1zm5 9zm1-5zm6 1zm9-2zm67-2z"/><path stroke="#ff4300" d="M627 620zm-10 12zm9-1zm-2 6zm81 17zm-20 7zm8 27z"/><path stroke="#a7ff50" d="M632 613zm22 8zm8-1zm-23 13zm2-6zm13 5zm1 3zm7-6zm4 4zm-35 10zm11 0zm16-6zm1-1zm7 1zm2-1zm-38 19zm1-4zm14 1zm6 1zm6-5zm5 3zm-36 9zm26 8zm2-5z"/><path stroke="#16ffe1" d="M627 604zm5 3zm16 1zm2 3zm1 0zm18 7zm3 40zm-29 12zm2 0zm17-7zm1 8zm6-6zm1 3zm7-3zm-21 9zm1 5zm17-7z"/><path stroke="#00b5ff" d="M658 594zm-37 8zm9 2zm12-1zm13 7zm12-10zm13 9zm0-3zm-13 16zm1-10zm0 0zm2 3zm4-2zm55 3zm-60 53zm2-7zm-41 14zm4-4zm1 2zm1 7zm2-7zm1-2zm26 6zm7-6zm3 3zm3 1z"/><path stroke="#0091ff" d="M625 604zm10 2zm9 0zm0-4zm6 4zm3-1zm2 0zm16 3zm-6 56zm-39 12zm20 6zm7-5zm11 1zm5-4zm4 3zm0 2zm5-2z"/><path stroke="#6dff8a" d="M638 612zm7 5zm7 4zm3-4zm0-3zm3 3zm0-1zm2 0zm5 3zm-6 9zm4 6zm8-3zm0 0zm3-6zm-12 17zm4-2zm2-1zm-32 12zm20-2zm0-1zm11 4zm-35 11zm3 0zm4 2zm1 3zm4-4zm7 2zm0-1zm2 2zm1-1zm1 2zm1-8z"/><path stroke="#ffc800" d="M623 615zm3 2zm6-2zm4 6zm1-7zm-6 11zm1 10zm9-9zm-8 11zm2 5zm1-1zm3-2zm0 2zm1-5zm5 11zm-11 2zm54 16z"/><path stroke="#ff1e00" d="M613 618z"/><path stroke="#0000e3" d="M643 554zm8 7zm7 1zm1 1zm5-9zm10-1zm8 2zm17 6zm-59 12zm19-7zm2 1zm2 5zm4-8zm1 4zm9 3zm12 0zm16-7zm-68 15zm6 5zm1 2zm2-8zm18-2zm1 7zm8-7zm3 2zm3 3zm0-1zm6 2zm9-6zm-63 16zm11 2zm7 0zm2-4zm2 0zm2 8zm3-9zm0 6zm12 1zm8-6zm16 1zm4 6zm-33 5zm11 0zm-39 80zm-10 7zm1-1zm23 1zm1-4zm1-1zm14 5zm1-3zm2 0zm1 4zm6-6z"/><path stroke="#e40000" d="M621 620zm2-3zm1 8z"/><path stroke="#33ffc4" d="M633 608zm30 6zm1 2zm11 5zm1-9zm17 23zm-36 22zm4 2zm2-8zm3 5zm0-6zm3 6zm1 3zm3-7zm3-1zm0 3zm1 5zm-57 12zm10-8zm5 4zm3 4zm1-1zm3-5zm2 1zm9 5zm23-1zm3-9zm0 0zm-20 16zm9-3z"/><path stroke="#ff4300" d="M619 619zm15 3zm-2 7z"/><path stroke="#0091ff" d="M641 598zm40-10zm-50 15zm3 0zm18 2zm4 0zm7 3zm-12 4zm18 3zm27 44zm-30 12zm-35 9zm11-2zm25-3zm4-3zm-13 12z"/><path stroke="#ffea00" d="M622 612zm15 5zm3 6zm2 12zm2-6zm-16 18zm3-9zm0 7zm2 0zm0-1zm9-7z"/><path stroke="#000092" d="M680 551zm25-4zm-65 9zm14 5zm4-1zm1-8zm0 7zm1 4zm0 0zm5-8zm8 8zm1-1zm0-7zm1 5zm2-6zm5 8zm1-1zm4-3zm9-6zm6 7zm1-1zm17 4zm-84 3zm7 10zm3-10zm3 3zm7-3zm1 0zm2 4zm6 5zm4-1zm7-1zm3 2zm8 1zm0 0zm5-6zm2-5zm3 11zm18-10zm-82 14zm1 3zm2-4zm5 1zm8 8zm1-6zm1 0zm9-4zm3 1zm5-2zm13 6zm1-5zm5 4zm0-1zm3-4zm5 9zm-58 8zm23 0zm8-5zm13 0zm1 6zm1-6zm3 0zm4 0zm-55 98zm35 0zm7 3z"/><path stroke="#ff8600" d="M625 616zm3 0zm5 1zm2 6zm0-6zm1 1zm-9 8zm2 7zm1-9zm3 8zm0-1zm61 27z"/><path stroke="#0001ff" d="M654 550zm11 5zm27 7zm3-6zm-57 9zm3 0zm14 1zm5 7zm7-1zm2-5zm1 1zm1 7zm43-11zm-73 20zm12 0zm19-5zm2 4zm12-4zm17 1zm5-4zm-71 22zm1-1zm5 0zm4 1zm10-7zm2-3zm3 1zm2 0zm4 1zm5 3zm14-4zm0 4zm-37 9zm1-2zm2 0zm0 1zm15 0zm8 11zm-35 68zm2 2zm-18 3zm13 3zm1-1zm1 2zm6-3zm8-1zm2 8zm2-8zm4 2zm0-2zm18 5z"/><path stroke="#ff1e00" d="M614 623zm7 4zm1 1zm73 28z"/><path stroke="#00d9ff" d="M624 604zm5 0zm22 4zm1 2zm13-2zm3 2zm4-1zm-11 4zm2-1zm5 4zm0 0zm2 5zm0-6zm1-3zm11 4zm-9 21zm-8 18zm-54 10zm16 4zm30-3zm7 3zm5-2zm4 1zm-45 9zm4-1zm4 3zm8-4zm3-2zm4-1zm4 3zm2 5zm15-7zm3 2z"/><path stroke="#8aff6d" d="M645 615zm1-1zm6 4zm1 0zm3 1zm0-6zm10 9zm5 0zm-32 13zm11-11zm6 11zm0-3zm4-4zm0 7zm5 0zm3-1zm5-1zm-21 8zm5 5zm3-8zm2 5zm4-6zm3 9zm1-6zm-49 10zm1 7zm8-4zm8 3zm3-4zm2 4zm7-1zm6 1zm2-2zm-32 8zm3-1zm20 5zm8-4zm1 4zm17-5z"/><path stroke="#50ffa7" d="M649 610zm0 4zm1-1zm5 4zm0 2zm0-1zm2 5zm5-6zm8 4zm-18 7zm5-3zm9-1zm4 9zm0-6zm0 2zm2 3zm7-6zm-21 20zm1-8zm9 0zm2-2zm-33 21zm6-1zm23-1zm3-3zm7 3zm-52 9zm4 2zm6 1zm1-1zm9 2zm2-5zm3 0zm1 3zm7-5zm7 1zm10 1zm-31 10z"/><path stroke="#c4ff33" d="M649 618zm8-2zm-9 19zm2-2zm2-8zm3 9zm3-7zm-21 12zm0 0zm1 5zm2-5zm4 8zm2-4zm2 4zm1-1zm4-5zm6-2zm1 1zm4-4zm-27 13zm1-1zm2 8zm7-6zm0 9zm2-3zm1-8zm0 3zm1 1zm3 4zm4 1zm-25 3z"/><path stroke="#00b5ff" d="M618 604zm39 2zm6 3zm5-1zm-1 10zm4-1zm6-1zm-18 53zm-15 7zm8-1zm8 6zm2-5zm8-3zm21 4zm43 5z"/><path stroke="#0024ff" d="M672 559zm-33 6zm12 0zm40 10zm-54 10zm1-1zm13 3zm2-3zm14-3zm5-4zm35 7zm1 2zm-77 13zm7-4zm6-6zm17 3zm1-4zm4 2zm8 2zm27-4zm-54 12zm12 8zm3-5zm4-1zm2 4zm-30 71zm4 6zm5-4zm3 3zm16-3zm-37 6zm0 1zm2 6zm9-5zm1 5zm5 2zm3-4zm12-4zm27 0z"/><path stroke="#0049ff" d="M649 584zm11 2zm4 0zm7-9zm-20 15zm4 2zm3-5zm7 5zm6 0zm5-1zm-36 7zm6 1zm0 2zm1-1zm9-2zm2 0zm7 0zm3 6zm-45 77zm5-7zm16 6zm3-8zm3 9zm6-2zm4-4zm9-3zm48 7zm-84 10zm13-1zm8-4zm13-2zm6 1zm4 0z"/><path stroke="#6dff8a" d="M633 608zm3-1zm-1 5zm15 8zm1-3zm1 5zm7-1zm1 1zm-11 3zm6 1zm1 0zm4-2zm3 0zm1 7zm0-7zm6 10zm-7 8zm8-5zm2 8zm0-1zm-22 11zm5-6zm3 8zm1-1zm2-6zm0 3zm3-3zm0 3zm3 1zm-32 13zm6 1zm26 2z"/><path stroke="#ff6400" d="M625 633zm0-4zm3 5zm7 0zm-2 6zm49 25z"/><path stroke="#ffc800" d="M639 621zm-8 7zm5 4zm5-8zm13 9zm26-9zm-39 16zm1 3zm6-2zm38 6zm-56 6zm4-2zm2-2zm50 35z"/><path stroke="#ffa700" d="M635 622zm1-8zm2 7zm1-4zm1 5zm3-5zm-15 8zm1 1zm4 8zm1 0zm1-4z"/><path stroke="#920000" d="M614 620z"/><path stroke="#a7ff50" d="M656 622zm13 5zm5 8zm-31 9zm8 0zm2 1zm6-1zm3 1zm7-9zm-43 19zm1-3zm3-1zm8 7zm2-5zm2 2zm3 2zm5 2zm1-9zm1 4zm1-3zm1 0zm0-2zm10 7zm-9 6z"/><path stroke="#006dff" d="M669 579zm-38 20zm38-4zm-35 5zm5 3zm9 0zm5 1zm3 1zm2-1zm0-2zm4 4zm21 3zm-34 62zm64-10zm-91 17zm4 3zm22-7zm30 16z"/><path stroke="#0000bb" d="M656 548zm5 0zm3 1zm8 1zm5 0zm3-6zm4 3zm3 3zm-49 11zm14-3zm8-4zm3 8zm5-3zm10 4zm2-4zm2-2zm2-1zm-36 17zm1-5zm7-3zm1 2zm5-1zm0 3zm1 1zm2-2zm1 7zm0-9zm3 8zm1-6zm0 2zm7 1zm0-2zm2 5zm3-2zm2-7zm0 3zm1 7zm2-2zm5 0zm10-6zm8 3zm6-2zm-80 19zm4-11zm1 7zm2 4zm3 0zm2-10zm1 5zm2 4zm7-8zm10-1zm3 8zm2 2zm0-4zm17-2zm8 6zm-67 4zm8 5zm1-4zm2 5zm3-3zm7-6zm1 3zm46 3zm-58 7zm-8 86zm4 1zm3 1zm17 7z"/><path stroke="#16ffe1" d="M632 605zm24 3zm10 4zm3 10zm0-5zm2 5zm2 1zm4-2zm23 22zm-36 6zm3 10zm1-7zm11-2zm-54 18zm2 3zm7-9zm10 7zm9-3zm2-1zm12 5zm4-2zm2-6zm0 5zm2-5zm-51 12zm16 1zm37-1z"/><path stroke="#e4ff13" d="M613 611zm22 1zm1 1zm1 8zm0 14zm1-8zm2 0zm2 4zm2 1zm3-3zm4 5zm-26 13zm9-7zm1-4zm5 3zm1 5zm1-7zm6 0zm6 1zm-38 14zm18-3zm0-1zm2 7zm4-7zm4 1zm3 0zm34 33z"/><path stroke="#0000e3" d="M655 554zm11 5zm4 3zm2-10zm13 9zm34-3zm-79 13zm9-5zm6 3zm15 2zm1-5zm1 9zm3-6zm2 1zm3-1zm3-2zm9 2zm13 0zm3-2zm4 6zm-74 13zm6-1zm4-6zm6-3zm5 10zm7-4zm0 0zm1 3zm2-3zm1-4zm3 7zm1-6zm0 2zm0 4zm3-5zm0-2zm1 9zm2-5zm1 4zm9-8zm7 0zm13-2zm-84 21zm7-8zm1-1zm1 8zm0 0zm1-8zm1 9zm1-3zm1-4zm1 9zm3-1zm1-9zm1 7zm0 3zm9-1zm1-4zm9-3zm1 0zm6 8zm3-5zm6 0zm-53 95zm3 1zm4-3zm0 2zm22-3zm3 2zm2 12z"/><path stroke="#e40000" d="M615 623zm7-7zm3 5zm2 3zm-11 16z"/><path stroke="#0001ff" d="M659 561zm11-1zm14 1zm-32 13zm9 0zm1-8zm1 3zm2-1zm2-1zm3 3zm3-4zm14 2zm-37 10zm4 3zm4-1zm0 4zm15-1zm5 2zm9-8zm8 2zm-56 10zm4 3zm5 2zm15-6zm0 0zm2 2zm8-2zm0 5zm4-2zm3 4zm7 2zm2-2zm1-6zm2 1zm-48 11zm11 0zm9 3zm1 0zm6-1zm33 80zm-74 6zm11-5zm10 0zm9 0zm7 2zm0-1zm5 0zm6 0z"/><path stroke="#ff6400" d="M621 623zm8-7zm2 1zm0 3zm3 1zm2-1zm-14 14zm3-5zm5 4zm2-6zm-4 10zm1 3zm59 26z"/><path stroke="#c4ff33" d="M628 613zm18 9zm15-3zm-17 7zm8 3zm1-5zm14 5zm-26 15zm0-7zm5 3zm0 6zm10-2zm2-4zm2 2zm-35 9zm1 5zm0-5zm4 6zm2-5zm2 3zm5 2zm9 0zm6-9z"/><path stroke="#ffa700" d="M621 612zm3 2zm2 9zm4-1zm8-3zm-1 7zm1 3zm3-5zm-19 12zm7 5zm80 22z"/><path stroke="#00d9ff" d="M623 605zm6 1zm18-2zm3 5zm7 0zm-8 3zm22 9zm5-2zm-11 9zm-5 31zm39-11zm-68 20zm32 0zm5-6zm3 5zm-44 6zm4 3zm2-4zm5 3zm1-2zm8 9zm4-6zm5 3zm3 3zm31-4z"/><path stroke="#0000bb" d="M649 551zm9-1zm-19 11zm0-5zm2 4zm5 1zm4-4zm8-4zm4 10zm1-5zm2 1zm10-7zm2 4zm1 7zm2-6zm5-1zm7 5zm1-2zm-56 8zm2 7zm4-6zm7-3zm1 0zm1-1zm2 9zm10-7zm1 6zm7-2zm7-4zm1 0zm11 5zm-51 16zm4-3zm2-8zm11 10zm1-2zm8-4zm5-2zm7 5zm5 1zm33-3zm-81 15zm4-1zm9-3zm1 6zm14-5zm3 4zm1-9zm6 2zm5 0zm17 0zm17-2zm-79 95zm20 6zm5-1zm19 3z"/><path stroke="#6dff8a" d="M635 609zm10 3zm8 10zm4-10zm-5 15zm4-3zm5 3zm4 6zm1-6zm2 1zm7 1zm-25 13zm14-2zm1-4zm2 0zm6 3zm1 1zm-21 17zm1-1zm2-7zm0 2zm8 7zm0-7zm6-3zm5 5zm-51 8zm8 4zm5-3zm9 7zm2-3zm1-2zm0 1zm3 2zm10-7zm5 10z"/><path stroke="#e40000" d="M620 619zm1 1z"/><path stroke="#ff8600" d="M632 615zm1 7zm8-5zm-26 11zm1 5zm5 1zm4-6zm3-1zm3 1zm3 0zm5-4zm7 7zm-11 5zm0 4zm47 27z"/><path stroke="#0000e3" d="M634 559zm3-1zm2 4zm32-1zm-44 10zm20 3zm7-5zm1 0zm0 0zm17-4zm10 5zm2-1zm-49 12zm2 3zm6-2zm5 5zm0-6zm1 1zm1-3zm3 0zm1-1zm2 0zm9 5zm1-1zm5 2zm4-5zm1-3zm-39 16zm1 6zm0-3zm10-2zm3 3zm5-4zm10 7zm2-2zm5 2zm-9 1zm-16 80zm4 2zm5-1zm-23 9zm5-4zm15 1zm56 0z"/><path stroke="#50ffa7" d="M647 610zm1 12zm4-9zm1-1zm7 6zm5 5zm0 2zm5-1zm-15 16zm10 3zm0-2zm-8 7zm1 2zm6-2zm10 11zm-50 8zm4-5zm11 0zm8 9zm4-8zm18 3zm5 2zm29-1zm-62 5z"/><path stroke="#a7ff50" d="M627 611zm7-1zm8 4zm7 6zm4 2zm-7 7zm10-2zm1 6zm1-8zm0 6zm6-3zm1 1zm-19 16zm7-4zm6 3zm9-7zm1 6zm6 1zm-50 11zm4-6zm5 6zm5-7zm1 9zm4-7zm2 1zm3 4zm-18 8zm13 0zm4-2zm3-1z"/><path stroke="#0091ff" d="M625 602zm7 3zm5-2zm7 2zm3-1zm4-3zm13 6zm4-5zm1 9zm13-7zm-8 18zm-52 61zm1-9zm2 9zm7-4zm9-5zm1 1zm2 7zm10-4zm1 4zm11-10zm2 7zm10-2zm1 3z"/><path stroke="#0049ff" d="M641 565zm23 20zm-19 12zm24-6zm15 5zm2-1zm6-4zm0 0zm-48 9zm8 3zm0-1zm1-2zm5 1zm8 8zm5-5zm6 0zm-12 66zm-12 13zm0 0zm5 0zm12-3zm2-2zm-13 7zm-23 13z"/><path stroke="#006dff" d="M637 582zm75-3zm-52 13zm-23 9zm9 2zm4 5zm9-4zm2-3zm11 6zm3-1zm6 0zm5 1zm-13 57zm40 3zm-74 8zm4 0zm13 5zm7-6zm-21 17z"/><path stroke="#00b5ff" d="M629 606zm18-3zm5 2zm9 1zm23 5zm-23 2zm8 10zm2 31zm-45 17zm3-1zm49-4zm-44 14zm3-4zm14-3zm6-1zm1 5zm2-2zm-27 10z"/><path stroke="#33ffc4" d="M631 605zm26 6zm-7 1zm3 2zm5 4zm7 2zm-1 5zm5 5zm2-3zm-4 20zm-11 10zm13-1zm-32 15zm5-1zm0-6zm19 5zm0-2zm1-6zm6 4zm2 5zm3-9zm-39 11zm1 3zm8-1zm19-1zm1-1z"/><path stroke="#8aff6d" d="M654 620zm13 13zm5-7zm6 4zm-36 17zm10-8zm10 6zm1 0zm-15 14zm3-8zm1 3zm3 3zm2-2zm4-6zm3 4zm-34 10zm4 0zm3 4zm10-3zm15-2zm2 5z"/><path stroke="#ffea00" d="M636 610zm3 13zm-9 12zm3-7zm9 4zm-21 6zm7-1zm0 10zm9-6zm4-1zm2-1zm6 1zm45-3zm-53 15zm5 2zm65 22zm-24 15z"/><path stroke="#e4ff13" d="M643 622zm4-9zm3 9zm-15 4zm7 7zm14-7zm-25 16zm10-1zm6-2zm0 8zm1-6zm-24 9zm2-1zm1 0zm5 1zm0-1zm-5 14zm35-1z"/><path stroke="#ffc800" d="M637 612zm0 6zm6 1zm-10 12zm3 4zm3-11zm4 8zm-18 6zm2 4zm3-5zm2 0zm49 30zm14 5z"/><path stroke="#0024ff" d="M653 549zm-7 11zm7 0zm18 3zm-32 10zm3-9zm12 7zm37 3zm-49 13zm20-9zm6 1zm31 3zm14 1zm-83 14zm7-6zm5-2zm3 5zm0-6zm2 10zm7-1zm3 2zm9-3zm1 1zm9-9zm1 5zm4 5zm26-8zm13-1zm-88 13zm11 3zm23-2zm2 0zm2-2zm5-1zm8 0zm-52 81zm14 1zm12 0zm2-2zm-31 8zm4 2zm3-2zm7 0zm18 3zm30-7zm-48 13z"/><path stroke="#ff1e00" d="M621 619zm2-1zm-7 13zm74 20zm-4 15zm12 17z"/><path stroke="#000092" d="M639 543zm19-1zm15 6zm-31 8zm1 3zm3-2zm7 1zm0-4zm1 2zm4-3zm0 10zm2-2zm7 1zm7-2zm0-7zm4 7zm2 2zm-46 6zm4 0zm4 6zm0-4zm2-5zm1 8zm6-9zm0 3zm1 8zm3-5zm2 0zm1-6zm3 9zm6-8zm2 2zm3-2zm4-1zm4 2zm0-2zm2 10zm1-4zm2-4zm1 0zm2 8zm2-10zm6 4zm-55 14zm1-4zm4-2zm4 10zm17-6zm5-3zm14 9zm3-8zm-51 16zm8-5zm7 4zm4 5zm8-8zm25 2zm11-4zm-30 102zm1-2z"/><path stroke="#16ffe1" d="M638 607zm4 1zm28 2zm0 14zm7 6zm-15 7zm8 3zm6 7zm-13 8zm5-2zm5 5zm9-5zm7-1zm-63 16zm20-1zm9 4zm1-8zm14 6zm3 2zm-11 6zm2 4zm3-8zm8-1z"/><path stroke="#ff4300" d="M620 618zm6 2zm11 0zm-8 10zm3-6zm-11 15zm5 0zm0 0zm60 15zm-2 25z"/></g></g><text x="340.1" y="261.1" font-size="12.0" fill="#303030" text-anchor="middle">LL</text><rect x="430.3" y="268.0" width="84.0" height="83.5" fill="#fdfde9"/><path d="M426.8 330.7H514.3M426.8 305.1H514.3M426.8 279.4H514.3M453.3 268.0V355.0M491.8 268.0V355.0" stroke="#ece6c8" stroke-width="0.9" fill="none"/><text x="453.3" y="362.5" font-size="8.8" fill="#4f5d64" text-anchor="middle">0</text><text x="491.8" y="362.5" font-size="8.8" fill="#4f5d64" text-anchor="middle">5</text><g clip-path="url(#cB03)"><g transform="scale(.5)" fill="none" stroke-width="4.48" stroke-linecap="round"><path stroke="#ff1e00" d="M937 562zm11-3zm-43 6zm16 4zm24 2zm-52 15zm2-10zm13 8zm1-1zm3 0zm5 4zm1-2zm2-2zm6 2zm2-2zm1 3zm4-4zm3 0zm1 5zm8-6zm-50 7zm1 0zm21 0zm16 1z"/><path stroke="#00d9ff" d="M890 609zm0 0zm16 3zm1 3zm5 1zm0 4zm1-6zm2 2zm1 3zm1-7zm3 6zm12 3zm-9 7z"/><path stroke="#ff8600" d="M949 585zm-64 7zm8 1zm6-4zm17-1zm0 5zm9 0zm7-3zm5 4zm5-1zm5-3z"/><path stroke="#0049ff" d="M896 617zm2 5zm0 0zm3-7zm1 7zm3 2zm6 6zm2-2zm-11 19zm15-4zm3 0zm0-5zm4 5zm1-6zm16 2zm14 4zm-61 5zm30 8zm-9 14zm1-8zm6 6zm2-7z"/><path stroke="#e40000" d="M902 554zm4 7zm14-6zm13 4zm8-4zm2 1zm-48 18zm14-3zm0-2zm10 1zm3 5zm7-1zm14-7zm7 1zm-59 8zm0 8zm4-3zm1 6zm4-9zm3 1zm0 8zm6-5zm13 3zm2-6zm5-1zm7 1z"/><path stroke="#33ffc4" d="M875 602zm18 2zm4 2zm13 4zm7 5zm3 7zm5 0z"/><path stroke="#bb0000" d="M908 551zm8-3zm-18 6zm0 0zm7 3zm1 6zm13-8zm2 7zm5 0zm2-2zm1 2zm10-9zm0 4zm-47 17zm0-10zm5 0zm7 2zm1 1zm14 6zm3-8zm2 5zm0 1zm4-4zm0-1zm6 0zm1 4zm2-3zm-53 16zm2-7zm10 3zm9 3zm3-4zm4 2zm2 6zm1-6zm2-3zm0 1zm1 0zm7 0zm1 7zm3-4z"/><path stroke="#e4ff13" d="M883 597zm3 2zm4-1zm10 1zm11-5zm8 4zm-17 6zm14 2zm14-4zm1 1zm9 1z"/><path stroke="#ff6400" d="M942 575zm-43 10zm28-1zm9 2zm1-2zm13-5zm3 5zm10-8zm-65 13zm1 0zm13 2zm6 2zm1-3zm2 3zm7-3zm1 4zm3-6zm0 0zm5 7zm2 1z"/><path stroke="#ffa700" d="M893 587zm-1 7zm0 1zm22-1zm2-2zm4 6zm8-4zm3 2zm23-1zm-35 7z"/><path stroke="#0001ff" d="M878 618zm12-1zm1 1zm3 2zm-8 10zm5 3zm3-6zm4-3zm1 2zm4 3zm3 6zm-18 9zm9-7zm6 4zm10-2zm-15 13zm6-4zm4 3zm1-3zm2 1zm6 6zm4 0zm1 4zm1-1zm7-3zm21 4zm0 0zm-43 3zm2 7zm10-5zm4 6zm2-3zm20-3zm-60 9zm25 9zm1-1zm0-4zm3-2zm5 6zm4-7zm1 4zm2-5zm2 2zm-18 18zm2-9zm8 2zm6-1zm4 4zm-47 11z"/><path stroke="#6dff8a" d="M895 605zm6-2zm2 5zm14 4z"/><path stroke="#ff4300" d="M955 551zm-1 14zm14-1zm9 1zm-81 17zm8 4zm2 1zm12-9zm13-2zm2 11zm4-10zm3 5zm8-5zm-63 13zm3-2zm5 0zm3 1zm0-1zm25 4zm9 0zm2-1zm4-3zm10 3z"/><path stroke="#006dff" d="M903 617zm5 5zm1-2zm1-1zm-10 11zm18-6zm4 10zm-9 2zm13 22zm5-7z"/><path stroke="#16ffe1" d="M879 604zm4 3zm0-1zm17 4zm6-2zm6 7zm2-3zm0 6zm8-1zm1-3zm0 4zm2 3zm1-7zm-4 14zm3 3zm7-1z"/><path stroke="#0000bb" d="M873 619zm7 4zm2-3zm3 2zm3 0zm3-4zm-14 15zm4-5zm3 2zm11-6zm1 3zm1 8zm-17 4zm8 0zm1 1zm0-3zm1 3zm1-2zm14 4zm12-5zm-26 15zm3 5zm6 0zm6-5zm6 2zm6 4zm-41 3zm7 0zm2 6zm1 3zm0-7zm4-3zm3 2zm2 6zm1 0zm1-2zm0-2zm4-3zm6 0zm2 10zm7-9zm2 0zm6 7zm1-7zm16 4zm46-5zm-102 15zm15-2zm6 9zm2-1zm2-5zm47 6zm8-7zm6 5zm16 1zm-108 7zm2-1zm7-1zm7 4zm5-7zm0 2zm2-1zm5 4zm5-1zm3-1zm4 1zm5-2zm1 4zm6 0zm-50 6zm14 1z"/><path stroke="#0024ff" d="M891 620zm12-2zm-19 8zm11-2zm1 2zm5 3zm1 0zm2-4zm2 5zm5 2zm1-5zm-28 14zm8 0zm28 2zm10 2zm-18 9zm4 5zm0 0zm3-6zm1-3zm8 8zm2-5zm13-1zm11-4zm-36 16zm1 7zm4-6zm3 6zm4-1zm38-9zm-61 22zm5-11zm4 11zm6-9zm2 9zm8-1zm1-4z"/><path stroke="#00b5ff" d="M878 605zm8 3zm1 0zm1 1zm2 1zm12 0zm4 3zm11 7zm4 2zm6-3zm1 4zm-4 4zm1-3zm3 13z"/><path stroke="#0000e3" d="M877 608zm-1 15zm1-2zm16 0zm-13 8zm3-4zm6 1zm10 3zm10 6zm-31 9zm1-4zm2 6zm1-9zm1 0zm5 0zm0 1zm7 1zm1 4zm0-6zm0 10zm0-10zm0 3zm1 4zm11-6zm2 2zm6 5zm-37 6zm3 8zm3-4zm3 2zm1-8zm1 0zm1 2zm3 0zm2-3zm5 3zm2 5zm0 3zm4-5zm3 2zm1 0zm1-8zm5 3zm12 8zm-40 1zm0 2zm1 5zm1 4zm12 0zm20-4zm-34 5zm7 6zm2-3zm8-2zm3 9zm1-8zm0 1zm3 2zm2 0zm0 5zm2-6zm1 1zm3-5zm1 5zm0-2zm13 7zm-47 8zm7-1zm13-1zm3 0zm3-4zm1 4zm13-3zm8 0zm6 1z"/><path stroke="#920000" d="M906 548zm8 1zm5 0zm8-1zm-44 15zm5-9zm5 8zm4-5zm0 4zm4-1zm0-3zm5 5zm2-4zm1 3zm1-7zm3 0zm0 9zm2-9zm7 2zm1 2zm0 1zm2 2zm4-5zm0 4zm1-8zm-34 13zm0 9zm9-10zm5 8zm0 0zm0-3zm4 6zm2-2zm0-4zm1-3zm4 9zm0-4zm0-5zm3 1zm7 2zm-30 9zm2 6zm6-3zm13-1zm2 3z"/><path stroke="#50ffa7" d="M880 602zm5 3zm35 3zm10 3zm-8 7zm4-6zm4 0z"/><path stroke="#c4ff33" d="M972 564zm-76 34zm1 2zm9 2zm9 3zm1-4zm9 4zm12 4zm15-7z"/><path stroke="#0091ff" d="M888 610zm18 4zm3 8zm2-2zm23 2zm-28 5zm4-3zm21 9zm4-6zm-13 10zm3 3zm15 7zm-22 1z"/><path stroke="#000092" d="M884 620zm-9 19zm4-1zm1-2zm2 11zm2 0zm6-4zm0-1zm2-6zm4 8zm1-1zm1-4zm0 8zm5 0zm-32 5zm9 3zm7-5zm4 5zm1-6zm4 0zm0 3zm7 5zm2-6zm-39 14zm15 6zm2-4zm0-2zm0 1zm1-3zm2 5zm3 1zm4 2zm5-3zm0-5zm14 6zm0-3zm-35 17zm0-5zm2 5zm7-6zm2 3zm1-8zm0 4zm1 4zm3-6zm2 8zm0-2zm0 0zm3-8zm0 2zm-19 12zm0-1zm4 0zm2 8zm3-8zm0 6zm1-2zm1 2zm3-5zm1 1zm10 3zm1-1zm1 2zm0-6zm2 2zm3 9z"/><path stroke="#ffea00" d="M970 565zm-78 28zm29 6zm13-5zm14-1zm-42 9zm6-2zm0 2zm8 1zm3 0zm8-1z"/><path stroke="#a7ff50" d="M961 576zm-53 28zm6 2zm6 3zm0-9zm1 6zm1 0zm6 1zm13 0z"/><path stroke="#ffc800" d="M960 569zm11-4zm-90 32zm4 0zm12-2zm5 3zm4-2zm0-5zm2 6zm16 1zm4-5zm5 5zm3 0zm9-10zm-34 12z"/><path stroke="#8aff6d" d="M881 604zm14-1zm1 0zm12 2zm8 0z"/><path stroke="#50ffa7" d="M905 609zm2-4zm4 4zm2-1zm9 8zm9-4z"/><path stroke="#00b5ff" d="M899 615zm1-3zm18 19zm3-2zm0 4zm0-9zm10 6z"/><path stroke="#8aff6d" d="M895 604zm4-2zm7 0zm3 3zm7 1zm2 0zm6 5zm1-8zm0 7zm14 1zm-18 3z"/><path stroke="#ff4300" d="M914 569zm23 4zm0-3zm6 4zm1-10zm-59 23zm6 0zm6 0zm4-11zm3 11zm1-2zm23 0zm8-5zm12-4zm-60 13zm14 3zm5-4zm5 1zm3 3zm4-3zm1 1z"/><path stroke="#0049ff" d="M876 623zm2-8zm10 1zm2-4zm10 5zm1 3zm0 0zm1-2zm0-5zm8 16zm0 4zm1-7zm7 8zm11-5zm-22 16zm5-8zm8 0zm1 7zm2 2zm1-6zm5 0zm-25 15zm15-2zm1 3zm5-8zm4 11zm0 0zm0-1zm2-1zm5-4zm5 1zm4-3zm-41 13zm15 6zm7-2zm1-1zm5-2zm-15 9z"/><path stroke="#6dff8a" d="M886 603zm32 5zm11 2z"/><path stroke="#0000e3" d="M878 614zm0-1zm6 8zm0-5zm1 1zm2 0zm-11 11zm5-4zm2 1zm0 8zm2-8zm2 3zm4 4zm5 3zm4-4zm3-3zm2 6zm-23 8zm7-6zm4 7zm2-3zm1 1zm1 6zm2-9zm0 9zm4-10zm2 7zm6 0zm-34 13zm12-2zm0-6zm0-1zm1 10zm0-4zm2 3zm1-8zm9 1zm6 9zm3-3zm3 1zm1 2zm0-10zm-30 14zm8 7zm11-3zm1-1zm3 1zm3-4zm3 6zm3-6zm0 8zm5-6zm3 4zm2-1zm1 0zm5-2zm-55 17zm12-11zm6 2zm3-2zm7 10zm16-3zm1 0zm5 0zm5-2zm1 3zm13-7zm-64 15zm3 0zm4-2zm2-2zm5 4zm15-3zm1 0zm16 4zm5-1zm1 2zm5-6zm5 0z"/><path stroke="#a7ff50" d="M953 597zm-54 8zm2-2zm6 2zm0-1zm6 0zm9 4zm5-1zm3-1zm3-3z"/><path stroke="#ff8600" d="M965 570zm4-6zm-35 23zm7-3zm11 3zm-57 5zm7 0zm6 1zm13 4z"/><path stroke="#ff6400" d="M939 565zm0 1zm12 9zm-43 9zm22 1zm6 1zm6-7zm-54 10zm14 5zm15-6zm7 3zm22 0zm3 0zm17 2z"/><path stroke="#0001ff" d="M869 623zm9-2zm4-5zm3 4zm1 3zm5-3zm1 1zm1-9zm0 7zm3 1zm6-2zm-14 13zm2-1zm3 4zm5-2zm9-3zm3 5zm8 1zm-27 11zm4-2zm4-1zm2-4zm0 0zm5 5zm8-6zm4 7zm-38 10zm3-6zm5 7zm13-3zm0 6zm7-5zm1 3zm2-8zm1 1zm4 0zm2 1zm-33 12zm7 4zm9-4zm2 2zm6-3zm5 2zm7 7zm1 0zm18-5zm2-5zm1 4zm-28 11zm2 1zm0-1zm1-4zm1 5zm1-5zm3 2zm3-2zm5 1zm8 6zm6-2zm5-5zm3 11zm-55 1zm10 5zm13-4z"/><path stroke="#ffa700" d="M963 586zm-78 5zm17 2zm1 1zm3 1zm5 4zm4-9zm9 6zm8-3zm4 6zm30-11z"/><path stroke="#c4ff33" d="M892 595zm3 6zm3 5zm3-5zm0-1zm11 1zm1 4zm4-2zm8 1zm1 4zm6-8z"/><path stroke="#000092" d="M879 619zm8-4zm-15 17zm1-6zm3 8zm3-7zm11 7zm6-1zm7 2zm-32 5zm3 5zm3-9zm9 8zm9-5zm6 4zm-25 11zm10-3zm1 3zm10 3zm0-3zm1 3zm3 2zm3-3zm1 3zm4-7zm-29 16zm2 3zm2-8zm0 7zm6-4zm4-4zm13 2zm2-3zm-27 12zm2 2zm1 5zm3-8zm2 9zm7-7zm2 2zm0 6zm0-7zm1-1zm1 8zm1-9zm0 6zm0 3zm2-2zm6 2zm0-2zm2 3zm-16 1zm1 7zm11 3zm7-3zm1-7zm0 1zm1 4zm-26 9zm40 0z"/><path stroke="#33ffc4" d="M883 604zm9 3zm0 3zm10-2zm0-1zm8 2zm13 8zm1 5zm0-5zm1-5zm0 5zm1 5z"/><path stroke="#ffea00" d="M892 598zm8 0zm2 0zm60-8zm-53 11zm4 1zm9-1zm15 3z"/><path stroke="#920000" d="M892 545zm15 4zm24-4zm4 4zm-47 10zm6 1zm0-4zm3 4zm0-4zm3 3zm6 0zm0 2zm6-8zm1 1zm0 6zm1-1zm1-4zm2-3zm1 6zm0-4zm0 8zm3-3zm1-5zm5 5zm2-6zm3 1zm-51 17zm8-3zm2-1zm1-1zm1 2zm0 6zm1-1zm1 0zm0-2zm4-6zm2 2zm2 2zm1-1zm3 6zm2-1zm1-3zm1-5zm2-1zm0 1zm2 8zm5-5zm0 4zm1-6zm3 1zm2-2zm-34 17zm6 2zm5-7zm0 5zm1-2zm17 2zm1 0zm5-3zm6 0zm-11 9z"/><path stroke="#0000bb" d="M876 621zm6-8zm4 15zm0-4zm3 0zm4 3zm4 8zm3-2zm1-1zm1 1zm3 0zm-19 10zm3-3zm0 4zm3 3zm1-1zm2-6zm5-3zm5 8zm3-4zm-36 10zm7 4zm2-6zm4 8zm2-5zm2 3zm5-7zm0 9zm4-8zm3 4zm1 6zm8 0zm-31 5zm1-2zm1-2zm1 3zm0-1zm7 5zm1 0zm2-5zm1 3zm0 0zm4-2zm5 8zm1-5zm2-6zm4 8zm2-7zm0-1zm8 3zm18 2zm0 4zm20-2zm7-4zm-79 19zm7-6zm1-1zm5 4zm2 3zm3-8zm8 5zm1 1zm0 2zm2-8zm6 5zm12-2zm26 0zm46-5zm-132 18zm4 1zm7-1zm3 2zm4-4zm19-2zm1 0zm1 0zm4 4zm33-3zm17 0z"/><path stroke="#16ffe1" d="M899 611zm2-2zm5 2zm9 0zm11 9zm2 2zm5-7z"/><path stroke="#ffc800" d="M957 559zm64 2zm-62 3zm0 15zm-70 17zm3 1zm2-2zm1-1zm5 0zm1 3zm1-4zm19 4zm1 0zm4 2zm0-3zm1 2zm1-6z"/><path stroke="#bb0000" d="M894 543zm45 4zm3 3zm-43 5zm8-1zm5 6zm1 0zm1 1zm6-2zm17-4zm1 1zm2-2zm-46 20zm8-4zm3-5zm3 1zm1 4zm2 5zm1-2zm1-6zm5 3zm0-4zm8-2zm3 8zm1 0zm4-7zm1 3zm0 5zm13-3zm-61 9zm2 2zm3-2zm3-2zm6-1zm4 5zm1 1zm2-6zm2 9zm1-7zm0 4zm0 2zm3-7zm3-1zm1 0zm4 7zm0-1zm2-1zm0-2z"/><path stroke="#00d9ff" d="M905 613zm5 4zm4 1zm9-2zm1-1zm1 0zm-6 13zm0-4zm5 6z"/><path stroke="#006dff" d="M891 613zm7 6zm9-3zm1 6zm0-5zm3 6zm3-1zm4 2zm8 3zm1 6zm1 2zm-10 1zm1 4zm4-2zm1-2zm5 11zm5-4zm-18 8zm5 7z"/><path stroke="#e4ff13" d="M962 584zm-71 12zm0 1zm0 1zm3 1zm3-1zm1 0zm10 0zm19 1zm-22 2zm3-1zm10 0zm2 2zm11 4z"/><path stroke="#e40000" d="M936 557zm10 4zm5-9zm-58 23zm18-10zm9 9zm0-6zm12 2zm0 1zm0 0zm2 3zm0-8zm1 8zm0-10zm4 10zm0-5zm4 0zm2-5zm-40 22zm1-5zm2 3zm0-5zm9 2zm2 0zm7 3zm3-5zm2-3zm2 7zm3 0zm9-7zm-24 14z"/><path stroke="#0091ff" d="M886 610zm1-3zm16 3zm-14 2zm3 0zm13 1zm4 1zm2 8zm2-1zm1-1zm5 0zm-9 7zm4-2zm5 2zm1 8zm4 12z"/><path stroke="#ff1e00" d="M907 560zm28 2zm3-1zm-42 11zm11 3zm29-3zm2-4zm7-4zm0 2zm3-2zm7 3zm-50 19zm9-3zm1-4zm4 4zm6 2zm1-8zm1 0zm1 6zm1 2zm5-3zm4-5zm6 0zm-31 11z"/><path stroke="#0024ff" d="M893 617zm2 6zm10-1zm-27 11zm22-6zm8 6zm0-5zm1 7zm0-4zm3 2zm2 1zm5-1zm-7 13zm1-4zm6-1zm4 0zm-45 9zm27 1zm1-1zm8 0zm1 6zm1-8zm1 7zm6-3zm1 2zm1 5zm2-5zm2-3zm-22 17zm8-2zm3 2zm4 2zm0-5zm6-1zm0-1zm11-2zm3 1zm-30 11zm9 2zm6 2zm-26 17zm12-6zm9-4z"/><path stroke="#0049ff" d="M881 615zm10 2zm8 3zm2-6zm6 8zm2-2zm3-2zm1 28zm6-10zm4 5zm17-3zm-51 15zm32-3zm3 2zm1 2zm6-3zm-11 14zm8-3zm0-1zm8 6zm-11 13z"/><path stroke="#00b5ff" d="M896 611zm4 2zm13 3zm3 2zm2-4zm6 3zm7 5zm-19 4zm1 1zm9 1zm4 3zm2 3z"/><path stroke="#33ffc4" d="M889 607zm8 2zm0-2zm11 1zm16 14zm0-7z"/><path stroke="#ff8600" d="M929 584zm17 1zm6-7zm1 0zm0 4zm14-3zm4-3zm-80 15zm7 1zm1-4zm2 1zm7 1zm4 5zm7 4zm12-6z"/><path stroke="#ff6400" d="M969 560zm-77 28zm2 2zm6-1zm2 1zm3-1zm5 5zm3-5zm7 5zm2-4zm0 0zm1 9zm12-11zm3 0zm3 6zm15-6z"/><path stroke="#ffea00" d="M889 596zm6 3zm5-3zm1 1zm7 2zm6-2zm40 1zm-60 2zm4 1zm28 2z"/><path stroke="#16ffe1" d="M884 604zm13 4zm35 3zm-28 1zm1 5zm15 6zm5-2zm0 2zm0-5zm6 1zm6-3zm-17 9zm5-1zm1 2z"/><path stroke="#e4ff13" d="M888 599zm2-3zm2 3zm1-3zm4 2zm3-4zm3 9zm1-1zm9 2zm11-2zm6 3z"/><path stroke="#ffc800" d="M956 560zm-63 34zm20 3zm20-5zm3 7zm6-2z"/><path stroke="#e40000" d="M927 549zm-15 4zm0 9zm17-7zm8 6zm2 0zm7 2zm-50 7zm3 3zm10-3zm1-1zm4 0zm8-2zm3 7zm4-5zm2-5zm3 10zm2-4zm4 5zm2-2zm-49 12zm2-2zm15-1zm12-1zm0 1zm1 0zm1-4zm0 9zm7-9zm2 2zm-3 14z"/><path stroke="#8aff6d" d="M970 581zm-78 22zm0-2zm22 5zm13 3zm3 1zm5-4zm0 0zm2 3zm-14 3zm6 1z"/><path stroke="#006dff" d="M879 608zm9 5zm15 2zm1 5zm4 1zm1-3zm1 1zm3-2zm3 5zm-3 3zm1 3zm1-4zm2 5zm4 2zm3 2zm-1 6zm2 1zm-6 9zm6 3zm4 1zm21-1z"/><path stroke="#0001ff" d="M871 616zm4-4zm0 6zm1 2zm0-8zm10 2zm1 1zm4-1zm1 6zm6-3zm-12 11zm6-4zm2 0zm6 3zm2 0zm-26 14zm7-4zm1 2zm19 7zm1-6zm1-4zm5 7zm6 2zm0 0zm-18 11zm1-4zm1 2zm7 0zm2 4zm0-6zm2-4zm1 2zm3 4zm8 2zm5 2zm-18 7zm5 4zm8 0zm0-7zm0 8zm0-10zm1 3zm4 0zm-37 16zm11 2zm11-8zm1 7zm4 1zm4-5zm2-3zm-18 11zm9 0zm1 2zm3 0zm2 2zm1-2zm7 4z"/><path stroke="#ff1e00" d="M935 551zm15 5zm-31 10zm14 2zm8-2zm3 3zm2-2zm-57 16zm6 0zm3-1zm0 4zm5-4zm0 5zm13-2zm4 1zm2-7zm9 1zm10 1zm0-1zm3-3zm5 1zm-19 10zm3 5zm23-5z"/><path stroke="#920000" d="M886 547zm29 1zm20-4zm-42 17zm1-8zm2 4zm2-3zm5 7zm2-4zm4 3zm0-4zm2 6zm3-1zm1 2zm2 0zm5-1zm10-8zm1 9zm6-2zm-50 10zm2-6zm4-1zm5 9zm3-6zm0 6zm2-8zm2 9zm0-3zm0-7zm7 2zm3 7zm1-1zm1-2zm2-6zm2 9zm2-7zm0 9zm2-10zm6 0zm2 1zm-31 10zm6 2zm17 2zm1-4z"/><path stroke="#0000bb" d="M878 617zm7 4zm5 0zm0 0zm3 2zm91-7zm-107 17zm4-7zm3 9zm1-2zm0 2zm1-6zm2 0zm0 2zm-8 14zm1-6zm2 1zm0 7zm3-6zm3-1zm0-2zm5 1zm4 0zm13 7zm8 1zm-38 4zm11 5zm1-3zm0-5zm3 4zm1 2zm1 2zm-24 15zm7-8zm3-1zm4 0zm2 5zm8 1zm2 1zm0 1zm1-3zm15-7zm1 11zm2 0zm9 0zm5-5zm43 2zm23-7zm-117 16zm3-3zm9 1zm1-3zm2 5zm13-4zm0 9zm1-1zm3 1zm4-4zm-33 6zm7 3zm16-3zm0 2zm1-1zm4 3zm13 2zm7 0zm2-6zm6 7zm47 1z"/><path stroke="#0091ff" d="M888 608zm7 4zm11 7zm0-2zm2-3zm5 4zm7 1zm-5 13zm13 12z"/><path stroke="#ffa700" d="M974 562zm-5 3zm-42 22zm14-1zm43-1zm-92 7zm1 5zm12-5zm5 2zm1 4zm0-6zm9 5zm21-2zm4-3zm9 2zm20-5z"/><path stroke="#50ffa7" d="M891 607zm5 1zm9 0zm2 2zm4 1zm5 2zm10 2z"/><path stroke="#a7ff50" d="M885 599zm14 3zm3 2zm2 2zm4-5zm9 4zm5 1zm16 5zm-13 1z"/><path stroke="#bb0000" d="M915 557zm19 2zm4-5zm3 1zm0 3zm-48 7zm3 5zm1 4zm15-7zm2-1zm10 2zm0 2zm1 0zm7-5zm9 3zm-50 13zm2 1zm12 1zm4-1zm2-4zm9 2zm1 1zm2-5zm3 11zm0-10zm16 2z"/><path stroke="#0000e3" d="M868 618zm6 1zm2-3zm12 4zm1 3zm1-1zm-10 5zm1-1zm1 3zm3-5zm6 8zm1-6zm1 2zm1-4zm5 11zm-22 1zm1 6zm2-2zm3 7zm3-10zm6 7zm2-3zm2 6zm2-3zm2-4zm2 5zm5-4zm1 0zm1 2zm4 1zm0-4zm-32 16zm5-5zm3 0zm5-1zm4 0zm7 5zm1 1zm2-5zm0 5zm9-3zm4-4zm-33 14zm0 8zm5 0zm6-9zm2 9zm3-9zm3 4zm3 5zm3-10zm12 7zm1 1zm4-7zm-52 12zm13 8zm7-10zm6 11zm2-11zm6 7zm2-6zm1 8zm6-8zm1 0zm4-1zm0 6zm5-4zm17 5zm15-5zm5 2zm-78 12zm31 1zm2-2zm2 2zm2-3z"/><path stroke="#000092" d="M868 620zm8-1zm11 3zm-16 11zm9-1zm3-5zm7 2zm10 6zm-27 3zm7 1zm1 0zm2 6zm4 0zm0-8zm1 10zm1-10zm7 7zm-14 12zm1-2zm1-3zm3-1zm6 7zm1-4zm1 3zm1-1zm10 0zm-25 14zm1 1zm2-4zm2-1zm1-5zm1 7zm1-4zm8 7zm1-9zm1 8zm2-7zm2 4zm0 5zm3-6zm-25 11zm0 5zm2 2zm2-7zm2 3zm1 4zm5-10zm0 4zm1-5zm1 0zm2 10zm1-9zm12 1zm1 7zm-29 8zm2 0zm0 1zm11-1zm8 6zm0-9zm6 3zm6-1zm16-3z"/><path stroke="#c4ff33" d="M886 599zm13-2zm-10 3zm5 2zm8 0zm0 1zm5 0zm4 3zm9-2z"/><path stroke="#00d9ff" d="M879 604zm5 2zm6 2zm2 3zm3-2zm10 3zm6 1zm4 1zm3 2zm3 11zm4 2zm9-3zm3 3z"/><path stroke="#6dff8a" d="M901 607zm9-2zm7 4zm7-3zm16 2zm-19 4z"/><path stroke="#ff4300" d="M912 572zm30 3zm2-4zm2 4zm1-2zm0-4zm-58 13zm8 4zm7 0zm1-5zm7 5zm5-2zm0-1zm-15 6zm3-1zm1 3zm12-3zm8 6zm12-6zm3 0zm1 1zm3 0z"/><path stroke="#0024ff" d="M868 611zm12 0zm12 5zm1 1zm1 6zm-2 6zm6 3zm4 2zm5-9zm-18 11zm18 3zm5 7zm0 0zm3-8zm0 0zm0 2zm3 5zm6-2zm-11 14zm3-7zm6 3zm2 4zm26-1zm-47 12zm8-6zm7 5zm3 3zm3-3zm12 0zm31 0zm-45 8zm4 3zm3-6zm4 4zm-6 12zm5 3z"/><path stroke="#920000" d="M908 548zm1 2zm1-2zm2-6zm1 8zm8 1zm1 0zm15-4zm-45 11zm1 3zm4-2zm6-5zm4 4zm1-1zm1-2zm1 5zm0-5zm3 8zm1-11zm0 7zm0 4zm2-11zm1 9zm2-9zm2 1zm3 7zm1 2zm3-9zm0 10zm4-7zm2-2zm5 6zm1-4zm-50 8zm2 1zm3 0zm1 2zm2-1zm1 5zm0-6zm2 0zm2 3zm1 1zm1-3zm4 0zm1 3zm2 1zm3 3zm0-7zm2 0zm0 5zm1-2zm3 6zm0-3zm1-3zm-27 7zm7 5zm1-4zm2 2zm12-2zm6 5zm0-5zm3 0zm0 1z"/><path stroke="#6dff8a" d="M911 608zm11 2zm9 6z"/><path stroke="#0024ff" d="M875 620zm5 0zm3-7zm5 8zm3 0zm1 0zm0-4zm8-3zm2 11zm6 1zm0 6zm6 3zm5-2zm-33 9zm18-5zm7 5zm6 2zm9 2zm3 1zm-36 11zm30-2zm6-2zm4-4zm27 4zm-52 12zm0-3zm24 0zm1-2zm-32 13zm16-2zm-31 18zm30 0zm4-6zm28 4z"/><path stroke="#e4ff13" d="M899 597zm8 1zm2 0zm51 0zm-49 7zm9-5zm3 2zm2-1zm10 8z"/><path stroke="#33ffc4" d="M886 603zm0 2zm22 7zm8 1zm10 8zm3 4zm5-1z"/><path stroke="#000092" d="M879 616zm-9 12zm6-1zm0 7zm1-1zm2 0zm8-6zm1 1zm1 6zm3-1zm-16 5zm4 9zm1-7zm1-2zm0 1zm0-2zm4 6zm1-6zm4 2zm0 0zm3 0zm1 5zm11 0zm-29 9zm3 4zm3-8zm1 4zm0 0zm6 5zm1 1zm14-3zm0-5zm2 6zm7-1zm7-4zm-42 15zm0-6zm7 2zm1 7zm9-5zm0-1zm8-1zm1 3zm8 0zm-34 8zm8-2zm10 11zm0-8zm5 1zm2 6zm5-2zm0-2zm11 0zm20 0zm-52 9zm6 0zm2 5zm0 0zm3 3zm10-9z"/><path stroke="#00b5ff" d="M923 623zm-1 2zm3 2z"/><path stroke="#c4ff33" d="M894 596zm5 4zm32 4z"/><path stroke="#006dff" d="M873 604zm4 2zm5 5zm10 3zm5 0zm10 8zm4 1zm-1 3zm3 6zm1-4zm2-4zm3 4zm1 5zm6-1zm-9 10zm9-2zm1-1zm8 3zm-15 13zm2-1zm1 2zm7-2zm2 5zm-11 3zm8 13z"/><path stroke="#bb0000" d="M916 541zm15 9zm-37 6zm1 4zm5 0zm0 1zm2-3zm10 5zm7-5zm6 5zm0-8zm2-3zm6 8zm0 3zm-35 12zm9-2zm3-8zm2 4zm2 4zm1-6zm1 7zm5-9zm4 3zm0-4zm2 6zm0 5zm1-1zm8-2zm-43 12zm4-6zm7 0zm19 4zm0-3zm4 0zm3 4zm2-5zm2 3zm3 2z"/><path stroke="#a7ff50" d="M958 580zm-71 22zm8 4zm3-1zm8-5zm2 0zm16 3zm1 4z"/><path stroke="#ffc800" d="M957 558zm17 0zm1 3zm-17 17zm-60 19zm6 1zm9-4zm4 0zm11-1zm7 2zm9 0zm-18 7zm4-2zm8 0z"/><path stroke="#ff6400" d="M967 573zm-79 11zm9 2zm4 1zm13-1zm21-10zm7 1zm-38 17zm2-2zm1-1zm8 1zm5-2zm3 5zm0-2zm8 0z"/><path stroke="#e40000" d="M926 550zm7 3zm0 3zm1 1zm3 5zm-39 6zm4 6zm17 0zm0-8zm4 2zm1 6zm3-9zm8 4zm5 6zm5-1zm1-5zm-55 9zm6 8zm9-4zm3 3zm3-1zm8-2zm1 0zm3 0zm0-4zm4 1zm3-1zm7-1zm7 1zm4 1zm-21 9z"/><path stroke="#ffea00" d="M967 583zm0 2zm-75 13zm7 1zm15-2zm17-2zm-12 9zm12 0z"/><path stroke="#16ffe1" d="M886 605zm16 5zm3 1zm5 6zm2-5zm9 11z"/><path stroke="#0001ff" d="M892 618zm3 4zm1-3zm2 2zm3 1zm-22 7zm2 2zm9 4zm7-6zm1 3zm6-7zm4 6zm13-2zm-36 8zm1 8zm2-8zm3 4zm3 0zm19 3zm2 3zm2-5zm0 2zm4-8zm1 8zm-46 6zm25 2zm0-2zm5 2zm3 4zm1-5zm39 7zm4-4zm-69 7zm6 1zm1 7zm7 0zm3-5zm5-1zm1 8zm0-3zm1-1zm2-4zm5 5zm1-7zm7 5zm1-2zm6-3zm4 0zm5 4zm-53 11zm11 1zm9-2zm4 2zm1 5zm2-4zm3-3zm1 3zm0-5zm11 3zm-27 18zm30-10zm1 1zm-17 15z"/><path stroke="#ff1e00" d="M904 551zm43 0zm-15 1zm4 2zm2 8zm0 4zm4 2zm3 6zm-53 11zm3-3zm1 2zm1-1zm2-7zm14 2zm2 9zm0-5zm4 5zm9-4zm6-2zm4-2zm7-3zm27 2zm-54 11zm2 2z"/><path stroke="#ff4300" d="M946 562zm7-1zm9-8zm-25 21zm4-3zm2 3zm-46 10zm7 3zm9-3zm5 2zm1 1zm13-2zm12-7zm-54 10zm4 1zm5 0zm7 1zm9 1zm1-2zm3 2zm3-3zm20 3z"/><path stroke="#00d9ff" d="M905 611zm-1 3zm11 4zm15 3zm-11 4zm1 4zm6 1z"/><path stroke="#ff8600" d="M960 547zm-4 20zm7 0zm-44 19zm22-7zm0 0zm2 0zm-49 12zm1-1zm8 3zm4 0zm8 0zm9 2zm2-2zm9-5zm0 0zm15 2z"/><path stroke="#0000bb" d="M873 623zm-2 8zm8-1zm1-2zm4 2zm1-5zm2 10zm5 0zm5-4zm0 1zm19 1zm-41 8zm13 3zm0 0zm2-8zm2 8zm2-8zm2 3zm4 6zm1-5zm2 1zm-21 11zm6-4zm4 10zm3-5zm7-4zm4 4zm5-5zm1 7zm-31 13zm14 0zm2 2zm6-10zm1 9zm4-2zm-25 9zm3 5zm3-7zm1 7zm3-6zm2-3zm6 0zm1 8zm4-4zm23-4zm9 3zm-57 14zm2-3zm2 5zm1 0zm1-4zm4 1zm1 0zm9-1zm0-1zm0 4zm24-4zm66 0zm14 6zm-111 5z"/><path stroke="#0091ff" d="M906 621zm0-3zm1 0zm10-1zm-9 7zm3 2zm0-1zm5 2zm5 6zm3-6zm24 8zm-21 3zm21-1zm-19 35z"/><path stroke="#0000e3" d="M870 623zm10-2zm1-4zm5-3zm2 4zm-12 16zm3-9zm4 9zm1 1zm3-3zm0 1zm1 1zm4 1zm2-2zm0 1zm0 1zm1-8zm1 5zm2-3zm13 6zm-32 2zm5 3zm2-2zm2 2zm0 0zm10-4zm3 10zm7 1zm6-4zm-34 6zm7 0zm7-1zm15 1zm1 0zm1 8zm0-8zm1 8zm-33 10zm28 0zm8-5zm1 5zm2 4zm1-9zm-41 11zm3 8zm9-6zm1 7zm8 0zm9-5zm1 1zm3 2zm11 3zm9-9zm12 4zm-57 16zm13-5zm0 0zm4-3zm4 5zm4-3zm7 1zm6-1z"/><path stroke="#0049ff" d="M881 610zm6 3zm4 5zm14 2zm2 1zm-11 3zm11 7zm0-3zm4-2zm1-2zm1 7zm1-1zm11 4zm-11 8zm4-5zm2 0zm1 3zm1 7zm0-6zm0-5zm1 0zm4 9zm1 2zm1-3zm1 3zm-14 7zm3 2zm8 3zm1-7zm-9 17zm2-1z"/><path stroke="#50ffa7" d="M885 604zm4-1zm1 3zm31 8zm1-2z"/><path stroke="#8aff6d" d="M893 603zm9 0zm12 1zm5 3zm7-1zm11 3zm-13 3zm7 2zm4-2zm1 0z"/><path stroke="#ffa700" d="M971 568zm-76 19zm70-11zm-74 17zm5 2zm0-3zm1 5zm0-3zm23 2zm13-6zm3 4zm13 5zm-28 1z"/></g></g><text x="472.4" y="261.1" font-size="12.0" fill="#303030" text-anchor="middle">HL</text><rect x="520.3" y="268.6" width="4.6" height="83.4" fill="url(#jet)"/><path d="M524.9 352.0h2" stroke="#9aa4a8" stroke-width="0.7"/><text x="528.5" y="355.1" font-size="8.8" fill="#4f5d64" text-anchor="start">0</text><path d="M524.9 335.3h2" stroke="#9aa4a8" stroke-width="0.7"/><text x="528.5" y="338.4" font-size="8.8" fill="#4f5d64" text-anchor="start">20</text><path d="M524.9 318.6h2" stroke="#9aa4a8" stroke-width="0.7"/><text x="528.5" y="321.7" font-size="8.8" fill="#4f5d64" text-anchor="start">40</text><path d="M524.9 302.0h2" stroke="#9aa4a8" stroke-width="0.7"/><text x="528.5" y="305.1" font-size="8.8" fill="#4f5d64" text-anchor="start">60</text><path d="M524.9 285.3h2" stroke="#9aa4a8" stroke-width="0.7"/><text x="528.5" y="288.4" font-size="8.8" fill="#4f5d64" text-anchor="start">80</text><path d="M524.9 268.6h2" stroke="#9aa4a8" stroke-width="0.7"/><text x="528.5" y="271.7" font-size="8.8" fill="#4f5d64" text-anchor="start">100</text><rect x="47.5" y="368.0" width="84.0" height="82.0" fill="#fdfde9"/><path d="M44.0 430.4H131.5M44.0 404.8H131.5M44.0 379.1H131.5M70.5 368.0V453.5M109.0 368.0V453.5" stroke="#ece6c8" stroke-width="0.9" fill="none"/><text x="43.2" y="433.5" font-size="8.8" fill="#4f5d64" text-anchor="end">0.00</text><text x="43.2" y="407.9" font-size="8.8" fill="#4f5d64" text-anchor="end">0.25</text><text x="43.2" y="382.2" font-size="8.8" fill="#4f5d64" text-anchor="end">0.50</text><text x="70.5" y="461.0" font-size="8.8" fill="#4f5d64" text-anchor="middle">0</text><text x="109.0" y="461.0" font-size="8.8" fill="#4f5d64" text-anchor="middle">5</text><g clip-path="url(#cB10)"><g transform="scale(.5)" fill="none" stroke-width="4.48" stroke-linecap="round"><path stroke="#bb0000" d="M185 859zm-12 5zm33 17z"/><path stroke="#a7ff50" d="M155 824zm-3 13zm8-1zm-24 12zm15-1zm-32 14zm0-9zm10 4zm1-4zm3 11zm2-11zm0 1zm18 9zm1-10zm-42 22zm3-4zm8 5zm18-8zm7 2zm1-4zm-30 11zm24 3zm5 8zm11 0zm0-2zm-39 5zm9-1z"/><path stroke="#ff1e00" d="M171 852zm0 12zm31 11z"/><path stroke="#000092" d="M122 753zm47-9zm-38 15zm25 6zm36-7zm-57 18zm3 3zm8-7zm0-3zm1 0zm5-1zm5 0zm19 6zm-51 7zm2 0zm2 2zm26 29zm-48 10zm2-5z"/><path stroke="#e4ff13" d="M164 828zm-13 16zm13 0zm1 3zm3 2zm-43 8zm11 1zm3 3zm22-2zm1-2zm2 2zm-51 14zm3-4zm7-2zm1 2zm6-1zm10 7zm11 0zm2-5zm7-3zm1 5zm-45 8zm18 1zm3 5zm1 0zm1-4zm5 0zm8-4zm47 8zm-57 2z"/><path stroke="#006dff" d="M127 761zm8 17zm17-7zm1 6zm2-8zm14 4zm30-4zm-80 20zm7 1zm1-4zm17-3zm12-3zm3 7zm3-5zm0 2zm14 4zm3-1zm-59 11zm21 4zm1-10zm25 5zm0-4zm11 1zm-58 19zm1-3zm10-2zm0 2zm9 0zm1-1zm4 4zm1 2zm9-7zm-31 13zm13 0zm1-2zm-18 11zm4 5zm9-7zm20 2zm-18 20zm21-1zm21 16z"/><path stroke="#50ffa7" d="M201 773zm-44 41zm-23 3zm7 10zm28 0zm-46 12zm7 0zm11 0zm7-11zm1 9zm5-8zm3 7zm-39 13zm8-5zm2 4zm3-4zm1 0zm4 5zm13-7zm3-1zm-35 12zm2 3zm0 7zm19-8zm5 5zm2 2zm9 1zm1-8zm3 2zm-32 11zm9 0zm20-1zm3 0z"/><path stroke="#ffa700" d="M128 873zm2 10zm12-1zm7 9zm18-1zm73 2z"/><path stroke="#920000" d="M167 865zm1 15zm14 7z"/><path stroke="#ff8600" d="M166 850zm-1 2zm-45 23zm51 9zm21-7zm-74 22zm48-10z"/><path stroke="#00d9ff" d="M189 750zm-25 28zm4-5zm8-3zm-22 12zm2-1zm1 0zm-15 22zm10-10zm7 2zm-12 9zm1 4zm0 6zm1-3zm8-5zm12 5zm-56 13zm15-7zm13 1zm1 3zm3 5zm4-5zm0 3zm-31 6zm4 3zm1 3zm1-3zm11-5zm14 6zm4 5zm-48 12zm22-5zm8-4zm7-2zm13 9z"/><path stroke="#0001ff" d="M177 755zm8-3zm-54 14zm13-1zm17-1zm94-4zm-126 10zm2 0zm14 5zm4 1zm5-8zm4 6zm3 2zm4 1zm6-5zm1 6zm3 0zm30-2zm0-8zm-85 23zm12 0zm11-11zm9 6zm-34 17zm2-5zm9-5zm7 9zm3-1zm1 0zm33-5zm-58 13zm2-3zm43 0zm5-1zm-26 28zm94 28z"/><path stroke="#ff4300" d="M162 844zm22 27zm39 21z"/><path stroke="#00b5ff" d="M129 763zm8-2zm13 5zm10-6zm12 1zm1-5zm9 3zm-48 12zm27 3zm19 1zm-58 14zm24 1zm1-7zm4 4zm25 4zm-50 7zm1-1zm7 0zm6 3zm4 0zm2-1zm10-7zm1 7zm-36 13zm12-6zm1 5zm6 0zm12-3zm0 6zm20-6zm-58 10zm6 4zm4-6zm3 7zm1 0zm1 3zm12-2zm4-1zm11-1zm2-1zm-35 16zm5 1zm1 1zm1 0zm9-3zm15 2zm5-6zm-37 8zm8 4z"/><path stroke="#0000e3" d="M147 749zm1 16zm1-2zm10-4zm14-3zm11 0zm10 7zm-78 7zm28-1zm5 10zm10-9zm10 3zm10 0zm-46 12zm22-5zm-23 17zm1 5zm5-5zm11-1zm6 6zm-40 9zm3-6zm14 0zm41 5zm-61 10zm62 57z"/><path stroke="#6dff8a" d="M158 802zm15 9zm-13 10zm-48 12zm40 0zm3 0zm1-4zm-34 19zm8 1zm7-4zm0-5zm16 7zm-40 14zm20 7zm14-3zm5 3zm1 0zm-27 8zm5 7zm10-2zm8-4zm-25 13zm3-2zm2 0z"/><path stroke="#8aff6d" d="M158 826zm-35 12zm39-4zm-27 12zm-16 16zm34-6zm5-4zm1 6zm-35 9zm2-1zm1 7zm5-4zm4 5zm6-3zm1-6zm5-1zm2 2zm-31 18zm7-2zm27-6zm8 9zm-50 5zm9 1z"/><path stroke="#ffea00" d="M121 863zm-9 10zm4-3zm12 4zm12-2zm11 0zm7 1zm8 0zm-46 8zm12 0zm23 6zm12-11zm-45 15zm1-2zm36 0z"/><path stroke="#c4ff33" d="M187 796zm-33 39zm-32 14zm29-6zm-33 19zm4-6zm4 5zm2 0zm12 1zm18-6zm0-1zm0 1zm2 6zm4-4zm-47 8zm2 0zm4 5zm15-4zm1-1zm17 3zm4 2zm-37 16zm5-2zm2-6zm6 2zm6 2zm1-2zm2 4zm3-9zm-17 14zm3-1z"/><path stroke="#0049ff" d="M128 753zm26-1zm-19 6zm1 9zm1 0zm3 0zm5-7zm1 2zm15 3zm8-6zm14 5zm-40 12zm11-6zm18 6zm21 2zm-42 5zm4-1zm-28 11zm22 4zm11 6zm1-10zm1 0zm2 0zm20 6zm-60 12zm41 0zm5 0zm-67 11zm17 2zm7-4zm3 3zm2-2zm-20 11zm5 5zm0-3zm66 3zm2 21z"/><path stroke="#33ffc4" d="M169 765zm-14 9zm0 1zm-8 18zm11 1zm5-1zm2-1zm6 6zm-34 16zm8-10zm-15 22zm0 0zm3 0zm8-6zm5 6zm1-9zm21 4zm-57 15zm32 2zm2-5zm3 2zm6-7zm1 8zm0-8zm4 5zm0-4zm2 2zm-39 12zm5 0zm7 3zm1-6zm2 0zm6 6zm3-4zm3 4zm4-1zm-34 9zm6 8zm15-10zm6 9zm5 0zm0 1zm7-7zm-38 12zm12 7zm10-6zm-25 8zm31 5z"/><path stroke="#e40000" d="M223 861zm-46 4z"/><path stroke="#0024ff" d="M128 755zm15 0zm8-4zm24 3zm-50 11zm6-4zm38-5zm22 3zm0 0zm-34 17zm1 1zm5-6zm1 3zm1 1zm6 2zm6-4zm-48 7zm1 3zm22 4zm5 0zm6-7zm-56 23zm7-1zm2 1zm4-5zm6-6zm28 11zm4-2zm13-7zm-53 19zm25-9zm2 1zm6 6zm-37 15zm26-10zm8 3zm-40 18zm43 0zm23 1zm-50 3zm45 1zm33 24z"/><path stroke="#0000bb" d="M168 752zm-42 14zm14-2zm7-2zm21 2zm38-1zm-77 9zm1 4zm14-5zm21 1zm2 6zm9 1zm-56 7zm10-5zm8 5zm-18 17zm40-1zm-58 15zm8 20z"/><path stroke="#0091ff" d="M150 740zm-3 12zm20 0zm4-6zm2 6zm-38 12zm20-6zm25 7zm-50 5zm13-1zm4 8zm9 1zm4-2zm1 1zm1 2zm-36 2zm7 8zm5-8zm2 1zm7 7zm6-3zm1 3zm1-8zm6 5zm2 5zm7-6zm2 1zm33-6zm-83 19zm3-2zm1 3zm16 1zm4-4zm3-4zm8 9zm3-3zm6-7zm6 7zm-51 16zm5-5zm10-6zm20 10zm3-3zm-49 8zm0 3zm2-6zm24 1zm4 4zm1-4zm2 4zm3 2zm1-7zm7 2zm0 4zm2-5zm-43 20zm6-4zm3 5zm9-2zm2-1zm2-6zm9-1zm3 3zm-14 44z"/><path stroke="#ffc800" d="M163 863zm1-5zm2 1zm-46 14zm7-3zm35 0zm-48 13zm6-3zm1-2zm-1 13zm10 0z"/><path stroke="#16ffe1" d="M152 766zm-8 2zm7 5zm0 9zm7 0zm9 7zm-42 7zm1-4zm34 1zm-30 11zm2 1zm29 9zm-41 13zm6-7zm0-1zm15 3zm1 5zm8-10zm8-1zm2 4zm-38 17zm13-6zm5 20zm0-8zm8 0zm3 0zm1 8zm-28 2zm2 7zm31 2zm-41 6zm17-1zm7-3z"/><path stroke="#ff6400" d="M198 862zm-28 4zm-2 21zm15-9zm-7 13z"/><path stroke="#ff1e00" d="M187 853zm-26 24zm-30 15z"/><path stroke="#a7ff50" d="M153 835zm-45 10zm7 4zm6-1zm4-2zm4 1zm1-1zm20 3zm-27 11zm0 1zm1-9zm8 4zm5 5zm1-6zm3-1zm1 4zm1-2zm7-2zm5 0zm4 3zm-22 9zm1 0zm0 3zm6-4zm-27 22zm2-6zm4-2zm30 2zm3 2zm0-7zm6 0zm-45 13zm32-1z"/><path stroke="#0024ff" d="M147 752zm1-1zm25-5zm-47 11zm6 2zm8 0zm16 2zm12 4zm9 1zm11-6zm9 6zm12-5zm-79 12zm6-4zm3 8zm5-8zm4 5zm3-4zm15 7zm4-2zm8-7zm5 7zm14 0zm-67 12zm3 1zm7-6zm3 2zm13 0zm5-1zm3 1zm3-2zm9 2zm12-3zm-47 13zm21 4zm3 5zm-44 1zm20 0zm8 8zm0-7zm-39 14zm9 0zm8 9zm57 27zm-3 18z"/><path stroke="#6dff8a" d="M148 820zm-31 17zm12 1zm3-7zm7 5zm8 0zm4-8zm-39 15zm8-1zm0 1zm2 1zm5 1zm1 6zm17-3zm0 2zm1-5zm12-5zm-44 16zm3 5zm8-6zm7-1zm2-2zm0 5zm18-2zm-34 19zm2-2zm19-7zm5 6zm5-4zm-13 18zm11-8zm8 2zm-5 20zm0-10zm6 0z"/><path stroke="#50ffa7" d="M176 779zm-4 8zm-36 14zm5 11zm11-3zm-16 18zm1-9zm11-1zm14 1zm0 19zm-41 13zm4-10zm1 9zm4-3zm18-5zm3 4zm7 0zm-36 14zm29 2zm-15 13zm16-2zm2-3zm4-5zm-32 19zm3 3zm9-7zm10 1z"/><path stroke="#0001ff" d="M147 742zm-15 11zm15 0zm27 1zm-36 13zm10-1zm0-6zm7 6zm24-2zm1-2zm-49 12zm2 1zm4 1zm23-2zm1 5zm5-11zm28 1zm-68 15zm1 3zm9 1zm4-1zm29-5zm49 3zm-90 8zm8-1zm-26 20zm14-5zm2 2zm20 3zm25-4zm-62 11zm2-3zm6 8zm5-2zm1-5zm13 8zm22-9zm-53 14zm7 2zm3-1zm16 0z"/><path stroke="#ffa700" d="M161 857zm4-3zm-52 12zm46 4zm9-5zm-42 21zm31 0zm2-6zm3-4z"/><path stroke="#ff6400" d="M164 861zm-24 23zm19-2zm8-6z"/><path stroke="#ff4300" d="M164 872zm8-4zm3 16zm18-2z"/><path stroke="#8aff6d" d="M148 837zm8-4zm4-2zm-40 19zm19-3zm7-1zm13 5zm-40 2zm12 10zm8-9zm5-2zm2 9zm9 0zm-42 6zm10-1zm4-1zm1 5zm3-3zm3 2zm8-3zm5 7zm-3 9zm-10 12zm8-3z"/><path stroke="#006dff" d="M147 753zm3 1zm-22 11zm12 0zm6 0zm14-1zm1 1zm7-1zm5 1zm0-5zm-36 18zm8-1zm2 2zm9-11zm3 1zm7 9zm35 1zm-69 6zm14 0zm2 3zm2-1zm17 2zm-39 7zm2 4zm2-4zm1 2zm4-5zm10 2zm1 8zm11-10zm27 9zm-74 12zm6 1zm2-2zm3 2zm1-3zm0-3zm5 2zm0-6zm4 0zm4 1zm4-1zm34 2zm-65 16zm6 2zm1 2zm17-1zm1-6zm3-3zm-24 22zm1-1zm3 0zm1-2zm3-8zm2 7zm3 1zm8 1z"/><path stroke="#ff8600" d="M164 846zm-32 9zm36 5zm30 14zm-48 9zm9 3zm11-5zm-9 7z"/><path stroke="#33ffc4" d="M199 776zm-58 12zm15-8zm0 11zm27-1zm-26 6zm10 4zm-15 6zm6 8zm1 0zm6-9zm0 4zm-20 14zm-30 16zm40 0zm0-3zm-49 15zm5-11zm3 4zm1 1zm5-4zm0 1zm3 6zm15-2zm5 4zm4-10zm-22 17zm5-5zm3 11zm20-5zm-24 17zm4-7zm3-4zm0 6zm13 4zm2 1zm-14 4zm8 0zm9 2zm-17 13z"/><path stroke="#0091ff" d="M162 748zm-36 19zm5-10zm10 6zm0-6zm8 16zm2 5zm12-4zm7-2zm9-3zm-28 17zm2 0zm37 2zm19 1zm-86 11zm2-7zm16 5zm10-6zm2 6zm2-2zm0 2zm2 3zm4-5zm6 6zm2-8zm-58 18zm7-8zm4 8zm3-2zm1 4zm16-2zm16-1zm0-1zm-33 10zm1-2zm2 5zm19 2zm0 2zm11-10zm-38 21zm1-4zm1 3zm8-6zm11-2zm1 2zm2 3z"/><path stroke="#e40000" d="M179 878z"/><path stroke="#0049ff" d="M142 750zm3 4zm7-2zm-24 8zm1-4zm17 10zm2-1zm3 1zm10-8zm5 6zm7 3zm31-7zm-63 13zm10 4zm1-2zm7-5zm2-1zm7 4zm1-4zm-42 16zm8 4zm5 2zm0-5zm0 5zm0-11zm2 3zm6 2zm9 5zm-26 6zm0 3zm4 2zm2-8zm18 5zm10-4zm11 3zm-56 8zm5 1zm12 2zm2 2zm22-2zm8-3zm-55 22zm11-10zm0 4zm18-1zm8 0zm-35 18zm2-9zm-13 11zm17 0zm6 1z"/><path stroke="#bb0000" d="M175 839zm-11 35zm7-7z"/><path stroke="#ffea00" d="M163 839zm-44 12zm28-2zm12-9zm-1 33zm4-6zm10 7zm-60 9zm6 2zm5 1zm3 1zm1-11zm5 0zm20 0zm-3 12z"/><path stroke="#0000bb" d="M132 754zm1 1zm17-7zm-20 12zm1 3zm18-3zm22 1zm-40 16zm13-9zm9 5zm1-5zm-29 19zm12-1zm20-5zm-38 16zm8-3zm-9 12zm18-2zm-17 20zm-6 17z"/><path stroke="#c4ff33" d="M161 830zm-17 21zm-29 8zm22-3zm8 4zm8 3zm4-11zm-35 17zm4 1zm4 2zm26 2zm3-2zm5 2zm-39 5zm0-1zm18 8zm3-7zm10-1zm-36 15zm12-2zm9-1zm2 3zm1-5z"/><path stroke="#ffc800" d="M113 849zm25 10zm20-6zm36 1zm-64 25zm17 3zm15 2zm4 6z"/><path stroke="#000092" d="M156 755zm15-1zm-32 11zm3-8zm63 8zm-71 12zm4-2zm5-6zm11 1zm6 8zm25-10zm-56 19zm37 3zm-54 16zm1 8zm4-2zm42-8zm-48 16zm-1 14z"/><path stroke="#00d9ff" d="M169 764zm5-5zm-24 13zm11 5zm34-2zm-67 14zm11-1zm14-2zm3 3zm3-5zm3 2zm6-6zm-48 23zm7-8zm-3 10zm16 7zm4-3zm4-5zm9 7zm14 4zm-44 1zm0 3zm15 2zm1-4zm8 6zm3 1zm4-1zm2-7zm-45 15zm1-3zm10 10zm1-3zm4-3zm2 3zm2-1zm14 5zm5-7zm3 7zm-26 4zm8 1zm1 5zm2-5z"/><path stroke="#00b5ff" d="M124 763zm42 7zm-13 18zm1 2zm25 1zm2 0zm21-9zm-69 17zm0 2zm2 1zm5-1zm14-2zm21-5zm-40 21zm4-3zm28 2zm4-6zm-50 15zm2-2zm3 4zm13-2zm5-7zm0 10zm11 0zm5 0zm2-3zm4-2zm-45 7zm2 8zm5-3zm1 2zm6 4zm0-8zm1 8zm1-11zm4 0zm11 6zm-31 7zm20-1zm0 26z"/><path stroke="#e4ff13" d="M115 850zm30-2zm8 3zm1-9zm5 5zm-30 5zm15 10zm1-5zm20-3zm-47 16zm7-4zm6 4zm9 2zm11 3zm9-7zm-49 14zm30 2zm3-3zm2-1zm-11 9z"/><path stroke="#0000e3" d="M161 750zm-30 6zm47 7zm11 4zm15-2zm8-1zm-71 8zm2 5zm5-8zm11-1zm1 7zm5 1zm-34 7zm1-2zm15 2zm6 7zm-34 13zm2 3zm20 9zm-30 6zm23-1zm19-4zm26 35z"/><path stroke="#920000" d="M189 842z"/><path stroke="#16ffe1" d="M138 765zm39 9zm-34 7zm7 4zm1 3zm16-4zm-22 16zm1-7zm-7 19zm5-2zm5-6zm1 9zm1-8zm7 0zm-26 16zm32 0zm-38 11zm5-1zm6 2zm12-4zm6 3zm1-4zm-40 14zm1 3zm16 5zm12-2zm12-8zm-34 14zm12 9zm6 12zm3-7zm10 3z"/><path stroke="#c4ff33" d="M115 856zm4 6zm4 1zm6-7zm7 2zm10-2zm16-3zm2 9zm-36 9zm17 3zm3-1zm10-8zm1 3zm-42 19zm15-10zm1 4zm3 5zm21-7zm-28 17z"/><path stroke="#33ffc4" d="M163 778zm-25 8zm-9 16zm41-4zm-35 10zm31 3zm-49 13zm11-1zm21-6zm10 3zm0 6zm6-5zm-46 13zm2 2zm1-5zm1 7zm7 1zm31 0zm-44 8zm1-1zm34-2zm5 7zm-42 11zm7-8zm7 17zm15-3z"/><path stroke="#0001ff" d="M132 753zm17 1zm5 0zm9 0zm0-1zm-23 10zm6-4zm1 4zm2-1zm3-4zm1-1zm1 9zm2 0zm21 1zm4-6zm10 6zm13-2zm-74 8zm5 2zm13-6zm10 10zm0-7zm8 7zm6-9zm6 6zm3-7zm-59 14zm1-2zm1 0zm6 1zm0 5zm2 0zm7-7zm3 9zm2-4zm3-1zm11-3zm2 2zm11-1zm-47 15zm6 1zm7-5zm-12 21zm10-2zm1-3zm2 3zm25 0zm-55 7zm6 9zm5 6z"/><path stroke="#ffc800" d="M163 850zm-12 9zm12-5zm2 3zm-32 14zm-8 10zm24 3zm15 5z"/><path stroke="#ff4300" d="M183 858zm-23 31zm0 0z"/><path stroke="#16ffe1" d="M183 770zm-32 17zm18 0zm1 1zm-20 4zm3 7zm-33 8zm24-3zm2 11zm6 0zm1-11zm4 3zm5 0zm-48 9zm11 1zm1 2zm6 2zm14-1zm1 0zm6 7zm0-3zm2-2zm8 0zm-58 11zm20 0zm0 2zm6 0zm6 2zm23-7zm-43 19zm2-2zm9-6zm8 6zm22-7zm-16 17zm1 29z"/><path stroke="#00d9ff" d="M144 753zm14 25zm13-6zm-18 16zm1-5zm-28 20zm8-6zm22-1zm9 5zm6-8zm-39 15zm9 7zm-38 4zm17 5zm3-3zm16 3zm6-6zm1 4zm3 2zm-32 15zm0-2zm1-4zm4-2zm1 3zm10-2zm8-4zm4 6zm2-2zm-19 17zm9-2zm5 3zm9-9zm-36 13zm2 5zm5 12zm24-6z"/><path stroke="#a7ff50" d="M159 836zm6-4zm-44 19zm4 0zm18-2zm6 1zm-31 11zm11-5zm11-4zm5 10zm0-7zm1 0zm1-1zm3 0zm3 7zm0-8zm5 10zm-34 11zm7-10zm4 2zm16 5zm4 0zm1-4zm-42 18zm21-4zm10-1zm2 4zm-24 5zm2 8zm17-9zm4 7z"/><path stroke="#0000bb" d="M156 750zm20 5zm-41 5zm1-2zm40 9zm-48 5zm10-4zm3 6zm-14 11zm17-3zm-20 13zm5 4zm17 9zm-31 15zm3-2z"/><path stroke="#0091ff" d="M134 764zm8-5zm9 3zm5 3zm4 0zm0-1zm11-3zm1 4zm9-3zm-55 13zm27-2zm26 2zm-53 8zm2 5zm2 3zm8-5zm4-2zm7-1zm5 6zm2 1zm2-8zm5 1zm1 0zm3-2zm8 4zm-33 14zm5 2zm18 1zm3-10zm-66 18zm21-4zm0 4zm12 3zm2-6zm2-2zm13-1zm3 2zm10 7zm4-5zm5-4zm-61 22zm7-6zm12-4zm12 1zm3 10zm6-3zm-33 13zm4-2zm2-1zm2 0zm4 5zm4-7zm12 2zm-30 6zm4 3zm9-1zm20 1z"/><path stroke="#ffea00" d="M143 832zm-4 19zm23-7zm-22 16zm22 3zm-45 12zm10-1zm15-7zm16 1zm2 3zm0-3zm3 4zm-43 4zm16 5zm8-3zm9 8zm6-8zm-52 11z"/><path stroke="#006dff" d="M160 755zm9-4zm27 1zm-64 14zm3-7zm6 3zm2-2zm6-4zm13 11zm1-8zm17 7zm-54 12zm2-4zm51 3zm-59 14zm11-3zm2 0zm7-2zm5-5zm5 0zm-16 13zm1 2zm3-2zm1 0zm14 3zm2 0zm-24 17zm8-6zm11 5zm-35 6zm15-3zm0 3zm0 0zm5 0zm6 3zm3-4zm1 4zm1 4zm7 1zm1-10zm2 0zm-46 21zm4-9zm0 3zm21 0zm9-1z"/><path stroke="#ffa700" d="M161 838zm1-6zm20 3zm-59 36zm26 1zm1-4zm11 3zm5 3zm-48 11zm17 1zm8-1zm-22 8z"/><path stroke="#8aff6d" d="M168 826zm-43 11zm11-9zm21 9zm5 2zm-48 11zm7 0zm2 0zm8-6zm5 5zm15-5zm5 2zm2 0zm1-6zm-43 16zm7 5zm4-5zm5-3zm10 8zm5-1zm3-1zm6-2zm-41 18zm13-5zm17 6zm2 0zm1 11zm-13 7zm3-5z"/><path stroke="#e4ff13" d="M128 847zm2-3zm31 2zm-45 16zm12-6zm1-3zm4 9zm18-9zm-37 14zm3-2zm4 5zm7-6zm3 10zm3 0zm15 1zm8-2zm-37 14zm2-4zm2 3zm25-6zm11-3zm1 8zm-47 3zm10 0z"/><path stroke="#ff1e00" d="M175 853zm-8 23zm2 8z"/><path stroke="#ff6400" d="M166 864zm-4 14zm4 3zm-26 7z"/><path stroke="#50ffa7" d="M157 757zm2 10zm5 32zm-42 9zm20 9zm10 6zm14-7zm-42 23zm0-10zm6 8zm1-1zm-17 11zm2 4zm18-8zm5-2zm12 8zm-39 11zm29-4zm8-1zm-20 12zm6 5zm7-8zm-25 18zm19-4zm9-2zm2 11zm3-3zm5 4z"/><path stroke="#ff8600" d="M164 845zm2 17zm-10 8zm19-5zm5 11zm-64 20zm3-6z"/><path stroke="#000092" d="M120 747zm18 3zm10-2zm6 6zm-15 3zm8 6zm2-5zm9 8zm2-5zm9 1zm-38 10zm7-4zm6 3zm2 0zm23-2zm5 6zm2-1zm-58 9zm14 2zm8 4zm15-8zm-40 15zm-3 8zm15 23z"/><path stroke="#0000e3" d="M162 748zm3-3zm5 3zm-23 18zm9-4zm1-4zm10 4zm-37 16zm19-6zm7-1zm3 7zm3-3zm16-4zm9 6zm-60 6zm1 5zm9 3zm13-1zm1-9zm19 6zm18-4zm8 0zm-69 13zm4 6zm3-4zm9 0zm-29 6zm2 11zm-12 12zm19-4zm59 64z"/><path stroke="#00b5ff" d="M167 763zm7 3zm-6 13zm13-6zm-23 17zm-2 10zm3 3zm4-9zm-38 18zm4-8zm32 3zm3 4zm-54 16zm10 0zm0-8zm6 2zm1-4zm1 2zm1 4zm0-2zm22-3zm8 6zm6-6zm-51 17zm5-1zm3-2zm15 2zm-17 10zm4 0zm17 9zm14 17zm-24 7z"/><path stroke="#e40000" d="M174 860zm28 0zm-70 12zm48-8zm58 7z"/><path stroke="#bb0000" d="M176 862zm24 13zm10-7zm-37 11z"/><path stroke="#6dff8a" d="M159 814zm-25 12zm8-3zm7 4zm-20 12zm21-7zm3 0zm-44 8zm32 11zm2-3zm13-8zm0 3zm-40 19zm4 0zm0 1zm5-11zm10 7zm5-4zm2-1zm2 3zm13 3zm-36 4zm11 7zm0 3zm1-8zm4 5zm1-7zm14 6zm-6 17zm4-1zm1-10zm2 1zm3 7z"/><path stroke="#0024ff" d="M130 764zm0 0zm5-3zm13-2zm0 1zm3 1zm2 4zm6-3zm3 0zm9-5zm8 6zm-54 14zm11-3zm6 5zm1-7zm2 5zm7 0zm7 1zm16 0zm9 0zm9 0zm-70 10zm0-5zm12 5zm3-5zm11 6zm6 0zm9-3zm6-1zm-60 17zm8-6zm3 5zm5-3zm3 2zm5-5zm17 8zm8-2zm30-4zm-83 18zm15-10zm15 5zm-26 9zm6 4zm4-7zm6 0zm0 0zm5 12zm38 61z"/><path stroke="#0049ff" d="M128 743zm-2 1zm15 3zm1 7zm3-6zm5-1zm5 5zm9-1zm-37 13zm24 1zm3-6zm2 4zm6 2zm8 2zm2-5zm38-1zm-83 7zm0 6zm12 4zm10 1zm3-9zm25 8zm-48 12zm1-8zm0 8zm2-7zm1 2zm7-5zm12 7zm3-2zm1 3zm1-6zm9 5zm4-7zm-46 15zm2 1zm1-3zm6 8zm1-7zm2 4zm6 2zm6-4zm7 5zm14-8zm-36 17zm21-3zm5 3zm5-1zm2-5zm8 3zm-63 20zm1-10zm27 4zm17 6zm-46 6zm7 13z"/><path stroke="#bb0000" d="M175 847zm17 19z"/><path stroke="#c4ff33" d="M160 811zm9 13zm-23 23zm12-5zm0 1zm-12 13zm3-1zm9 6zm2-8zm-30 18zm2 3zm1-7zm0 8zm3-2zm8 1zm5-5zm6 2zm1 4zm1-11zm3 3zm-27 16zm0-2zm13 1zm0-1zm8 3zm4-2zm-27 15zm5-4z"/><path stroke="#ffea00" d="M171 829zm-23 15zm14 3zm0 4zm-50 2zm16 8zm29-7zm7-2zm-40 19zm12-1zm8 1zm13-2zm-43 15zm11 3zm4-6zm7 2zm9-4zm1 0zm-30 9zm29 5z"/><path stroke="#ff4300" d="M163 863zm3 21zm57-3zm-58 16z"/><path stroke="#0049ff" d="M142 748zm13 2zm14 4zm5 1zm-57 8zm39 2zm2 1zm9-10zm36 8zm-75 9zm1 3zm5-4zm0 0zm7-1zm9 2zm3 3zm13-6zm5 0zm3 5zm10 3zm2-1zm-55 10zm2-3zm4-3zm3 1zm2 9zm5-3zm6-4zm9 5zm5-2zm1-7zm1 7zm10 1zm5 2zm0-6zm17 0zm-78 18zm5 1zm3-9zm5 3zm4 4zm2-8zm2 1zm0-1zm10 7zm3-8zm-23 22zm8-10zm15 11zm3-8zm-17 13zm-32 13zm3 4zm0-8zm3 7zm7 3zm4-4zm3 4zm23 2z"/><path stroke="#0000bb" d="M163 753zm31-7zm-61 18zm5 3zm2-3zm1-3zm7 1zm17 1zm-15 9zm14 7zm0 3zm-51 21zm22 0zm1-4zm6-1zm34-5zm42 23z"/><path stroke="#0000e3" d="M157 753zm25-2zm-43 6zm1 3zm48 4zm15 0zm-39 4zm8 8zm1-3zm-32 18zm2-7zm6 1zm-17 13zm0 26zm-21 12zm77 11zm38 38z"/><path stroke="#ffa700" d="M163 834zm-4 34zm4-1zm3 6zm11 13zm-14 3z"/><path stroke="#0001ff" d="M131 755zm11-7zm1 1zm10 4zm8-1zm5 1zm0 2zm0-6zm-34 18zm28-4zm3-7zm4 11zm0-8zm-45 20zm2-8zm13 6zm4-3zm11 2zm5 1zm19 0zm3-2zm-41 6zm27 6zm5-5zm5 5zm4-7zm2 10zm0 0zm-53 5zm22 5zm5-4zm-38 19zm19-2zm-21 3zm1 3zm8 3zm-18 10zm28-4z"/><path stroke="#ff1e00" d="M169 843zm-6 28z"/><path stroke="#50ffa7" d="M165 792zm5 14zm-20 20zm-32 13zm13-4zm-6 13zm5-1zm0-6zm23 7zm3-5zm-46 11zm17-2zm-10 12zm25 1zm3 7zm10 0zm1 0zm-9 12zm-5 4z"/><path stroke="#16ffe1" d="M139 785zm1 0zm16-4zm8 10zm-40 5zm17 7zm6-4zm7 3zm-22 5zm18 6zm-46 9zm15 0zm13-3zm7 0zm6 8zm9-7zm3-4zm2 10zm-44 12zm10-7zm4 3zm9-5zm0 10zm10-1zm2-7zm7 4zm-31 6zm2 2zm5 3zm-10 8zm26 7zm-25 4zm29 5zm0-4z"/><path stroke="#8aff6d" d="M159 821zm1-1zm-26 18zm7-7zm25-2zm-56 20zm6 0zm7 0zm0-1zm10 0zm6 3zm7-4zm1-2zm4 6zm-38 12zm1-9zm10 9zm3-5zm6 2zm5-5zm1 0zm5 2zm1-2zm13 7zm5-4zm-39 16zm6-1zm7 1zm15-1zm2-8zm2 5zm2-4zm-43 15zm7 4zm10-7zm13 7zm1-4zm2 4zm1-1zm7 2zm-21 2z"/><path stroke="#ff8600" d="M165 850zm-2 8zm21-6zm-34 29zm7 5zm9-2z"/><path stroke="#006dff" d="M167 754zm9-5zm-33 12zm2 3zm27-4zm-51 15zm11-1zm13 3zm9-6zm12-2zm-43 19zm13 1zm5-7zm9 9zm4-11zm6 5zm2 2zm1-2zm9-1zm4-4zm5 5zm-49 12zm15 5zm15-10zm3 3zm1 8zm5-8zm17 0zm13-3zm-77 16zm3-2zm7 4zm7 3zm6-9zm13 9zm1-1zm3-7zm-49 22zm6 0zm1 0zm0-7zm22-3zm1 9zm5-7zm9 3zm-35 6zm7 6zm15-2zm12-3z"/><path stroke="#0091ff" d="M128 760zm7-3zm5 5zm23-1zm6 5zm6 0zm1-8zm-33 12zm28 3zm5 6zm4-6zm4 5zm-59 8zm4 5zm6-4zm3 0zm20-5zm38 7zm-61 8zm0 0zm17-5zm5 9zm1-7zm-42 16zm24-2zm2 6zm0-6zm8-4zm7 2zm0 3zm3-2zm-42 18zm10-5zm24 3zm5-6zm2 4zm-44 17zm28-6zm1 2zm1-3zm5 6zm7-3zm-33 8zm23 4zm4 16zm-5 9z"/><path stroke="#0024ff" d="M136 754zm37 0zm-31 12zm0-8zm3 4zm4 4zm25-6zm-48 14zm11-2zm17 1zm19-5zm-39 19zm4-2zm1 6zm16-10zm12 7zm3-6zm0 5zm2 1zm15-1zm-61 10zm14-2zm9-3zm9 6zm2 3zm10-4zm13-4zm-72 14zm10 7zm6-10zm18 3zm3-2zm5 2zm-38 19zm8 1zm5-10zm1 10zm6-6zm16-5zm-40 17zm11-2zm56 21zm9 30z"/><path stroke="#00b5ff" d="M153 748zm-27 15zm19 2zm27 1zm36-8zm-65 12zm14 9zm2-8zm3 8zm9 0zm5-6zm6 3zm4-2zm20 3zm-75 9zm2 2zm12 3zm0-10zm15 4zm2-3zm12-1zm23 5zm4 1zm-72 15zm0-3zm1-4zm7-2zm6 3zm1 2zm10-5zm8 4zm9 6zm-58 10zm1-5zm12 4zm1 0zm4-5zm4 0zm3 6zm1 0zm5 0zm2-8zm4 0zm7 6zm8 0zm-58 15zm7-6zm10 5zm14 0zm0-9zm9 1zm13 1zm-45 21zm11-7zm20-3zm-23 14zm8 0zm16 3z"/><path stroke="#000092" d="M138 754zm5 1zm27-1zm-42 8zm19-2zm5 2zm16-4zm-45 10zm7 9zm21-8zm5 2zm1 3zm21 3zm2-7zm1-1zm-52 18zm17-4zm46-3zm-61 14zm57 0zm-66 13zm1 2zm11 4z"/><path stroke="#920000" d="M167 878z"/><path stroke="#ffc800" d="M167 830zm1 31zm-21 7zm15-1zm3 2zm-43 17zm24 1zm0-5zm5 2zm-32 4zm2 2z"/><path stroke="#00d9ff" d="M123 758zm41 1zm14 18zm-22 4zm34 7zm-62 8zm9 6zm10-1zm29-9zm18 5zm-56 13zm8 0zm6 1zm4 3zm-34 3zm3 2zm2 8zm19-3zm1-7zm4 5zm-38 17zm10 0zm17-6zm-13 14zm13-3zm2-4zm9 10zm3-1zm-43 7zm15 1zm5 0zm12 6zm2-4zm9-4zm-31 16zm21 2z"/><path stroke="#33ffc4" d="M167 786zm-31 17zm3 5zm-10 14zm0 2zm1 0zm10-8zm2 9zm14 0zm4-4zm1 4zm-44 12zm9 2zm6-7zm4 7zm8-4zm11-4zm2-3zm-14 15zm2 5zm0-5zm9 0zm-40 11zm9 1zm2 4zm6-4zm1 1zm4-4zm7 10zm4-9zm9 5zm6 3zm-62 4zm16 7zm22-8zm1 18zm4 3zm8 1zm0 2z"/><path stroke="#a7ff50" d="M144 821zm12 0zm0 15zm-34 10zm9 0zm16 4zm17-4zm-27 13zm10-2zm-26 15zm4-6zm13 5zm2-6zm11 6zm4 4zm1 0zm-31 6zm3 5zm10-1zm5 0zm0-7zm3 1z"/><path stroke="#ff6400" d="M176 860zm-29 12zm20 13zm12-2zm-13 6z"/><path stroke="#6dff8a" d="M149 793zm-20 16zm16 16zm4-9zm10 8zm4 1zm-30 13zm8-4zm3 5zm10-3zm4-1zm-29 13zm6-4zm4 1zm6-2zm0 4zm3-4zm5 5zm-27 9zm6 5zm4-9zm2 9zm10-6zm3 3zm2 3zm3-10zm6 8zm-47 8zm5-2zm14 6zm8-6zm12 12z"/><path stroke="#e4ff13" d="M132 852zm3 9zm4-3zm4-3zm6 3zm3-3zm-43 16zm27 4zm20-10zm-45 12zm10-1zm4 5zm17 3zm0-8zm-26 12zm15 0zm18 1zm4 0z"/></g></g><rect x="137.2" y="368.3" width="4.6" height="82.9" fill="url(#jet)"/><path d="M141.8 447.8h2" stroke="#9aa4a8" stroke-width="0.7"/><text x="145.4" y="450.9" font-size="8.8" fill="#4f5d64" text-anchor="start">2</text><path d="M141.8 436.6h2" stroke="#9aa4a8" stroke-width="0.7"/><text x="145.4" y="439.7" font-size="8.8" fill="#4f5d64" text-anchor="start">4</text><path d="M141.8 425.4h2" stroke="#9aa4a8" stroke-width="0.7"/><text x="145.4" y="428.5" font-size="8.8" fill="#4f5d64" text-anchor="start">6</text><path d="M141.8 414.2h2" stroke="#9aa4a8" stroke-width="0.7"/><text x="145.4" y="417.3" font-size="8.8" fill="#4f5d64" text-anchor="start">8</text><path d="M141.8 403.0h2" stroke="#9aa4a8" stroke-width="0.7"/><text x="145.4" y="406.1" font-size="8.8" fill="#4f5d64" text-anchor="start">10</text><path d="M141.8 391.8h2" stroke="#9aa4a8" stroke-width="0.7"/><text x="145.4" y="394.9" font-size="8.8" fill="#4f5d64" text-anchor="start">12</text><path d="M141.8 380.6h2" stroke="#9aa4a8" stroke-width="0.7"/><text x="145.4" y="383.7" font-size="8.8" fill="#4f5d64" text-anchor="start">14</text><path d="M141.8 369.4h2" stroke="#9aa4a8" stroke-width="0.7"/><text x="145.4" y="372.5" font-size="8.8" fill="#4f5d64" text-anchor="start">16</text><rect x="175.0" y="368.0" width="84.0" height="82.0" fill="#fdfde9"/><path d="M171.5 430.4H259.0M171.5 404.8H259.0M171.5 379.1H259.0M198.0 368.0V453.5M236.5 368.0V453.5" stroke="#ece6c8" stroke-width="0.9" fill="none"/><text x="198.0" y="461.0" font-size="8.8" fill="#4f5d64" text-anchor="middle">0</text><text x="236.5" y="461.0" font-size="8.8" fill="#4f5d64" text-anchor="middle">5</text><g clip-path="url(#cB11)"><g transform="scale(.5)" fill="none" stroke-width="4.48" stroke-linecap="round"><path stroke="#00b5ff" d="M400 765zm-6 13zm8-9zm29 4zm-45 10zm2 2zm4 1zm13 5zm3-5zm14 2zm4-6zm1 4zm4 2zm-52 7zm4 1zm1 3zm7 2zm4-6zm11 8zm1-10zm2 9zm11-10zm11 1zm12 2zm-67 17zm6 0zm23 1zm2-7zm5 8zm-37 13zm6-11zm2 7zm18 0zm-35 13zm32 7zm0 42zm-20 4z"/><path stroke="#000092" d="M397 750zm8-3zm2 5zm10-4zm2 3zm-36 9zm9 1zm3 3zm1-3zm4-1zm4-2zm2 4zm3 4zm6-5zm3-2zm6-3zm-43 18zm4-4zm3 5zm10 1zm5-7zm6 1zm3-2zm-27 14zm24-2zm1 2zm5 3z"/><path stroke="#ff1e00" d="M369 856zm64-4zm7 7zm-18 17z"/><path stroke="#c4ff33" d="M384 811zm16 2zm26 2zm-40 20zm11-4zm6 3zm-29 13zm20-3zm12-1zm-25 14zm11 4zm18-7zm-28 19zm26-3zm5-2zm-34 20z"/><path stroke="#33ffc4" d="M417 784zm-36 19zm9-1zm14-9zm7 7zm-19 8zm3 4zm6 3zm7-8zm3 7zm5-7zm-51 16zm4 3zm6-2zm16 3zm20 0zm5-2zm-44 12zm1 1zm7-1zm2-9zm1 7zm1 4zm9-10zm11 8zm8-2zm-35 5zm27 6zm-6 14zm10 8zm2 3zm-9 16zm4-6zm2-3zm5 8zm-50 3zm9 7zm0-8z"/><path stroke="#e4ff13" d="M403 817zm-31 19zm7 3zm1-4zm27-2zm5 4zm0-1zm-31 13zm4 0zm28-7zm-41 11zm15 0zm7 5zm7 3zm3-6zm5 0zm2 2zm2 6zm-42 6zm14-1zm1-4zm8 1zm8 7zm8 3zm5-4zm-12 5zm18 8z"/><path stroke="#0000bb" d="M398 755zm11-1zm9-1zm-33 11zm8 3zm0 0zm6-2zm2 1zm2-1zm13-1zm16 3zm27-7zm-65 17zm14-4zm26 0zm2-4zm-15 35z"/><path stroke="#bb0000" d="M419 872z"/><path stroke="#0001ff" d="M375 747zm22 1zm-19 10zm24 4zm0 1zm29-5zm12 6zm67-4zm-128 14zm26 3zm7-2zm5 0zm7 1zm-52 10zm5 0zm4-3zm3 2zm7 3zm11-7zm18-1zm8 17zm-41 97z"/><path stroke="#0091ff" d="M405 754zm23 0zm-42 3zm25 9zm17-10zm-47 19zm26-4zm7-2zm3 10zm7-6zm11 2zm3-5zm-51 13zm19 0zm7-2zm-30 14zm7 6zm9-8zm5 4zm9-3zm11 0zm0-1zm2 5zm-53 17zm7-3zm2-8zm19 6zm-35 17zm9-11zm26 4zm-18 21zm7 45zm15 3z"/><path stroke="#0000e3" d="M425 748zm-32 17zm8-3zm43 5zm14-3zm-73 13zm2-3zm5 3zm6-5zm1-3zm1 8zm1-6zm3 2zm13 6zm9-7zm3 3zm-27 9zm-15 23zm66 67z"/><path stroke="#e40000" d="M413 855zm17-2z"/><path stroke="#a7ff50" d="M379 811zm10 2zm-5 13zm18-1zm12-4zm-41 18zm19-5zm15 3zm-39 12zm4 0zm16-3zm3 2zm3-3zm5 6zm1-8zm4 7zm-31 12zm12-10zm2 4zm13 1zm0-2zm17 2zm-42 9zm14 6zm4-8zm14 6zm1 0zm2-3zm-30 12zm6-2zm5 4zm32 6z"/><path stroke="#6dff8a" d="M439 784zm-37 18zm3-2zm-15 8zm10-3zm28 6zm-69 16zm29-1zm3-1zm3-4zm3 6zm3-5zm4-1zm10 3zm-42 10zm2 0zm1-4zm5 3zm6 6zm12-1zm1-10zm17 10zm-52 2zm10 11zm9-8zm23 6zm-24 9zm1 3zm10-6zm-9 20zm3-6zm2 5zm10-6zm12 7zm-34 10zm4-3zm10 1zm3-1zm9-1z"/><path stroke="#8aff6d" d="M404 785zm5 5zm2-9zm-14 12zm-5 21zm-8 9zm16 4zm10-3zm5-3zm-50 13zm22 5zm1-4zm22-4zm6 0zm-47 16zm6-5zm0 0zm2 7zm7-1zm1-4zm15 4zm7 3zm2-10zm-36 20zm22-1zm7 0zm0-3zm11-1zm-35 19zm17 0zm0-3zm1-5zm17-1zm-38 15zm18 8zm8 6zm77-3z"/><path stroke="#ff8600" d="M402 827zm-34 36zm10-8zm5 1zm95 5zm-97 9zm19 2zm19 2zm11 10z"/><path stroke="#00d9ff" d="M444 750zm-31 22zm-31 14zm6 3zm5-3zm1 5zm1-9zm12 5zm11-4zm16-3zm-59 23zm1-2zm5-3zm8-1zm6 4zm6-2zm1 0zm2-7zm11 9zm1-5zm6 1zm4-3zm18 3zm-55 13zm5 0zm0-2zm3 4zm8-7zm6 9zm1-3zm2 3zm5-3zm0-2zm10-2zm-40 19zm10-9zm10 7zm-41 13zm11-9zm-1 59zm26-3zm7-1zm10 6z"/><path stroke="#ffea00" d="M420 818zm-21 17zm-32 8zm26 3zm5 4zm0-1zm8-6zm11 4zm-51 9zm5 0zm5 7zm1-4zm4 2zm14 1zm5 0zm8 0zm0 1zm8-6zm-40 13zm8 1zm4-3zm5-4zm21 8zm3-2zm-42 10zm42-4z"/><path stroke="#006dff" d="M391 754zm31-2zm6 0zm-30 8zm19 2zm2-3zm3 8zm0-4zm7-3zm-44 13zm12 6zm16-2zm8-8zm6 7zm7-7zm5 9zm1-10zm-50 19zm3-6zm7 0zm1 9zm2-5zm3 1zm11 1zm8 0zm0-2zm0-3zm-39 20zm2-3zm54-3zm-51 8zm24 7zm0-4zm2 11zm-57 15zm28 50zm10 2zm6 6z"/><path stroke="#920000" d="M432 865z"/><path stroke="#50ffa7" d="M430 778zm-46 22zm3-2zm25 3zm-34 8zm2 5zm27-3zm13 2zm0-4zm-55 18zm1-7zm6 7zm1-2zm3-2zm1-1zm8 4zm13-6zm1 6zm2 0zm2-7zm2 0zm18 7zm-55 13zm9-2zm4 2zm10 0zm8-5zm3 2zm7-4zm5 1zm-32 12zm16 1zm2 1zm3-6zm6 1zm-19 11zm16 6zm-15 15zm1 0zm11-5zm-23 12zm19-3zm7-2zm-37 12zm47 0z"/><path stroke="#0049ff" d="M394 757zm36 9zm-39 8zm5-3zm15 0zm3-1zm2-1zm15 1zm-51 11zm1 2zm2 5zm1-1zm11-5zm9 1zm3 4zm4 3zm0-2zm46-6zm-47 16zm-35 21zm2 12zm10 1zm24 4zm28 16zm15 34zm41 6z"/><path stroke="#ff4300" d="M370 856zm47-3z"/><path stroke="#0024ff" d="M388 755zm5-5zm6 3zm4-5zm-18 16zm5-6zm4-1zm3 9zm20-1zm5-9zm3 11zm1-6zm-46 16zm10-1zm34-7zm2 4zm5 1zm-56 17zm15-2zm16-2zm2 1zm1 1zm1-9zm1 1zm10 6zm2-7zm8 4zm3 3zm4 3zm-47 9zm3 13zm-23 7zm3 0zm41 1zm-43 69zm25 2z"/><path stroke="#ffc800" d="M360 851zm1 0zm9-2zm9-8zm3 6zm4-4zm18-1zm-33 20zm22-7zm19 5zm1 2zm8-3zm-41 7zm8 9zm8-9zm25 7zm-55 9zm34-6zm22 0z"/><path stroke="#ff6400" d="M388 848zm42-1zm-62 14zm9-5zm33-1zm-15 17zm62-6zm-43 12z"/><path stroke="#16ffe1" d="M460 765zm-23 11zm-59 12zm4-3zm4 2zm50 3zm6-3zm-53 10zm0-2zm2 3zm5 4zm6-1zm6-3zm13 5zm-35 11zm8-9zm1 5zm1 5zm0-11zm1 4zm15 7zm2-1zm-43 9zm4-1zm6-2zm0-1zm4 7zm2-10zm10 1zm10 6zm4 2zm-32 10zm0 0zm6 4zm25-3zm0 3zm-35 4zm15 16zm21 16zm-30 12zm4-8zm15 1zm1 7zm0-8zm-25 11zm4 7zm6-9zm6 6z"/><path stroke="#ffa700" d="M378 849zm42 1zm-50 4zm22 5zm25 2zm-49 5zm23 4zm30-6zm0 9zm44-5zm-89 8zm59 0z"/><path stroke="#50ffa7" d="M429 775zm-23 7zm13 1zm32 0zm9-3zm-68 13zm5 6zm0 2zm0-3zm7-5zm6 8zm3 0zm2 2zm-24 10zm3-1zm9 2zm21-3zm-58 5zm3 2zm6 2zm6 5zm6-4zm6-5zm20 0zm1 4zm1 6zm2-3zm-48 12zm1 3zm6-10zm35 1zm7 5zm-41 10zm0-1zm18 6zm2-5zm16 29zm-41 14zm2-11zm2 2zm14 3zm2-2zm7 3zm0-1zm2-2zm3 1zm-7 8z"/><path stroke="#ffea00" d="M423 821zm-56 12zm3 6zm34 0zm3 2zm-38 13zm13 2zm2 0zm4 4zm23-8zm1 0zm-39 22zm5-3zm1-2zm0 5zm3 0zm6-6zm5-2zm13 5zm1 1zm3-1zm-29 5zm27 0zm23 15z"/><path stroke="#e4ff13" d="M409 803zm-26 17zm16 1zm-20 12zm-3 18zm13-5zm13 3zm12-9zm-6 21zm4-7zm6 9zm2-11zm-42 15zm4 3zm13-5zm2-1zm2 9zm18-6zm-33 14zm13-5zm1 3zm44 3z"/><path stroke="#0049ff" d="M416 752zm5 3zm-27 10zm3-6zm0-2zm6 8zm3-4zm29 1zm3 2zm-40 6zm1 1zm1 6zm5-5zm1 1zm1-3zm0-2zm25 6zm-39 9zm9 0zm3 4zm5-6zm3 1zm1 2zm2-1zm3 8zm-37 4zm9 7zm6-10zm4 5zm1-4zm-30 13zm1-2zm35 0zm-45 15zm33 15zm35 28zm-45 28z"/><path stroke="#00b5ff" d="M406 765zm5-3zm38 1zm-65 9zm37 7zm5-7zm-52 17zm7-8zm2 7zm2-1zm2-6zm3 7zm5-3zm16-1zm16 3zm0 1zm9 3zm20-7zm-87 18zm10-6zm9 6zm2-5zm2-4zm10 8zm0-6zm12-2zm-39 12zm12 0zm2 9zm15-3zm3-7zm-49 18zm0-3zm22-2zm4 10zm1-11zm7 2zm9 4zm5-4zm3 4zm3-5zm-27 14zm5 0zm12 14zm-11 40zm11 2zm0-3zm6-7zm1 4zm-20 13zm6-6z"/><path stroke="#ffc800" d="M416 839zm-22 8zm23 4zm-39 12zm2-1zm10-10zm6 2zm3-2zm2 4zm7 2zm11 0zm-43 14zm2-1zm24-6zm-31 15zm16-4zm15 1zm27 0z"/><path stroke="#16ffe1" d="M375 791zm12 0zm11-7zm7 1zm7 5zm9 0zm15 0zm-68 13zm3 0zm8-6zm1 0zm9 1zm5-4zm3 6zm-7 13zm3 0zm10-8zm1 0zm0-1zm2 7zm23-7zm-67 18zm8-6zm7 1zm4 1zm8 8zm3-5zm10-5zm11 10zm7-5zm-47 8zm15-1zm2 4zm6-4zm3 3zm0 8zm4-2zm3-9zm3 1zm1 7zm3-1zm-35 13zm5 0zm14 2zm3 5zm11 19zm-36 13zm2-1zm4-3zm10 3zm46 1zm-50 4z"/><path stroke="#ff6400" d="M419 861zm4-1zm-48 13zm45-4zm3-4zm4 9zm12-3zm8-5zm-22 15z"/><path stroke="#e40000" d="M370 870z"/><path stroke="#000092" d="M402 753zm0-1zm6 1zm1 1zm1-4zm21 5zm-47 1zm2 0zm9 8zm0 3zm20-2zm21-3zm-52 14zm7-7zm1 3zm17-4z"/><path stroke="#ff1e00" d="M423 861zm-8 7z"/><path stroke="#00d9ff" d="M423 765zm-27 7zm6 5zm14 0zm25 0zm-57 10zm2-1zm22 2zm3 3zm4-8zm14-2zm18-1zm26 5zm-91 11zm6 5zm7-1zm12-8zm3 4zm0 0zm10 7zm6 0zm-51 4zm5-1zm4 3zm2-2zm2 3zm10-6zm3 4zm6 1zm3-1zm16 0zm-64 18zm2-9zm6 10zm13-10zm17 1zm2 2zm4 2zm8 4zm-53 6zm2 5zm6 2zm4-6zm5 5zm0 0zm13 9zm7 34zm-23 9zm1 3zm10 4zm29-8z"/><path stroke="#0091ff" d="M426 754zm-31 5zm28 5zm41-3zm-93 9zm63 7zm-61 6zm11 7zm7-2zm2-3zm2-5zm0 7zm4-2zm0-2zm4 5zm1 1zm13 0zm-28 5zm3-1zm1 1zm2 7zm1-3zm0-4zm17 0zm2 8zm10-5zm-49 13zm0 5zm5-1zm10 3zm15 3zm12 2zm-5 7zm-35 57zm30 3z"/><path stroke="#0000bb" d="M437 751zm12-5zm-66 16zm12 1zm1-6zm5 8zm2-6zm40 1zm-45 9zm13-1zm1 8zm-15 13zm39-4zm15 4zm-89 14z"/><path stroke="#8aff6d" d="M397 803zm3-3zm16-7zm-44 22zm19-11zm2 6zm0 2zm-26 8zm11 1zm6 3zm10-1zm8-6zm7 3zm1 2zm5-6zm9 11zm-47 10zm1-3zm14-6zm-29 17zm3-5zm11 3zm1 5zm24-2zm1-3zm5 2zm9-1zm-38 19zm0-11zm11 11zm1-11zm2 7zm13 3zm0-3zm-15 15zm2-5zm5-4zm6 2zm8-3zm2 4zm1 3zm-24 10zm6 1zm1 4zm2-10zm14 4zm2 5z"/><path stroke="#a7ff50" d="M424 782zm-46 18zm3-2zm-7 26zm19 1zm0-6zm20 4zm8-7zm-37 18zm2-6zm3 0zm2 4zm3 4zm11 1zm3-7zm29 5zm-64 5zm2 4zm2-4zm5 6zm4-2zm0 0zm2 6zm7-7zm11 4zm4 2zm1 0zm3-9zm-33 17zm0 3zm6-8zm9 4zm-13 17zm5-6zm2-1zm19-1zm-22 16zm1 0zm9 2zm51-1zm-58 6zm31 2z"/><path stroke="#bb0000" d="M370 862zm-6 9z"/><path stroke="#ff8600" d="M365 849zm11 1zm2 11zm35-4zm7-3zm-53 20z"/><path stroke="#33ffc4" d="M421 778zm0-1zm6 1zm-36 11zm22 1zm6-4zm15 2zm9-5zm-68 15zm2 1zm14-2zm8 1zm10-5zm3 6zm2 2zm-30 4zm21 8zm8-3zm11-2zm-56 18zm8 1zm3-2zm2-6zm6 5zm10-3zm2-3zm5-1zm3 6zm8-5zm-45 13zm0 7zm4-5zm2 3zm10-1zm4-6zm22 10zm3-9zm-29 13zm14 7zm1-8zm5 3zm8 2zm-45 36zm10 3zm6-7zm1 4zm5-5zm15 6zm6 2zm1-4zm1 0zm-23 11z"/><path stroke="#ff4300" d="M369 867zm61-2z"/><path stroke="#6dff8a" d="M387 796zm16 7zm46-6zm-74 16zm14-2zm12 1zm3 0zm16-7zm-54 16zm15 0zm1-5zm14 6zm1 1zm2-7zm10 1zm12 4zm-52 11zm10 3zm4 3zm13-10zm0 1zm12 3zm6 0zm-33 12zm11-4zm0 0zm2 1zm1 10zm1 0zm10-10zm7-1zm1 11zm-1 1zm-22 21zm0-9zm24 3zm-41 14zm6 6zm13-8zm4 5zm7-7zm3-1zm1 5zm-12 9zm10-2z"/><path stroke="#0000e3" d="M424 754zm-45 9zm16-1zm19-3zm0 8zm0-5zm6 1zm9-4zm5 5zm12-5zm-63 13zm26-1zm2 0zm4 5zm-17 4zm-24 23zm55 57z"/><path stroke="#ffa700" d="M397 858zm3 16zm1-9zm-31 16zm53-1zm-48 11z"/><path stroke="#920000" d="M449 854zm8 6z"/><path stroke="#c4ff33" d="M391 803zm-18 18zm38 0zm-39 18zm6 0zm3-1zm27-3zm10 4zm-35 12zm13-11zm4 8zm8-1zm11-2zm-41 15zm6-7zm2 10zm0-8zm2 8zm5-1zm2-10zm7 2zm6-1zm10 1zm-41 15zm2-2zm9 8zm7-11zm4 4zm9-2zm3 4zm5 1zm1-4zm1 0zm-46 9zm29 4zm16-2z"/><path stroke="#0001ff" d="M383 743zm4 10zm44-4zm-50 17zm0-9zm21 3zm8-2zm7 9zm10-2zm-50 14zm12-7zm27 7zm5-9zm3 3zm37 4zm-79 10zm11-1zm2 3zm7-6zm10-2zm22 10zm18-5zm-11 16zm-59 21zm46 41zm9 23z"/><path stroke="#0024ff" d="M387 753zm10-5zm33 6zm-44 12zm6 1zm6-6zm17 2zm-30 15zm13-1zm0-7zm10 3zm6-5zm7 2zm0-2zm7 0zm5 8zm-45 12zm9-4zm11 2zm2-5zm21 10zm-32 3zm82 91z"/><path stroke="#006dff" d="M432 755zm-42 6zm6 12zm23 1zm4 5zm7-1zm1-4zm19 1zm-72 13zm7-1zm16-2zm0-2zm21-2zm-38 21zm28-10zm8 9zm0-7zm6 1zm-65 20zm16-3zm33 0zm-43 5zm23 3zm21-3zm0 5zm-37 12zm55 4zm-56 47z"/><path stroke="#ff8600" d="M369 850zm49 8zm1 1zm-51 14zm9-2zm2-6zm9 6zm11 0zm20 3z"/><path stroke="#ff1e00" d="M383 870z"/><path stroke="#ffa700" d="M371 849zm1-3zm-3 8zm8 0zm10 8zm1 0zm17-3zm12 1zm2 2zm-41 9zm1 0zm47-4z"/><path stroke="#0001ff" d="M396 747zm20 3zm8-6zm-21 16zm1 3zm2 3zm16-4zm24-3zm-56 19zm9-10zm6 4zm4 1zm9 1zm1-6zm14 9zm21-8zm-72 14zm12-3zm23 2zm2 11zm8 15zm5 78z"/><path stroke="#ffea00" d="M378 810zm22 13zm-21 6zm7 7zm-16 14zm1 1zm1-4zm19 2zm4-5zm13 7zm11-7zm2 6zm-47 6zm0 6zm13-8zm12 3zm6-3zm9 3zm-39 18zm10-2zm17-5zm7 3zm1 1zm1-5zm1 6zm3-6zm6 17zm26-7z"/><path stroke="#ff6400" d="M376 850zm68-8zm-69 21zm12-7zm30 7zm2-11zm-48 18zm45 2zm11-4zm28 7zm38-4zm-59 12z"/><path stroke="#ffc800" d="M389 838zm-12 8zm17 5zm12-7zm0 0zm-39 9zm5 8zm2 2zm6-4zm0-7zm40 5zm-49 15zm5-8zm10 6zm36-5z"/><path stroke="#0000e3" d="M387 754zm11 1zm10-7zm2 4zm8 2zm5-2zm-39 11zm3-4zm1 5zm3-6zm24 2zm9 5zm23-7zm-64 16zm13 0zm2-5zm18 5zm0 2zm20-3zm16 2zm-52 6z"/><path stroke="#c4ff33" d="M385 819zm11 5zm13 11zm5-6zm24 8zm-27 6zm2 2zm-39 16zm24 1zm1 0zm12-4zm-29 7zm1 5zm4 4zm4-4zm6-2zm6 5zm-29 11zm64-6z"/><path stroke="#000092" d="M381 744zm5 11zm16-3zm0-3zm4 2zm3 1zm13 2zm-41 9zm1 1zm3-4zm5 4zm1 3zm4-7zm0 5zm1-2zm4-1zm3-2zm1 2zm1 4zm2-4zm5-5zm12 5zm3-2zm34 3zm-79 5zm2 2zm16 5zm3-1zm1 5zm6 2zm-27 12z"/><path stroke="#8aff6d" d="M406 781zm-19 16zm-12 16zm6-4zm31-3zm5 1zm-37 12zm3-2zm18 9zm17-1zm-53 8zm0 4zm1-4zm21-2zm8 2zm10-2zm-25 20zm12-6zm2 6zm15-2zm2-9zm2 3zm0-3zm-33 17zm11 1zm18-6zm4 4zm-22 19zm16-2zm-38 11zm11-3zm9 0zm5 1zm17 4zm0-8zm3 11zm4 0z"/><path stroke="#00b5ff" d="M390 760zm44 3zm18 3zm-37 8zm34-5zm-67 16zm11 1zm4 5zm3 0zm6-3zm2-4zm16 3zm-42 7zm4 0zm4 9zm4-2zm11-9zm25 2zm8-1zm-68 18zm6 3zm3-2zm37 0zm4-1zm0-6zm6 3zm-61 11zm4 1zm18-1zm15-2zm-17 22zm18 48zm-17 5z"/><path stroke="#6dff8a" d="M412 801zm-47 11zm15-2zm7-2zm1-2zm2 1zm22 2zm13 2zm3-1zm-59 17zm13-8zm3 5zm23 0zm-24 14zm0 1zm10-6zm0 3zm2-5zm0 8zm10-2zm6-9zm9 1zm-61 11zm20 0zm3 7zm2 0zm0-1zm5 0zm12-6zm1 4zm3 6zm7-4zm4-2zm-43 8zm17 1zm1 3zm3-1zm5 5zm-19 6zm6 6zm3 0zm7-6zm12 3zm5-1zm-45 17zm11-7zm7-1zm1 4zm5 4zm3-4zm8 3zm-29 9zm25 0z"/><path stroke="#0049ff" d="M402 753zm27 1zm-48 13zm28-8zm6 5zm3-8zm5 8zm4 2zm1-10zm4 10zm-46 6zm10 2zm3-6zm5 11zm19-6zm3 4zm8-2zm5 3zm-44 13zm11-4zm2-1zm1-3zm3 4zm6-2zm1-1zm6 1zm-60 17zm10-4zm7-5zm4 1zm20-2zm11 1zm-49 20zm11-4zm64 38zm-1 6z"/><path stroke="#e4ff13" d="M395 811zm-6 9zm5-1zm14 8zm-38 11zm18-3zm29 4zm-42 11zm15-8zm11 5zm17 3zm-46 9zm3 3zm5-7zm3 6zm24-6zm-52 10zm37 1zm1 1zm0 4zm6-6zm0 9zm37-1zm-56 8zm42-5zm56 5z"/><path stroke="#920000" d="M453 862z"/><path stroke="#50ffa7" d="M392 791zm-7 7zm1 1zm1-2zm3-1zm43-2zm-64 14zm3 4zm7-4zm35 3zm-39 13zm7 3zm7-10zm17-1zm9 5zm-46 16zm5-3zm8 1zm22-1zm6-1zm0-1zm1 1zm-28 8zm29-1zm-21 18zm8-1zm-12 17zm2-5zm3 2zm19-6zm-29 11zm32 9zm8 0zm-56 5zm7 9zm46-10zm5 0z"/><path stroke="#33ffc4" d="M465 761zm-40 11zm-30 14zm22 0zm-42 17zm5-10zm1-1zm2 11zm15-7zm0 2zm21 1zm-37 7zm4 4zm1-5zm1 0zm2 7zm6 1zm18-9zm-47 12zm15 11zm3-4zm10-7zm5 10zm5-9zm-36 11zm29 4zm17-1zm-44 11zm15 15zm18 1zm-37 25zm20-5zm29 7z"/><path stroke="#ff4300" d="M370 859zm65 5z"/><path stroke="#0024ff" d="M377 753zm27 1zm17-1zm5-7zm-43 19zm7-8zm10 7zm4 2zm7-1zm0 0zm2 1zm15 1zm7-1zm32-2zm-77 11zm9-6zm4 0zm3 8zm8 1zm6-6zm0 5zm3-4zm10-5zm0 9zm6 1zm9 0zm12-10zm-82 15zm7-2zm26 8zm4-4zm49 4zm-79 6zm-7 11zm14 0zm-11 10zm43 26zm0 1zm-13 41z"/><path stroke="#0091ff" d="M428 746zm23 6zm-29 7zm-29 20zm7-2zm13 1zm6 1zm16-9zm-53 11zm6 7zm4-7zm3 5zm2-3zm14-3zm11 7zm-40 6zm1 3zm5 5zm0-3zm25 0zm2-5zm41-1zm-38 20zm4 2zm-51 11zm2 5zm4 8zm45-8zm-22 55zm5 1zm1 0z"/><path stroke="#16ffe1" d="M426 770zm-41 12zm11 6zm-21 10zm36-6zm-44 22zm2-10zm7 0zm21 0zm9 1zm3 2zm4 4zm0-6zm2 1zm1 8zm0-6zm4 3zm-55 11zm5-3zm7 1zm7 2zm3-1zm0 0zm6-4zm5 0zm6 10zm2-4zm8-1zm1-2zm-34 12zm20 0zm-4 8zm4 7zm4 2zm1 2zm2-3zm-25 37zm18-3zm0 0zm1-6zm6 10zm-10 7z"/><path stroke="#0000bb" d="M415 755zm-33 6zm26-4zm8 8zm-38 3zm11 4zm4 3zm14 1zm1 0zm2-7zm4 1zm2 16z"/><path stroke="#bb0000" d="M372 864z"/><path stroke="#a7ff50" d="M413 782zm-18 19zm13-2zm-12 6zm5 0zm-42 17zm9 2zm11-2zm17 0zm2-2zm-23 18zm1-4zm1-6zm30 6zm1 5zm9-5zm-49 7zm7 0zm4 3zm6-3zm0 5zm5-2zm8 4zm2-5zm0 5zm1-3zm10-2zm12 6zm-52 13zm3-8zm5-1zm5 3zm1-4zm13 3zm3 1zm0 5zm3-6zm8 7zm1-1zm2-8zm-36 21zm4-3zm0-7zm30 9zm-40 12zm12-2zm17 1zm10-5zm2 7zm7-5z"/><path stroke="#e40000" d="M425 866zm-3 12z"/><path stroke="#006dff" d="M393 754zm36 1zm11-3zm23 6zm-70 10zm17 6zm5 4zm16 1zm1-6zm6 2zm3-1zm15 5zm-77 2zm6 2zm3 5zm7 3zm22-9zm2 0zm6-2zm-43 17zm4-1zm6-3zm9 0zm21 7zm-46 6zm5 6zm43-7zm-10 16zm-40 15zm3-4zm8 7zm24-11zm-11 58zm11-2zm1 4z"/><path stroke="#00d9ff" d="M436 761zm-34 18zm30-1zm2-3zm8 2zm-57 14zm3-7zm8-2zm13 7zm4-7zm-32 15zm0 3zm28-1zm1-1zm8-4zm2 1zm5 3zm-40 6zm30 3zm0 6zm6-2zm-42 5zm1 1zm3 6zm17 0zm1 1zm3-8zm69 0zm-88 21zm1-6zm6 6zm9-8zm1 3zm0 14zm0 4zm0 3zm-4 25zm3 3zm2 4zm7 2zm-11 1zm6 11z"/><path stroke="#ff1e00" d="M434 851zm5 4zm-71 12zm20-1zm44-1zm-57 11z"/><path stroke="#33ffc4" d="M384 791zm38-2zm3-1zm-47 14zm6-9zm1 7zm23-3zm2 5zm-37 4zm4 1zm2-2zm12 4zm1-2zm4 5zm4-5zm0-3zm5 9zm-27 10zm0-6zm5 6zm7-2zm6-3zm0 2zm17-3zm-47 16zm3-4zm14 5zm3 2zm5-8zm14 4zm7 2zm-29 15zm2-5zm21 9zm-13 33zm8-5zm14-4z"/><path stroke="#0049ff" d="M383 760zm4 7zm14-8zm7 6zm10-4zm3 3zm7 1zm5-2zm-34 8zm5 5zm1-3zm1 5zm1-3zm5 4zm44-6zm-72 7zm3 7zm1-2zm5 2zm21 0zm10 0zm1 0zm2-3zm4-4zm25 7zm-36 5zm7 7zm12 0zm-43 10zm-24 15zm41-3zm-9 67z"/><path stroke="#ff6400" d="M440 858zm-22 14z"/><path stroke="#ff8600" d="M378 861zm41-3zm12 2zm-59 5zm8 1zm31 4zm7 1z"/><path stroke="#920000" d="M438 858z"/><path stroke="#0000e3" d="M405 748zm-33 15zm15 3zm17-6zm0-4zm3 10zm3 0zm6-1zm8-6zm0 5zm5 2zm2 1zm-50 11zm4-5zm7 3zm1-8zm13 1zm25 10zm-54 4zm16-2zm25 10zm12-6zm-49 11zm50-4zm57 69zm-31 14z"/><path stroke="#e4ff13" d="M370 831zm9 8zm24-11zm8 0zm-41 17zm2 0zm1 4zm5-6zm13 6zm9-1zm-26 5zm10 3zm10 5zm11-7zm4 9zm7-4zm5 3zm-49 4zm1 4zm5-4zm9 5zm24 1zm1-3zm-34 10zm56-1z"/><path stroke="#0091ff" d="M400 748zm-3 10zm29-1zm-34 21zm34 1zm1-9zm-49 11zm9 4zm8-3zm3 2zm9 2zm5-5zm10 8zm17 1zm-48 2zm5 11zm13-3zm1-3zm1-1zm-43 18zm11-7zm20-3zm15 83zm47-6zm-72 8zm1 0z"/><path stroke="#ffea00" d="M420 832zm-51 12zm7 4zm10-6zm4 8zm7-10zm-23 22zm4-8zm2 3zm17-3zm16-1zm1 5zm-47 15zm3-5zm11 0zm6 6zm1-7zm16 2zm17 5zm-55 3zm37 3zm14-4zm11 3z"/><path stroke="#0001ff" d="M405 740zm-22 15zm28-5zm6-2zm4 1zm-18 13zm8-1zm0 2zm4 1zm43 0zm-49 6zm0-2zm4 11zm6-1zm-38 6zm37-4zm7 2z"/><path stroke="#00b5ff" d="M420 745zm3 13zm1 8zm13-7zm2-3zm-56 17zm33 4zm44-1zm-80 11zm18-6zm4 8zm8 0zm1-8zm0-1zm9 7zm2-5zm8 5zm-41 7zm31 8zm1-10zm7 4zm15-2zm-77 18zm5-2zm2 3zm5 2zm8-7zm5 2zm14-6zm20 2zm-60 13zm30-3zm7 1zm6 7zm6 0zm-31 9zm9 0zm24-3zm-9 38zm-15 18zm6-1zm4-3zm1 5zm2-3zm0-1zm-27 6zm1 1z"/><path stroke="#c4ff33" d="M393 797zm-24 19zm9 5zm1 0zm-9 18zm2-2zm5-6zm1 6zm6-2zm2-4zm23 7zm10-10zm-43 13zm4 7zm21-2zm-17 6zm5 5zm1 4zm7 0zm9 0zm-34 14zm3-8zm9 0zm2 7zm11-7zm2 4zm14-6zm-13 14zm-3 9z"/><path stroke="#a7ff50" d="M373 803zm40 11zm-29 7zm20 3zm8-8zm-40 21zm5-6zm22 3zm1-1zm4-4zm-26 21zm1-8zm1 4zm1-5zm1 2zm2 4zm2-1zm30 0zm-29 9zm2-3zm6 0zm6 3zm2 1zm3 6zm-36 13zm13-1zm2-2zm1-5zm16 6zm1-9zm2 2zm1 9zm0 0zm7-8zm-36 16zm49 1zm-52 6zm10-2zm0 8z"/><path stroke="#6dff8a" d="M405 790zm-24 20zm13-2zm1 0zm8 0zm-26 19zm3-7zm15 1zm1-4zm7 3zm1 4zm4-8zm0 11zm-43 11zm1-2zm1-4zm4-4zm4 9zm3-1zm0 3zm4-3zm4-4zm4-1zm10 3zm3 1zm14 2zm-40 11zm26-5zm4 1zm4 2zm1 5zm-45 9zm31-4zm10 6zm0-6zm10 7zm-22 12zm8 0zm0-1zm0-9zm7 4zm-15 15zm4 1zm9-7zm-35 10zm41 1z"/><path stroke="#00d9ff" d="M422 778zm6-5zm-45 16zm11-4zm14 5zm1-8zm-39 14zm9-1zm1 1zm10 1zm14-1zm10-1zm8 7zm-51 13zm6-7zm30 7zm7-5zm-57 7zm15 7zm18-5zm4 5zm4-3zm1-4zm25 7zm-55 5zm21 8zm27-5zm9-3zm-19 26zm-26 31zm3 0zm11-2zm9 4z"/><path stroke="#0024ff" d="M411 755zm7-2zm-16 10zm9 2zm1-7zm14 3zm1 1zm1-2zm31 5zm-83 10zm3-4zm7-1zm3 7zm0-6zm12 1zm16 3zm3 1zm11 3zm2-8zm15 7zm-59 9zm7 4zm26-7zm23 4zm-28 4zm6 0zm7 15zm0 32zm-4 13z"/><path stroke="#ffa700" d="M370 826zm8 28zm10 9zm6-9zm26 0zm-49 14zm3-2zm20 0zm3 5zm8-3zm10 0zm1 9z"/><path stroke="#16ffe1" d="M414 778zm4 0zm-37 12zm4 0zm1-2zm24-3zm-36 12zm7-5zm3 10zm0-3zm15 1zm13 2zm2 1zm1-4zm2-2zm9-4zm-69 17zm9-3zm7-2zm3 0zm8-1zm6 11zm9-5zm0-1zm3-5zm5 10zm5-8zm-34 21zm4-7zm1-1zm13 8zm1-6zm12-3zm1 8zm3-10zm-41 21zm6-1zm3-2zm12 5zm16 4zm-12 14zm-22 34zm2 0zm5-3zm2 1zm1 2zm12-3z"/><path stroke="#ffc800" d="M381 832zm17 0zm2-1zm-35 23zm35 8zm13-7zm-38 17zm10-1zm5-3zm11 3zm5 0zm4-1z"/><path stroke="#000092" d="M383 753zm14 1zm1-5zm2 5zm24-3zm1 3zm-39 5zm3 5zm1-5zm6 3zm8 10zm2-2zm1 7zm5-3zm12-5zm-25 13zm44-1zm-21 12z"/><path stroke="#8aff6d" d="M396 815zm5 0zm9-9zm2 1zm-42 16zm27 2zm3 0zm0 1zm2 1zm3-1zm9 0zm-54 4zm11 8zm15-4zm2 4zm2 1zm1 0zm12-1zm7-10zm4 8zm1 0zm-42 10zm14-2zm3-4zm2 7zm14-4zm13 3zm0 0zm1 1zm-38 5zm11 3zm7 4zm6 2zm-9 5zm0-1zm9 10zm0-3zm7-8zm1 6zm-42 12zm28-3zm11-3zm-40 12zm33 1zm7 0zm9 8zm1-8z"/><path stroke="#0000bb" d="M402 742zm-22 23zm6-2zm21-5zm6 8zm22-1zm-50 11zm1 1zm15-8zm9 6zm2 2zm1-3zm1-3zm17 6zm5-8zm-63 27z"/><path stroke="#e40000" d="M418 858z"/><path stroke="#50ffa7" d="M377 789zm45-3zm-30 16zm20-6zm1 6zm4-4zm-50 6zm3 5zm24 4zm3 1zm2-1zm3-9zm1 0zm4 4zm12-3zm-55 14zm1 0zm9 3zm1 5zm5-6zm2-4zm3 2zm26-2zm8 4zm-52 11zm10 1zm3-2zm8 1zm2-4zm0 6zm12-3zm7 5zm-20 7zm19 5zm-14 7zm2-2zm2 10zm6-2zm6 0zm-6 11zm-32 15zm11-1zm16-4zm2-3zm16 5zm5 6z"/><path stroke="#ff4300" d="M415 862zm11 2z"/><path stroke="#006dff" d="M403 751zm9 2zm-26 8zm16 5zm1 0zm13-8zm11 3zm19 6zm13-2zm-73 9zm25 4zm7-7zm7 4zm10-2zm19 3zm-59 4zm7 8zm10-6zm33 6zm-42 8zm15-3zm-51 13zm45 5zm-2 68zm14 5z"/></g></g><rect x="264.8" y="368.3" width="4.6" height="82.9" fill="url(#jet)"/><path d="M269.4 447.4h2" stroke="#9aa4a8" stroke-width="0.7"/><text x="273.0" y="450.5" font-size="8.8" fill="#4f5d64" text-anchor="start">4</text><path d="M269.4 437.9h2" stroke="#9aa4a8" stroke-width="0.7"/><text x="273.0" y="441.0" font-size="8.8" fill="#4f5d64" text-anchor="start">6</text><path d="M269.4 428.3h2" stroke="#9aa4a8" stroke-width="0.7"/><text x="273.0" y="431.4" font-size="8.8" fill="#4f5d64" text-anchor="start">8</text><path d="M269.4 418.8h2" stroke="#9aa4a8" stroke-width="0.7"/><text x="273.0" y="421.9" font-size="8.8" fill="#4f5d64" text-anchor="start">10</text><path d="M269.4 409.3h2" stroke="#9aa4a8" stroke-width="0.7"/><text x="273.0" y="412.4" font-size="8.8" fill="#4f5d64" text-anchor="start">12</text><path d="M269.4 399.7h2" stroke="#9aa4a8" stroke-width="0.7"/><text x="273.0" y="402.8" font-size="8.8" fill="#4f5d64" text-anchor="start">14</text><path d="M269.4 390.2h2" stroke="#9aa4a8" stroke-width="0.7"/><text x="273.0" y="393.3" font-size="8.8" fill="#4f5d64" text-anchor="start">16</text><path d="M269.4 380.7h2" stroke="#9aa4a8" stroke-width="0.7"/><text x="273.0" y="383.8" font-size="8.8" fill="#4f5d64" text-anchor="start">18</text><path d="M269.4 371.2h2" stroke="#9aa4a8" stroke-width="0.7"/><text x="273.0" y="374.3" font-size="8.8" fill="#4f5d64" text-anchor="start">20</text><rect x="303.0" y="368.0" width="84.0" height="82.0" fill="#fdfde9"/><path d="M299.5 430.4H387.0M299.5 404.8H387.0M299.5 379.1H387.0M326.0 368.0V453.5M364.5 368.0V453.5" stroke="#ece6c8" stroke-width="0.9" fill="none"/><text x="326.0" y="461.0" font-size="8.8" fill="#4f5d64" text-anchor="middle">0</text><text x="364.5" y="461.0" font-size="8.8" fill="#4f5d64" text-anchor="middle">5</text><g clip-path="url(#cB12)"><g transform="scale(.5)" fill="none" stroke-width="4.48" stroke-linecap="round"><path stroke="#00d9ff" d="M660 754zm16-9zm-28 22zm11-2zm21 1zm12-5zm-32 11zm5-2zm2 1zm2 7zm2 0zm19-5zm2-4zm3 9zm22-1zm-80 7zm14-4zm17 1zm-25 35zm4 9zm-19 11zm5-5zm8 8zm2-7zm1 0zm1-4zm1 6zm6 5zm-32 1zm2 0zm7 0zm1 11zm5-7zm6 5zm0-3zm1-2zm8 7zm-12 1zm11 3zm-14 10zm6 8zm2-1zm1-5zm3 7zm6 10zm6 1zm0-4zm7 6z"/><path stroke="#ffa700" d="M665 790zm8-8zm7 5zm-45 9zm7 0zm27 6zm-40 2zm21 4zm7 4zm2 2zm1-2zm24-2zm-20 14zm6 12zm-5 6zm4 1zm-19 11zm29 6zm70 11zm-82 5z"/><path stroke="#bb0000" d="M641 800zm1-1zm26 12zm45 49z"/><path stroke="#50ffa7" d="M652 763zm18 8zm13 7zm7-1zm-40 8zm3-2zm8 2zm1 1zm5-5zm28 9zm-68 13zm18 8zm3 3zm1-4zm-15 17zm16-3zm-25 5zm14 9zm-20 7zm22-1zm15 4zm-28 11zm8 3zm18-7zm4 5zm-31 12zm22-5zm2 5zm9-5zm-5 11z"/><path stroke="#8aff6d" d="M715 765zm-38 12zm15-8zm-61 22zm10-9zm3 2zm4 2zm12 3zm1 2zm25-4zm-27 9zm-25 10zm11 8zm21-6zm14-3zm-25 12zm1 8zm1 1zm3-10zm-18 19zm4-4zm8 1zm-18 19zm2-6zm4 1zm20-5zm-35 21zm3-10zm3 2zm8-2zm5 1zm3 2zm6 2zm1 0zm2-4zm-14 22zm1-1zm10-3zm12-1zm1 3zm-46 4zm22 4zm3 4zm5-1zm18-6zm3 6zm-44 15zm11-10z"/><path stroke="#a7ff50" d="M646 764zm56 3zm-34 10zm-32 9zm2 1zm3-5zm1 5zm22 1zm3-7zm5 2zm5 7zm6-4zm9-1zm-53 10zm4 2zm22 6zm4-9zm3-1zm-31 11zm5 11zm15-2zm3-9zm10 8zm2-1zm-18 5zm9 9zm-39 14zm20-2zm16-2zm9 4zm-46 12zm31-5zm-16 11zm3-5zm11 7zm2-2zm0-3zm5 1zm0 0zm7 3zm2-1zm-37 14zm7-7zm1 10zm17-2zm3 1zm-34 12zm3-9zm2 11zm15-2zm5-6zm14 7zm18-2zm-40 10zm0-5zm20-1zm4 1z"/><path stroke="#0049ff" d="M675 751zm18 0zm-56 15zm23-6zm2 2zm7 4zm13-5zm-43 13zm24-3zm36 10zm-75 33zm8 0zm1-2zm4 0zm8 5zm7 3zm-4 27zm8 1zm-27 14zm56-2zm-45 7zm2 21z"/><path stroke="#0000e3" d="M661 740zm-15 18zm70 7zm-88 59zm2-2zm1 5zm7-8zm2 2zm3 0z"/><path stroke="#33ffc4" d="M674 754zm-15 8zm23-5zm-40 13zm6 7zm14 0zm8-7zm5-2zm7 2zm3 5zm31-7zm-78 17zm2-2zm14-2zm4 3zm20 0zm3-4zm-49 25zm36 10zm-16 7zm6-5zm-31 11zm25 3zm2 1zm4 4zm-20 11zm2 0zm2-4zm9 6zm7-3zm0-1zm9 4zm-42 5zm8 5zm18-7zm4 0zm-16 19zm2 0zm-18 12zm12 3zm2 0zm17-1zm4-1zm4 0zm-16 4z"/><path stroke="#0024ff" d="M658 752zm20 0zm4 2zm-32 3zm1 7zm63 0zm-77 10zm51-1zm18 2zm-70 45zm-11 9zm10-1z"/><path stroke="#0091ff" d="M653 754zm21-1zm-33 11zm23-7zm1 9zm9-7zm2 4zm12 3zm-42 12zm9-10zm4 1zm6-1zm12 1zm19-1zm-30 13zm46 6zm-86 24zm3 4zm2 4zm7 8zm17-6zm-39 12zm14 0zm-14 18zm35-8zm-10 9zm6 0zm8 21zm-25 3zm8 0z"/><path stroke="#6dff8a" d="M667 763zm11 4zm-45 12zm35 0zm19-9zm2 7zm-20 13zm1-3zm9-7zm2 5zm14 14zm-66 7zm3 4zm3 2zm14 0zm-25 12zm23-7zm15 1zm1 15zm1-1zm-25 15zm2-6zm3 7zm18 1zm-23 7zm4 0zm7 5zm7-6zm11 5zm4-1zm-40 5zm0 6zm15-6zm4 0zm2 7zm2 0zm2 0zm10-2zm-33 10zm12 2zm19 3zm7-7zm7 10zm31-1zm-80 2z"/><path stroke="#000092" d="M653 748zm2 5zm9 0zm2-3zm11 5zm-32 9zm8-6zm25 5zm-64 56zm7 0zm14 6zm1-4zm1-2z"/><path stroke="#ff1e00" d="M662 805zm6 30zm0 19zm49 27z"/><path stroke="#ffea00" d="M660 779zm-2 9zm6 2zm4-3zm19 4zm5-1zm-61 8zm4-3zm3 2zm15 3zm4-1zm16-7zm3 2zm4 0zm4 2zm14 0zm1-2zm-61 12zm14 16zm6-5zm2 10zm2-11zm13 5zm-34 10zm17 0zm5 6zm3-1zm-38 13zm33 0zm1-2zm-26 10zm-1 10zm15 15zm38 4zm10-4z"/><path stroke="#ff6400" d="M635 795zm2-3zm24 0zm4 7zm1-2zm0 4zm5-2zm-7 8zm5-2zm6 4zm-10 8zm5 23zm39 34z"/><path stroke="#ffc800" d="M661 790zm2-3zm1-1zm-27 17zm3-4zm13-1zm0-6zm16 9zm10-9zm3 11zm0-9zm-35 16zm29 1zm-12 13zm13-8zm-30 23zm19-7zm1 1zm1 1zm5 17zm4-1zm-4 3zm1 5zm20 0zm-68 10zm43 5zm1-5zm-16 13zm24-5z"/><path stroke="#c4ff33" d="M666 774zm16-2zm-49 17zm3-8zm7 10zm1-3zm0 0zm11-6zm19 1zm20 7zm35-5zm-95 17zm28-10zm12 2zm8 1zm-55 15zm11-6zm9 0zm14 9zm-6 13zm9 1zm6-3zm-31 11zm23 8zm-28 11zm33-2zm4 1zm-16 15zm12 2zm0 16zm0-8zm3 8zm2-1zm6 0zm-25 3z"/><path stroke="#006dff" d="M639 743zm23 8zm-27 12zm4-3zm3-3zm6 4zm2-4zm1 2zm5 6zm4-2zm6-5zm8 3zm47 0zm-94 9zm10 5zm1-7zm4 9zm12-1zm9-1zm2-5zm5 0zm4 8zm15-10zm21 1zm-82 46zm-5 2zm18-1zm2 5zm3-1zm-30 10zm17 2zm-5 15zm36 16zm-33 4zm28 2zm-14 12zm11 4z"/><path stroke="#0001ff" d="M637 744zm22 4zm4 4zm-17 5zm27 10zm-58 55zm8-2zm9 8z"/><path stroke="#ff8600" d="M640 799zm27-3zm9-1zm0 7zm29-5zm-50 7zm2 1zm6 4zm8-2zm2 0zm-3 14zm0 5zm1 0zm3 13zm-12 4zm8 14z"/><path stroke="#e40000" d="M658 801zm14 29zm1 30zm1 3zm29 3zm0 11z"/><path stroke="#0000bb" d="M652 747zm2 2zm-26 14zm18-4zm38-3zm-12 13zm-48 57zm3-7zm0 6z"/><path stroke="#ff4300" d="M647 788zm-2 7zm7 8zm6-1zm8-6zm12 1zm-6 15zm-5 9zm9 11zm10 7zm-17 3zm30 5zm-30 5zm4 5zm4 2zm-6 12zm7-6zm1 0zm16 6zm18-5z"/><path stroke="#16ffe1" d="M654 755zm5 4zm56 6zm-65 12zm2-3zm2-4zm1 1zm4-2zm5 4zm18-1zm2 1zm6 2zm14 3zm-63 12zm2-3zm-2 36zm11-6zm2 4zm2 1zm-35 12zm4 5zm15-4zm2 0zm0-4zm8 5zm7-4zm2 2zm-36 9zm9 8zm24-3zm2 2zm1-7zm6 0zm-41 18zm12-4zm13 2zm2-4zm-5 13zm22 1zm-12 10zm1 0zm0 3zm-30 6zm8 2z"/><path stroke="#e4ff13" d="M660 779zm27 0zm-56 12zm21 0zm29-9zm11 8zm-63 13zm45-10zm-31 14zm1-1zm16 5zm9 3zm6-9zm10-1zm-29 14zm8-2zm6 10zm6-8zm-17 19zm1-8zm4 16zm1-4zm4 5zm-4 6zm-32 17zm5 4zm2 2zm18-2zm16-1zm3-8zm-4 14z"/><path stroke="#00b5ff" d="M656 754zm28 0zm-33 13zm8-7zm25 5zm0-9zm7 6zm-45 14zm20-7zm10 8zm6 0zm3-2zm-6 5zm-43 32zm-7 13zm9-8zm-21 15zm4 6zm2-6zm3-1zm8 8zm-8 6zm6 3zm14-8zm4 15zm-17 16zm4-1zm16-3zm11-1zm-33 27zm29-5z"/><path stroke="#920000" d="M644 798z"/><path stroke="#e40000" d="M647 802zm33 6zm16 51z"/><path stroke="#bb0000" d="M682 864z"/><path stroke="#ffc800" d="M652 788zm4-7zm10 4zm-23 12zm1 4zm1-4zm3-4zm3 2zm12-2zm5 3zm-14 8zm3 6zm1-6zm11 7zm-12 13zm23 0zm-15 5zm1-1zm1 15zm1 8zm0-11zm4 6zm-18 10zm21 6zm0-10zm-37 13zm20 0zm9 0zm4 3z"/><path stroke="#0000e3" d="M658 753zm1-2zm-21 13zm57-8zm-74 66zm16-2zm9 1zm37 53z"/><path stroke="#00b5ff" d="M658 752zm3 2zm17 0zm-25 5zm3 3zm16 3zm1 0zm11 2zm1-8zm32 4zm-74 11zm6 1zm11 1zm5-8zm2 0zm5 6zm3 0zm7-1zm30 6zm-81 34zm5 1zm-23 3zm10-1zm14 0zm0 3zm1-3zm0 7zm1 0zm8 4zm2-8zm-25 20zm2-8zm13 3zm5 1zm-3 11zm-15 13zm14-3zm8 0zm10 16zm3 11zm1-7zm-31 15zm21-1zm8 1z"/><path stroke="#0000bb" d="M639 753zm45-7zm3 3zm-45 7zm33 3zm-54 60zm6 4z"/><path stroke="#006dff" d="M631 747zm13 8zm22-3zm1-2zm29 2zm9-6zm-68 11zm10 1zm7 2zm6-4zm2 9zm52-1zm-60 8zm11-1zm14 2zm-14 7zm-27 47zm-13 1zm2 10zm15-4zm6-6zm-16 13zm18 4zm-19 42zm8-2z"/><path stroke="#920000" d="M647 804zm23 18zm19 30zm6 0zm0 3zm26 13zm-30 8z"/><path stroke="#ffea00" d="M644 789zm2 0zm5-7zm16 6zm1-7zm10 7zm-38 5zm13 10zm2-9zm3 7zm39 1zm-54 3zm9 0zm14 7zm2 2zm2 0zm1-3zm13 0zm1-4zm-28 13zm11-4zm1 0zm-4 19zm2-7zm-8 15zm-28 20zm32 7zm9 2zm1 4zm6 4zm-1 10z"/><path stroke="#6dff8a" d="M637 778zm24-6zm2-2zm-6 20zm20-3zm1-5zm3 0zm39 7zm-99 13zm16-10zm10 11zm20-11zm20 0zm13 5zm-78 10zm22 3zm1 3zm0-3zm5 2zm11 1zm-6 21zm13-6zm-44 13zm2 8zm9-8zm2 3zm3 4zm2-4zm12 5zm5-8zm3 3zm-25 13zm1-1zm2-4zm12 1zm9 1zm8 1zm-44 12zm3-2zm3 1zm4 8zm0 0zm9-6zm5-2zm17 9zm-41 10zm14 1zm13-5zm10 5zm5-2zm-16 4zm11 0zm9 1z"/><path stroke="#ff4300" d="M647 797zm2-3zm26 67z"/><path stroke="#e4ff13" d="M695 778zm-56 10zm7 0zm3-3zm2 1zm10-5zm-26 16zm8-1zm33 5zm0 2zm4-10zm-29 18zm1 4zm14-9zm15 5zm1 4zm-26 8zm5-4zm15 2zm-6 8zm-12 11zm6 7zm2 2zm-40 13zm34-7zm2 6zm4 0zm-42 5zm19 8zm29-3zm-14 6z"/><path stroke="#a7ff50" d="M657 771zm32 5zm-51 9zm7 2zm4-1zm1 2zm24 3zm-40 9zm2-4zm1 0zm1-2zm4 0zm40 4zm-47 9zm20 3zm-6 6zm4 5zm0-4zm10 6zm-23 15zm6-10zm0 9zm10-3zm9-2zm7-1zm-41 12zm31 2zm2 3zm-41 12zm11 0zm1 3zm3-5zm5-4zm19-1zm0 6zm0 16zm11-5zm-31 13zm22-6zm-3 12z"/><path stroke="#33ffc4" d="M662 761zm14 14zm14 0zm-50 5zm19 5zm3 2zm19 1zm20 0zm2-8zm-38 22zm8-9zm-22 17zm-15 7zm14 2zm8-2zm-36 19zm4 2zm7-1zm1-1zm0 1zm11 1zm-18 11zm19 1zm5-6zm6 2zm-31 10zm11 1zm10 1zm8-1zm5-2zm-15 17zm0-3zm6 6zm15-5zm5-3zm-35 14zm19 1zm11-3zm-32 10z"/><path stroke="#0049ff" d="M649 754zm22 1zm17 0zm-37 10zm6-6zm10 6zm5-1zm15-6zm-33 11zm16-1zm-52 58zm4-5zm3 6zm6-3zm4-3zm-13 12zm30-5zm38 23zm-6 13z"/><path stroke="#8aff6d" d="M633 783zm7 4zm3-2zm3 2zm4 4zm1 0zm6-6zm9 4zm7-3zm3 1zm4 0zm3-3zm-37 13zm14-4zm-14 26zm5-3zm2 11zm4-1zm1-6zm1 15zm3 2zm20-8zm-30 11zm4 3zm6 0zm2 5zm-12 6zm-18 13zm5 3zm5 5zm0-4zm4 3zm5-6zm7 6zm-33 6zm3 1zm7 1zm3 4zm4-5zm20 0zm13 3zm-41 13zm38-8zm3 1z"/><path stroke="#0024ff" d="M649 750zm9 3zm21-1zm2-4zm-40 12zm28 6zm9-7zm3 8zm6 10zm-55 46zm54 24zm-4 20zm31 8z"/><path stroke="#0091ff" d="M643 766zm3-5zm14 5zm3-4zm1 3zm3 1zm5-1zm8-1zm11 2zm3-2zm-56 10zm1-2zm1 0zm4 3zm3-1zm11 3zm6-1zm15 3zm14-3zm1-6zm-28 11zm-40 35zm4 8zm11 2zm2 13zm3-7zm0 14zm10 1zm-8 14zm0-2zm-20 16zm28 4z"/><path stroke="#0001ff" d="M639 755zm8-1zm25-2zm-38 6zm2 7zm47 0zm5 13zm24-5zm-85 42zm-6 4zm5 8zm6 63z"/><path stroke="#ff1e00" d="M671 802zm0 4zm7 24zm33 45z"/><path stroke="#ff6400" d="M649 787zm43 4zm-61 7zm6 2zm2 3zm6-5zm1 3zm12-6zm5-3zm1 6zm4 3zm-7 16zm12 6zm-2 8zm23 6zm-21 7z"/><path stroke="#16ffe1" d="M664 748zm13 5zm-37 3zm20 6zm39-2zm21 1zm-68 12zm45 4zm-33 9zm5-5zm2 4zm3 0zm16 2zm26-7zm-75 46zm12-5zm2-3zm-25 18zm4 0zm3-4zm10-4zm8 3zm-27 15zm3-5zm2 7zm27-2zm-13 7zm21 9zm-34 9zm7 1zm-5 6zm1 5zm4-4zm12-3zm-28 12zm5 2zm2 3zm16 1z"/><path stroke="#c4ff33" d="M656 777zm27-1zm-49 12zm8-5zm2 5zm7 3zm18-9zm-29 20zm4 0zm14-3zm6-2zm7 6zm-35 3zm4-1zm6 3zm0-1zm30-2zm-17 12zm1 7zm-2 8zm5 2zm10-2zm-15 17zm5-5zm-28 8zm1 0zm7 3zm7 3zm5 4zm1-2zm6 1zm4-6zm-27 9zm10 7zm13 0zm8-1zm4-3zm-19 15zm22 2zm-32 10zm15-5zm27 2z"/><path stroke="#ff8600" d="M707 789zm-67 13zm2-8zm8 7zm5-3zm2-5zm8 0zm3 8zm7-2zm3 3zm-15 12zm20-6zm-17 25zm3 7zm6 4zm-48 18zm107-1zm-63 7zm4 4zm6-6zm-25 14zm1-1zm28-2zm8 10z"/><path stroke="#50ffa7" d="M685 766zm38-2zm-54 10zm3 5zm4-7zm11 2zm0 5zm17-1zm6-2zm-68 10zm6-5zm2-1zm3 11zm1-7zm15-2zm-24 38zm7 4zm4 2zm4-5zm-28 15zm11-5zm12-3zm7 0zm-29 21zm5-6zm1-2zm6 2zm5-2zm-19 21zm3 1zm0-9zm6 2zm13 2zm16 4zm-38 10zm3-6zm8 1zm2 1zm4-2zm5 0zm-31 16zm4-1zm2-5zm1 9zm2-4zm2 4zm8-6zm5 7zm12-4zm6-6zm4 3zm-30 9zm15 3z"/><path stroke="#00d9ff" d="M661 766zm10-6zm9 5zm11 0zm8-1zm3-5zm6 7zm-73 5zm30 2zm5 5zm8 0zm8 0zm-37 8zm-26 28zm23-1zm-32 9zm18 5zm8-1zm0 1zm16-1zm-26 8zm3-3zm2 8zm1-8zm-2 17zm2 0zm3-5zm3-1zm5 6zm10-1zm0-2zm-30 11zm37 6zm-27 4zm5 8zm33 0zm-21 11zm5-5zm11 0zm-48 10zm5 6zm20-3z"/><path stroke="#ffa700" d="M673 789zm-37 8zm7 1zm9-4zm4 6zm10-2zm1 2zm1 2zm0-10zm-3 15zm11-2zm4 6zm-1 10zm-17 29zm8-10zm3 7zm1 3zm-37 10zm7 7zm27 0zm11 17z"/><path stroke="#000092" d="M643 753zm29-3zm31 8zm-62 15zm-15 46zm11 6z"/><path stroke="#00d9ff" d="M649 765zm29-3zm-44 6zm7 8zm4-5zm0 1zm9-3zm7 3zm1 1zm13 5zm11 0zm1-4zm5-1zm3 5zm-28 2zm4 3zm2-1zm35 4zm-80 26zm3 15zm12-3zm1 2zm1 0zm9-6zm-21 13zm2 0zm0 2zm1-2zm6-5zm-17 19zm4-1zm7-6zm2 6zm1 3zm4 20zm4 1zm2-1zm-19 15zm27-4zm8 1zm-25 15zm13-8zm19 0z"/><path stroke="#ff1e00" d="M647 798zm21 1zm15 0zm-27 5zm13 25zm3 10zm21-4zm-18 11zm1 4zm1 12zm5-10zm16 1z"/><path stroke="#c4ff33" d="M637 790zm19 1zm6-4zm2-3zm1 5zm10-3zm6 1zm-51 10zm56-3zm-63 12zm17-2zm2 6zm6-3zm0 1zm2 5zm3-1zm18 1zm10-7zm-21 18zm1 2zm7-9zm-37 20zm3 1zm25-10zm-23 31zm10 0zm6-3zm8 5zm-29 14zm1-3zm22-7zm9 7zm3-5zm4 5zm-20 10z"/><path stroke="#8aff6d" d="M680 756zm-23 16zm7 5zm-30 11zm28-5zm5-3zm6 4zm2 7zm0-8zm-4 10zm-40 20zm6-3zm5 4zm40-6zm-22 26zm5 4zm-49 2zm8 9zm17-5zm6 14zm4 2zm2-3zm3 5zm1-1zm-31 14zm1-6zm1-3zm8 0zm2 8zm8-8zm1 9zm3-10zm3 1zm2 2zm7 3zm2-3zm1-3zm2 10zm-42 9zm22-3zm10 0zm4 0zm2-3zm-20 13zm2-2z"/><path stroke="#0024ff" d="M661 748zm4 4zm20 2zm0 6zm-36 8zm10 6zm11 4zm-32 42zm3 4zm-20 13zm1-1zm25 13zm-13 12zm62-3zm-10 7z"/><path stroke="#0000bb" d="M622 820z"/><path stroke="#000092" d="M658 742zm-25 11zm9 8zm-27 66zm3-5zm16-1zm1 1zm1-5zm1 1z"/><path stroke="#e40000" d="M670 833zm15 5zm24 24zm-26 6z"/><path stroke="#0049ff" d="M707 752zm-55 10zm5 3zm6 1zm16-2zm0 1zm4-4zm1-1zm4 7zm-41 2zm-25 58zm9-5zm2 0zm-8 10zm8 8z"/><path stroke="#ffea00" d="M649 786zm16 3zm3 1zm27-6zm-77 19zm28-7zm1-4zm5 10zm8-9zm18 0zm-31 16zm3 1zm3-6zm6 1zm4 3zm6 9zm-4 32zm2-3zm12 3zm-33 14zm16-1zm7-9zm-6 15zm10-1zm-31 10zm31-1z"/><path stroke="#0000e3" d="M639 760zm12 2zm14-3zm-2 9zm-38 50zm1 5zm4-4z"/><path stroke="#16ffe1" d="M677 749zm-35 10zm20 7zm-10 6zm3-3zm1 8zm21 2zm0-9zm3 3zm18 4zm-55 4zm6 0zm13 7zm23-7zm-72 29zm12-2zm20 18zm-16 12zm0-5zm4-2zm3 4zm11 4zm17 0zm-31 4zm24 4zm-30 23zm7 1zm7-3zm7 3zm5-7zm-25 23zm29-6zm-4 7zm11 1zm3 0zm8 0z"/><path stroke="#0001ff" d="M654 755zm20-2zm6-9zm-40 19zm3-4zm4 8zm5-6zm5 1zm17-6zm-37 65zm-14 11z"/><path stroke="#ff4300" d="M651 787zm-7 12zm20 0zm-1 16zm9-7zm-13 11zm6-1zm2-1zm2 9zm11 1zm-9 3zm4 28zm2 15zm0 8zm13-3z"/><path stroke="#920000" d="M671 807zm-4 29zm9 11zm4-4z"/><path stroke="#6dff8a" d="M641 773zm4 4zm46-4zm6 1zm-63 9zm0-2zm5 8zm3-1zm2-3zm16 0zm3 2zm1-1zm3 3zm0 1zm5-4zm9-1zm6 3zm3 0zm-66 25zm8-9zm5 10zm16 0zm4-6zm20 3zm-19 14zm8-3zm-29 17zm1-3zm6-1zm8-7zm0 1zm-15 12zm9 1zm0 2zm7-4zm0 10zm1-7zm2 0zm-31 11zm1 0zm3 7zm25-1zm3 1zm2-5zm5 6zm-41 11zm6-3zm23-3zm3 7zm4-1zm3 2zm-25 12zm11-8zm1 0zm11 5zm8 2zm12-2zm-40 4zm2 9zm7-8zm12 10zm16-10zm3 0z"/><path stroke="#ff8600" d="M637 798zm2-2zm0-3zm7 9zm0 1zm10 2zm6 17zm3 2zm9 1zm-1 38zm3-9zm-6 33zm8-11z"/><path stroke="#0091ff" d="M642 755zm42-3zm-45 10zm10 5zm21-5zm1 1zm12-3zm22 3zm-39 12zm6 2zm17-6zm10 12zm-77 29zm13-3zm-14 14zm4-7zm1 10zm8-9zm5 0zm4 4zm-20 12zm3 5zm0 1zm21-7zm-5 11zm5 6zm0-2zm-17 6zm3 3zm9 14zm-1 13zm13 3z"/><path stroke="#ffa700" d="M648 791zm30-2zm-47 9zm7-5zm7 1zm36 3zm-13 12zm6 25zm-30 16zm23-7zm7 20zm1-5zm-51 15zm23 0zm12-9zm11 4zm-5 10zm16 3zm-4 8z"/><path stroke="#33ffc4" d="M656 760zm3 5zm23-4zm-42 9zm1 0zm0 7zm12 2zm3-4zm0 2zm1-8zm3 4zm9 6zm4 0zm0 0zm7-6zm3 3zm4-3zm7 2zm-43 7zm10 5zm26-7zm-36 20zm61-8zm-79 15zm3 3zm7-2zm10 17zm4-3zm9 4zm-41 11zm1 2zm12-11zm2 6zm1 3zm15-6zm0 2zm-28 12zm3-1zm2 2zm-10 7zm2 3zm5 0zm13 6zm1 1zm16-5zm4 3zm-25 9zm8 0zm5-4zm1-1zm3 7zm2-4zm-14 15zm9 0zm6-7z"/><path stroke="#006dff" d="M639 765zm4 2zm7-2zm7 1zm6-8zm8 3zm1-3zm20 4zm10-3zm64 1zm-118 18zm1-10zm6 3zm6 2zm7-5zm8 8zm5-1zm10 0zm17 0zm-87 52zm4-1zm6-6zm2 7zm2-11zm4 3zm11 4zm-15 16zm1-2zm8 1zm-11 6zm2-2zm16 30zm6 23zm94-3z"/><path stroke="#ff6400" d="M645 797zm2 2zm0 2zm1-8zm1 4zm3 1zm3-5zm3 0zm0 11zm12 10zm0 10zm1-4zm0 42zm3-4zm2-1zm0-5zm-65 13zm57-1zm20 1z"/><path stroke="#00b5ff" d="M653 748zm20 0zm27 2zm-56 14zm7 0zm7 2zm1 0zm0-6zm11 7zm1-2zm9-3zm-22 17zm4-10zm5 9zm10-10zm3 1zm-31 12zm-14 30zm12 2zm-7 11zm-7 13zm5-2zm2 4zm2-7zm11-1zm-23 16zm6 8zm10 6zm4 5zm16 5zm-23 7zm15 6zm-25 7z"/><path stroke="#bb0000" d="M640 800zm28 39zm76 22z"/><path stroke="#50ffa7" d="M652 774zm12-1zm23 6zm3-10zm26 7zm-81 5zm31 1zm5 3zm4-3zm6 5zm-58 17zm17 5zm10-1zm5 5zm-35 4zm23 2zm9-1zm4 5zm-34 10zm7 6zm37-3zm-40 14zm5-8zm0 8zm12-6zm1 2zm6 5zm13-10zm-42 13zm41 8zm-35 6zm3-2zm6 0zm1 2zm0 8zm6 0zm4 10zm9-10zm1 11zm1-11zm2 1zm4 9zm-37 2zm14 3z"/><path stroke="#e4ff13" d="M651 786zm2-2zm5 5zm-34 14zm1-1zm4-6zm9-1zm1 1zm11-2zm5 6zm15-7zm7-1zm-39 20zm4-5zm30 18zm-20 9zm14 5zm-4 12zm8-4zm-40 16zm27-7zm18 3zm12 3zm-30 3zm4 3zm3 2zm3 2zm2-7zm-22 16zm24-4z"/><path stroke="#ffc800" d="M640 790zm-2 6zm10-3zm3 8zm11 2zm9-2zm1-5zm1 2zm26-3zm-39 10zm10 6zm3 7zm-12 14zm6 8zm0 34zm2-7zm5 4zm2-2z"/><path stroke="#a7ff50" d="M646 775zm29 4zm-34 4zm13-3zm10 8zm4-6zm-23 12zm31-2zm-45 15zm20 1zm1 5zm5 2zm2-11zm13 10zm-21 7zm1 6zm3-11zm8 7zm7-3zm59-4zm-92 22zm5-2zm4-5zm22 6zm-8 5zm2 2zm-40 12zm2 7zm6-1zm26-7zm5 4zm4 4zm14-2zm-51 3zm1 10zm31-5zm2 6zm9-4zm-43 16zm6-1zm21-5zm23-5z"/><path stroke="#ffc800" d="M683 788zm-37 9zm14-1zm6 2zm7-1zm-41 9zm11-1zm8 7zm1-8zm5 11zm3-11zm1 0zm25 3zm-7 19zm-7 12zm-39 5zm21 3zm2 2zm14 3zm-3 7zm7-4zm-14 11zm1 1zm6 1zm23 16zm44-2z"/><path stroke="#ffa700" d="M654 784zm24-3zm-41 16zm16-4zm0 6zm13-3zm-16 16zm18-1zm8-2zm-14 11zm3 0zm2-3zm0 5zm4-1zm6 0zm-2 24zm25-3zm-31 24zm-37 12zm37 4zm24 5z"/><path stroke="#33ffc4" d="M678 756zm5 6zm-44 11zm30 4zm2-1zm-30 5zm2 2zm6 0zm10 5zm39-1zm-42 40zm1-4zm-32 12zm5-1zm3 4zm9 1zm0-3zm8 0zm1-3zm-26 11zm23-4zm1 6zm4 8zm3 8zm-25 11zm0 3zm5 5zm11-3zm4 6zm6 3zm-29 2zm3 1z"/><path stroke="#0049ff" d="M653 757zm1 4zm4 2zm-4 14zm4-8zm-39 50zm3-3zm3 4zm6-4zm9 6zm-21 15zm15-3zm5-1zm0 15zm1 23zm51-7z"/><path stroke="#0001ff" d="M643 754zm37 0zm5 1zm-33 2zm8 1zm7 3zm22 2zm-49 13zm34-2zm-46 50zm11-1zm0 0zm-10 6zm4 11zm55 25zm-4 14z"/><path stroke="#ffea00" d="M650 778zm-9 13zm10-6zm-25 11zm7 3zm18 2zm27-1zm-16 11zm1-7zm5 3zm8 6zm-14 10zm8-2zm1 0zm0-1zm0-2zm-10 19zm5-6zm2 5zm3 0zm-30 11zm28-7zm-4 15zm4 6zm-30 12zm-8 18z"/><path stroke="#50ffa7" d="M641 764zm49-1zm-28 7zm1 6zm8-1zm11 4zm-41 8zm2-2zm9-3zm4-1zm9 1zm4 0zm6 2zm3 2zm4-4zm5 2zm-50 14zm11-5zm28-1zm-55 20zm11 3zm24-8zm-2 10zm5 3zm-31 17zm5-9zm8 11zm5 0zm13-1zm2-7zm-16 15zm5-2zm4 6zm2 0zm-22 5zm1-2zm5 0zm0 3zm2 7zm1-10zm1 10zm10-1zm15-7zm-46 19zm42-3zm0-2zm1 2zm-18 15zm6 0zm3-4zm13 0zm0 3zm-28 7zm13-4z"/><path stroke="#0024ff" d="M653 750zm8-3zm7 6zm12-2zm1 3zm6 1zm-50 12zm0-4zm5 3zm4-6zm12 0zm-30 67zm6-4zm-6 14zm7-8zm2 3zm13 15z"/><path stroke="#e4ff13" d="M677 778zm-46 8zm5 1zm2-4zm1 5zm1-1zm7 2zm4 0zm4-4zm8 1zm15 1zm5 0zm-53 16zm11-5zm12 3zm7-9zm5 8zm4-6zm13-1zm5 0zm2 1zm-39 11zm2 4zm3 0zm12 5zm1-8zm9-2zm5 4zm-16 16zm1 3zm-12 12zm10-3zm12-7zm-18 15zm10 1zm-41 8zm16 9zm12-7zm8-2zm9 8zm-9 9zm-28 17zm20-2zm-2 8z"/><path stroke="#a7ff50" d="M669 772zm3 5zm17 0zm-59 12zm14-4zm9 4zm5-6zm4-2zm4-1zm1 1zm14 17zm-56 6zm4 9zm5-3zm1-5zm13 1zm4 6zm9-7zm14 6zm-22 12zm7-6zm-19 22zm-2 12zm13 0zm-22 10zm2 2zm2-2zm5 0zm3-6zm4-3zm5 10zm11-3zm2-1zm5-2zm0 1zm-43 13zm30 4zm11 1zm2-7zm4-1zm4 7zm-34 3zm28 12z"/><path stroke="#ff8600" d="M631 803zm56-6zm7-4zm-24 11zm2 3zm-3 16zm0-2zm4 13zm2-6zm-2 16zm-19 19z"/><path stroke="#006dff" d="M665 754zm0 0zm8-6zm9-2zm-14 11zm3 7zm8 0zm21 3zm-52 5zm7-3zm7 13zm-28 33zm1-7zm-2 12zm6 0zm9-2zm-16 16zm5 0z"/><path stroke="#0000bb" d="M667 765zm1-7zm-38 76zm75 20z"/><path stroke="#920000" d="M661 800z"/><path stroke="#8aff6d" d="M677 764zm-35 10zm-5 9zm3 8zm11-9zm6 1zm3 0zm7 8zm34-3zm-31 13zm5-8zm-47 13zm27 11zm3 10zm-10 7zm-14 14zm17 3zm12 0zm1 0zm-20 9zm7-8zm13 4zm2-2zm1 3zm1-5zm-22 20zm16 0zm-37 11zm8 0zm7-2zm20-1zm1 6zm76-1zm-81 8zm20 4z"/><path stroke="#0000e3" d="M638 761zm41 12zm9 1zm-55 43zm-12 16zm59 9z"/><path stroke="#00b5ff" d="M686 754zm-44 9zm16-1zm0 1zm21-5zm4 8zm3 0zm-12 5zm3-1zm3-1zm1 3zm2-2zm8 0zm-5 15zm-54 27zm5 4zm3 7zm1-4zm13 1zm-26 17zm1-7zm2 8zm9 1zm10-6zm-23 9zm7 1zm0 6zm0 1zm5-9zm15 7zm1 3zm-12 1zm-9 23zm9-4zm6-7zm0 0zm-18 16zm18 6zm8-7zm3 5zm-25 4zm25 0z"/><path stroke="#ff4300" d="M648 802zm3-1zm15 1zm3-4zm8 5zm-24 5zm14 6zm-16 2zm26 57zm27 9z"/><path stroke="#16ffe1" d="M653 766zm2-1zm11 1zm1-1zm4-1zm19 0zm-48 8zm3 0zm9-2zm16-1zm2 7zm1-1zm-36 6zm14-1zm19 4zm4-4zm33 3zm5 1zm1-2zm-82 23zm15 7zm2 9zm1 4zm1-4zm8 6zm-32 11zm8 1zm1-4zm11-6zm8 9zm-29 12zm6-8zm1 8zm5-1zm20-7zm-12 15zm4 5zm2 3zm1 10zm-19 11zm3-5zm7 0zm4 2zm7-5zm2-2zm-38 13zm16 0z"/><path stroke="#bb0000" d="M670 795z"/><path stroke="#ff1e00" d="M641 795zm1 7zm27 14zm4 21zm2 9zm12 14zm5 13z"/><path stroke="#c4ff33" d="M666 781zm12 8zm12 2zm-59 12zm1-2zm38 2zm-33 6zm5-1zm7 5zm7 0zm7-7zm0 5zm11 11zm-50 15zm25-8zm6 5zm2-5zm8-1zm2 1zm2 6zm-48 14zm8 0zm24-9zm7 10zm-21 11zm30-5zm0 7zm-49 8zm4-4zm11 2zm20-4zm5 10zm15-1zm-47 8zm8-3zm17 3zm5 5zm1 0zm19-9zm16 0zm40 14z"/><path stroke="#ff6400" d="M629 783zm9 10zm6 8zm10-5zm5 7zm1-6zm-31 8zm23 10zm16-9zm1 4zm1 0zm8 4zm-13 8zm6-6zm-1 16zm6 22z"/><path stroke="#000092" d="M643 753zm13-5zm17 14zm-56 53zm12 6zm5 0zm2-2zm5 0zm45 34z"/><path stroke="#6dff8a" d="M649 767zm38 0zm-39 9zm7-8zm7 10zm6-2zm-30 5zm0 5zm27-3zm2 1zm6 3zm-37 6zm-10 16zm7-1zm1 1zm6 2zm4-6zm15 3zm-10 9zm15 10zm-36 7zm14-3zm7 8zm6-4zm5 2zm0 2zm4-9zm-32 20zm-4 11zm2 1zm7-1zm12-6zm4 6zm8-7zm-23 16zm6-4zm3 8zm19-2zm3 1zm-15 12zm5 2zm4-11zm4 7zm-25 7z"/><path stroke="#0091ff" d="M658 749zm9 6zm-16 5zm16 2zm26-3zm22 1zm4-2zm-87 17zm20-4zm11 6zm8-3zm34-5zm-50 14zm-35 36zm11 5zm-3 13zm3-7zm3 8zm10-10zm4 5zm0 12zm-18 9zm13 2z"/><path stroke="#00d9ff" d="M651 763zm5 1zm14-5zm10 0zm-44 18zm5 1zm8 1zm18-8zm1 3zm16-6zm-43 19zm17-4zm22-1zm10-2zm-51 37zm-4 18zm-18 16zm19-5zm12-6zm5 4zm4 12zm-23 15zm5 3zm4 0zm26-10zm-8 20zm11 1z"/><path stroke="#e40000" d="M654 798zm3-1z"/></g></g><rect x="392.4" y="368.3" width="4.6" height="82.9" fill="url(#jet)"/><path d="M397.0 442.5h2" stroke="#9aa4a8" stroke-width="0.7"/><text x="400.6" y="445.6" font-size="8.8" fill="#4f5d64" text-anchor="start">5.0</text><path d="M397.0 432.2h2" stroke="#9aa4a8" stroke-width="0.7"/><text x="400.6" y="435.3" font-size="8.8" fill="#4f5d64" text-anchor="start">7.5</text><path d="M397.0 421.9h2" stroke="#9aa4a8" stroke-width="0.7"/><text x="400.6" y="425.0" font-size="8.8" fill="#4f5d64" text-anchor="start">10.0</text><path d="M397.0 411.6h2" stroke="#9aa4a8" stroke-width="0.7"/><text x="400.6" y="414.7" font-size="8.8" fill="#4f5d64" text-anchor="start">12.5</text><path d="M397.0 401.3h2" stroke="#9aa4a8" stroke-width="0.7"/><text x="400.6" y="404.4" font-size="8.8" fill="#4f5d64" text-anchor="start">15.0</text><path d="M397.0 391.0h2" stroke="#9aa4a8" stroke-width="0.7"/><text x="400.6" y="394.1" font-size="8.8" fill="#4f5d64" text-anchor="start">17.5</text><path d="M397.0 380.7h2" stroke="#9aa4a8" stroke-width="0.7"/><text x="400.6" y="383.8" font-size="8.8" fill="#4f5d64" text-anchor="start">20.0</text><path d="M397.0 370.4h2" stroke="#9aa4a8" stroke-width="0.7"/><text x="400.6" y="373.5" font-size="8.8" fill="#4f5d64" text-anchor="start">22.5</text><rect x="430.3" y="368.0" width="84.0" height="82.0" fill="#fdfde9"/><path d="M426.8 430.4H514.3M426.8 404.8H514.3M426.8 379.1H514.3M453.3 368.0V453.5M491.8 368.0V453.5" stroke="#ece6c8" stroke-width="0.9" fill="none"/><text x="453.3" y="461.0" font-size="8.8" fill="#4f5d64" text-anchor="middle">0</text><text x="491.8" y="461.0" font-size="8.8" fill="#4f5d64" text-anchor="middle">5</text><g clip-path="url(#cB13)"><g transform="scale(.5)" fill="none" stroke-width="4.48" stroke-linecap="round"><path stroke="#0000e3" d="M912 742zm-14 11zm8-6zm3 2zm1 4zm-13 6zm3 1zm3 7zm9-1zm21-3zm6 3zm0-6zm2 6zm-10 2zm-25 14zm-27 102zm22-1zm20 3zm-37 13z"/><path stroke="#00d9ff" d="M924 779zm29-2zm-65 11zm40 1zm17-1zm8-5zm3 5zm-76 14zm1-6zm11-3zm0 7zm1-7zm15 5zm7-6zm7 9zm2-6zm36 2zm-38 18zm13-7zm-55 19zm9-2zm41-4zm-51 16zm15-4zm-10 14zm4-4zm1 7zm18-10zm14 9zm9-2zm-41 7zm2 1zm6 7zm9-6zm1-2zm8 4zm1 1zm8-2zm-42 12zm0 1zm11 3zm2-2zm1-3zm10 4zm1-6zm1 0zm2 5zm53 3zm-77 2zm5 2zm1-2zm17 9zm0-4zm2-2zm6-1zm8 2z"/><path stroke="#8aff6d" d="M905 785zm47 17zm-65 4zm11-1zm2 5zm2-2zm3 5zm11-8zm7 9zm3-1zm-41 7zm8-3zm12 2zm16 7zm5-6zm-34 16zm5-5zm0 0zm6 3zm22-5zm-17 21zm4-4zm11-6zm-22 19zm12-2zm-10 9z"/><path stroke="#0001ff" d="M908 748zm14 5zm10 0zm3-5zm0-4zm1 10zm-45 11zm1-2zm4-6zm11 0zm8 9zm2-5zm4 5zm4-2zm16-6zm-48 10zm0 6zm2 3zm37 1zm3-5zm10 0zm-24 8zm9 6zm-60 40zm11-1zm10 61zm36-11zm-31 14zm0 1zm12-3z"/><path stroke="#33ffc4" d="M888 788zm6 0zm1 3zm20-2zm7-1zm6-4zm39 0zm-78 18zm5-3zm5-2zm9-1zm21-3zm7 5zm2 1zm3-5zm12 2zm13-4zm-83 21zm7-8zm2 1zm0 3zm18 0zm11 3zm2-1zm2 0zm2-4zm1 0zm-37 12zm4 2zm1-2zm14-3zm-35 22zm30-5zm26-1zm17 3zm-59 13zm2 3zm22-8zm16 7zm1-5zm-37 7zm13 3zm2 3zm1-1zm7 4zm16-2zm7 1z"/><path stroke="#00b5ff" d="M935 751zm11 11zm-42 17zm21-4zm13 3zm4 1zm-47 1zm8 1zm9 2zm15 0zm1-1zm0 5zm13 0zm-58 16zm2-6zm6-4zm6 5zm11-5zm13 3zm9 9zm-52 15zm-2 14zm2-1zm4 4zm3-3zm2 0zm2 3zm3-2zm4-4zm19 6zm-39 3zm2 1zm12 1zm18 4zm6-3zm3-2zm4 8zm-45 5zm9 8zm4-8zm15 8zm20 0zm-31 3zm5 1zm2 8zm1 0zm9-2zm4-3zm4-1zm4 2zm7 2zm2 2zm35 1zm-79 3zm33 0z"/><path stroke="#0000bb" d="M917 752zm15 0zm-40 5zm13 7zm0-1zm1-4zm8 1zm5-3zm6 10zm-4 4zm3 7zm6-6zm-39 9zm-12 104zm47 4z"/><path stroke="#c4ff33" d="M904 812zm-18 11zm5-4zm5-3zm2 0zm2 10zm-6 8zm3 0zm3 5zm3-11zm-9 13zm12 2zm5-1z"/><path stroke="#6dff8a" d="M885 803zm9-7zm0 4zm31 3zm7-3zm-55 7zm15 5zm16-8zm9 7zm3-4zm11-2zm4 1zm-43 17zm2 4zm13-5zm4 0zm2 5zm8-6zm3 5zm11 1zm-48 10zm2-1zm8-8zm29 3zm2 3zm-42 8zm10 4zm5-6zm8 8zm2-3zm8 2zm-21 9zm0-4zm3 0zm5 0zm16 2zm4 8z"/><path stroke="#ff4300" d="M902 810zm6 15z"/><path stroke="#e40000" d="M920 803z"/><path stroke="#0049ff" d="M915 747zm4 7zm-31 4zm51 7zm20-2zm13 0zm-75 14zm13 0zm0-9zm14 9zm24-2zm-57 11zm18-6zm0 2zm11 8zm0-10zm2 0zm2 2zm2 3zm3-5zm-37 12zm10 0zm26 1zm-49 15zm3 7zm1 34zm71-2zm-70 15zm36-7zm-39 15zm12 4zm7-6zm4 1zm5-1zm-10 13zm12-1zm14 7zm0-2z"/><path stroke="#50ffa7" d="M906 791zm6-3zm-33 15zm19-6zm23 0zm2 5zm0-8zm3 2zm7 1zm-55 7zm2 7zm1-2zm17-3zm13 2zm1 4zm13-5zm6 4zm7 0zm-48 10zm10 5zm12-6zm9 4zm4 0zm0-3zm-42 13zm1 0zm11 4zm3-6zm20 2zm-34 6zm10 7zm7-5zm5 2zm4 6zm-14 2zm13 5zm1 2zm1 2zm1-7zm9-2zm-26 15zm3 0zm21 4zm9-1z"/><path stroke="#ff1e00" d="M894 823z"/><path stroke="#ff6400" d="M924 805zm-20 19zm18 4zm-17 16z"/><path stroke="#e4ff13" d="M902 827zm12 0zm6 9zm-17 11z"/><path stroke="#ffc800" d="M897 814zm9-2zm2 9zm3 10zm-6 20z"/><path stroke="#0024ff" d="M909 755zm24-3zm-34 12zm6 1zm1-5zm2-2zm6 0zm9 0zm4 7zm6 2zm5-2zm4 2zm8-11zm-42 20zm12-5zm11 8zm-36 8zm10-5zm0 3zm12-4zm13 3zm44 5zm-96 25zm6 11zm5 38zm39-2zm-25 6zm-26 10zm5 10zm22-1zm0-4zm6 3zm0-6zm30 5zm18-7zm-70 14zm15 3zm12-6zm0 11zm6-10z"/><path stroke="#ffea00" d="M890 810zm6 0zm-4 15zm18-2zm10-6zm-27 17zm27-1z"/><path stroke="#ff8600" d="M894 847z"/><path stroke="#000092" d="M886 747zm12 7zm15-1zm1-2zm1 3zm16-5zm24 1zm-65 13zm7-2zm9 1zm9 0zm3 4zm0-4zm3 1zm1 2zm2 1zm-35 5zm4 2zm2 3zm17-7zm2 4zm6-5zm2 0zm6 6zm20 113z"/><path stroke="#a7ff50" d="M909 800zm22 3zm0 0zm-43 12zm11-1zm15-9zm-28 22zm2-6zm5-1zm3 6zm12-5zm7-5zm1 10zm3-2zm-23 15zm4-8zm12 1zm2-3zm2 3zm2 5zm11 2zm-16 2z"/><path stroke="#006dff" d="M897 755zm32-2zm-20 12zm37-4zm11-2zm12 1zm-64 18zm7 1zm2-5zm3-1zm7 5zm2-1zm5-2zm4 0zm13-5zm-63 19zm4-8zm2 9zm30-9zm1 6zm11 1zm2-1zm11-2zm0 5zm3-6zm4-3zm-14 15zm-58 19zm-7 4zm2-3zm50 9zm-53 12zm7-2zm7 14zm-2 7zm9-4zm2 11zm1-6zm8 1zm-26 8zm2 9zm26-8zm11 3zm-3 14zm17-8zm7 3zm-57 9z"/><path stroke="#16ffe1" d="M927 779zm-33 10zm8-1zm2-1zm1 0zm9-4zm5 5zm10-3zm37 2zm-78 12zm9-3zm16-3zm13 0zm5-1zm17 1zm-71 13zm6 0zm41 8zm8-3zm5-3zm-46 9zm0 1zm4 6zm37-3zm-19 14zm6-7zm-48 23zm37-11zm3 7zm0 1zm7 3zm6-5zm1-6zm-46 21zm5-9zm7 8zm15-8zm3 3zm7-1zm0 5zm1-4zm1 3zm5 4zm3-5zm3 1zm59 3zm-102 14zm3-4zm37 0zm4-2zm7-5zm-33 18zm3 1zm-25 13z"/><path stroke="#0091ff" d="M896 773zm5 2zm14 4zm24-11zm9 8zm2 2zm-57 8zm6 1zm0 2zm3 0zm4-9zm1 8zm1-5zm2-2zm10 0zm13 0zm16 18zm-12 9zm-62 11zm4 7zm2-10zm29 1zm-33 19zm15-2zm17-3zm16-1zm-36 18zm-9 6zm12 3zm6 6zm7-8zm14 6zm11-9zm6 0zm14 0zm49 9zm-116 4zm3 1zm11 1zm1 5zm1-4zm2 4zm18-3zm-34 15zm16-3zm1 0zm4 0zm4-5zm2 3zm4 7zm0-2zm4 0zm2 2zm0-10zm3 10zm23-8z"/><path stroke="#00d9ff" d="M936 772zm-39 13zm1 6zm1-3zm2 0zm35-8zm2 8zm-57 15zm4-5zm7 5zm10-10zm8 0zm6-1zm5 8zm12-8zm0 1zm-43 15zm37 0zm-34 11zm9 2zm-23 7zm3 10zm7 1zm12 0zm13-5zm9 1zm-47 14zm10-6zm16 6zm0-4zm3-4zm6 7zm1 2zm-31 9zm7-4zm10 5zm2-3zm8 6zm3-2zm0 1zm4-1zm1-2zm0 2zm4-6zm33-2zm-65 14zm2-1zm0 1zm6 6zm9-8zm16 4zm-43 14zm8-2zm2 5zm30-10zm2 3zm13-1zm7-1z"/><path stroke="#00b5ff" d="M943 768zm-55 21zm17-3zm4-2zm6 3zm4 3zm0-4zm5-4zm4 0zm22 8zm20-10zm-84 23zm15-6zm2-4zm10 3zm15-4zm-50 22zm4-2zm2 3zm-8 4zm4 0zm45-3zm1 5zm-50 16zm4 1zm4 0zm15-3zm-12 15zm0 1zm1-3zm4 1zm-12 5zm3-1zm5 10zm8-8zm6 6zm6 1zm6-7zm14 8zm2-9zm13-2zm-64 15zm2 1zm3 6zm5-8zm18 5zm15-4zm0 3zm-41 11zm2 1zm10-6zm19 3zm4 4zm9-5zm6 19z"/><path stroke="#6dff8a" d="M895 802zm1-4zm1-4zm7 3zm21 4zm6 1zm-40 4zm4-1zm4 5zm6-2zm1 4zm3-8zm2 9zm2-5zm18 5zm4-2zm5-7zm-53 23zm2-5zm9-1zm13 5zm2-9zm0 3zm3-2zm8 3zm1-1zm-31 15zm3 1zm15 0zm-25 8zm7 5zm2-8zm15 7zm2-4zm5 0zm-33 18zm34 0zm5 8zm15-6zm-11 14z"/><path stroke="#c4ff33" d="M902 803zm2 10zm1-1zm15-4zm-7 17zm1-6zm6-1zm2 9zm-20 5zm9-3zm9 0z"/><path stroke="#33ffc4" d="M914 776zm-19 14zm1-3zm10-1zm18 4zm8-3zm-30 11zm0-5zm14 7zm4-2zm17 5zm-36 4zm7-3zm4 11zm14-8zm-30 17zm11-2zm10-6zm-33 13zm4 2zm1 8zm1-4zm2-7zm3 11zm15-5zm11-5zm20 10zm-51 2zm1-1zm14 11zm-4 2zm3 2zm-14 11zm2 0zm1-2zm22 1zm4 5zm17-3z"/><path stroke="#0024ff" d="M916 740zm-9 14zm6-1zm25 1zm-43 6zm3 7zm9-4zm11-5zm2 1zm5 3zm3 5zm6-3zm1-2zm22-4zm-61 20zm7 0zm12-6zm3 5zm6-9zm0 2zm2 8zm3 1zm2-3zm6 1zm6-3zm2 1zm-56 6zm3 6zm10-6zm7 2zm8 4zm25 1zm-73 34zm12 34zm3 5zm14 2zm-12 1zm26 4zm5 7zm17 5zm8 6zm6 1zm-40 6zm7-5zm16 1z"/><path stroke="#ffc800" d="M911 843zm-7 12z"/><path stroke="#ffa700" d="M919 836z"/><path stroke="#e40000" d="M917 803z"/><path stroke="#a7ff50" d="M899 802zm3 0zm4-1zm15-3zm3 3zm-22 3zm5 1zm17 9zm17-7zm-56 12zm3 8zm10-6zm4-4zm2 2zm3 1zm4 4zm5-5zm3 1zm1 4zm4 2zm7-10zm3 8zm-38 8zm9 4zm2 3zm6-8zm2 0zm2-3zm-34 19zm7 15z"/><path stroke="#ff6400" d="M897 807zm32 21zm-33 15z"/><path stroke="#ffea00" d="M892 817zm0-1zm8 18zm7-3z"/><path stroke="#0000bb" d="M908 750zm2 4zm5 0zm12-2zm-31 12zm4-3zm17 1zm2 4zm2-1zm16 1zm-51 9zm23-6zm3 3zm12-1zm12 8zm-60 54zm10 58zm15 2zm10 2z"/><path stroke="#0001ff" d="M925 755zm-31 5zm0-4zm11 11zm9-1zm1 0zm10-1zm1-1zm9 1zm3 2zm-31 5zm0-1zm14-2zm4 0zm4 2zm12-1zm20 5zm2 0zm-44 8zm3-2zm0 15zm-38 65zm44 6zm-43 9zm30 4zm18-4zm-61 13zm13 1zm30-1z"/><path stroke="#16ffe1" d="M888 783zm17 5zm1 3zm6-1zm3 1zm1-3zm6 2zm3-6zm10 3zm-43 8zm0-1zm4 8zm16-7zm12 3zm1 5zm7-11zm3 2zm19 1zm-59 9zm10 6zm4 3zm6-2zm1-6zm-39 16zm7 0zm10 1zm14 1zm6-6zm4 6zm-38 8zm1 8zm8-1zm1 1zm28-6zm3 0zm0 3zm2-8zm2 5zm3 4zm-39 7zm5 4zm10-1zm5 2zm14 2zm6-7zm-52 9zm10 1zm18 0zm6 3zm4-2zm4 7zm0-10zm5 0zm1 6zm4-6zm3 10zm32 0zm-84 5zm9 8zm2-5zm5-6zm5 2zm25 1zm1 5zm-15 7zm79 6z"/><path stroke="#bb0000" d="M907 804z"/><path stroke="#50ffa7" d="M916 787zm4 2zm17-3zm-51 17zm16-10zm9 0zm0 4zm20-5zm-47 12zm0 2zm2 7zm2-1zm9-4zm4 7zm38-5zm-50 13zm1-3zm2 0zm15-3zm8 7zm1-2zm4 0zm2 3zm-37 8zm2 3zm7-1zm3 0zm1 0zm0-4zm33-2zm6 0zm3 9zm-57 7zm3-4zm6 5zm5-4zm4 7zm16 2zm0-8zm1 5zm7-1zm26 12zm-56 13zm4 3zm17 0zm6-11zm4 3z"/><path stroke="#0091ff" d="M953 760zm16 5zm-52 13zm2-8zm13 0zm9 8zm1 1zm3-2zm2-4zm3-5zm-57 13zm3 7zm1-3zm25-4zm11 5zm1-4zm7 3zm8 5zm13-1zm5-7zm-70 12zm7 0zm16-1zm17 0zm-62 19zm8 15zm-4 2zm4 7zm3-6zm0 8zm2-5zm-13 7zm6 5zm5 5zm0-8zm15 4zm5 5zm6-4zm-22 10zm11 4zm18-5zm2 5zm3-5zm5 3zm-63 6zm27 5zm4 0zm6-4zm7 2zm2 5zm2-9zm3 9zm0-2zm21 3zm29-8zm-82 14zm5-1zm6-2zm13 8zm2-4zm2-4zm2 4zm12 4zm9-1zm-51 9zm9 3z"/><path stroke="#ff4300" d="M892 819zm2 20zm27 0zm-25 4zm33 3z"/><path stroke="#e4ff13" d="M895 799zm-7 10zm1 2zm2 1zm9-1zm2 2zm11-9zm-11 21zm4-7zm4 0zm1 7zm8-1zm-27 8zm10-4z"/><path stroke="#8aff6d" d="M920 801zm3 0zm3-2zm-33 13zm2-3zm10 3zm0-2zm5 0zm0-6zm11 2zm-31 10zm8 3zm1 1zm2 1zm7 0zm1-4zm2 3zm0 3zm2-7zm8 6zm-34 9zm3-2zm10 3zm1 7zm7-7zm13-4zm3 4zm1 4zm2 3zm-35 2zm6 3zm1-1zm6 8zm3-1zm7-1z"/><path stroke="#000092" d="M902 754zm5-6zm5 4zm4-4zm-19 11zm5-1zm2 9zm1-10zm1 4zm0 1zm3-2zm2 2zm2 1zm13-2zm7-2zm-34 13zm4-4zm1 0zm8 3zm20-1zm-8 112zm-43 6zm2 1zm25 2z"/><path stroke="#0049ff" d="M903 754zm18-2zm20 3zm10-3zm-48 15zm10-7zm0 3zm-10 9zm5 5zm15-5zm11 1zm9 0zm-53 14zm5-5zm1 1zm16 0zm5-1zm1 4zm5-5zm-52 52zm11 4zm-2 12zm2 10zm6 2zm35-1zm-40 15zm46-1zm-39 7zm1 0zm2 4zm17-3zm2 2zm-12 4z"/><path stroke="#0000e3" d="M922 755zm18 0zm-35 10zm9-5zm3 6zm0-1zm4-7zm1 4zm34-3zm-57 12zm11-2zm4 0zm3 1zm6 6zm1-6zm2 6zm8-3zm3-3zm5 3zm-46 9zm2-1zm26 0zm-12 106zm1 0zm-14 7z"/><path stroke="#ff8600" d="M924 802zm-17 13zm-11 4z"/><path stroke="#ff1e00" d="M922 807zm-25 37zm19 7zm9 0z"/><path stroke="#006dff" d="M910 760zm11 1zm4 2zm2-5zm10 3zm1-5zm1 4zm15 4zm-23 13zm2 1zm2-5zm4 0zm-47 11zm11-3zm5 3zm14 0zm10 3zm4-2zm0-3zm0 5zm2 0zm-65 16zm9 7zm-9 9zm49 16zm-41 27zm4-8zm27-1zm0 2zm56 5zm-84 10zm3 2zm6 1zm7-4zm10 2zm11 1zm2-3zm1 3zm8 1zm-46 3zm8 10zm9-1zm1-6zm2 5zm10 2zm18 1zm1-6zm-48 12z"/><path stroke="#8aff6d" d="M914 785zm16 6zm-38 6zm1 6zm0-10zm8 9zm1-1zm16-2zm1-2zm1-1zm11-2zm-12 13zm-37 12zm1 5zm29 2zm7 1zm-31 10zm2-2zm23 3zm0-6zm-3 11zm4-1zm2 7zm8-9zm20 38z"/><path stroke="#a7ff50" d="M889 800zm10-2zm1-3zm8 4zm0-1zm15 1zm2-6zm-35 14zm14-2zm13 6zm2-7zm2 10zm-34 13zm6-10zm6 9zm27-6zm-27 8zm25 1zm-30 12zm26 1zm-12 12zm7 13z"/><path stroke="#ff6400" d="M911 800zm-5 11zm13 30z"/><path stroke="#0001ff" d="M909 755zm34 0zm-51 9zm41-6zm0-2zm5 6zm-34 15zm0-2zm13 1zm1 0zm6-2zm16 1zm2 2zm10 0zm-46 5zm26 7zm26-9zm-41 82zm6 11zm19-8zm-61 15zm20 5zm7 1zm2-5zm-24 9zm2-1zm9 2z"/><path stroke="#50ffa7" d="M902 791zm38-10zm-50 14zm1 1zm15-1zm0-1zm6 7zm2-4zm0 6zm7-11zm9 7zm6-1zm-37 7zm4 5zm19-4zm0 3zm2 2zm-48 16zm8-8zm2 8zm1-10zm15 1zm6 9zm4-10zm-24 21zm2-5zm5 6zm1-2zm31 1zm0-6zm-41 9zm2-1zm24 6zm4-2zm0 6zm5-7zm7 4zm-13 7zm13 9zm0-3zm-40 11zm15 0zm17 0zm11 2zm1-9zm1 1zm35 10z"/><path stroke="#ff8600" d="M891 820zm18 0zm16 1zm3 1z"/><path stroke="#000092" d="M894 743zm22 8zm3 1zm20-6zm2 8zm-49 12zm1-4zm2 1zm2 0zm4 1zm2-3zm5-4zm4 5zm1 0zm0 3zm12-5zm14-4zm-38 20zm26-2zm9-4zm-52 120zm6 0zm0-2zm26 1zm3 0z"/><path stroke="#ffc800" d="M908 814zm-12 35z"/><path stroke="#0000e3" d="M927 748zm15 1zm18-3zm2 6zm-79 11zm10-2zm3 5zm9-2zm6 1zm1-3zm17-6zm2 7zm5-6zm9 7zm10 3zm66-7zm-134 19zm5-1zm2-4zm1-2zm2 2zm10-1zm3-2zm9 2zm2 2zm4-1zm6 3zm4-8zm12 0zm2 9zm-38 5zm23-3zm-51 105zm30 0zm-5 3z"/><path stroke="#0024ff" d="M888 753zm6 2zm10-5zm6-2zm19 6zm1-3zm2 3zm5 0zm-36 3zm13 8zm31-2zm-45 14zm7-3zm1 5zm8-7zm5-1zm15 1zm8-3zm-50 21zm1-9zm0 6zm2-4zm4 4zm20 2zm1-9zm-54 37zm2 5zm8 52zm23-10zm23 2zm-35 21zm3-4zm9 3zm8-7zm0-1zm4 9zm10-5zm42 4zm-76 3zm6 0z"/><path stroke="#ffa700" d="M900 817zm14 20z"/><path stroke="#16ffe1" d="M898 784zm8 7zm14-6zm-45 17zm18-6zm7-2zm12 5zm6-7zm12 1zm-52 20zm23-5zm1-4zm13 9zm10-9zm0 10zm5-9zm6 6zm-51 11zm49 4zm-55 11zm12-4zm28-1zm-35 19zm12-7zm7-4zm-23 22zm11-10zm16 1zm17 0zm-22 22zm2-9zm11 2zm2 7zm0-5zm10-3zm-19 9zm0 12z"/><path stroke="#0091ff" d="M977 764zm-68 5zm6 10zm18 0zm7-4zm3 3zm3-3zm-62 8zm9 2zm5 0zm32-3zm-44 16zm3-3zm38 2zm3 4zm-47 4zm3 5zm2-3zm-9 17zm-2 8zm17 6zm-12 4zm6 4zm-4 17zm6-6zm2-1zm5-2zm12-2zm20 6zm-45 8zm9 4zm4-1zm1-1zm1 4zm2-2zm5-6zm8 9zm12-5zm0 3zm78 0zm-102 8zm33 5zm-18 4z"/><path stroke="#e4ff13" d="M905 808zm2 7zm9-2zm-18 8zm7 0zm9-4zm14 40z"/><path stroke="#c4ff33" d="M897 797zm11 11zm6-3zm4 3zm-25 15zm16-2zm4-4zm-22 22zm15-5zm15-2z"/><path stroke="#ffea00" d="M907 803zm5 12zm9-1zm-36 2zm10 10zm11-5zm0-5zm12 7z"/><path stroke="#0049ff" d="M934 754zm-37 2zm27 10zm4-7zm1 0zm5 0zm3 2zm2-2zm31 6zm-79 12zm4-7zm23 0zm0 1zm2-3zm3 0zm6 10zm8-5zm1 3zm3 2zm24-9zm-73 12zm11 5zm26-3zm8-1zm8-2zm-4 13zm-68 33zm11 4zm-2 21zm2 2zm3 10zm55-3zm-47 11zm4 4zm7-3zm27-7zm-50 20zm7-4zm0 5zm6-3zm2 0zm33 1zm41-3zm-40 9zm56 2z"/><path stroke="#ff1e00" d="M915 846z"/><path stroke="#00d9ff" d="M910 771zm36-2zm26 8zm-61 14zm35 0zm-55 5zm8 5zm11-7zm4 2zm30-2zm10 0zm-64 15zm2 5zm43-9zm-52 19zm7-3zm11-1zm24-2zm6 0zm-49 19zm2-3zm0 5zm30-5zm4 1zm-40 14zm9-1zm16-2zm31-3zm6 4zm-53 12zm1-3zm13-4zm2 7zm20-4zm6-1zm1 8zm-51 11zm4-9zm5 7zm1 0zm15-7zm4 1zm4 0zm6 1zm3 1zm2-3zm14 4zm3-3zm36 3zm-67 10zm3 2zm0 2zm2-2zm12-3zm1 8zm1-9zm17 0zm-40 12z"/><path stroke="#00b5ff" d="M941 767zm-52 1zm20 2zm35 1zm-59 20zm0 0zm6-8zm26 4zm1-3zm2 5zm-31 7zm3-4zm8 5zm27 1zm4-3zm3-2zm20 4zm-38 26zm8-2zm-47 11zm11 4zm8 0zm26 0zm-44 7zm11 6zm4-1zm23-1zm2-2zm8 1zm-47 8zm3 7zm8-8zm3 3zm3-4zm7 4zm5 5zm1-1zm3-4zm13-3zm-42 13zm7-1zm7 9zm1-3zm5 0zm7 3zm7-3zm5-6zm1 3zm1 5zm5-1zm7-6zm-54 10zm13 3zm7-1zm1 8zm8-5zm11-3zm9 6zm27-2zm-31 6z"/><path stroke="#0000bb" d="M898 753zm21-5zm7 2zm2 3zm-37 14zm2-2zm5 1zm15 0zm0-6zm1-1zm57 6zm4-4zm-94 9zm15 2zm3 3zm10-5zm12 4zm1 4zm3 0zm2-1zm-32 6zm8 0zm-2 103zm-21 2zm6 3zm20-1zm3-2z"/><path stroke="#6dff8a" d="M892 798zm6 3zm8 0zm1 2zm12-1zm17-5zm-50 10zm0-3zm1 4zm10-3zm5 1zm1 8zm4-5zm9 4zm13-1zm1-1zm-50 12zm1 4zm4-3zm6-8zm12 1zm10 10zm12-3zm0 2zm-37 12zm1-3zm7 4zm2-7zm4 1zm3 0zm-12 12zm3 1zm2 2zm3 2zm21-10zm-29 18zm2-2zm4-4zm4 7zm18-2zm3 6zm-17 5zm8 7zm8-10zm6 6zm-6 8z"/><path stroke="#006dff" d="M912 759zm20 5zm1 0zm15-5zm-52 11zm6-1zm25 10zm2-5zm9 2zm4-2zm25-1zm-82 13zm8-3zm12-3zm7 5zm7 1zm3 4zm5-4zm2 0zm3-2zm3 4zm6-8zm-25 12zm-40 35zm12 16zm5 0zm34 1zm-38 16zm6-7zm16 3zm12 0zm4 3zm2-1zm21-3zm1 3zm-73 15zm3-5zm17 6zm0-7zm12 6zm11-2zm8 3zm-43 13zm5-5zm3 4zm1-7zm17 3zm1-6zm6 0zm2 11zm5-10zm27 5zm-57 15z"/><path stroke="#33ffc4" d="M896 787zm1-1zm3 3zm4-3zm22-3zm-30 12zm3 4zm1-5zm1 9zm4-2zm14-3zm9-4zm14 3zm-49 7zm2 0zm7 5zm27 0zm-44 15zm25-6zm7 2zm2 7zm4-10zm1-1zm2 10zm5-5zm-36 18zm4-1zm27-7zm6-1zm-44 10zm6 11zm11-6zm4-2zm7 2zm15 5zm-49 12zm4 1zm28-7zm8-4zm6 11zm-39 6zm18-4zm8 9zm3-2zm3-2zm25-6zm-25 20z"/><path stroke="#ff4300" d="M926 812zm-16 14zm-12 12z"/><path stroke="#6dff8a" d="M899 797zm4-3zm10 20zm3-10zm6 7zm-34 9zm6-1zm1 4zm15 4zm1-1zm12-9zm4 1zm7 3zm-34 16zm21-6zm-26 13zm3 2zm13 1zm1-2zm5-2zm3 6zm-26 12zm4-6zm9 2zm10-4zm0 2zm2-2zm4 2zm-17 20z"/><path stroke="#0000e3" d="M921 750zm10-5zm8 7zm-39 6zm8 8zm11-1zm5-6zm2 5zm22 0zm26-6zm-79 18zm1-6zm6 4zm1 2zm6-4zm8 5zm1 0zm0-9zm9 1zm5 0zm12 8zm-10 3zm-63 50zm15 42zm33 14zm14 4z"/><path stroke="#0001ff" d="M914 748zm8 2zm15-4zm-42 18zm33-2zm0 3zm1-4zm5-5zm-34 16zm7 2zm3-5zm1 8zm8-7zm1 3zm8 5zm17-5zm-49 14zm13-6zm11 1zm21 2zm-68 38zm53 8zm-47 33zm9 22zm9-9zm17 8zm9 2zm-27 6zm4-3zm26 0zm6 0z"/><path stroke="#ff4300" d="M901 813zm-8 14zm19-4zm13-1zm-10 17z"/><path stroke="#c4ff33" d="M906 802zm14 0zm-25 9zm16-6zm2-1zm2 13zm8 6zm-23 6zm15 8zm8 0zm3 2zm2-5z"/><path stroke="#ffc800" d="M922 806zm-16 11z"/><path stroke="#33ffc4" d="M896 791zm2-3zm17 2zm3-3zm1 2zm14-7zm19 5zm-58 15zm7-6zm6-4zm13 7zm6 3zm7 0zm3-8zm-45 20zm20-4zm2-6zm5 2zm8 0zm4 3zm-37 18zm14-3zm7 0zm4-8zm4 1zm6 6zm-46 5zm5 4zm3-4zm1 4zm16-4zm2 7zm15 1zm-44 11zm10 1zm1-2zm4-2zm3 6zm2-6zm2 4zm11-8zm4 3zm5 3zm2-4zm9 7zm-53 7zm14 5zm0-5zm7 7zm9-8zm7 7zm3 1zm22-1zm7-4zm11-4zm-70 17zm13 3zm7 0zm3-2zm6-4zm2 7zm1-1zm35-8zm-69 17zm40 1z"/><path stroke="#0024ff" d="M912 752zm2 11zm21 1zm8 2zm1-3zm30-2zm-64 7zm17 11zm1-4zm17-5zm-28 16zm0-3zm1 5zm5-6zm5 1zm-52 39zm-5 18zm32 24zm-13 23zm2-1zm3-5zm5 0zm11 4zm2 2zm7-6zm13-5zm-49 12zm31 3zm10-2z"/><path stroke="#ffa700" d="M900 813zm-8 3zm6 8z"/><path stroke="#a7ff50" d="M899 788zm-9 9zm2 1zm5 1zm4 0zm3 2zm2-1zm7 1zm-26 11zm19 1zm11 2zm0-11zm-29 17zm7 2zm16-1zm1 4zm-27 10zm6 1zm17-6zm0 7zm1-4zm1-6zm1 6zm11 9zm3-3z"/><path stroke="#000092" d="M892 744zm21 5zm5 4zm9-5zm-34 12zm6 4zm2-5zm0 8zm4-10zm5 8zm5-9zm6 9zm2-8zm12 10zm11-1zm0-4zm-52 10zm7 6zm13-9zm3 6zm2-2zm-51 46zm29 62zm11 5zm3 1zm-19 1zm3 0zm6 1zm3 0zm25 0zm0 0z"/><path stroke="#50ffa7" d="M919 786zm2 5zm-27 4zm1 5zm3-4zm3 5zm6-3zm4 1zm3-6zm9-1zm14 3zm-51 10zm6 5zm11-3zm3 1zm2 4zm7-8zm2 5zm7 1zm-33 7zm12-1zm1 9zm2 2zm14-5zm-37 17zm15 0zm0-11zm3 3zm18 1zm1 6zm-34 12zm21-6zm3 4zm7-7zm3 2zm8 8zm1-5zm2 4zm-39 7zm7 5zm9-6zm15 1zm-49 14zm20 4zm18-4zm10 1zm21-7zm-28 12z"/><path stroke="#e4ff13" d="M892 797zm10 0zm-14 13zm1-4zm1 6zm21-5zm-19 14zm13 2zm15 13z"/><path stroke="#ff6400" d="M900 812zm1 16zm2 9z"/><path stroke="#8aff6d" d="M908 801zm1-3zm3 4zm-25 13zm10-7zm21 6zm7-4zm8 4zm4-6zm-51 14zm19-6zm3 1zm6 4zm15 4zm-40 10zm2-4zm0 7zm5-3zm7-6zm3 0zm1-1zm13 7zm2-1zm-29 13zm3 0zm7-7zm20 5zm0-5zm-22 18z"/><path stroke="#006dff" d="M907 759zm27 7zm3-5zm-46 14zm4-2zm16 2zm5-2zm19-4zm36 7zm-74 11zm8-7zm8 9zm0-5zm6-4zm2 2zm12 7zm3-7zm11 8zm-44 12zm-35 8zm116 6zm-98 21zm-6 7zm1 6zm1-4zm24 3zm-29 7zm0 4zm28 0zm13 3zm9-10zm1 5zm13-5zm-54 17zm18-5zm2-1zm3 1zm40 6zm-62 8zm23 3zm34 1zm-48 5zm4 6zm19-6zm15 1z"/><path stroke="#0049ff" d="M947 751zm-20 14zm6-3zm1 3zm34-1zm1 0zm-71 10zm14-5zm1 8zm2-5zm11 4zm11-4zm8 3zm26-7zm-72 17zm4 1zm2 5zm10-10zm7 1zm0-1zm10 9zm13-3zm18-1zm-88 31zm1 2zm4 7zm-8 6zm8 6zm17 15zm36 7zm-46 9zm-10 13zm29 2zm2 0zm5 0zm5-7zm70 4zm-112 9zm65 1zm64 1z"/><path stroke="#16ffe1" d="M903 777zm56 1zm-66 7zm20 3zm-13 10zm15-5zm5 3zm0 4zm6-7zm-55 22zm15-2zm10-6zm15-2zm15 9zm4-3zm-52 6zm9 5zm36-6zm-43 13zm0 10zm1 0zm2-2zm3-9zm2 3zm16 8zm14-9zm5 9zm-44 11zm4-1zm0-3zm9-2zm7 2zm56-4zm-73 14zm7 5zm0-9zm9 4zm5-1zm8 0zm2 5zm-28 13zm8-3zm5 1zm4 2zm0-3zm11-5zm9 10zm4-4zm-41 10zm13-3zm14-2z"/><path stroke="#00d9ff" d="M956 767zm-33 10zm21-1zm14 2zm9 1zm-61 10zm10-4zm10 1zm8 1zm8 4zm42-6zm-91 11zm2-3zm29 1zm18-2zm-2 15zm-62 9zm3 7zm4 1zm9-1zm28-6zm-45 16zm0 3zm4-5zm8 8zm15-3zm4-4zm2 1zm9 6zm-31 4zm14 4zm6-7zm4 9zm1-3zm1 4zm-14 3zm2 5zm2 3zm5 1zm1 0zm1-2zm19 1zm1-4zm-49 15zm4-5zm3 7zm1 0zm3 0zm1-3zm4 3zm10-8zm6 6zm2-6zm4-1zm5 3zm-38 18zm15-5zm7 1zm23-1z"/><path stroke="#ff8600" d="M908 800zm-12 26zm14 13zm7-2z"/><path stroke="#0091ff" d="M945 765zm18 1zm-40 13zm21-2zm-47 6zm7 2zm1-3zm3 7zm2-4zm1-4zm3 4zm10 2zm2-2zm10 0zm1-1zm19 4zm-73 8zm4 5zm39 0zm-50 11zm9-7zm-9 18zm0-3zm4 0zm1 5zm-2 7zm69 5zm-62 7zm11 2zm38-4zm10 9zm-53 10zm2-5zm12 6zm15-8zm-20 20zm5 1zm16-2zm1-6zm2 1zm0 0zm-42 19zm24-5zm2 3zm2-9zm5 8zm6-1zm10 2zm-21 8z"/><path stroke="#ff1e00" d="M925 811zm-9 33zm12 0z"/><path stroke="#ffea00" d="M914 812zm-13 7zm8 1zm15-4zm-10 12z"/><path stroke="#00b5ff" d="M911 764zm27-4zm-16 14zm7-6zm12 11zm1-5zm7 4zm2-4zm9-5zm5 7zm-76 7zm4 5zm11-2zm3 5zm1-7zm20 7zm17 0zm17-8zm-76 15zm5-1zm26-4zm-38 11zm8 10zm44-10zm6 11zm-58 3zm0-2zm9 1zm-9 22zm2-1zm2-5zm5-5zm1 6zm-17 17zm2-6zm7 4zm11-6zm17 8zm10-3zm5-5zm-40 19zm7-3zm31-1zm2 3zm6-7zm4 7zm-43 7zm6 6zm11-7zm7 2zm2 3zm5 3zm5-8zm20 6zm-68 10zm18 0zm0-6zm2 4zm15 0zm3-5zm1 5z"/><path stroke="#0000bb" d="M894 753zm5 2zm21-1zm12 1zm8-1zm-36 11zm5-4zm13 5zm-30 8zm19 3zm5-8zm7 12zm-47 52zm15 64z"/></g></g><rect x="520.3" y="368.3" width="4.6" height="82.9" fill="url(#jet)"/><path d="M524.9 445.5h2" stroke="#9aa4a8" stroke-width="0.7"/><text x="528.5" y="448.6" font-size="8.8" fill="#4f5d64" text-anchor="start">2</text><path d="M524.9 431.4h2" stroke="#9aa4a8" stroke-width="0.7"/><text x="528.5" y="434.5" font-size="8.8" fill="#4f5d64" text-anchor="start">4</text><path d="M524.9 417.2h2" stroke="#9aa4a8" stroke-width="0.7"/><text x="528.5" y="420.3" font-size="8.8" fill="#4f5d64" text-anchor="start">6</text><path d="M524.9 403.0h2" stroke="#9aa4a8" stroke-width="0.7"/><text x="528.5" y="406.1" font-size="8.8" fill="#4f5d64" text-anchor="start">8</text><path d="M524.9 388.8h2" stroke="#9aa4a8" stroke-width="0.7"/><text x="528.5" y="391.9" font-size="8.8" fill="#4f5d64" text-anchor="start">10</text><path d="M524.9 374.7h2" stroke="#9aa4a8" stroke-width="0.7"/><text x="528.5" y="377.8" font-size="8.8" fill="#4f5d64" text-anchor="start">12</text><text x="15.1" y="315.6" font-size="11.5" fill="#3c3c3c" text-anchor="middle" textLength="37.5" lengthAdjust="spacingAndGlyphs" transform="rotate(-90 15.1 315.6)">PLAND</text><text x="15.7" y="413.5" font-size="11.5" fill="#3c3c3c" text-anchor="middle" textLength="15.4" lengthAdjust="spacingAndGlyphs" transform="rotate(-90 15.7 413.5)">LSI</text><text x="291.3" y="235.3" font-size="14.5" fill="#262626" text-anchor="middle">(a)</text><text x="291.0" y="480.6" font-size="15.0" fill="#262626" text-anchor="middle">(b)</text></svg></body></html>
